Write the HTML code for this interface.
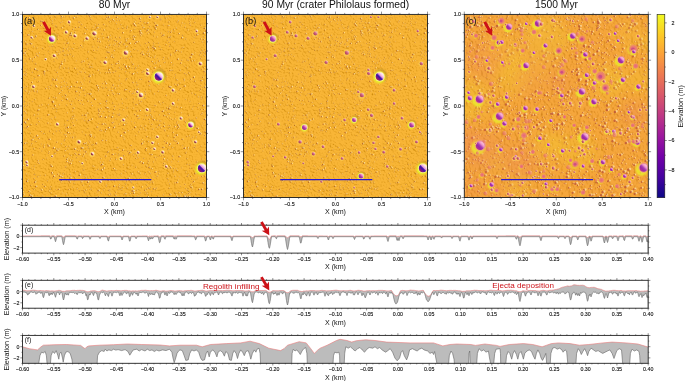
<!DOCTYPE html>
<html lang="en"><head><meta charset="utf-8"><title>Regolith evolution: 80 Myr, 90 Myr, 1500 Myr</title>
<style>html,body{margin:0;padding:0;background:#fff;overflow:hidden}svg{display:block}</style></head>
<body>
<svg width="685" height="381" viewBox="0 0 685 381" font-family='"Liberation Sans", Arial, Helvetica, sans-serif'>
<defs>
<linearGradient id="gA" x1=".12" y1=".88" x2=".88" y2=".12"><stop offset="0" stop-color="#a02a58"/><stop offset=".22" stop-color="#7a1488"/><stop offset=".42" stop-color="#3816a4"/><stop offset=".52" stop-color="#6a38c0"/><stop offset=".6" stop-color="#e094d4"/><stop offset=".78" stop-color="#fad0e8"/><stop offset="1" stop-color="#fff6f8"/></linearGradient>
<linearGradient id="gM" x1=".12" y1=".88" x2=".88" y2=".12"><stop offset="0" stop-color="#8a2050"/><stop offset=".25" stop-color="#8a1c88"/><stop offset=".42" stop-color="#a838a8"/><stop offset=".55" stop-color="#f0a0d0"/><stop offset=".75" stop-color="#fde0ec"/><stop offset="1" stop-color="#ffffff"/></linearGradient>
<linearGradient id="gS" x1=".12" y1=".88" x2=".88" y2=".12"><stop offset="0" stop-color="#7a2a28"/><stop offset=".4" stop-color="#a84858"/><stop offset=".56" stop-color="#f0b8a8"/><stop offset=".8" stop-color="#fff0e0"/><stop offset="1" stop-color="#fffbe8"/></linearGradient>
<linearGradient id="gB" x1=".12" y1=".88" x2=".88" y2=".12"><stop offset="0" stop-color="#8a2888"/><stop offset=".45" stop-color="#b040a8"/><stop offset=".7" stop-color="#f090c0"/><stop offset="1" stop-color="#ffd8e0"/></linearGradient>
<linearGradient id="gBs" x1=".12" y1=".88" x2=".88" y2=".12"><stop offset="0" stop-color="#a03a50"/><stop offset=".5" stop-color="#cc6080"/><stop offset="1" stop-color="#ffd8c8"/></linearGradient>
<linearGradient id="gP" x1=".12" y1=".88" x2=".88" y2=".12"><stop offset="0" stop-color="#c03888"/><stop offset=".3" stop-color="#9c2aa4"/><stop offset=".5" stop-color="#a63eb4"/><stop offset=".72" stop-color="#ec94cc"/><stop offset="1" stop-color="#fdd4dc"/></linearGradient>
<radialGradient id="gK2" cx=".5" cy=".5" r=".5"><stop offset="0" stop-color="#d060b0"/><stop offset=".62" stop-color="#e880b0" stop-opacity=".95"/><stop offset="1" stop-color="#f4a080" stop-opacity="0"/></radialGradient>
<linearGradient id="gCs" x1=".1" y1=".7" x2=".9" y2=".3"><stop offset="0" stop-color="#a83c50"/><stop offset=".5" stop-color="#d86878"/><stop offset="1" stop-color="#ffc8b0"/></linearGradient>
<linearGradient id="gCk" x1=".1" y1=".7" x2=".9" y2=".3"><stop offset="0" stop-color="#dc6a58"/><stop offset=".6" stop-color="#ee8a70"/><stop offset="1" stop-color="#f8b080"/></linearGradient>
<radialGradient id="gK" cx=".5" cy=".5" r=".5"><stop offset="0" stop-color="#e4647e"/><stop offset=".6" stop-color="#ec7c74" stop-opacity=".9"/><stop offset="1" stop-color="#f29a60" stop-opacity="0"/></radialGradient>
<radialGradient id="hY" cx=".5" cy=".5" r=".5"><stop offset="0" stop-color="#eef030"/><stop offset=".62" stop-color="#eaea2c" stop-opacity="1"/><stop offset="1" stop-color="#f4c030" stop-opacity="0"/></radialGradient>
<radialGradient id="hD" cx=".5" cy=".5" r=".5"><stop offset="0" stop-color="#b08a18"/><stop offset=".65" stop-color="#c09420" stop-opacity=".8"/><stop offset="1" stop-color="#d09c28" stop-opacity="0"/></radialGradient>
<radialGradient id="hL" cx=".5" cy=".5" r=".5"><stop offset="0" stop-color="#ffe070"/><stop offset=".6" stop-color="#ffd860" stop-opacity=".8"/><stop offset="1" stop-color="#ffd050" stop-opacity="0"/></radialGradient>
<linearGradient id="cb" x1="0" y1="0" x2="0" y2="1"><stop offset="0.000" stop-color="#f0f921"/><stop offset="0.111" stop-color="#fdca26"/><stop offset="0.222" stop-color="#fb9f3a"/><stop offset="0.333" stop-color="#ed7953"/><stop offset="0.444" stop-color="#d8576b"/><stop offset="0.556" stop-color="#bd3786"/><stop offset="0.667" stop-color="#9c179e"/><stop offset="0.778" stop-color="#7201a8"/><stop offset="0.889" stop-color="#46039f"/><stop offset="1.000" stop-color="#0d0887"/></linearGradient>
<clipPath id="cp0"><rect x="22.5" y="14.4" width="184.0" height="183.1"/></clipPath>
<clipPath id="cp1"><rect x="243.5" y="14.4" width="184.0" height="183.1"/></clipPath>
<clipPath id="cp2"><rect x="464.3" y="14.4" width="184.0" height="183.1"/></clipPath>
<clipPath id="cq0"><rect x="22.5" y="225.2" width="625.7" height="27.900000000000006"/></clipPath>
<clipPath id="cq1"><rect x="22.5" y="280.3" width="625.7" height="27.899999999999977"/></clipPath>
<clipPath id="cq2"><rect x="22.5" y="335.4" width="625.7" height="27.900000000000034"/></clipPath>
<filter id="bl" x="-5%" y="-5%" width="110%" height="110%"><feGaussianBlur stdDeviation=".6"/></filter>
<filter id="bl3" x="-5%" y="-5%" width="110%" height="110%"><feGaussianBlur stdDeviation=".28"/></filter>
<filter id="bl4" x="-5%" y="-5%" width="110%" height="110%"><feGaussianBlur stdDeviation=".55"/></filter>
<filter id="tx2" x="0" y="0" width="1" height="1" color-interpolation-filters="sRGB"><feTurbulence type="fractalNoise" baseFrequency=".4" numOctaves="3" seed="8" result="n"/><feDiffuseLighting in="n" surfaceScale="2" diffuseConstant="1.41" lighting-color="#fff" result="l"><feDistantLight azimuth="160" elevation="45"/></feDiffuseLighting><feComposite in="SourceGraphic" in2="l" operator="arithmetic" k1="0" k2="1" k3=".13" k4="-.13"/></filter>
<filter id="bl2" x="-5%" y="-5%" width="110%" height="110%"><feGaussianBlur stdDeviation="6"/></filter>
<filter id="tx" x="0" y="0" width="1" height="1" color-interpolation-filters="sRGB"><feTurbulence type="fractalNoise" baseFrequency=".95" numOctaves="2" seed="5" result="n"/><feDiffuseLighting in="n" surfaceScale="1.2" diffuseConstant="1.41" lighting-color="#fff" result="l"><feDistantLight azimuth="135" elevation="45"/></feDiffuseLighting><feComposite in="SourceGraphic" in2="l" operator="arithmetic" k1="0" k2="1" k3=".32" k4="-.32"/></filter>
</defs>
<rect width="685" height="381" fill="#fff"/>
<g clip-path="url(#cp0)">
<rect x="22.5" y="14.4" width="184.0" height="183.1" fill="#f9b634" filter="url(#tx)"/>
<g id="dA" fill="none" stroke-linecap="round" filter="url(#bl3)">
<path d="M143 127.6h0M25.5 111.5h0M57.7 58.8h0M199 170.2h0M203.1 87.4h0M57.8 149h0M83.2 68.8h0M182.2 47.9h0M133.8 91.9h0M132.5 68.3h0M149.9 121.8h0M151.7 191.5h0M81.4 198.2h0M103.8 168.6h0M147.5 51.6h0M130 72.5h0M203.4 97.6h0M28.5 174.9h0M168.4 17.8h0M66.4 40.2h0M168.4 181.1h0M194.3 147.2h0M27.9 163.2h0M167.7 40.2h0M115.3 125.7h0M72.3 101.4h0M136.4 184.6h0M88.1 128.3h0M156.4 62.1h0M190.4 192.5h0M148.9 49.1h0M117.4 119h0M204.9 184.9h0M97.3 50.2h0M69.9 88.2h0M58.7 83.4h0M31 185.5h0M106.6 51.8h0M157.8 58.2h0M101 129h0M122.4 27.6h0M40.6 175.3h0M150.4 66.4h0M184.8 66.1h0M205.1 83.4h0M130.2 181.6h0M111.5 55h0M99.4 183h0M80 71.5h0M88.9 140.7h0M175.4 134.6h0M126.5 98.6h0M83.7 166.5h0M176.7 123.4h0M64.4 43.2h0M83.7 90.1h0M138.1 50.7h0M128.3 167.2h0M123.5 28.3h0M115.2 87.3h0M127 180.5h0M77.8 74.1h0M88.3 122h0M184.7 23.5h0M182.7 145.5h0M153.5 50.5h0M68.9 162.1h0M74.1 115.2h0M187.8 196.1h0M193.7 106.3h0M118.5 189.4h0M55.8 42.2h0M71.1 161.2h0M168.4 58.1h0M54.3 61.2h0M62.5 192.9h0M100.8 28.4h0M62.4 78.2h0M73.2 17.7h0M164.5 109.9h0M95.2 58.2h0M50.5 123.9h0M156.2 136.9h0M62.4 21.8h0M65.9 130.7h0M101.4 86.5h0M34.3 88.7h0M82.6 60.9h0M70.9 137.2h0M190.1 21.3h0M200.1 166h0M45.9 25.9h0M41.5 144h0M145.9 56.8h0M194.5 196.3h0M154 36.1h0M44.8 75h0M49.7 46.5h0M44.9 73.9h0M90 62.1h0M55.1 19.2h0M189.3 73.5h0M55.3 33.8h0M87.2 93.6h0M115.6 118.8h0M74.2 132.8h0M181.9 167.7h0M136.3 180.2h0M145.7 93.6h0M108.5 38.1h0M187.9 189.1h0M61.3 82.4h0M95.3 150.8h0M157.2 157.1h0M196.5 179.1h0M200 90.4h0M31.2 90.9h0M31.8 168.1h0M160.6 104h0M97.5 192.1h0M33.2 154.8h0M161.2 121h0M203.7 183h0M145.3 115.2h0M42.1 150.9h0M76.6 60.8h0M165.4 62.1h0M41.5 118.3h0M34 136.9h0M99.5 103.7h0M180.7 186.3h0M198.8 18.7h0M84.4 78.1h0M168.1 113.7h0M34.7 182.6h0M106.2 82.8h0M72.9 187.1h0M56.7 78.3h0M79.2 48h0M37.7 55.3h0M196.4 194.2h0M163.1 88h0M108.3 47.9h0M179.7 176.6h0M171.7 161.7h0M34.6 137.1h0M204 128.9h0M118.9 104.1h0M109.9 190.8h0M163.7 24.8h0M198.4 177.8h0M31.3 145h0M32.8 101.5h0M171 91.6h0M87.6 154h0M88.7 113.2h0M91.6 135.2h0M68.7 47h0M130 31.8h0M181.4 25.8h0M26.6 142.6h0M26.8 69.7h0M131.6 121.5h0M48.6 51.4h0M191.5 138.4h0M154.7 105.1h0M91 75h0M131.7 182.6h0M162.7 147.2h0M174.6 41.5h0M92.8 30.2h0M140.5 45.2h0M121.3 83.4h0M58.3 76.1h0M122.4 187.2h0M152.8 181.4h0M46.9 158h0M85.2 14.5h0M205.1 131.6h0M146.8 192.4h0M180.3 82.8h0M28.2 44h0M174.4 77.7h0M88.5 198.2h0M111.6 38.6h0M186.5 152.1h0M61.1 132.7h0M44.5 31.9h0M89.8 82.2h0M202 125.7h0M68.9 72.3h0M92.3 35.8h0M140.1 178.4h0M73.9 148.5h0M58 36.4h0M168.5 125.3h0M182.4 120h0M174.6 31.3h0M22.9 115.1h0M120.8 121.3h0M195.2 52.7h0M190.1 101.5h0M82.8 118.6h0M196.1 168.4h0M92.9 46.8h0M155.9 159.8h0M132.2 165.1h0M64.6 25.9h0M126.7 67.8h0M92.2 64h0M77.3 69.1h0M28.1 102.8h0M119.4 18.7h0M173.4 172.2h0M91.8 188.8h0M73 138h0M205.2 71.8h0M82.4 131.9h0M176.5 168.5h0M90.4 132h0M147.9 115.2h0M39.2 121.4h0M41 188.9h0M154.7 111.3h0M27.8 143.1h0M203.4 122.7h0M65.6 55h0M174.9 112.3h0M35 68.6h0M184.7 79.4h0M136.1 135.4h0M74.5 116.1h0M150.4 91h0M61.1 15.1h0M48 70.2h0M198 107.4h0M127.6 89.4h0M107.1 25.9h0M37.3 92.5h0M131.5 62.1h0M60.7 52h0M155.3 55.7h0M124.4 57.7h0M60.1 49.9h0M137 85.1h0M53.2 177.8h0M112.4 67.3h0M197.5 151h0M204.5 17.2h0M173.3 65h0M26.4 44.7h0M73 122.4h0M116.5 47h0M141.5 33.3h0M68.4 157.8h0M46.3 107.7h0M44.5 55.1h0M56.7 26.8h0M110.3 189.3h0M55.5 107.1h0M75.9 136.9h0M87.5 121.2h0M69.3 36.1h0M84.3 80.9h0M98.7 123.4h0M24.1 153.1h0M146.8 31.3h0M55.3 70.2h0M75.5 35.3h0M119.2 153.8h0M40 148.3h0M94.4 166.5h0M102.2 113.6h0M133.4 102.2h0M30.4 68.4h0M94.9 14.7h0M168.9 109.2h0M55.9 189.5h0M116.3 98.9h0M71.8 48.6h0M160.3 124.8h0" stroke="#ffefb4" stroke-width="0.5" opacity="0.85"/>
<path d="M142.6 127.8h0M25 111.7h0M57.3 59h0M198.6 170.4h0M202.7 87.6h0M57.4 149.2h0M82.8 69h0M181.7 48.1h0M133.3 92h0M132 68.5h0M149.5 122h0M151.3 191.6h0M81 198.4h0M103.3 168.7h0M147.1 51.8h0M129.6 72.7h0M203 97.7h0M28.1 175.1h0M167.9 18h0M66 40.4h0M168 181.2h0M193.9 147.4h0M27.5 163.4h0M167.3 40.3h0M114.9 125.8h0M71.8 101.6h0M136 184.7h0M87.7 128.5h0M156 62.2h0M190 192.7h0M148.5 49.3h0M117 119.1h0M204.5 185h0M96.9 50.4h0M69.5 88.4h0M58.2 83.6h0M30.6 185.6h0M106.1 52h0M157.4 58.4h0M100.5 129.2h0M121.9 27.8h0M40.1 175.5h0M150 66.5h0M184.4 66.3h0M204.6 83.6h0M129.8 181.8h0M111.1 55.2h0M99 183.2h0M79.6 71.7h0M88.5 140.9h0M175 134.8h0M126.1 98.8h0M83.3 166.6h0M176.3 123.6h0M64 43.4h0M83.3 90.3h0M137.7 50.9h0M127.8 167.4h0M123.1 28.5h0M114.8 87.5h0M126.6 180.7h0M77.4 74.2h0M87.9 122.2h0M184.2 23.7h0M182.3 145.7h0M153 50.6h0M68.5 162.3h0M73.6 115.3h0M187.3 196.2h0M193.3 106.5h0M118.1 189.6h0M55.4 42.4h0M70.7 161.4h0M167.9 58.3h0M53.9 61.4h0M62.1 193.1h0M100.4 28.6h0M61.9 78.4h0M72.8 17.9h0M164.1 110h0M94.8 58.3h0M50 124h0M155.8 137.1h0M62 22h0M65.5 130.9h0M101 86.7h0M33.9 88.9h0M82.2 61.1h0M70.5 137.4h0M189.6 21.5h0M199.6 166.2h0M45.5 26.1h0M41.1 144.2h0M145.4 57h0M194 196.4h0M153.5 36.3h0M44.4 75.2h0M49.3 46.7h0M44.4 74h0M89.6 62.3h0M54.6 19.4h0M188.8 73.7h0M54.9 34h0M86.8 93.7h0M115.2 119h0M73.7 132.9h0M181.4 167.9h0M135.8 180.4h0M145.3 93.7h0M108.1 38.2h0M187.5 189.2h0M60.8 82.6h0M94.9 151h0M156.8 157.3h0M196.1 179.3h0M199.6 90.5h0M30.8 91.1h0M31.4 168.2h0M160.2 104.2h0M97.1 192.3h0M32.7 155h0M160.8 121.2h0M203.3 183.2h0M144.9 115.3h0M41.6 151.1h0M76.2 61h0M164.9 62.3h0M41.1 118.5h0M33.6 137.1h0M99.1 103.9h0M180.3 186.5h0M198.4 18.9h0M84 78.3h0M167.7 113.9h0M34.3 182.8h0M105.8 83h0M72.5 187.2h0M56.3 78.4h0M78.8 48.1h0M37.3 55.5h0M196 194.4h0M162.6 88.2h0M107.9 48.1h0M179.2 176.8h0M171.2 161.9h0M34.2 137.3h0M203.5 129.1h0M118.4 104.3h0M109.5 191h0M163.2 25h0M197.9 178h0M30.8 145.2h0M32.4 101.6h0M170.6 91.8h0M87.2 154.1h0M88.2 113.4h0M91.2 135.4h0M68.2 47.2h0M129.6 32h0M180.9 26h0M26.1 142.7h0M26.4 69.9h0M131.2 121.7h0M48.1 51.6h0M191.1 138.6h0M154.3 105.3h0M90.6 75.2h0M131.3 182.8h0M162.3 147.4h0M174.1 41.7h0M92.4 30.4h0M140.1 45.4h0M120.8 83.6h0M57.9 76.3h0M122 187.4h0M152.3 181.6h0M46.5 158.1h0M84.7 14.7h0M204.7 131.8h0M146.4 192.6h0M179.8 83h0M27.8 44.2h0M173.9 77.9h0M88 198.4h0M111.1 38.8h0M186.1 152.3h0M60.6 132.8h0M44 32.1h0M89.4 82.4h0M201.6 125.9h0M68.5 72.5h0M91.9 36h0M139.7 178.6h0M73.5 148.6h0M57.5 36.6h0M168 125.4h0M182 120.2h0M174.1 31.5h0M22.5 115.3h0M120.3 121.5h0M194.7 52.9h0M189.7 101.7h0M82.3 118.8h0M195.7 168.6h0M92.5 46.9h0M155.5 160h0M131.8 165.3h0M64.1 26.1h0M126.3 68h0M91.8 64.2h0M76.9 69.3h0M27.7 102.9h0M119 18.9h0M173 172.4h0M91.3 189h0M72.6 138.2h0M204.8 72h0M82 132.1h0M176.1 168.6h0M89.9 132.2h0M147.5 115.4h0M38.8 121.5h0M40.5 189.1h0M154.3 111.5h0M27.4 143.3h0M203 122.9h0M65.2 55.2h0M174.5 112.5h0M34.6 68.8h0M184.3 79.6h0M135.6 135.6h0M74.1 116.3h0M150 91.2h0M60.7 15.3h0M47.5 70.4h0M197.5 107.6h0M127.1 89.6h0M106.7 26.1h0M36.9 92.7h0M131.1 62.2h0M60.3 52.2h0M154.8 55.9h0M124 57.9h0M59.7 50.1h0M136.6 85.3h0M52.7 178h0M112 67.5h0M197.1 151.2h0M204.1 17.3h0M172.9 65.2h0M25.9 44.9h0M72.6 122.6h0M116.1 47.2h0M141 33.4h0M68 158h0M45.9 107.9h0M44 55.3h0M56.3 27h0M109.9 189.5h0M55.1 107.3h0M75.5 137.1h0M87 121.3h0M68.9 36.3h0M83.9 81.1h0M98.3 123.6h0M23.7 153.3h0M146.4 31.5h0M54.9 70.4h0M75.1 35.5h0M118.8 153.9h0M39.6 148.5h0M93.9 166.7h0M101.8 113.8h0M132.9 102.4h0M30 68.6h0M94.5 14.8h0M168.5 109.4h0M55.4 189.6h0M115.8 99.1h0M71.4 48.8h0M159.9 125h0" stroke="#a04c1c" stroke-width="0.5" opacity="0.75"/>
<path d="M108.5 107.7h0M56.8 108.5h0M168.6 31.6h0M118.3 132.1h0M144.6 98.5h0M153 72.3h0M96.4 170.1h0M61.3 181.8h0M138.6 157.5h0M162.2 36h0M55.5 117.2h0M141.2 35.7h0M39.3 121.5h0M133.4 82.7h0M199.3 103.3h0M189.9 164.8h0M29.9 191.4h0M155.3 27h0M125.7 171.1h0M74.3 183.1h0M25.8 63.8h0M33.9 46.7h0M128 38.5h0M186.7 194.7h0M188.5 174.6h0M168.2 173.2h0M137.8 84.6h0M134.8 29h0M94.3 149.5h0M160.8 19.8h0M69.8 16.4h0M189.4 135.7h0M186.9 74.4h0M191 176.3h0M153.6 189.1h0M53.9 97.2h0M62.2 90.4h0M153.1 119.3h0M138.6 96.4h0M148.7 51h0M55.6 16.3h0M154.1 47.3h0M86.4 142.6h0M135.8 153.4h0M169.4 188h0M86.9 29.5h0M124 155.6h0M169.9 46.1h0M149.6 188.3h0M197.4 30.1h0M125.8 71.6h0M178.3 180h0M179.3 192.5h0M128.2 51.3h0M201.1 109.2h0M170.2 117.9h0M149.9 26.4h0M110.4 72.7h0M166.1 18.5h0M64.6 140.7h0M157.3 36.9h0M68.9 50.7h0M103.1 83.4h0M120.1 43.7h0M138.9 131.8h0M188.8 72.4h0M186 38.9h0M26.1 51.2h0M115.8 153.8h0M42.3 21.2h0M34.2 189.4h0M163.5 74.4h0M117.6 93.4h0M138.6 88.7h0M165.9 164.2h0M163.9 155.1h0M155.7 27.3h0M109 16.2h0M140.3 129.1h0M196.6 136.9h0M144.2 119.1h0M94.5 198.3h0M68.9 180.9h0M116.2 192.2h0M109.6 45.4h0M100.2 111.2h0M90.1 66.9h0M77.2 16.9h0M36.3 180.9h0M110.6 193.4h0M133.9 35.5h0M119.9 37.2h0M145.6 98.1h0M187.1 158.6h0M126.7 123.1h0M161.3 49.2h0M30 25.5h0M147.2 115.6h0M91.4 102.4h0M137.5 155.8h0M192.2 93h0M38 118.1h0M36.8 53.5h0M88.6 147.9h0M44.4 144.8h0M103.3 162.1h0M187.4 60h0M90 81.1h0M94.1 50.2h0M117.7 114.4h0M188.2 29.9h0M49.3 151.5h0M118.7 155h0M85 192.4h0M153.1 182.7h0M199 132.1h0M153.4 161.9h0M60.3 92.5h0M201.2 25.2h0M55.8 25.8h0M42.7 48.3h0M66.1 146.3h0M63.9 48.3h0M54.5 153.7h0M123.6 164.6h0M197.1 161.8h0M119.8 109.2h0M204.9 135.3h0M24.7 101.3h0M169.4 145.5h0M51.7 43.2h0M70.5 174.2h0M139.9 197h0M174 29.5h0M154.6 32.2h0M109 190.1h0M174.8 52.6h0M92.1 144.9h0M205.2 161.4h0M136.1 67.7h0M122.1 69.2h0M94.9 137h0M59.5 148.9h0M48.7 31.6h0M153.1 47.4h0M101.4 108.4h0M163.9 165.4h0M168.1 135.8h0M26.2 75.2h0M142.5 33.9h0M188.9 115.2h0M83.3 185.2h0M47.7 180.6h0M125.9 117.4h0M75.8 179.4h0M144 70.9h0M158.5 84.5h0M170.6 17.3h0M108.9 40.6h0M127.6 46.2h0M71.3 118.8h0M140.9 21.2h0M49.4 190.8h0M109.3 90h0M180.1 89.6h0M126.9 180.9h0M188.4 149h0M161.1 70.4h0M35.6 37.2h0M150.6 111.1h0M79.1 87.1h0M145.2 173.7h0M168.6 37.1h0M197.7 14.4h0M187.5 164.3h0M28.5 179.6h0M109.7 52.3h0M192.5 179.3h0M176.9 79.5h0M59.9 130.7h0M150.8 186.8h0M37.3 55.4h0M131.3 56.4h0M193.3 137h0M103.8 111.5h0M31.1 124.6h0M75.2 153.3h0M107.7 152.4h0M125 133h0M143.9 158.4h0M166.2 44.7h0M167.5 159.9h0M112.8 55h0M114.6 20.8h0M114 94.3h0M189.7 119h0M80 22.1h0M137 111h0M34 89.9h0M48.8 86.6h0M65.1 60.9h0M135.2 21.6h0M142.3 25.1h0M150.6 173.3h0M185.8 99.4h0M123.8 44.5h0M62.2 100.4h0M105.1 197h0M181.5 51.9h0M36.1 141.5h0M154.3 63.7h0M51 186.6h0M26.5 73.6h0M38 176.7h0M80.2 92.3h0M47.8 144.3h0M64.3 68h0M202.3 69.1h0M93.3 74.7h0M74.2 43.5h0M110.2 44.9h0M66.9 31.4h0M100.5 42h0M27 86.3h0M113.9 122.1h0M86.6 178.4h0M164.7 129.7h0M98.4 90.8h0M175.4 176.2h0M116 71.1h0M202.5 41.9h0M64.8 139.5h0M22.9 114.4h0M66.8 105.1h0M123.6 129.2h0M175.7 192.6h0M86.5 177.4h0M137.2 104.6h0M121 57.9h0M82.6 47h0M105.9 156.4h0M32.6 61h0M69.1 146h0M175.2 118.7h0M170.2 37.3h0M99.9 130.5h0M122.6 103.2h0M75 86.3h0M163.6 194.8h0M194.5 60.5h0M126.9 40.7h0M73.2 56.2h0M34.6 178.5h0M37.2 47.9h0M95.6 24.9h0M143.6 128.9h0M44.6 28h0M161.4 71.3h0M168.5 149.6h0M96.7 144.1h0M190.2 18.6h0M64.6 85.8h0M143.6 163.5h0M140.1 79.4h0M84.3 150.8h0M159.6 114.8h0M115.2 88.5h0M121.6 189.5h0M42.7 196h0M199.9 54.7h0M152.6 47h0M147.3 188.7h0M50 131.1h0M141.3 53.3h0M186.1 171.8h0M176.9 141.2h0M145.2 91.5h0M65.1 124.8h0M117.6 20.2h0M105 123.5h0M194.2 42.2h0M205.4 150.1h0M158.3 196.3h0M68.9 162.8h0M121.4 173.6h0M124.9 159.1h0M169.3 42.2h0M41.2 21.1h0M204.6 52.3h0M184 148.2h0M85.3 72.3h0M195.9 126.5h0M158.2 80.6h0M97.9 41.2h0M100.9 165.2h0M86.5 143.8h0M75.5 171.5h0M106.5 186.1h0M159.5 124.9h0M34.5 91.4h0M103.9 189.9h0M150.6 138h0M69 91.7h0M173.8 170.7h0M39 81.2h0M155.8 137.4h0M139.2 100.6h0M108.3 72.4h0M35 99.3h0M53.5 133.7h0M87.4 112.9h0M43.2 159.5h0M116.1 37.2h0M46.6 30.5h0M76.8 157.4h0M98.9 24.3h0M105.9 117h0M51.3 192.8h0M153.9 43.1h0M28 34.6h0M83.3 104.2h0M185.9 188.4h0M114.9 180.6h0M77.8 150.3h0M90.4 93.3h0M88.7 93.5h0M119.9 115h0M63.7 32.5h0M80.6 103.4h0M131.9 191.1h0M132.8 82.2h0M134.8 122.8h0M32.5 31.4h0M72.5 160.7h0M181 88.3h0M175.7 74.7h0M173.6 159.3h0M158.4 91.2h0M92.3 96.7h0M125.8 184h0M45.5 175.1h0M28.5 93.8h0M146.8 185.1h0M130.5 51.5h0M52.9 78.6h0M118.5 85.8h0M177.8 80.2h0M111.1 194.7h0M151.1 57.3h0M157.1 120.1h0M34.6 166.1h0M154.6 93.9h0M106.6 103.9h0M161.3 33.1h0M127.3 115.8h0M63 51h0M156.5 63h0M26.5 113.1h0M112 64.5h0M65.7 97.6h0M156.9 187.9h0M126.9 78.5h0M118.7 28.5h0M56.7 111.2h0M126 39.1h0M175.4 141h0M202.2 167.6h0M164.5 62.5h0M119.6 76h0M55.1 41.9h0M110.9 158.5h0M66.6 134.7h0M56.7 57h0M83.5 147.9h0M163.2 59.3h0M99 196.4h0M92.6 67.1h0M25.3 106.1h0M58.3 39.2h0M119.7 113.7h0M115.4 43.8h0M201.7 98.9h0M178.4 99.9h0M61.7 17.9h0M169.9 106.1h0M78.7 21.9h0M136.6 82.3h0M137.5 72.6h0M185.4 121.2h0M122.1 99h0M116.4 195.5h0M54.2 147.4h0M86.6 117.2h0M192.5 108.9h0M23 105.7h0M128.4 130.6h0M39.3 105.8h0M140.7 192.8h0M69.6 180.4h0M112.9 103h0M177.5 106.9h0M172.6 70.1h0M192 18.5h0M85.9 160h0M190.4 185.9h0M203.5 174.6h0M127.5 187.9h0M113.3 85h0M150.5 109.2h0M73 48.7h0M149 187.7h0M193.3 182h0M165.2 75.6h0M181.5 112.8h0M159.7 60.3h0M129.6 58.7h0M35.6 23.9h0M119.8 188.9h0M99 89.1h0M188.8 60.5h0M206.2 111.4h0M141.9 144.2h0M102.3 33.9h0M103.3 37.8h0M128.2 151.2h0M142.3 139.6h0M36.2 86.2h0M112.3 122.5h0M203.7 36.4h0M63.4 173.6h0M105.3 81.6h0M106.2 72.3h0M202.4 158.9h0M146.2 150.6h0M156 189h0M145.9 94.3h0M64.4 156h0M70.5 127.2h0M96 197.1h0M190.7 25.3h0M173.9 168.4h0M160.1 120.8h0M152.5 117.6h0M73.3 118.6h0M113.9 45h0M187.1 136.3h0M134.2 99h0M175.2 84.3h0M84.7 175.9h0M110 72h0M172.3 119.2h0M204.3 55.4h0M85.5 95.3h0M175.1 182.7h0M64.4 81.3h0M34.3 169.1h0M87.8 195.5h0M82.1 100.3h0M126 79.8h0M68.5 68.1h0M25.8 71.4h0M109 108.5h0M186 153h0M144.1 141.7h0M98.8 86h0M109 111.6h0M167.8 178.5h0M169.3 128.4h0M106.4 87.4h0M176.5 28h0M201.4 114.3h0M79.8 172.9h0M25.2 41.6h0M140.5 34.6h0M108.2 179.9h0M62.7 96.5h0M84.8 120.6h0M26.1 54.8h0M84.2 190.5h0M41.4 131.5h0M56.7 131.1h0M194.9 22.3h0M93.2 165.9h0M154.3 48.4h0M200.9 58.4h0M57 57.9h0M146 129.8h0M113.3 85h0M126.7 58.3h0M28.9 49.2h0M29.6 35h0M57.9 34.9h0M127.3 107.8h0M110.1 21.6h0M186.1 122.4h0M93.3 144.6h0M159 173.6h0M49.2 88.6h0M138.4 65.8h0M134.4 49.5h0M180.5 195.9h0M90 142h0M179 50.8h0M23.1 74.7h0M154.5 57.1h0M100.2 72.8h0M80.3 150.8h0M200.7 51.6h0M52.6 20.8h0M56.5 148.7h0M40.9 20.9h0M174.5 140.1h0M140.8 19h0M120.6 37.8h0M147.3 193.7h0M165.2 130.7h0M24.7 102h0M133.4 108h0M33.6 38.5h0M76.1 98.1h0M111.8 87.5h0M96.3 28.9h0M50.5 41.7h0M133.5 154.8h0M147 53.6h0M42.9 21.1h0M60.8 22.6h0M192.7 188.8h0M169 21.8h0M181.9 60.1h0M162.5 76.2h0M150.9 148.2h0M174.9 105.6h0M152.1 124.3h0M201.2 89.1h0M91.6 89.8h0M141.8 79.2h0M178.6 161.4h0M178 85.3h0M169.7 183.8h0M69.6 154h0M184.3 79.2h0M59.9 67.8h0M140.3 162h0M106.1 124.5h0M29.2 91.8h0M171.4 30.9h0M40.7 31.3h0M51.5 196.8h0M145.9 43.4h0M79.7 95.1h0M185.4 27.1h0M164.3 123h0M98.7 110.1h0M107.9 61.6h0M42.4 39.6h0M204.4 168h0M87.7 58.6h0M155.2 157.1h0M106.8 100.4h0M31.1 85.5h0M28.7 28.9h0M81 82.1h0M25.5 155.1h0M158.3 70h0M54.2 196.7h0M170.8 36.6h0M104.2 168.7h0M116.6 23.6h0M67.9 148.9h0M98.6 114.8h0M146.9 76.1h0M184.5 80.6h0M167.3 116.7h0M86 152.5h0M156.3 138.3h0M120.9 120.8h0M161.2 127.7h0M189.9 23.4h0M112.7 149.6h0M185.3 15.6h0M119.9 20.5h0M194.7 37.1h0M84.1 89.8h0M64.8 59.3h0M141.1 125.9h0M177.4 22h0M201.5 146.1h0M160.2 155.5h0M72.7 110.9h0M201.4 53.2h0M34 148.7h0M187.2 196.6h0M107.8 52h0M23.4 87.5h0M64.5 55h0M150.7 182.3h0M26.6 173.9h0M157.4 127.2h0M85.2 27.4h0M107.4 17h0M140.3 173.1h0M137.7 195.6h0M107.8 179.4h0M24.8 74.2h0M205.3 87h0M149.8 32.2h0M95.5 37.2h0M100.6 161.9h0M202.6 50.3h0M64.4 16.9h0M187.5 67.9h0M119.2 63.2h0M34.8 78.6h0M51.8 118.6h0M93.6 27.1h0M70.5 54.4h0M134.5 73.1h0M173.4 105.6h0M119.6 184.5h0M83.4 156.2h0M98.8 111.1h0M75.6 177.8h0M164.6 81.8h0M52.8 23.3h0M137.2 190.1h0M28 105.1h0M90.5 189.3h0M32 143.5h0M191.3 184.2h0M88.3 51.8h0M121.1 24.6h0M23.4 116.2h0M63.9 50.9h0M38.2 162.1h0M110.5 35.3h0M48 38.9h0M148.2 163.1h0M171 54h0M33.1 154.9h0M204.3 67.6h0M185.1 184.3h0M136.3 26h0M127.5 26.3h0M158.8 171.3h0M124.6 43.7h0M177.3 121.9h0M139.1 23.1h0M51.1 17.1h0M160.3 65.8h0M76 154.1h0M86.4 189.8h0M70.1 133.3h0M43.6 21.6h0M48.9 153.2h0M176.4 194.7h0M194.9 128.8h0M82.4 84.1h0M123.4 109.6h0M124.5 139.1h0M76.7 120h0M38.4 56.2h0M119.1 45.9h0M133.2 129.2h0M135.5 68.7h0M130.5 193.6h0M123.7 155.6h0M136.1 158.3h0M159.3 125.4h0M123.7 137h0M101.5 192.8h0M53.4 108.4h0M153.8 45.6h0M105.3 131.6h0M52.9 79.8h0M182.8 35.3h0M133 64.2h0M182.4 22.8h0M65.4 94.8h0M133.5 64h0M66.4 194h0M103.1 140.1h0M103.5 88.1h0M119 115.1h0M32.6 72.3h0M131.5 181.8h0M66.9 82.8h0M43 184.3h0M67.2 48.8h0M84.1 197.6h0M38.2 114.1h0M71.2 155.4h0M137.2 96.2h0M106 155.7h0M96.3 37.1h0M192.3 140.9h0M119.4 79.9h0M165 15.5h0M69.4 88.5h0M101 158.5h0M42.1 104.8h0M77.6 188.7h0M158.7 43h0M163.9 57.4h0M170 125.4h0M119.3 124h0M139.8 118h0M98.4 169.2h0M164.9 141.2h0M68.4 33.1h0M68.4 127h0M134.5 93.3h0M81.4 72h0M201.6 96.8h0M99.7 116.8h0M89.7 16.2h0M70 25.1h0M130.6 145.5h0M195.2 147.2h0M183.5 47.4h0M138.4 171.5h0M69.8 100.9h0M119.4 150h0M188.8 126.2h0M75.4 179.7h0M51.4 85.2h0M87.9 145.3h0M89.8 74.6h0M139.2 41.4h0M66 127.8h0M198.6 96.9h0M79.8 190.5h0M67.5 112.7h0M195.8 29h0M48.5 104.6h0M167.2 107.4h0M140.9 95.8h0M163.1 102.5h0M166.5 110.1h0M122.9 187.4h0M148.2 33.6h0M135.2 89.5h0M85.9 134.8h0M112.9 93h0M200.9 85.6h0M161.6 19h0M136 104.5h0M98.5 47.2h0M136 167.1h0M30.4 133.1h0M69.1 189.4h0M106.8 184.9h0" stroke="#ffefb4" stroke-width="0.75" opacity="0.85"/>
<path d="M107.9 108h0M56.2 108.7h0M168.2 31.8h0M117.8 132.3h0M144.2 98.6h0M152.5 72.5h0M95.9 170.3h0M60.8 182h0M138.1 157.7h0M161.7 36.2h0M54.9 117.4h0M140.7 35.9h0M38.9 121.7h0M132.9 82.9h0M198.7 103.5h0M189.4 165h0M29.4 191.6h0M154.8 27.2h0M125.1 171.4h0M73.8 183.3h0M25.3 64h0M33.4 46.9h0M127.5 38.7h0M186.1 194.9h0M188 174.8h0M167.7 173.4h0M137.2 84.9h0M134.2 29.3h0M93.7 149.8h0M160.2 20h0M69.3 16.6h0M188.9 135.9h0M186.3 74.7h0M190.5 176.5h0M153.1 189.3h0M53.4 97.4h0M61.6 90.7h0M152.6 119.5h0M138 96.7h0M148.2 51.2h0M55.1 16.5h0M153.7 47.5h0M85.8 142.8h0M135.3 153.6h0M168.8 188.3h0M86.4 29.7h0M123.5 155.9h0M169.4 46.3h0M149.1 188.5h0M196.9 30.3h0M125.3 71.9h0M177.8 180.2h0M178.8 192.7h0M127.7 51.5h0M200.6 109.5h0M169.6 118.1h0M149.4 26.6h0M110 72.9h0M165.7 18.7h0M64.1 140.9h0M156.7 37.1h0M68.3 50.9h0M102.6 83.6h0M119.7 43.9h0M138.4 132h0M188.4 72.6h0M185.6 39.1h0M25.5 51.5h0M115.3 154h0M41.8 21.4h0M33.6 189.6h0M162.9 74.6h0M117 93.7h0M138 89h0M165.4 164.4h0M163.4 155.3h0M155.2 27.5h0M108.5 16.5h0M139.8 129.3h0M196.1 137.1h0M143.6 119.3h0M93.9 198.5h0M68.4 181.2h0M115.7 192.5h0M109 45.6h0M99.6 111.4h0M89.5 67.1h0M76.7 17.1h0M35.8 181.1h0M110.1 193.6h0M133.3 35.7h0M119.4 37.4h0M145.2 98.3h0M186.5 158.8h0M126.1 123.4h0M160.9 49.4h0M29.5 25.7h0M146.6 115.8h0M90.9 102.5h0M137 155.9h0M191.7 93.2h0M37.5 118.3h0M36.2 53.8h0M88.1 148.1h0M43.8 145h0M102.9 162.3h0M186.9 60.2h0M89.5 81.4h0M93.5 50.4h0M117.1 114.6h0M187.6 30.1h0M48.7 151.8h0M118.2 155.2h0M84.3 192.7h0M152.5 182.9h0M198.5 132.3h0M152.9 162.1h0M59.9 92.7h0M200.7 25.4h0M55.3 26h0M42.3 48.5h0M65.5 146.5h0M63.5 48.5h0M54 153.9h0M123.1 164.9h0M196.6 162h0M119.3 109.4h0M204.5 135.5h0M24.3 101.5h0M168.8 145.8h0M51.2 43.4h0M70 174.5h0M139.5 197.2h0M173.5 29.7h0M154.1 32.4h0M108.4 190.3h0M174.3 52.9h0M91.7 145.1h0M204.7 161.6h0M135.6 67.9h0M121.6 69.4h0M94.4 137.2h0M59 149.1h0M48.1 31.9h0M152.6 47.6h0M100.8 108.7h0M163.4 165.6h0M167.5 136h0M25.7 75.4h0M142 34.1h0M188.4 115.4h0M82.8 185.4h0M47.2 180.9h0M125.4 117.6h0M75.4 179.5h0M143.3 71.1h0M157.9 84.7h0M170.2 17.5h0M108.4 40.8h0M127 46.5h0M70.8 119h0M140.3 21.5h0M48.8 191h0M108.7 90.2h0M179.6 89.8h0M126.4 181.1h0M187.8 149.2h0M160.6 70.6h0M35.1 37.4h0M150.1 111.3h0M78.6 87.3h0M144.7 173.9h0M168 37.3h0M197.2 14.6h0M187 164.5h0M28 179.8h0M109.2 52.5h0M192 179.5h0M176.4 79.7h0M59.4 130.9h0M150.3 187.1h0M36.8 55.6h0M130.8 56.6h0M192.8 137.2h0M103.2 111.7h0M30.6 124.8h0M74.7 153.5h0M107.2 152.6h0M124.6 133.2h0M143.3 158.6h0M165.7 44.9h0M167 160.1h0M112.2 55.2h0M114 21h0M113.5 94.5h0M189.2 119.2h0M79.5 22.3h0M136.6 111.2h0M33.5 90.1h0M48.3 86.8h0M64.5 61.1h0M134.7 21.8h0M141.8 25.3h0M150 173.6h0M185.3 99.6h0M123.4 44.6h0M61.7 100.6h0M104.5 197.3h0M181 52.1h0M35.6 141.7h0M153.9 63.9h0M50.5 186.8h0M26 73.8h0M37.6 176.9h0M79.7 92.5h0M47.3 144.5h0M63.8 68.2h0M201.7 69.4h0M92.8 74.9h0M73.7 43.7h0M109.6 45.2h0M66.4 31.6h0M99.9 42.3h0M26.5 86.5h0M113.4 122.3h0M86.1 178.6h0M164.2 130h0M97.9 91h0M174.9 176.4h0M115.6 71.3h0M202 42.1h0M64.3 139.6h0M22.4 114.6h0M66.2 105.4h0M123.1 129.4h0M175.2 192.8h0M86 177.6h0M136.6 104.8h0M120.5 58.1h0M82 47.2h0M105.3 156.6h0M32.1 61.2h0M68.6 146.2h0M174.7 118.9h0M169.7 37.5h0M99.4 130.7h0M122.1 103.4h0M74.4 86.6h0M163.1 195h0M194 60.8h0M126.3 41h0M72.7 56.4h0M34.1 178.7h0M36.7 48.1h0M95.1 25.1h0M143.1 129.1h0M44.1 28.2h0M160.9 71.6h0M168 149.8h0M96.3 144.3h0M189.6 18.8h0M64.1 86h0M143.1 163.7h0M139.7 79.6h0M83.9 151h0M158.9 115h0M114.7 88.7h0M121.1 189.7h0M42.2 196.2h0M199.4 54.9h0M152.2 47.2h0M146.9 188.9h0M49.5 131.3h0M140.7 53.6h0M185.5 172.1h0M176.3 141.4h0M144.7 91.7h0M64.5 125h0M117 20.4h0M104.4 123.7h0M193.7 42.5h0M204.9 150.3h0M157.8 196.6h0M68.4 163h0M121 173.8h0M124.4 159.3h0M168.9 42.4h0M40.7 21.3h0M204 52.6h0M183.6 148.4h0M84.7 72.5h0M195.4 126.7h0M157.7 80.8h0M97.3 41.4h0M100.4 165.4h0M86 144h0M74.9 171.8h0M106 186.3h0M159 125.1h0M34.1 91.6h0M103.4 190.1h0M150.1 138.2h0M68.6 91.9h0M173.2 171h0M38.5 81.4h0M155.3 137.6h0M138.7 100.8h0M107.7 72.7h0M34.5 99.6h0M52.9 133.9h0M86.8 113.1h0M42.7 159.7h0M115.6 37.4h0M46.1 30.8h0M76.4 157.6h0M98.4 24.5h0M105.4 117.2h0M50.7 193.1h0M153.3 43.3h0M27.5 34.8h0M82.7 104.5h0M185.4 188.7h0M114.4 180.8h0M77.3 150.5h0M89.9 93.5h0M88.2 93.7h0M119.4 115.3h0M63.2 32.8h0M80.1 103.6h0M131.4 191.3h0M132.3 82.4h0M134.4 123h0M32 31.6h0M71.9 160.9h0M180.5 88.5h0M175.3 74.9h0M173 159.6h0M157.8 91.5h0M91.8 96.9h0M125.4 184.2h0M44.9 175.3h0M28 94h0M146.3 185.3h0M130 51.7h0M52.4 78.9h0M117.9 86h0M177.2 80.4h0M110.7 194.9h0M150.6 57.5h0M156.7 120.3h0M34.1 166.3h0M154 94.1h0M106.1 104.1h0M160.8 33.3h0M126.8 116h0M62.4 51.2h0M156 63.2h0M26 113.3h0M111.5 64.7h0M65.2 97.8h0M156.4 188.1h0M126.4 78.7h0M118.1 28.7h0M56.2 111.4h0M125.6 39.3h0M174.9 141.2h0M201.7 167.8h0M163.9 62.8h0M119 76.2h0M54.6 42.1h0M110.4 158.7h0M66.1 134.9h0M56.2 57.2h0M82.8 148.2h0M162.8 59.5h0M98.5 196.6h0M92 67.3h0M24.8 106.3h0M57.6 39.5h0M119.2 113.9h0M115 44h0M201.2 99.1h0M177.9 100.1h0M61.2 18.1h0M169.2 106.4h0M78.3 22.1h0M136.1 82.5h0M137.1 72.8h0M184.9 121.4h0M121.6 99.2h0M115.9 195.7h0M53.7 147.6h0M86.1 117.4h0M192 109.1h0M22.6 105.9h0M127.9 130.8h0M38.8 106.1h0M140.3 193h0M69.1 180.6h0M112.4 103.2h0M177 107.1h0M172.2 70.3h0M191.4 18.7h0M85.3 160.2h0M189.8 186.1h0M203 174.8h0M126.9 188.1h0M112.8 85.2h0M150 109.4h0M72.4 49h0M148.5 187.9h0M192.9 182.2h0M164.7 75.8h0M180.9 113h0M159.3 60.5h0M129.1 58.9h0M35.1 24.1h0M119.2 189.1h0M98.5 89.3h0M188.3 60.7h0M205.8 111.6h0M141.4 144.4h0M101.8 34.1h0M102.8 38h0M127.7 151.4h0M141.7 139.9h0M35.6 86.5h0M111.8 122.7h0M203.3 36.6h0M62.9 173.8h0M104.7 81.8h0M105.6 72.6h0M201.9 159.1h0M145.8 150.8h0M155.4 189.3h0M145.3 94.6h0M63.8 156.3h0M70 127.4h0M95.6 197.3h0M190.2 25.5h0M173.4 168.6h0M159.7 121h0M152 117.8h0M72.7 118.9h0M113.3 45.3h0M186.7 136.5h0M133.7 99.2h0M174.7 84.4h0M84.3 176.1h0M109.4 72.2h0M171.7 119.4h0M203.9 55.6h0M85 95.5h0M174.5 183h0M63.9 81.5h0M33.8 169.3h0M87.2 195.7h0M81.6 100.5h0M125.5 80h0M68.1 68.3h0M25.2 71.6h0M108.6 108.7h0M185.4 153.3h0M143.6 141.9h0M98.3 86.3h0M108.4 111.8h0M167.4 178.7h0M168.8 128.6h0M105.9 87.6h0M176 28.2h0M200.9 114.5h0M79.2 173.1h0M24.7 41.8h0M139.9 34.9h0M107.6 180.2h0M62.1 96.8h0M84.2 120.8h0M25.5 55h0M83.7 190.8h0M40.9 131.7h0M56.1 131.4h0M194.3 22.6h0M92.7 166h0M153.8 48.6h0M200.4 58.6h0M56.6 58.1h0M145.5 130h0M112.8 85.2h0M126.2 58.4h0M28.4 49.4h0M29.1 35.2h0M57.4 35.1h0M126.8 108h0M109.5 21.8h0M185.6 122.6h0M92.8 144.8h0M158.5 173.8h0M48.7 88.8h0M138 66h0M133.9 49.7h0M180 196.1h0M89.5 142.1h0M178.5 51.1h0M22.6 74.9h0M154 57.3h0M99.7 73h0M79.8 151h0M200.1 51.9h0M52.1 21h0M55.9 149h0M40.3 21.1h0M173.9 140.3h0M140.3 19.2h0M120 38.1h0M146.9 193.9h0M164.7 131h0M24.2 102.2h0M132.9 108.3h0M33 38.7h0M75.6 98.4h0M111.3 87.7h0M95.7 29.1h0M50 41.9h0M133 155h0M146.5 53.9h0M42.3 21.4h0M60.2 22.8h0M192.1 189.1h0M168.5 22h0M181.4 60.3h0M162 76.5h0M150.4 148.4h0M174.3 105.8h0M151.5 124.5h0M200.6 89.4h0M91.1 90h0M141.4 79.4h0M178 161.7h0M177.4 85.6h0M169.2 184h0M69.1 154.2h0M183.7 79.4h0M59.3 68h0M139.8 162.2h0M105.7 124.7h0M28.7 92h0M170.9 31.1h0M40.1 31.5h0M51 197h0M145.4 43.6h0M79.2 95.3h0M184.9 27.3h0M163.6 123.2h0M98.3 110.3h0M107.3 61.9h0M41.9 39.8h0M203.9 168.2h0M87.1 58.9h0M154.7 157.3h0M106.3 100.6h0M30.6 85.7h0M28.2 29.1h0M80.5 82.3h0M25.1 155.3h0M157.8 70.2h0M53.8 196.9h0M170.3 36.8h0M103.5 168.9h0M116.1 23.8h0M67.4 149.1h0M98.1 115h0M146.3 76.3h0M184 80.8h0M166.7 116.9h0M85.5 152.7h0M155.8 138.5h0M120.4 121.1h0M160.6 127.9h0M189.4 23.6h0M112.3 149.8h0M184.8 15.8h0M119.4 20.7h0M194.2 37.3h0M83.6 90h0M64.3 59.5h0M140.6 126.1h0M177 22.2h0M201 146.4h0M159.6 155.7h0M72.1 111.2h0M200.9 53.4h0M33.5 148.9h0M186.7 196.8h0M107.3 52.2h0M23 87.7h0M64 55.3h0M150.1 182.5h0M26 174.2h0M156.9 127.4h0M84.6 27.7h0M106.8 17.2h0M139.7 173.3h0M137.2 195.8h0M107.3 179.6h0M24.3 74.5h0M204.9 87.2h0M149.4 32.4h0M94.9 37.4h0M100.1 162.1h0M202.1 50.5h0M63.9 17.1h0M187 68.2h0M118.6 63.5h0M34.3 78.8h0M51.2 118.9h0M93 27.4h0M70 54.6h0M133.9 73.4h0M172.9 105.8h0M119 184.8h0M82.8 156.5h0M98.4 111.2h0M75.1 178.1h0M164.2 82h0M52.3 23.6h0M136.7 190.3h0M27.5 105.3h0M90 189.5h0M31.5 143.7h0M190.7 184.4h0M87.8 52h0M120.6 24.8h0M22.9 116.5h0M63.4 51.1h0M37.6 162.4h0M109.9 35.6h0M47.4 39.1h0M147.7 163.3h0M170.5 54.2h0M32.6 155.1h0M203.7 67.8h0M184.7 184.5h0M135.7 26.2h0M127 26.6h0M158.3 171.6h0M124.1 43.9h0M176.7 122.1h0M138.7 23.3h0M50.5 17.3h0M159.7 66h0M75.5 154.3h0M85.8 190.1h0M69.6 133.5h0M43.1 21.8h0M48.4 153.4h0M175.8 194.9h0M194.3 129.1h0M81.8 84.3h0M122.9 109.8h0M124 139.3h0M76.2 120.3h0M38 56.4h0M118.5 46.2h0M132.7 129.4h0M134.9 68.9h0M129.9 193.9h0M123.3 155.8h0M135.6 158.5h0M158.7 125.7h0M123.1 137.3h0M101 193h0M52.9 108.6h0M153.3 45.8h0M104.7 131.8h0M52.4 80h0M182.3 35.5h0M132.4 64.4h0M181.8 23.1h0M64.9 95h0M132.9 64.3h0M65.9 194.3h0M102.6 140.3h0M102.9 88.3h0M118.4 115.3h0M32.1 72.5h0M130.9 182h0M66.4 83h0M42.5 184.6h0M66.6 49h0M83.6 197.8h0M37.8 114.3h0M70.7 155.7h0M136.7 96.4h0M105.5 155.9h0M95.7 37.4h0M191.9 141.1h0M118.9 80.1h0M164.4 15.7h0M68.9 88.7h0M100.5 158.7h0M41.6 105h0M77.1 189h0M158.2 43.2h0M163.4 57.6h0M169.5 125.6h0M118.7 124.2h0M139.2 118.3h0M97.9 169.4h0M164.3 141.5h0M67.8 33.4h0M67.9 127.2h0M134 93.5h0M80.9 72.2h0M201 97.1h0M99.1 117h0M89.3 16.4h0M69.4 25.3h0M130.1 145.7h0M194.6 147.5h0M183 47.6h0M137.8 171.8h0M69.3 101.1h0M118.9 150.2h0M188.2 126.5h0M74.9 179.9h0M50.9 85.4h0M87.3 145.5h0M89.3 74.9h0M138.5 41.7h0M65.5 128.1h0M198.1 97.1h0M79.3 190.7h0M66.9 113h0M195.3 29.2h0M48 104.8h0M166.7 107.7h0M140.3 96.1h0M162.6 102.7h0M166.1 110.3h0M122.4 187.7h0M147.7 33.8h0M134.6 89.8h0M85.4 135h0M112.3 93.3h0M200.4 85.8h0M161.1 19.2h0M135.5 104.7h0M98 47.4h0M135.4 167.4h0M29.8 133.3h0M68.5 189.6h0M106.2 185.2h0" stroke="#a04c1c" stroke-width="0.75" opacity="0.75"/>
<path d="M39.5 163.2h0M108.3 95.3h0M206.5 197.4h0M76 27.2h0M41.5 25.3h0M62.1 61.8h0M152.5 61.5h0M139.9 103h0M158.5 143.7h0M191.2 79h0M205.6 176.1h0M111.3 56.6h0M59.4 93.5h0M113.8 72.3h0M106.6 18.8h0M142.7 52h0M173.4 132.3h0M202.7 113h0M117.9 147.4h0M119.7 67.7h0M65.7 150.5h0M176 91.8h0M46 88.4h0M56.9 51.8h0M56.2 97.8h0M115.7 195.1h0M70.4 181.9h0M187.8 176.2h0M27 127.5h0M206 131.6h0M36.9 124.2h0M126 66.4h0M30.7 43.1h0M94.6 179.4h0M119.1 186.7h0M109.1 194.3h0M130 91.4h0M88.9 64.2h0M86.1 151.3h0M36.6 36.3h0M101 61.7h0M82.7 115.2h0M149 69.2h0M37.9 70.2h0M169.6 113.7h0M126.4 46.7h0M200.7 134.1h0M34.6 114.9h0M38.3 29.3h0M68 54.8h0M113.7 113.1h0M100.2 41.2h0M44 133.5h0M121.2 42h0M180.6 70.1h0M119.6 43.2h0M79.1 100.2h0M196.7 117.8h0M116.6 159.3h0M135.4 43.4h0M114.9 40.3h0M204.4 109.2h0M67.8 120.3h0M190.2 196.8h0M133.6 36.8h0M149.7 153.7h0M112.3 197.2h0M81.8 24.3h0M171 55.1h0M66.2 136.5h0M115.9 169.8h0M66.2 95.3h0M131.2 30.5h0M149.9 167.1h0M49.4 98h0M206.1 154.7h0M178 84.4h0M60.5 65.8h0M138.9 118.4h0M191.9 54h0M151.9 116.1h0M154.5 142.2h0M90.8 66.8h0M169.4 86.4h0M84.3 153.9h0M153 128.9h0M201.4 38.9h0M79.8 161.5h0M150.6 114.7h0M112 90.5h0M104.4 167.7h0M24.9 111.3h0M170.6 166.5h0M184.9 73.3h0M113.3 57.3h0M142.4 186.8h0M34.8 174.4h0M74.1 125.2h0M56.1 37.8h0M58.9 197.3h0M205.5 86.9h0M159.4 60.9h0M51.1 164.9h0M114.4 109.2h0M166.6 95.3h0M44.5 73.1h0M36 35.6h0M99.2 112.9h0M149.7 85.6h0M178.7 20.7h0M50.7 189.2h0M171.1 32.2h0M135.1 36.5h0M135 114.3h0M195.2 81h0M148.9 171.6h0M114.6 50.6h0M112.9 122.9h0M129.6 153.6h0M23 26.7h0M94.1 39.2h0M166.8 76.5h0M159.3 101.8h0M127.5 68.4h0M52.8 46.1h0M75.1 32.1h0M104.3 29.8h0M66 166.8h0M59 53.8h0M148.9 161h0M57.1 142h0M27.1 43.9h0M64.9 134.5h0M102.5 140.4h0M124.3 64.4h0M156.6 73h0M35.9 63.8h0M70.2 159.9h0M98.5 70.1h0M203.1 77.1h0M25.9 90.8h0M131.5 145.3h0M204.5 39.4h0M78.1 141.6h0M38.6 160.4h0M71.5 104.3h0M61.7 143.7h0M54.4 79.6h0M155 22.9h0M73 137h0M58.1 174.1h0M148.6 141.5h0M195.7 94.4h0M62.3 27.6h0M172.7 147.5h0M33.4 20.5h0M82 62h0M114.9 106.2h0M178.1 128.3h0M75.2 68.1h0M149 42.2h0M148.4 196.5h0M84.5 40.7h0M109.4 180h0M81.2 45.3h0M187.9 190.3h0M141.7 101.3h0M98.9 109.1h0M149.6 119.1h0M126.7 65.7h0M83.9 169.8h0M55.7 153.3h0M106.6 140.4h0M48.1 122.9h0M57.6 72.3h0M88.2 101h0M126.4 40.8h0M157.8 176h0M73.4 29.2h0M194.3 181.2h0M39.5 52.8h0M177.7 170.4h0M127.1 27.9h0M147.1 136.6h0M188.5 147.4h0M145.8 125.8h0M89.7 15.1h0M172.9 156h0M132.3 173.7h0M33 38.3h0M177.4 196.3h0M192.4 60.8h0M44.3 146.9h0M23.1 191.5h0M149.3 167.5h0M171.6 62.5h0M67.8 86.6h0M154.3 188.7h0M141.3 161.6h0M190.7 167.9h0M182.3 192.5h0M37.6 91h0M104 24.4h0M67.4 32.7h0M89.8 185.8h0M106.4 47h0M149.5 53.9h0M91.4 93.8h0M26 123.1h0M39.5 138.5h0M109.6 116h0M110 160.6h0M84.5 61.1h0M59.7 104.7h0M149.3 56.1h0M152.2 168.5h0M117 41.3h0M132.7 93.5h0M90.5 16.6h0M144.8 22.6h0M35.3 57.1h0M184.9 195.6h0M101.8 130.6h0M164.1 163.1h0M142.8 72h0M189 193.2h0M146.8 165.8h0M92.6 105.5h0M108.8 52.1h0M148.5 47.1h0M96.5 31.4h0M202.1 176.1h0M100.7 103.5h0M155.9 105.4h0M91.7 19.3h0M206.8 114.4h0M33 58.9h0M135 149.3h0M72.8 116.7h0M181.3 107.5h0M108.6 151.7h0M79.5 27.1h0M159.8 46.5h0" stroke="#ffefb4" stroke-width="1.0" opacity="0.85"/>
<path d="M38.9 163.5h0M107.5 95.6h0M205.7 197.8h0M75.3 27.5h0M40.7 25.6h0M61.4 62.1h0M151.8 61.8h0M139.2 103.3h0M157.8 144h0M190.5 79.3h0M204.9 176.4h0M110.7 56.9h0M58.7 93.8h0M113 72.6h0M105.8 19.1h0M142 52.2h0M172.7 132.6h0M202 113.4h0M117.1 147.7h0M119.1 67.9h0M64.9 150.9h0M175.3 92.1h0M45.4 88.6h0M56.1 52.1h0M55.5 98.1h0M114.9 195.4h0M69.7 182.2h0M187.1 176.4h0M26.4 127.8h0M205.2 132h0M36.2 124.5h0M125.3 66.7h0M30 43.4h0M93.9 179.7h0M118.5 187h0M108.3 194.7h0M129.3 91.7h0M88.3 64.5h0M85.3 151.6h0M35.8 36.6h0M100.2 62h0M82 115.5h0M148.2 69.5h0M37.2 70.4h0M168.8 114h0M125.7 47h0M199.9 134.4h0M33.9 115.2h0M37.6 29.6h0M67.3 55.1h0M113 113.4h0M99.5 41.4h0M43.3 133.8h0M120.5 42.3h0M179.9 70.4h0M118.8 43.6h0M78.4 100.5h0M196.1 118.1h0M115.8 159.7h0M134.7 43.7h0M114.3 40.6h0M203.7 109.5h0M67.2 120.6h0M189.4 197.1h0M132.8 37.1h0M149 154h0M111.5 197.6h0M81.2 24.6h0M170.3 55.3h0M65.5 136.8h0M115.2 170.1h0M65.4 95.6h0M130.4 30.8h0M149.2 167.4h0M48.8 98.3h0M205.5 155h0M177.3 84.7h0M59.9 66.1h0M138.1 118.7h0M191.3 54.3h0M151.2 116.3h0M153.9 142.5h0M90.2 67.1h0M168.7 86.7h0M83.5 154.3h0M152.2 129.2h0M200.7 39.1h0M79 161.9h0M149.8 115h0M111.2 90.8h0M103.7 167.9h0M24.2 111.6h0M169.9 166.8h0M184.2 73.6h0M112.5 57.6h0M141.6 187.1h0M34.1 174.6h0M73.4 125.5h0M55.4 38.1h0M58.3 197.6h0M204.7 87.3h0M158.7 61.2h0M50.5 165.1h0M113.7 109.5h0M165.9 95.6h0M43.9 73.4h0M35.3 35.9h0M98.4 113.3h0M149 85.9h0M178.1 21h0M50 189.5h0M170.4 32.5h0M134.4 36.8h0M134.3 114.6h0M194.5 81.3h0M148.2 171.9h0M114 50.9h0M112.3 123.2h0M128.9 153.9h0M22.3 27h0M93.4 39.5h0M166.1 76.8h0M158.6 102.1h0M126.7 68.7h0M52.1 46.4h0M74.4 32.4h0M103.6 30.1h0M65.3 167.1h0M58.3 54.2h0M148.2 161.3h0M56.4 142.3h0M26.3 44.2h0M64.2 134.8h0M101.8 140.7h0M123.6 64.7h0M155.9 73.3h0M35.3 64.1h0M69.5 160.1h0M97.8 70.4h0M202.5 77.4h0M25.2 91.1h0M130.8 145.6h0M203.8 39.7h0M77.5 141.8h0M37.9 160.6h0M70.8 104.5h0M61.1 144h0M53.7 79.9h0M154.4 23.2h0M72.4 137.3h0M57.3 174.4h0M148 141.8h0M195 94.7h0M61.6 27.9h0M172 147.8h0M32.7 20.8h0M81.2 62.3h0M114.2 106.5h0M177.5 128.6h0M74.5 68.4h0M148.3 42.5h0M147.6 196.8h0M83.8 41h0M108.6 180.3h0M80.6 45.5h0M187.2 190.5h0M141 101.6h0M98.3 109.4h0M148.9 119.4h0M126 66h0M83.2 170.1h0M54.9 153.7h0M105.9 140.6h0M47.3 123.2h0M56.9 72.6h0M87.5 101.3h0M125.8 41.1h0M157.1 176.3h0M72.8 29.4h0M193.5 181.5h0M38.9 53.1h0M176.9 170.7h0M126.4 28.2h0M146.5 136.9h0M187.7 147.7h0M145 126.1h0M89 15.4h0M172.2 156.2h0M131.6 174h0M32.3 38.5h0M176.7 196.6h0M191.7 61.1h0M43.6 147.2h0M22.4 191.8h0M148.6 167.8h0M170.8 62.9h0M67 86.9h0M153.7 188.9h0M140.5 161.9h0M189.9 168.2h0M181.6 192.8h0M36.9 91.4h0M103.3 24.7h0M66.7 33h0M89 186.2h0M105.7 47.3h0M148.9 54.2h0M90.7 94.1h0M25.4 123.3h0M38.8 138.7h0M108.9 116.3h0M109.2 160.9h0M83.8 61.4h0M59 105h0M148.7 56.4h0M151.4 168.8h0M116.4 41.6h0M132.1 93.8h0M89.9 16.9h0M144.1 22.9h0M34.6 57.4h0M184.1 196h0M101.1 130.9h0M163.4 163.4h0M142 72.3h0M188.3 193.5h0M146.1 166.1h0M91.8 105.8h0M108.1 52.4h0M147.8 47.4h0M95.8 31.7h0M201.5 176.4h0M99.9 103.8h0M155.2 105.7h0M91 19.7h0M206.2 114.7h0M32.3 59.1h0M134.3 149.6h0M72.1 117h0M180.6 107.8h0M107.9 152h0M78.9 27.4h0M159.1 46.8h0" stroke="#a04c1c" stroke-width="1.0" opacity="0.75"/>
<path d="M170.8 70.2h0M61.7 86.8h0M59.1 189h0M29.4 17.5h0M123.5 149.8h0M114.3 168.3h0M106.4 129.3h0M92.3 118.9h0M81.9 181.7h0M140.5 110.4h0M102.8 164.3h0M179.5 126.8h0M25.3 143.2h0M117.3 17h0M170.4 143.9h0M203.2 182.7h0M174.9 136.9h0M171.2 167.6h0M23.2 165.4h0M119.6 93.7h0M156.5 71.8h0M91.5 136h0M154.4 119.6h0M30.2 58.5h0M163.9 147.3h0M97.5 85.3h0M145.6 190h0M52.8 173.6h0M206.4 51.4h0M67.4 161.4h0M164.8 115.3h0M56.3 85.7h0M129.5 66.6h0M98.7 38.5h0M123.4 32.5h0M109.2 17.1h0M179.4 33.4h0M97.7 126.9h0M200.7 132.6h0M125.9 193.7h0M155.1 67.7h0M74 107.9h0M52.4 172.4h0M143.9 27.4h0M204.9 71.1h0M28.8 34.8h0M106.6 57.3h0M119.1 61.1h0M156.6 25h0M164.4 158.7h0M42.3 189.7h0M98.5 87.6h0M106.7 101.3h0M106.6 83.4h0M28.1 164.9h0M62.7 176.6h0M72.3 35h0M156.3 28.6h0M29.8 19.4h0M57.1 86.6h0M134.4 190.6h0M146.5 148.3h0M124.9 121.3h0M77.3 81.9h0M62.2 16.3h0M81.9 147.4h0M164.6 126.2h0M53.2 56.8h0M60.4 179.4h0M168.8 168h0M85.2 33.4h0M67.6 158.9h0M189.5 196.5h0M168.9 25.4h0M28.4 126.3h0M32.4 82.1h0M45.1 186.3h0M113.3 19.4h0M175.2 126.5h0M28.2 162.8h0M182.9 139h0M68.4 132.4h0M90.4 94.1h0M206.3 30.6h0M24.1 194h0M181.2 62.9h0M55.3 105.4h0M201.1 133.5h0M78.8 142.4h0M74.4 17.7h0M29.7 191.2h0" stroke="#ffefb4" stroke-width="1.25" opacity="0.85"/>
<path d="M169.9 70.6h0M60.9 87.1h0M58.2 189.4h0M28.5 17.9h0M122.5 150.2h0M113.4 168.6h0M105.5 129.7h0M91.4 119.2h0M81 182h0M139.6 110.8h0M101.8 164.7h0M178.7 127.1h0M24.5 143.6h0M116.3 17.4h0M169.6 144.2h0M202.3 183.1h0M174.1 137.3h0M170.3 168h0M22.3 165.7h0M118.6 94.1h0M155.6 72.2h0M90.6 136.4h0M153.6 119.9h0M29.3 58.9h0M162.9 147.7h0M96.6 85.7h0M144.7 190.3h0M52 174h0M205.5 51.8h0M66.6 161.8h0M163.8 115.7h0M55.5 86.1h0M128.6 67h0M97.8 38.9h0M122.5 32.9h0M108.3 17.5h0M178.6 33.8h0M96.9 127.2h0M199.9 132.9h0M125 194.1h0M154.3 68.1h0M73.1 108.3h0M51.5 172.7h0M142.9 27.8h0M204 71.5h0M27.9 35.1h0M105.8 57.7h0M118.2 61.5h0M155.8 25.4h0M163.5 159.1h0M41.5 190.1h0M97.6 88h0M105.8 101.7h0M105.7 83.8h0M27.2 165.3h0M61.8 177h0M71.5 35.4h0M155.4 29h0M29 19.8h0M56.3 87h0M133.4 191h0M145.6 148.6h0M124 121.7h0M76.3 82.3h0M61.3 16.7h0M81 147.8h0M163.7 126.5h0M52.3 57.1h0M59.6 179.8h0M167.8 168.4h0M84.3 33.8h0M66.6 159.3h0M188.6 196.9h0M168 25.8h0M27.5 126.7h0M31.5 82.5h0M44.3 186.6h0M112.4 19.8h0M174.3 126.8h0M27.3 163.1h0M182 139.4h0M67.5 132.7h0M89.6 94.4h0M205.5 30.9h0M23.1 194.5h0M180.4 63.2h0M54.5 105.7h0M200.3 133.8h0M77.9 142.8h0M73.5 18.1h0M28.8 191.6h0" stroke="#a04c1c" stroke-width="1.25" opacity="0.75"/>
<path d="M106.2 117.2h0M30.7 194.9h0M39 75.4h0M62.2 63.8h0M141.1 32.7h0M57.9 150.2h0M114.5 127.3h0M143.5 162.7h0M62.3 179.8h0M99.1 190.3h0M192.8 54.3h0M152 154.4h0M135.5 25h0M32.2 196.1h0M120.7 197.8h0M90.9 134.5h0M192 187.1h0M81.4 87.7h0M70.9 177.5h0M85.9 114.9h0M95.5 99.2h0M97.9 27.6h0M96.7 143h0M176.7 50.5h0M108.2 37h0M56.1 195.8h0M35.6 181.9h0M114.7 186h0M54.6 176.1h0M140.8 30.7h0M113.1 154.3h0M67.5 99.1h0M90 76.2h0M71.3 86.5h0M109.3 127.4h0M89.7 120.2h0M25.5 121.9h0M75.6 148.7h0M195.8 173.3h0M24.9 52.9h0M204.4 32.7h0M56.8 79.9h0M182.6 37.5h0M169.8 108.3h0M107.1 107.4h0M134.4 192.7h0M142.6 143.2h0M143.7 54.3h0M71 34.8h0M148.1 29.9h0M137.9 115.8h0M140.5 18.3h0M44.8 71.2h0M130.2 179.7h0M149.8 81.2h0M121.4 135.6h0M197.8 34.5h0M28.5 119.2h0M112.6 116.8h0M84.8 143.4h0M202.6 189h0M135.7 127h0M38.9 109.7h0M88.6 181.8h0M60.8 175.8h0M194.4 77.1h0M49.1 145.7h0M185.4 147.9h0M163.3 111.1h0M79.9 154.2h0M191.1 57.1h0M130.4 43.2h0M101.4 116.3h0M170.8 194.3h0M198.2 128.2h0M125.1 132.2h0M82.8 147.9h0M205.4 119h0M80.2 174.8h0M137 41.8h0M185 196.6h0M205.2 28.1h0M53.1 101.3h0M178.4 143.1h0M32 19.3h0M178.7 124.9h0M167.3 142.9h0M163.9 34.9h0M129.2 177.9h0M177.4 134.9h0M156 171.8h0M170.9 86.8h0M134.3 23.6h0M109.6 69.6h0M48.8 114.7h0M201.9 80.4h0M31.7 43.7h0M52.2 166.2h0M71.2 163.3h0M133.6 190.7h0M76.8 91.2h0M157.6 25.3h0M103.1 123.9h0M71.5 33h0M199.7 189h0M32.9 139.5h0M199.6 163.7h0M179.9 156.3h0M134.3 38.9h0M116.9 63.6h0M68 42.9h0M185.1 85.9h0M54.3 147.8h0M102.4 169.5h0M125.8 89.5h0M68.3 127.3h0M103.9 177.3h0M155.3 48.3h0M203.7 105.4h0M133.3 73.7h0M130.8 152.3h0M50.1 139.2h0M126.3 66.4h0M102.7 164.3h0M27.6 181.2h0M35.6 69.1h0M124.5 124.5h0M148 22.8h0M178.5 59.1h0M177.7 182.3h0M36.7 186.3h0M53.6 101.9h0M37.6 135.6h0" stroke="#ffefb4" stroke-width="1.5" opacity="0.85"/>
<path d="M105.2 117.6h0M29.7 195.3h0M38 75.8h0M61.2 64.3h0M140.1 33.1h0M56.9 150.7h0M113.5 127.7h0M142.5 163.2h0M61.2 180.2h0M98.1 190.7h0M191.8 54.7h0M151 154.8h0M134.5 25.4h0M31.2 196.5h0M119.7 198.2h0M89.9 134.9h0M191 187.6h0M80.4 88.1h0M69.9 177.9h0M84.9 115.3h0M94.5 99.6h0M96.9 28h0M95.7 143.4h0M175.7 50.9h0M107.2 37.4h0M55.1 196.2h0M34.6 182.3h0M113.7 186.5h0M53.6 176.5h0M139.7 31.2h0M112.1 154.7h0M66.5 99.5h0M89 76.6h0M70.3 86.9h0M108.3 127.8h0M88.7 120.6h0M24.5 122.3h0M74.6 149.2h0M194.8 173.7h0M23.9 53.3h0M203.4 33.2h0M55.7 80.3h0M181.6 37.9h0M168.8 108.7h0M106 107.8h0M133.4 193.2h0M141.6 143.6h0M142.7 54.7h0M70 35.2h0M147.1 30.3h0M136.9 116.2h0M139.5 18.7h0M43.8 71.7h0M129.2 180.1h0M148.8 81.6h0M120.4 136h0M196.8 34.9h0M27.5 119.7h0M111.6 117.2h0M83.8 143.8h0M201.6 189.4h0M134.7 127.4h0M37.9 110.2h0M87.6 182.2h0M59.8 176.2h0M193.4 77.5h0M48.1 146.1h0M184.4 148.3h0M162.3 111.5h0M78.9 154.6h0M190.1 57.5h0M129.4 43.6h0M100.4 116.8h0M169.8 194.7h0M197.2 128.6h0M124.1 132.6h0M81.8 148.3h0M204.4 119.4h0M79.2 175.2h0M136 42.3h0M184 197h0M204.2 28.5h0M52.1 101.8h0M177.4 143.5h0M31 19.7h0M177.7 125.3h0M166.3 143.3h0M162.9 35.3h0M128.2 178.4h0M176.4 135.3h0M155 172.2h0M169.9 87.2h0M133.3 24h0M108.6 70h0M47.7 115.1h0M200.9 80.8h0M30.7 44.1h0M51.2 166.6h0M70.2 163.7h0M132.6 191.1h0M75.8 91.7h0M156.6 25.8h0M102.1 124.3h0M70.4 33.4h0M198.7 189.4h0M31.9 139.9h0M198.6 164.1h0M178.9 156.7h0M133.3 39.3h0M115.9 64.1h0M67 43.3h0M184.1 86.3h0M53.3 148.2h0M101.4 169.9h0M124.8 89.9h0M67.4 127.7h0M102.9 177.7h0M154.3 48.7h0M202.7 105.8h0M132.3 74.1h0M129.8 152.8h0M49.1 139.6h0M125.3 66.9h0M101.7 164.7h0M26.6 181.6h0M34.6 69.5h0M123.5 124.9h0M147 23.2h0M177.5 59.5h0M176.7 182.7h0M35.7 186.7h0M52.6 102.3h0M36.6 136h0" stroke="#a04c1c" stroke-width="1.5" opacity="0.75"/>
</g>
<g filter="url(#bl)">
<circle cx="52.6" cy="38" r="5.8" fill="url(#hD)" opacity="1.0"/><circle cx="51.4" cy="39.2" r="5.8" fill="url(#hY)" opacity="1.0"/><circle cx="51.9" cy="38.7" r="3.7" fill="#fff8a8" opacity="0.75"/><circle cx="51.9" cy="38.7" r="3" fill="url(#gM)"/><circle cx="69" cy="22.3" r="2.9" fill="url(#hL)" opacity="1"/><circle cx="69.3" cy="22" r="1.4" fill="url(#gS)"/><circle cx="66.1" cy="32.4" r="3.2" fill="url(#hL)" opacity="1"/><circle cx="66.4" cy="32.1" r="1.5" fill="url(#gS)"/><circle cx="74.8" cy="36" r="3.4" fill="url(#hL)" opacity="1"/><circle cx="75.1" cy="35.7" r="1.6" fill="url(#gS)"/><circle cx="94.1" cy="33.7" r="4.4" fill="url(#hL)" opacity="1"/><circle cx="94.5" cy="33.3" r="2.1" fill="url(#gS)"/><circle cx="86.9" cy="38.5" r="3.4" fill="url(#hL)" opacity="1"/><circle cx="87.2" cy="38.2" r="1.6" fill="url(#gS)"/><circle cx="54.1" cy="55.8" r="3.4" fill="url(#hL)" opacity="1"/><circle cx="54.4" cy="55.5" r="1.6" fill="url(#gS)"/><circle cx="105" cy="62.6" r="3.6" fill="url(#hL)" opacity="1"/><circle cx="105.3" cy="62.3" r="1.7" fill="url(#gS)"/><circle cx="33.3" cy="86.8" r="3.2" fill="url(#hL)" opacity="1"/><circle cx="33.6" cy="86.5" r="1.5" fill="url(#gS)"/><circle cx="31.5" cy="37.6" r="2.5" fill="url(#hL)" opacity="1"/><circle cx="31.7" cy="37.4" r="1.2" fill="url(#gS)"/><circle cx="33.8" cy="26.2" r="2.3" fill="url(#hL)" opacity="1"/><circle cx="34" cy="26" r="1.1" fill="url(#gS)"/><circle cx="45.5" cy="59.4" r="2.3" fill="url(#hL)" opacity="1"/><circle cx="45.7" cy="59.2" r="1.1" fill="url(#gS)"/><circle cx="159.8" cy="75.6" r="8" fill="url(#hD)" opacity="1.0"/><circle cx="158.1" cy="77.3" r="8" fill="url(#hY)" opacity="1.0"/><circle cx="158.8" cy="76.6" r="5" fill="#fff8a8" opacity="0.75"/><circle cx="158.8" cy="76.6" r="4.1" fill="url(#gA)"/><circle cx="125.6" cy="53" r="4.6" fill="url(#hL)" opacity="1"/><circle cx="126" cy="52.6" r="2.2" fill="url(#gS)"/><circle cx="147.5" cy="73.5" r="3.6" fill="url(#hL)" opacity="1"/><circle cx="147.8" cy="73.2" r="1.7" fill="url(#gS)"/><circle cx="147.3" cy="70" r="2.5" fill="url(#hL)" opacity="1"/><circle cx="147.5" cy="69.8" r="1.2" fill="url(#gS)"/><circle cx="140.6" cy="95.4" r="4.6" fill="url(#hL)" opacity="1"/><circle cx="141" cy="95" r="2.2" fill="url(#gS)"/><circle cx="137.2" cy="92" r="2.5" fill="url(#hL)" opacity="1"/><circle cx="137.4" cy="91.8" r="1.2" fill="url(#gS)"/><circle cx="200.2" cy="63.8" r="3.6" fill="url(#hL)" opacity="1"/><circle cx="200.5" cy="63.5" r="1.7" fill="url(#gS)"/><circle cx="172.9" cy="90.3" r="3.2" fill="url(#hL)" opacity="1"/><circle cx="173.2" cy="90" r="1.5" fill="url(#gS)"/><circle cx="172.9" cy="103.7" r="2.7" fill="url(#hL)" opacity="1"/><circle cx="173.2" cy="103.4" r="1.3" fill="url(#gS)"/><circle cx="196.6" cy="31.2" r="2.5" fill="url(#hL)" opacity="1"/><circle cx="196.8" cy="31" r="1.2" fill="url(#gS)"/><circle cx="149.8" cy="17.2" r="2.3" fill="url(#hL)" opacity="1"/><circle cx="150" cy="17" r="1.1" fill="url(#gS)"/><circle cx="157.3" cy="17.2" r="2.3" fill="url(#hL)" opacity="1"/><circle cx="157.5" cy="17" r="1.1" fill="url(#gS)"/><circle cx="57.2" cy="124.4" r="3.2" fill="url(#hL)" opacity="1"/><circle cx="57.5" cy="124.1" r="1.5" fill="url(#gS)"/><circle cx="78.9" cy="142" r="3.6" fill="url(#hL)" opacity="1"/><circle cx="79.2" cy="141.7" r="1.7" fill="url(#gS)"/><circle cx="92.2" cy="154.1" r="3.6" fill="url(#hL)" opacity="1"/><circle cx="92.5" cy="153.8" r="1.7" fill="url(#gS)"/><circle cx="26.5" cy="162.3" r="2.9" fill="url(#hL)" opacity="1"/><circle cx="26.8" cy="162" r="1.4" fill="url(#gS)"/><circle cx="27.1" cy="165.4" r="2.3" fill="url(#hL)" opacity="1"/><circle cx="27.3" cy="165.2" r="1.1" fill="url(#gS)"/><circle cx="100.3" cy="181.8" r="2.5" fill="url(#hL)" opacity="1"/><circle cx="100.5" cy="181.6" r="1.2" fill="url(#gS)"/><circle cx="82.2" cy="163.4" r="2.1" fill="url(#hL)" opacity="1"/><circle cx="82.4" cy="163.2" r="1" fill="url(#gS)"/><circle cx="52" cy="156.4" r="2.1" fill="url(#hL)" opacity="1"/><circle cx="52.2" cy="156.2" r="1" fill="url(#gS)"/><circle cx="202.9" cy="167.2" r="7.8" fill="url(#hD)" opacity="1.0"/><circle cx="201.2" cy="168.9" r="7.8" fill="url(#hY)" opacity="1.0"/><circle cx="201.9" cy="168.2" r="4.9" fill="#fff8a8" opacity="0.75"/><circle cx="201.9" cy="168.2" r="4" fill="url(#gA)"/><circle cx="191.5" cy="124.1" r="5.1" fill="url(#hD)" opacity="1.0"/><circle cx="190.3" cy="125.3" r="5.1" fill="url(#hY)" opacity="1.0"/><circle cx="190.8" cy="124.8" r="3.2" fill="#fff8a8" opacity="0.75"/><circle cx="190.8" cy="124.8" r="2.6" fill="url(#gM)"/><circle cx="180.8" cy="118.4" r="3.2" fill="url(#hL)" opacity="1"/><circle cx="181.1" cy="118.1" r="1.5" fill="url(#gS)"/><circle cx="195.3" cy="142" r="3.2" fill="url(#hL)" opacity="1"/><circle cx="195.6" cy="141.7" r="1.5" fill="url(#gS)"/><circle cx="147" cy="109.9" r="2.9" fill="url(#hL)" opacity="1"/><circle cx="147.3" cy="109.6" r="1.4" fill="url(#gS)"/><circle cx="123.4" cy="120.1" r="2.9" fill="url(#hL)" opacity="1"/><circle cx="123.7" cy="119.8" r="1.4" fill="url(#gS)"/><circle cx="157.2" cy="137" r="2.7" fill="url(#hL)" opacity="1"/><circle cx="157.5" cy="136.7" r="1.3" fill="url(#gS)"/><circle cx="152.3" cy="143" r="2.7" fill="url(#hL)" opacity="1"/><circle cx="152.6" cy="142.7" r="1.3" fill="url(#gS)"/><circle cx="154.3" cy="149.1" r="2.7" fill="url(#hL)" opacity="1"/><circle cx="154.6" cy="148.8" r="1.3" fill="url(#gS)"/><circle cx="162.5" cy="152.2" r="3.2" fill="url(#hL)" opacity="1"/><circle cx="162.8" cy="151.9" r="1.5" fill="url(#gS)"/><circle cx="137.9" cy="152.7" r="2.7" fill="url(#hL)" opacity="1"/><circle cx="138.2" cy="152.4" r="1.3" fill="url(#gS)"/><circle cx="120.9" cy="158.7" r="2.9" fill="url(#hL)" opacity="1"/><circle cx="121.2" cy="158.4" r="1.4" fill="url(#gS)"/><circle cx="166.1" cy="166.7" r="2.7" fill="url(#hL)" opacity="1"/><circle cx="166.4" cy="166.4" r="1.3" fill="url(#gS)"/><circle cx="133.1" cy="187.8" r="2.1" fill="url(#hL)" opacity="1"/><circle cx="133.3" cy="187.6" r="1" fill="url(#gS)"/><circle cx="198.8" cy="132.2" r="2.1" fill="url(#hL)" opacity="1"/><circle cx="199" cy="132" r="1" fill="url(#gS)"/>
</g>
</g>
<g clip-path="url(#cp1)">
<rect x="243.5" y="14.4" width="184.0" height="183.1" fill="#f8b536" filter="url(#tx)"/>
<use href="#dA" x="221.0" opacity="0.85"/>
<g filter="url(#bl)">
<circle cx="273.6" cy="38" r="5.8" fill="url(#hD)" opacity="0.9"/><circle cx="272.4" cy="39.2" r="5.8" fill="url(#hY)" opacity="0.9"/><circle cx="272.9" cy="38.7" r="3.7" fill="#fff8a8" opacity="0.675"/><circle cx="272.9" cy="38.7" r="3" fill="url(#gB)"/><circle cx="290" cy="22.3" r="2.9" fill="url(#hL)" opacity="0.6"/><circle cx="290.3" cy="22" r="1.4" fill="url(#gBs)"/><circle cx="287.1" cy="32.4" r="3.2" fill="url(#hL)" opacity="0.6"/><circle cx="287.4" cy="32.1" r="1.5" fill="url(#gBs)"/><circle cx="295.8" cy="36" r="3.4" fill="url(#hL)" opacity="0.6"/><circle cx="296.1" cy="35.7" r="1.6" fill="url(#gBs)"/><circle cx="315.1" cy="33.7" r="4.4" fill="url(#hL)" opacity="0.6"/><circle cx="315.5" cy="33.3" r="2.1" fill="url(#gBs)"/><circle cx="307.9" cy="38.5" r="3.4" fill="url(#hL)" opacity="0.6"/><circle cx="308.2" cy="38.2" r="1.6" fill="url(#gBs)"/><circle cx="275.1" cy="55.8" r="3.4" fill="url(#hL)" opacity="0.6"/><circle cx="275.4" cy="55.5" r="1.6" fill="url(#gBs)"/><circle cx="326" cy="62.6" r="3.6" fill="url(#hL)" opacity="0.6"/><circle cx="326.3" cy="62.3" r="1.7" fill="url(#gBs)"/><circle cx="254.3" cy="86.8" r="3.2" fill="url(#hL)" opacity="0.6"/><circle cx="254.6" cy="86.5" r="1.5" fill="url(#gBs)"/><circle cx="252.5" cy="37.6" r="2.5" fill="url(#hL)" opacity="0.6"/><circle cx="252.7" cy="37.4" r="1.2" fill="url(#gBs)"/><circle cx="254.8" cy="26.2" r="2.3" fill="url(#hL)" opacity="0.6"/><circle cx="255" cy="26" r="1.1" fill="url(#gBs)"/><circle cx="266.5" cy="59.4" r="2.3" fill="url(#hL)" opacity="0.6"/><circle cx="266.7" cy="59.2" r="1.1" fill="url(#gBs)"/><circle cx="380.8" cy="75.6" r="8" fill="url(#hD)" opacity="1.0"/><circle cx="379.1" cy="77.3" r="8" fill="url(#hY)" opacity="1.0"/><circle cx="379.8" cy="76.6" r="5" fill="#fff8a8" opacity="0.75"/><circle cx="379.8" cy="76.6" r="4.1" fill="url(#gA)"/><circle cx="346.6" cy="53" r="4.6" fill="url(#hL)" opacity="0.6"/><circle cx="347" cy="52.6" r="2.2" fill="url(#gBs)"/><circle cx="368.5" cy="73.5" r="3.6" fill="url(#hL)" opacity="0.6"/><circle cx="368.8" cy="73.2" r="1.7" fill="url(#gBs)"/><circle cx="368.3" cy="70" r="2.5" fill="url(#hL)" opacity="0.6"/><circle cx="368.5" cy="69.8" r="1.2" fill="url(#gBs)"/><circle cx="361.6" cy="95.4" r="4.6" fill="url(#hL)" opacity="0.6"/><circle cx="362" cy="95" r="2.2" fill="url(#gBs)"/><circle cx="358.2" cy="92" r="2.5" fill="url(#hL)" opacity="0.6"/><circle cx="358.4" cy="91.8" r="1.2" fill="url(#gBs)"/><circle cx="421.2" cy="63.8" r="3.6" fill="url(#hL)" opacity="0.6"/><circle cx="421.5" cy="63.5" r="1.7" fill="url(#gBs)"/><circle cx="393.9" cy="90.3" r="3.2" fill="url(#hL)" opacity="0.6"/><circle cx="394.2" cy="90" r="1.5" fill="url(#gBs)"/><circle cx="393.9" cy="103.7" r="2.7" fill="url(#hL)" opacity="0.6"/><circle cx="394.2" cy="103.4" r="1.3" fill="url(#gBs)"/><circle cx="417.6" cy="31.2" r="2.5" fill="url(#hL)" opacity="0.6"/><circle cx="417.8" cy="31" r="1.2" fill="url(#gBs)"/><circle cx="370.8" cy="17.2" r="2.3" fill="url(#hL)" opacity="0.6"/><circle cx="371" cy="17" r="1.1" fill="url(#gBs)"/><circle cx="378.3" cy="17.2" r="2.3" fill="url(#hL)" opacity="0.6"/><circle cx="378.5" cy="17" r="1.1" fill="url(#gBs)"/><circle cx="278.2" cy="124.4" r="3.2" fill="url(#hL)" opacity="0.6"/><circle cx="278.5" cy="124.1" r="1.5" fill="url(#gBs)"/><circle cx="299.9" cy="142" r="3.6" fill="url(#hL)" opacity="0.6"/><circle cx="300.2" cy="141.7" r="1.7" fill="url(#gBs)"/><circle cx="313.2" cy="154.1" r="3.6" fill="url(#hL)" opacity="0.6"/><circle cx="313.5" cy="153.8" r="1.7" fill="url(#gBs)"/><circle cx="247.5" cy="162.3" r="2.9" fill="url(#hL)" opacity="0.6"/><circle cx="247.8" cy="162" r="1.4" fill="url(#gBs)"/><circle cx="248.1" cy="165.4" r="2.3" fill="url(#hL)" opacity="0.6"/><circle cx="248.3" cy="165.2" r="1.1" fill="url(#gBs)"/><circle cx="321.3" cy="181.8" r="2.5" fill="url(#hL)" opacity="0.6"/><circle cx="321.5" cy="181.6" r="1.2" fill="url(#gBs)"/><circle cx="303.2" cy="163.4" r="2.1" fill="url(#hL)" opacity="0.6"/><circle cx="303.4" cy="163.2" r="1" fill="url(#gBs)"/><circle cx="273" cy="156.4" r="2.1" fill="url(#hL)" opacity="0.6"/><circle cx="273.2" cy="156.2" r="1" fill="url(#gBs)"/><circle cx="423.9" cy="167.2" r="7.8" fill="url(#hD)" opacity="1.0"/><circle cx="422.2" cy="168.9" r="7.8" fill="url(#hY)" opacity="1.0"/><circle cx="422.9" cy="168.2" r="4.9" fill="#fff8a8" opacity="0.75"/><circle cx="422.9" cy="168.2" r="4" fill="url(#gA)"/><circle cx="412.4" cy="124.1" r="5.1" fill="url(#hD)" opacity="0.9"/><circle cx="411.3" cy="125.3" r="5.1" fill="url(#hY)" opacity="0.9"/><circle cx="411.8" cy="124.8" r="3.2" fill="#fff8a8" opacity="0.675"/><circle cx="411.8" cy="124.8" r="2.6" fill="url(#gB)"/><circle cx="401.8" cy="118.4" r="3.2" fill="url(#hL)" opacity="0.6"/><circle cx="402.1" cy="118.1" r="1.5" fill="url(#gBs)"/><circle cx="416.3" cy="142" r="3.2" fill="url(#hL)" opacity="0.6"/><circle cx="416.6" cy="141.7" r="1.5" fill="url(#gBs)"/><circle cx="368" cy="109.9" r="2.9" fill="url(#hL)" opacity="0.6"/><circle cx="368.3" cy="109.6" r="1.4" fill="url(#gBs)"/><circle cx="344.4" cy="120.1" r="2.9" fill="url(#hL)" opacity="0.6"/><circle cx="344.7" cy="119.8" r="1.4" fill="url(#gBs)"/><circle cx="378.2" cy="137" r="2.7" fill="url(#hL)" opacity="0.6"/><circle cx="378.5" cy="136.7" r="1.3" fill="url(#gBs)"/><circle cx="373.3" cy="143" r="2.7" fill="url(#hL)" opacity="0.6"/><circle cx="373.6" cy="142.7" r="1.3" fill="url(#gBs)"/><circle cx="375.3" cy="149.1" r="2.7" fill="url(#hL)" opacity="0.6"/><circle cx="375.6" cy="148.8" r="1.3" fill="url(#gBs)"/><circle cx="383.5" cy="152.2" r="3.2" fill="url(#hL)" opacity="0.6"/><circle cx="383.8" cy="151.9" r="1.5" fill="url(#gBs)"/><circle cx="358.9" cy="152.7" r="2.7" fill="url(#hL)" opacity="0.6"/><circle cx="359.2" cy="152.4" r="1.3" fill="url(#gBs)"/><circle cx="341.9" cy="158.7" r="2.9" fill="url(#hL)" opacity="0.6"/><circle cx="342.2" cy="158.4" r="1.4" fill="url(#gBs)"/><circle cx="387.1" cy="166.7" r="2.7" fill="url(#hL)" opacity="0.6"/><circle cx="387.4" cy="166.4" r="1.3" fill="url(#gBs)"/><circle cx="354.1" cy="187.8" r="2.1" fill="url(#hL)" opacity="0.6"/><circle cx="354.3" cy="187.6" r="1" fill="url(#gBs)"/><circle cx="419.8" cy="132.2" r="2.1" fill="url(#hL)" opacity="0.6"/><circle cx="420" cy="132" r="1" fill="url(#gBs)"/><circle cx="305.2" cy="126.6" r="5.1" fill="url(#hD)" opacity="0.9"/><circle cx="304.1" cy="127.8" r="5.1" fill="url(#hY)" opacity="0.9"/><circle cx="304.6" cy="127.3" r="3.2" fill="#fff8a8" opacity="0.675"/><circle cx="304.6" cy="127.3" r="2.6" fill="url(#gB)"/><circle cx="322.9" cy="146.9" r="3.2" fill="url(#hL)" opacity="0.7"/><circle cx="323.2" cy="146.6" r="1.5" fill="url(#gBs)"/><circle cx="285" cy="157.5" r="2.7" fill="url(#hL)" opacity="0.7"/><circle cx="285.3" cy="157.2" r="1.3" fill="url(#gBs)"/><circle cx="354.9" cy="119.2" r="4.5" fill="url(#hD)" opacity="0.9"/><circle cx="353.9" cy="120.2" r="4.5" fill="url(#hY)" opacity="0.9"/><circle cx="354.3" cy="119.8" r="2.8" fill="#fff8a8" opacity="0.675"/><circle cx="354.3" cy="119.8" r="2.3" fill="url(#gB)"/><circle cx="371.4" cy="115.5" r="3.6" fill="url(#hL)" opacity="0.7"/><circle cx="371.7" cy="115.2" r="1.7" fill="url(#gBs)"/><circle cx="361.7" cy="175.4" r="4.9" fill="url(#hD)" opacity="0.9"/><circle cx="360.7" cy="176.4" r="4.9" fill="url(#hY)" opacity="0.9"/><circle cx="361.1" cy="176" r="3" fill="#fff8a8" opacity="0.675"/><circle cx="361.1" cy="176" r="2.5" fill="url(#gB)"/><circle cx="400.4" cy="149.3" r="3.2" fill="url(#hL)" opacity="0.7"/><circle cx="400.7" cy="149" r="1.5" fill="url(#gBs)"/>
</g>
</g>
<g clip-path="url(#cp2)">
<rect x="464.3" y="14.4" width="184.0" height="183.1" fill="#f5a63c" filter="url(#tx2)"/>
<g fill="none" stroke-linecap="round" filter="url(#bl3)">
<path d="M562.2 38.2h0M582.9 47.7h0M524.2 164.4h0M485.7 32.4h0M525.6 82.3h0M594.8 166.7h0M474.9 90.8h0M646.5 152.1h0M644 83.6h0M478.6 100h0M636.5 189.1h0M483.7 111.6h0M564.7 163.8h0M510.3 189.3h0M568.1 113.9h0M502.1 139.6h0M547.3 92h0M519.4 179.6h0M518.4 73h0M520.3 190.8h0M552.6 116.1h0M515.8 30.6h0M485 99.4h0M512.4 170.8h0M645.4 130.9h0M613.2 65h0M491.6 168.3h0M632.4 47.9h0M573.5 74.4h0M481.7 171.9h0M645.2 195h0M604.2 112.7h0M539.5 25h0M540.9 59.5h0M588.1 96.2h0M586.3 93.4h0M587.7 64.5h0M559.3 114.1h0M477.1 101.3h0M565.1 159.7h0M569.5 180.1h0M485 166.5h0M583.7 175.3h0M599.9 148.9h0M615.6 46.6h0M475.9 136.2h0M611.5 131.3h0M621.7 29.3h0M612 168.6h0M639.8 182.6h0M558.2 80.1h0M482.9 59.8h0M627.5 98.8h0M565.9 59.7h0M474.5 184.9h0M538.7 76.6h0M466.7 76.1h0M479.6 103.6h0M620.5 64.8h0M542.9 177.3h0M572.9 170.6h0M486.1 25.6h0M585.6 49.5h0M626.2 120.4h0M610 35.6h0M641.8 173.5h0M617.7 55.7h0M582 68.4h0M480.4 46.8h0M503.7 146.8h0M533 150h0M514.3 156.3h0M481.9 49.9h0M510.3 39.9h0M558.2 163.4h0M473 136.8h0M464.8 88.2h0M619.9 143.2h0M644.1 128.8h0M609.3 55.5h0M630.7 54.7h0M470.6 162.7h0M636.2 61.9h0M640.8 193.2h0M598.5 18.7h0M563.4 57.2h0M639.5 179.1h0M627.1 128.5h0M608.8 82.9h0M638 41.9h0M539.7 195.9h0M481.6 149.6h0M519.4 128.8h0M492.4 91.8h0M490.7 79.4h0M594.3 129.3h0M612.9 143.7h0M514.9 57.8h0M582.2 123h0M602.4 57.3h0M604.1 147.3h0M503.2 120.7h0M533.4 122.6h0M589.6 94.8h0M505.3 24.1h0M605.2 25.4h0M616.5 169.2h0M563.2 98.8h0M608.9 41.1h0M480.9 17.1h0M472.9 100.6h0M468 99.6h0M507.3 113.8h0M510.4 113.3h0M515.3 97.7h0M525.7 197.6h0M547.8 174.7h0M496.4 26.4h0M507.5 17.9h0M507.3 154.6h0M491 177.8h0M553.6 125.5h0M473.9 57.9h0M467.3 163.3h0M570.6 24.4h0M625.9 25.9h0M558.4 114.5h0M632.2 68.2h0M494.4 67.6h0M582.3 18h0M613.4 171h0M579 152.9h0M525.6 61.4h0M559.1 113.5h0M480.4 18.8h0M476.1 132.2h0M537.3 79.1h0M578.4 146.1h0M465.5 86.9h0M552 193.3h0M548.7 155.1h0M585.1 47.2h0M593.2 157h0M470.5 189.2h0M609.5 173.2h0M539.4 182.4h0M565.3 142.5h0M611.8 113.3h0M642.8 107.2h0M477.9 110h0M487.8 50.4h0M594.6 105.7h0M598.6 37.8h0M596.2 123.3h0M523.7 26.2h0M493.3 30.3h0M640.8 162.3h0M465.2 191.1h0M559.8 54.2h0M476.5 117.2h0M643 170.3h0M601.2 167h0M512.8 125.6h0M470.6 146.9h0M521.3 145.9h0M592.5 47.4h0M490.9 128.1h0M528.1 70.3h0M572.6 54.2h0M517.5 192.6h0M531.1 119.3h0M496.4 28.4h0M488.3 90.8h0M619.5 60.6h0M605.2 156.3h0M511.6 91.1h0M480.6 109.3h0M530.8 138.9h0M467 122.1h0M527.8 192h0M498.6 16.3h0M641.9 46.8h0M618.1 176.2h0M498.5 125.7h0M590.2 30.6h0M559.1 102.4h0M615.3 194.2h0M494.3 82.4h0M564.8 143.5h0M647 177.5h0M577 48.4h0M579.9 15.4h0M558.8 168.4h0M519.5 58h0M471 102.4h0M541.1 82.7h0M613.5 47.2h0M493.3 53.4h0M615.9 14.9h0M640.2 92.7h0M465.2 117.8h0M540.2 64h0M494.8 108.1h0M510 63.3h0M638.3 162h0M608.5 181.4h0M575.7 34.9h0M591.4 59.9h0M584.9 124.8h0M535.1 20.9h0M493.9 130.8h0M604.5 157.4h0M609.8 108.9h0M574.3 18.9h0M537.4 135.6h0M467.9 137.8h0M610.2 82.6h0M546.9 62.4h0M559.5 17.2h0M523.6 105.6h0M527.2 147.2h0M472.6 18.1h0M479.9 159h0M495.8 54.6h0M592.4 89.7h0M572.3 71.9h0M469.9 195.1h0M565.7 46.3h0M524.3 183.1h0M580.4 170.9h0M553.6 174.9h0M466.4 34h0M532.3 143.4h0M547.8 169.3h0M630.3 44.7h0M489.4 140.6h0M478 135.4h0M522.7 126.9h0M623.2 160.7h0M508.6 191.1h0M501.3 196.6h0M580.6 168h0M513.9 40.2h0M497.8 153.2h0M467 125.1h0M576.6 166h0M633.9 139h0M486.2 28.6h0M563.5 149.7h0M482.3 16.6h0M602.3 164.4h0M581.7 182.7h0M641.2 158.7h0M499.1 168.9h0M529.3 60.1h0M477.7 130.5h0M480.4 134.6h0M480.4 193h0M553.9 86.2h0M646 26.2h0M587.8 21.3h0M488.2 23.7h0M480.5 173.6h0M502 61.1h0M640.2 165.3h0M521.7 106.9h0M530.7 134.2h0M596.4 138.7h0M525.4 72.7h0M611.8 30h0M646 153.8h0M531.1 129.4h0M528.4 41.1h0M569.7 19.7h0M511.1 149.3h0M528.5 155.9h0M568.6 42.1h0M504.8 34.4h0M631.1 99.5h0M492.4 28.7h0M563.2 125h0M492.6 118.7h0M519.2 46.7h0M595.9 60.2h0M502 175.4h0M632.4 156.3h0M615.9 127.7h0M562.2 153.1h0M536.6 60.3h0M548.1 138.5h0M629.8 39.5h0M473.5 163.5h0M476 141.7h0M529.6 119.6h0M618 127.1h0M556.1 112.7h0M540.2 36.7h0M560.8 27.5h0M642.4 53.7h0M552 27.4h0M551.8 146.2h0M543.9 27.8h0M494 166.1h0M489.8 120.8h0M545.3 121.2h0M597.6 68.2h0M562.5 83h0M530.7 113.4h0M617 126.9h0M480.6 29.6h0M515.4 43.5h0M593.4 72.9h0M645.7 93.8h0M637.1 151.6h0M611 91.3h0M511.8 191.8h0M632.6 141.2h0M596.4 193.5h0M643.7 32.8h0M473.6 172.9h0M624.6 127.5h0M628.4 114.5h0M480.4 57.1h0M481.7 169.5h0M556.5 153.6h0M540.6 123.5h0M602.8 101.4h0M505.2 152.6h0M590.1 101.8h0M585.8 16.1h0M527.5 188.5h0M467.5 172.9h0M522.9 166.9h0M513.9 140.2h0M543.4 117.2h0M553.2 127.2h0M541.2 63.7h0M510 163.5h0M540.2 177.4h0M620.7 35.8h0M534 24.9h0M571.2 86.6h0M602.2 40.3h0M494.6 107h0M576.2 82.6h0M480.3 36.9h0M475.7 68.3h0M532.5 196.8h0M577.3 63.7h0M534.1 146.5h0M541.2 142.8h0M543.6 172h0M523.2 154.5h0M602.6 34.7h0M632.9 84.1h0M606.9 22.7h0M525.1 59.8h0M504.8 100.7h0M630.2 32.2h0M515.1 160.9h0M490.4 190.6h0M604.3 58.2h0M592.1 158.5h0M587.3 25.3h0M482 21.1h0M589.3 132h0M604.1 53.6h0M566.5 19.2h0M614 146.4h0M635.7 174.7h0M622.8 187.2h0M485.9 135.4h0M554.1 188.3h0M483.3 161h0M596.3 139.1h0M508.2 16.7h0M474.5 20.2h0M468 29.3h0M486.5 161.9h0M517.7 38.4h0M482.9 122.6h0M546.7 187.5h0M511.1 133.7h0M541.6 99.2h0M570.9 18.7h0M547.8 81.2h0M512.8 196.8h0M554.3 180.1h0M468.6 123.2h0M594.2 106.7h0M477.3 180.6h0M602.5 189.3h0M543.5 189.7h0M645.9 182.9h0M594.9 145h0M495.3 86.4h0M590.3 86.3h0M579.8 50.8h0M551.1 34.5h0M608.2 126.8h0M629.8 139h0M534.2 145.2h0M579.5 175h0M510.5 170.7h0M501.1 184.5h0M474.7 82.2h0M639.8 159.6h0M633.1 133.7h0M469.1 32.6h0M505.1 157.3h0M560.4 25.2h0M490.3 66.6h0M536.1 161.3h0M510.4 129.3h0M537.6 176.5h0M610.5 64.1h0M618.3 97.6h0M538.4 129.1h0M626.1 67.2h0M563.3 103.3h0M589.1 27.2h0M562.5 131.6h0M563.4 79.2h0M526.8 96.7h0M614.6 55.4h0M554.7 94.6h0M526.3 84.9h0M489.8 107.1h0M551.4 77.2h0M516.7 113.5h0M488.4 164.2h0M503.9 99.2h0M611.6 157.3h0M479.7 185.4h0M499.6 143.5h0M538.2 135.1h0M564.4 85.7h0M515.8 49.4h0M613.1 154.5h0M494 64.6h0M623.2 153.2h0M624.5 43.4h0M565.6 125.6h0M512.9 85.7h0M582.7 168h0M588.6 89.3h0M583.7 19.9h0M545.7 67.9h0M565.9 71.5h0M502.4 122.4h0M473.3 64.1h0M533.5 40.1h0M493.8 175.2h0M493.4 190.8h0M599.4 96.3h0M565.6 83h0M620.4 80.6h0M477.7 154.7h0M527.7 184.9h0M636.9 140h0M535 99.3h0M635.6 123.7h0M578.8 86h0M553.2 122.4h0M502 23.2h0M535.8 65.3h0M583.5 181.1h0M580.3 189.3h0M540.1 20.1h0M638.2 16.5h0M486.9 77.4h0M583.7 101.5h0M527.7 71.9h0M603.1 38.4h0M567.5 94.8h0M596.6 62h0M635 66.5h0M480.2 20.8h0M616.3 54.8h0M642.7 48.7h0M586.8 54.3h0M505.2 60.2h0M525.2 27.8h0M568.9 29.5h0M590 188.1h0M573.2 177.5h0M477.3 80.3h0M529.9 135.1h0M559.7 65.2h0M624.7 159.1h0M512.3 180h0M589.5 40.8h0M629.8 85.7h0M580.5 183.6h0M487.8 159.2h0M545 163.8h0M583.6 147.4h0M542.8 87.8h0M500.3 97.7h0M620.9 119.1h0M566.5 25.6h0M516.5 106.5h0M472.8 162.4h0M541.4 79.7h0M476.1 128.5h0M465.9 137.7h0M637 46.9h0M543.9 99.4h0M547.5 113.9h0M561 129.6h0M519.1 165.1h0M575.8 40.6h0M625.1 174.8h0M464.9 174.6h0M497.1 117.1h0M630.8 72.4h0M613.2 171.4h0M468.6 136.4h0M482 21.7h0M490 180.9h0M499.8 105.3h0M646 43.1h0M552.2 52.4h0M578.2 91.8h0M530.9 94.1h0M600.4 26.3h0M495.6 22.2h0M537.9 80.6h0M476.8 160h0M606.2 123.8h0M542.4 122.5h0M488.2 58.6h0M531.5 77.6h0M471 31.7h0M587.2 81.1h0M589.5 39.1h0M471.6 127.4h0M566.2 183.4h0M572 88.7h0M559.9 141.9h0M567.5 73.1h0M549.7 184.9h0M621.7 62h0M544.5 190.3h0M474.8 111.6h0M614.8 84.7h0M609.5 108.5h0M591.5 57.4h0M514.4 108.9h0M528.4 35.2h0M589.3 188.5h0M578.4 185.1h0M584.3 50.4h0M578.7 96.2h0M484.9 50.9h0M614 81h0M545.5 163.3h0M493.7 165.1h0M516.1 23h0M470.3 111.7h0M629.6 175.2h0M471.3 171.1h0M615.2 88.6h0M556 186.1h0M532.8 69.4h0M515.6 94.1h0M555.2 15.1h0M614.4 145.3h0M504.4 152.6h0M586.8 49.4h0M492.3 73.1h0M589.4 89.2h0M550.1 172.2h0M480.8 63.2h0M496.9 58.2h0M509.9 98.9h0M531.1 111.9h0M470.7 116.8h0M525.8 181.3h0M598.5 187.2h0M475.8 23.9h0M595.6 170.8h0M590.6 52.7h0M513.9 187.9h0M485.5 181h0M503 180.6h0M602.2 44.4h0M579.8 180.7h0M479.3 34h0M609.2 155.7h0M572.1 173.3h0M544 168.6h0M631.4 192.2h0M540.4 87.1h0M556.3 181.9h0M504.4 189.2h0M482.4 62.2h0M601.6 131.4h0M468.9 64.4h0M605.1 27.8h0M578.5 20.7h0M614.9 40.1h0M550.9 37.9h0M521.1 152.3h0M638.7 162.9h0M540.2 81.5h0M507.1 58.4h0M553.2 38.1h0M539.6 16.2h0M539.2 32.6h0M521.8 59.8h0M519.5 191.9h0M547 80.7h0M502.3 124.7h0M572.4 174.9h0M528.8 143.2h0M483.7 153.9h0M467.8 52.4h0M530.7 196.3h0M621.5 92.9h0M579 176.8h0M607.5 48.1h0M480.6 94.6h0" stroke="#ffe2a8" stroke-width="1.0" opacity="0.7"/>
<path d="M561.5 38.5h0M582.1 48h0M523.4 164.7h0M485 32.7h0M524.8 82.6h0M594 167h0M474.2 91.1h0M645.7 152.4h0M643.2 83.9h0M477.9 100.3h0M635.7 189.4h0M483 111.9h0M564 164.1h0M509.6 189.6h0M567.3 114.3h0M501.4 139.9h0M546.6 92.3h0M518.7 179.9h0M517.6 73.4h0M519.5 191.2h0M551.8 116.4h0M515.1 30.9h0M484.3 99.7h0M511.6 171.1h0M644.8 131.2h0M612.4 65.3h0M490.9 168.6h0M631.7 48.1h0M572.8 74.7h0M480.9 172.2h0M644.5 195.3h0M603.5 113h0M538.8 25.3h0M540.2 59.8h0M587.4 96.5h0M585.6 93.7h0M586.9 64.8h0M558.6 114.4h0M476.4 101.6h0M564.4 160.1h0M568.8 180.4h0M484.3 166.8h0M582.9 175.7h0M599.2 149.2h0M614.8 47h0M475.2 136.5h0M610.8 131.6h0M620.9 29.6h0M611.2 169h0M639.1 182.9h0M557.4 80.4h0M482.1 60.2h0M626.8 99.1h0M565.2 60h0M473.7 185.3h0M538 76.9h0M465.9 76.4h0M478.8 103.9h0M619.8 65.1h0M542.1 177.6h0M572.2 170.9h0M485.4 25.9h0M584.9 49.8h0M625.5 120.7h0M609.3 35.9h0M641 173.8h0M617 56h0M581.2 68.7h0M479.7 47.1h0M503 147.1h0M532.3 150.3h0M513.6 156.6h0M481.2 50.2h0M509.6 40.2h0M557.5 163.7h0M472.3 137.1h0M464 88.5h0M619.1 143.5h0M643.3 129.2h0M608.6 55.8h0M630 55h0M469.8 163h0M635.5 62.2h0M640.1 193.5h0M597.8 19.1h0M562.6 57.5h0M638.7 179.5h0M626.4 128.8h0M608 83.3h0M637.2 42.2h0M539 196.2h0M480.9 149.9h0M518.7 129h0M491.6 92.1h0M490 79.6h0M593.6 129.6h0M612.2 144h0M514.2 58.1h0M581.4 123.3h0M601.6 57.7h0M603.4 147.7h0M502.5 121h0M532.6 122.9h0M588.9 95.1h0M504.6 24.4h0M604.5 25.7h0M615.8 169.5h0M562.5 99.1h0M608.2 41.5h0M480.1 17.5h0M472.1 100.9h0M467.2 99.9h0M506.5 114.1h0M509.7 113.6h0M514.6 98h0M524.9 198h0M547.1 175h0M495.7 26.7h0M506.7 18.2h0M506.6 154.9h0M490.4 178.1h0M552.8 125.8h0M473.2 58.2h0M466.5 163.6h0M569.8 24.8h0M625.2 26.2h0M557.6 114.8h0M631.4 68.6h0M493.7 67.9h0M581.6 18.3h0M612.6 171.3h0M578.2 153.3h0M524.8 61.7h0M558.4 113.8h0M479.6 19.1h0M475.4 132.5h0M536.5 79.4h0M577.6 146.4h0M464.7 87.2h0M551.2 193.6h0M548 155.4h0M584.4 47.5h0M592.5 157.3h0M469.8 189.4h0M608.7 173.5h0M538.6 182.7h0M564.5 142.8h0M611.1 113.6h0M642.1 107.6h0M477.1 110.3h0M487.1 50.7h0M593.9 106h0M597.8 38.2h0M595.4 123.6h0M523 26.5h0M492.5 30.6h0M640.1 162.6h0M464.4 191.4h0M559 54.6h0M475.8 117.5h0M642.3 170.6h0M600.4 167.3h0M512.1 125.9h0M469.9 147.2h0M520.5 146.2h0M591.7 47.8h0M490.1 128.4h0M527.3 70.6h0M571.8 54.6h0M516.8 192.9h0M530.3 119.6h0M495.7 28.7h0M487.6 91.1h0M618.8 60.9h0M604.4 156.6h0M510.8 91.4h0M479.8 109.6h0M530.1 139.2h0M466.3 122.5h0M527.1 192.3h0M497.8 16.7h0M641.2 47.1h0M617.4 176.5h0M497.8 126h0M589.5 30.9h0M558.4 102.7h0M614.6 194.6h0M493.6 82.7h0M564 143.8h0M646.2 177.8h0M576.2 48.8h0M579.2 15.7h0M558 168.7h0M518.7 58.3h0M470.2 102.8h0M540.4 83h0M612.8 47.5h0M492.5 53.7h0M615.2 15.3h0M639.5 93h0M464.5 118.1h0M539.5 64.3h0M494.1 108.4h0M509.3 63.6h0M637.5 162.4h0M607.7 181.7h0M575 35.2h0M590.6 60.3h0M584.2 125.1h0M534.3 21.2h0M493.2 131.1h0M603.7 157.7h0M609.1 109.2h0M573.6 19.2h0M536.5 135.9h0M467.1 138.1h0M609.5 82.9h0M546.2 62.7h0M558.8 17.5h0M522.9 105.9h0M526.5 147.5h0M471.8 18.4h0M479.2 159.3h0M495.1 54.9h0M591.6 90h0M571.5 72.2h0M469.2 195.4h0M564.9 46.6h0M523.5 183.4h0M579.6 171.3h0M552.9 175.2h0M465.6 34.3h0M531.6 143.7h0M547.1 169.6h0M629.5 45.1h0M488.7 140.9h0M477.3 135.7h0M522 127.2h0M622.4 161h0M507.8 191.4h0M500.5 196.9h0M579.8 168.4h0M513.1 40.5h0M497.1 153.5h0M466.3 125.4h0M575.9 166.3h0M633.2 139.3h0M485.5 28.9h0M562.8 150h0M481.6 16.9h0M601.6 164.7h0M581 183h0M640.4 159h0M498.3 169.2h0M528.5 60.4h0M476.9 130.9h0M479.7 134.9h0M479.7 193.3h0M553.2 86.5h0M645.3 26.5h0M587.1 21.6h0M487.5 24h0M479.8 173.9h0M501.3 61.4h0M639.4 165.7h0M520.9 107.2h0M529.9 134.5h0M595.7 139h0M524.7 73h0M611 30.3h0M645.2 154.2h0M530.3 129.7h0M527.7 41.4h0M568.9 20h0M510.3 149.6h0M527.8 156.1h0M567.9 42.4h0M504.1 34.7h0M630.5 99.8h0M491.7 29h0M562.4 125.3h0M491.8 119.1h0M518.6 47h0M595.2 60.5h0M501.3 175.7h0M631.6 156.6h0M615.1 128h0M561.5 153.4h0M535.9 60.6h0M547.4 138.8h0M629 39.8h0M472.7 163.8h0M475.3 142h0M528.8 120h0M617.2 127.4h0M555.4 112.9h0M539.5 37h0M560.1 27.8h0M641.6 54h0M551.3 27.7h0M551 146.5h0M543.1 28.1h0M493.2 166.4h0M489 121.1h0M544.5 121.6h0M596.8 68.5h0M561.8 83.3h0M530 113.8h0M616.2 127.2h0M479.9 29.9h0M514.6 43.8h0M592.7 73.2h0M645 94.1h0M636.4 151.9h0M610.2 91.6h0M511.1 192.1h0M631.8 141.6h0M595.7 193.8h0M643 33.1h0M472.8 173.2h0M623.9 127.8h0M627.7 114.8h0M479.7 57.4h0M480.9 169.8h0M555.7 153.9h0M539.9 123.8h0M602.1 101.8h0M504.4 152.9h0M589.4 102.1h0M585 16.4h0M526.9 188.8h0M466.7 173.2h0M522.2 167.2h0M513.2 140.5h0M542.7 117.5h0M552.5 127.5h0M540.5 64h0M509.2 163.8h0M539.4 177.8h0M619.9 36.1h0M533.3 25.2h0M570.5 86.9h0M601.5 40.6h0M493.9 107.3h0M575.5 82.9h0M479.6 37.2h0M475 68.6h0M531.8 197.1h0M576.5 64h0M533.3 146.9h0M540.4 143.1h0M542.9 172.3h0M522.5 154.7h0M601.8 35.1h0M632.2 84.4h0M606.2 23h0M524.3 60.1h0M504 101h0M629.4 32.5h0M514.3 161.3h0M489.7 190.9h0M603.6 58.5h0M591.4 158.8h0M586.5 25.6h0M481.3 21.4h0M588.5 132.3h0M603.3 53.9h0M565.8 19.5h0M613.2 146.7h0M634.9 175h0M622 187.5h0M485.2 135.7h0M553.3 188.6h0M482.5 161.3h0M595.6 139.4h0M507.5 17h0M473.8 20.5h0M467.2 29.6h0M485.8 162.2h0M517 38.7h0M482.2 122.9h0M546 187.8h0M510.4 134h0M540.8 99.6h0M570.2 19h0M547.1 81.5h0M512.1 197.1h0M553.6 180.4h0M467.9 123.5h0M593.4 107h0M476.5 180.9h0M601.8 189.6h0M542.8 190h0M645.2 183.2h0M594.2 145.3h0M494.6 86.7h0M589.5 86.6h0M579.1 51.1h0M550.4 34.8h0M607.5 127.1h0M629.1 139.3h0M533.5 145.6h0M578.7 175.3h0M509.8 171h0M500.3 184.8h0M473.9 82.6h0M639 159.9h0M632.4 134h0M468.3 32.9h0M504.4 157.5h0M559.7 25.5h0M489.6 67h0M535.4 161.6h0M509.6 129.6h0M536.8 176.8h0M609.8 64.4h0M617.6 97.9h0M537.6 129.4h0M625.4 67.5h0M562.6 103.6h0M588.3 27.6h0M561.8 131.9h0M562.6 79.6h0M526 97h0M614 55.7h0M554 94.9h0M525.6 85.2h0M489.1 107.4h0M550.6 77.5h0M515.9 113.8h0M487.7 164.5h0M503.2 99.5h0M610.9 157.6h0M479 185.7h0M498.9 143.8h0M537.4 135.4h0M563.5 86h0M515 49.7h0M612.3 154.8h0M493.3 64.9h0M622.4 153.5h0M623.7 43.7h0M564.9 125.9h0M512.3 86h0M581.9 168.3h0M587.9 89.6h0M583 20.2h0M545 68.3h0M565.2 71.8h0M501.6 122.7h0M472.5 64.4h0M532.7 40.4h0M493 175.5h0M492.7 191.1h0M598.7 96.6h0M564.8 83.3h0M619.7 80.9h0M477 154.9h0M526.9 185.2h0M636.2 140.3h0M534.3 99.6h0M634.9 124h0M578.1 86.3h0M552.5 122.7h0M501.2 23.5h0M535 65.6h0M582.8 181.4h0M579.5 189.6h0M539.4 20.4h0M637.4 16.8h0M486.1 77.7h0M582.8 101.8h0M527 72.2h0M602.3 38.7h0M566.7 95.1h0M595.9 62.3h0M634.2 66.8h0M479.5 21.1h0M615.6 55.1h0M641.9 49h0M586.1 54.6h0M504.5 60.5h0M524.4 28.1h0M568.2 29.7h0M589.3 188.4h0M572.5 177.8h0M476.6 80.6h0M529.2 135.4h0M559 65.5h0M624 159.4h0M511.6 180.3h0M588.7 41.1h0M629.1 86h0M579.7 184h0M487 159.5h0M544.2 164.1h0M582.8 147.7h0M542.1 88.1h0M499.5 98h0M620.1 119.4h0M565.7 25.9h0M515.8 106.8h0M472.1 162.8h0M540.7 80h0M475.3 128.8h0M465.2 138h0M636.3 47.2h0M543.1 99.7h0M546.8 114.2h0M560.3 129.9h0M518.4 165.4h0M575.1 40.9h0M624.4 175.1h0M464.1 175h0M496.3 117.4h0M630.1 72.7h0M612.4 171.8h0M467.8 136.7h0M481.3 22h0M489.2 181.2h0M499.1 105.6h0M645.3 43.4h0M551.4 52.7h0M577.4 92.1h0M530.1 94.5h0M599.6 26.6h0M494.8 22.5h0M537.2 80.9h0M476 160.3h0M605.4 124.1h0M541.7 122.8h0M487.5 58.9h0M530.8 77.9h0M470.3 32.1h0M586.5 81.4h0M588.8 39.4h0M470.9 127.7h0M565.5 183.7h0M571.2 89.1h0M559.1 142.3h0M566.8 73.4h0M548.9 185.2h0M620.9 62.3h0M543.7 190.6h0M474 112h0M613.9 85.1h0M608.8 108.8h0M590.8 57.7h0M513.6 109.2h0M527.6 35.5h0M588.5 188.8h0M577.7 185.4h0M583.5 50.7h0M578 96.6h0M484 51.2h0M613.3 81.3h0M544.8 163.6h0M493 165.5h0M515.3 23.3h0M469.5 112h0M628.8 175.5h0M470.6 171.4h0M614.4 89h0M555.2 186.4h0M532.1 69.7h0M514.8 94.5h0M554.5 15.3h0M613.7 145.6h0M503.6 153h0M586.1 49.6h0M491.6 73.4h0M588.6 89.5h0M549.3 172.6h0M480 63.5h0M496.2 58.5h0M509.1 99.2h0M530.3 112.2h0M469.9 117.1h0M525.1 181.6h0M597.7 187.5h0M475.1 24.2h0M594.9 171.1h0M589.8 53.1h0M513.2 188.2h0M484.7 181.3h0M502.2 180.9h0M601.5 44.7h0M579.1 181h0M478.5 34.3h0M608.5 156h0M571.4 173.6h0M543.2 168.9h0M630.7 192.5h0M539.7 87.4h0M555.5 182.2h0M503.7 189.5h0M481.7 62.5h0M600.9 131.7h0M468.2 64.7h0M604.3 28.1h0M577.7 21.1h0M614.2 40.4h0M550.2 38.2h0M520.3 152.6h0M637.9 163.2h0M539.4 81.8h0M506.4 58.7h0M552.5 38.4h0M538.9 16.5h0M538.4 32.9h0M521.1 60.1h0M518.7 192.2h0M546.2 81.1h0M501.6 125h0M571.6 175.3h0M528.1 143.4h0M482.9 154.2h0M467.1 52.7h0M529.9 196.6h0M620.8 93.2h0M578.3 177.1h0M606.7 48.4h0M479.9 94.9h0" stroke="#b85034" stroke-width="1.0" opacity="0.75"/>
<path d="M480.1 123.2h0M546.5 54.9h0M573.2 135.3h0M522.6 30h0M596.8 122.9h0M520.8 157.3h0M565.1 183.3h0M612.9 188.8h0M542.3 180h0M629.4 140.8h0M592.3 166.9h0M508.6 68.6h0M606.7 116.7h0M616.9 34.2h0M567.9 100.8h0M596.9 15h0M563.9 116.5h0M626 173.1h0M607.7 138.1h0M513.3 171h0M551 144.7h0M606.6 165.4h0M543.3 72.5h0M562.9 172.3h0M543.4 165.6h0M563.4 128.9h0M619.3 86.3h0M475.2 20.5h0M575.6 25.9h0M582.8 71.2h0M602.8 125.8h0M514.2 66.5h0M640.9 130.5h0M604.4 119h0M611.4 79.3h0M559 180.6h0M491.1 39.9h0M644.2 127.2h0M558 163.2h0M600.2 42.3h0M581.9 153.9h0M526.9 31.2h0M553 160.1h0M491.2 69.1h0M561 189.5h0M538.5 150.3h0M599.4 76.7h0M548.7 149.1h0M602.1 66.1h0M619.9 165.9h0M582.6 22.3h0M613.1 61.3h0M496.4 126.9h0M535.9 14.5h0M632.5 21.9h0M540.4 74.2h0M621.5 111.5h0M559 55.5h0M485 30.8h0M474.2 63.3h0M614.6 97h0M478.6 98.6h0M467.7 118.6h0M567.3 50.2h0M510.5 75.2h0M514.9 72.2h0M544.2 119.5h0M575.7 47.2h0M538.8 158.5h0M536.4 181.4h0M613.9 77.5h0M559.7 110.9h0M557 88.2h0M530.8 83.7h0M501.7 57.1h0M518.2 62.2h0M547.2 178.7h0M500.6 159.8h0M508.4 135.5h0M624 39.2h0M478.3 69.7h0M525.5 73.4h0M635.6 23.6h0M558.6 147.6h0M624 82.2h0M551.2 121.9h0M622 70.8h0M597.7 42.8h0M515.5 188h0M497.7 158.3h0M620.2 180.4h0M482.4 65.7h0M503.7 96.9h0M584.7 52.3h0M563.1 132.7h0M594.6 44.4h0M579.5 101.8h0M545.9 185.1h0M574.9 43.8h0M488.1 68.7h0M470.9 51.1h0M601.3 162.3h0M560 105h0M469.4 184.6h0M492.1 166.1h0M525.9 41.5h0M467.3 150.8h0M641.3 172.3h0M468.3 196.6h0M614.8 68.1h0M562 45.2h0M472 153.2h0M531.2 64.5h0M629.5 127.6h0M514.8 54.5h0M488.7 41h0M592.6 99.7h0M526 142.8h0M536.6 96.3h0M554.6 108h0M561.4 74.7h0M548.4 92.4h0M552.9 17.6h0M544.9 109.5h0M635.9 87.1h0M605.3 17.2h0M566.3 120.2h0M469.8 60h0M604 120.6h0M621.1 184.5h0M560 139.9h0M517.9 173.9h0M600.4 159h0M561.5 100.9h0M532 34.5h0M560.1 95.8h0M476.3 159.2h0M638.6 45.2h0M557.7 23.8h0M567.1 107h0M622 76.2h0M561.8 117.1h0M512.5 109.9h0M489 108.1h0M549.8 52.3h0M635.1 22.7h0M489.3 90.2h0M498.7 33.9h0M622.4 51.7h0M624.3 159.7h0M530.2 24.7h0M577.7 136.6h0M554.2 85.5h0M584.3 14.4h0M524.9 182.2h0M597.7 30h0M599.8 55.3h0M622.3 26.3h0M645.5 74.8h0M626.2 163.7h0M544.1 165.3h0M572.8 89.5h0M544.8 80.4h0M468.7 128.3h0M566.6 75.6h0M647.7 61.1h0M585.1 174.3h0M547.9 23.8h0M567.4 143.2h0M630.1 76.1h0M641.8 41.9h0M609.4 134.4h0M522.3 72.3h0M581.5 125.8h0M582.4 88.3h0M594.7 74.9h0M539.8 176.7h0M630.1 62.3h0M504.6 79.4h0M638 52.1h0M473.2 20.4h0M584.2 31.5h0M578.8 30.4h0M573.6 37.1h0M541.5 161h0M618.5 154.1h0M494.6 70h0M568.8 170.7h0M499.4 154.9h0M487.6 42.7h0M521.3 41.5h0M554.1 152h0M621.5 25h0M578 20.6h0M597.7 174.3h0M523.9 122.4h0M595.1 120.1h0M645.3 34.4h0M524.3 194.3h0M552.7 95.7h0M505.6 121.9h0M597.2 197.6h0M569.8 114.7h0M492.5 194.9h0M638.9 192.1h0M486.2 70.1h0M583.7 97.2h0M610.7 130.9h0M506.1 32.1h0M578.4 72.6h0M627 105.2h0M615.8 176.9h0M642 58.7h0M474.4 59h0M587.2 50.2h0M497.6 82.9h0M487 102.6h0M484 192.5h0M492.2 105.5h0M519.4 117h0M531.6 62.2h0M627.4 91.7h0M519.7 45.2h0M617.7 101.9h0M596.1 138.7h0M502.9 151.1h0M612 191.8h0M523.2 135.9h0M510.7 97.6h0M628.1 64.4h0M588.9 153.7h0M506.9 113.3h0M588.6 147.7h0M626.8 82.6h0M470.7 58.9h0M646.7 54.2h0M495 134.2h0M530.5 35.8h0M594.3 83.2h0M582.8 30.7h0M574 69.3h0M554.9 59.5h0M485.2 147.7h0M467.2 30.3h0M480.2 38.5h0M567.1 109.9h0M476.5 79.4h0M602.6 52.6h0M613.5 162.8h0M604.2 68.7h0M579.3 24.7h0M645.1 23h0M468.3 33.8h0M478.1 138.1h0M643.6 106.7h0M639 125.4h0M519.9 140.1h0M632.2 21.7h0M510.8 62.1h0M619.7 144.2h0M634.2 67.7h0M645.3 70.4h0M643.2 192.5h0M621.8 186.7h0M548.1 83.3h0M473 153.3h0M498.6 79.7h0M563.1 97.3h0M540.6 172h0M613.6 188.3h0M531.5 32.7h0M594.2 91.8h0M637 22.9h0M482.1 98h0M640.3 66.6h0M648.2 44.9h0M605 102.1h0M579.9 179.5h0M604 116.8h0M530.5 77.1h0M515.1 118.1h0M520.3 27h0M589.7 117.3h0M586.4 129.5h0M622.8 192.1h0M583.2 84.1h0M486.4 161.5h0M540.4 179.7h0M632.9 29.8h0M587.7 113.6h0M495.1 26.8h0M527.4 44.7h0M598.8 104.4h0M553.4 139.6h0M635.5 41.4h0M522.8 126.6h0M535.4 62.7h0M562.4 156.1h0M532.6 93.7h0M618.4 109.3h0M638.5 122.6h0M643.9 49.5h0M608.9 22.3h0M483.2 141.4h0M565.2 109.9h0M512.1 129.8h0M607.6 41.9h0M641.5 162.3h0M577.6 139h0M507.5 32.3h0M644 73.8h0M633.6 163.8h0M482.8 88.6h0M480.7 34.1h0M479.3 157.8h0M577.3 40.6h0M498.3 60.5h0M516 193.6h0M590.9 114h0M478.6 95.1h0M555.2 93.7h0M613.5 98.7h0M632.7 124.6h0M525.3 147.7h0M586.1 32.9h0M478.7 190.7h0M476.1 170.5h0M489 135.3h0M505.2 77h0M643.7 60.5h0M607.5 54.1h0M493.7 181.4h0M536 102h0M518.3 40.3h0M618.5 85.5h0M558.2 66.7h0M506.8 177.5h0M648 14.2h0M531.8 188.8h0M525.5 167.9h0M641.5 99.2h0M487.6 31.2h0M622.5 162.8h0M527.5 66.7h0M571.5 97.8h0M546.2 94.7h0M633.8 22.7h0M609.9 119.9h0M633.7 139.2h0M647.9 188.2h0M598.2 74.3h0M528.5 40.7h0M523.9 86.4h0M509.9 60.8h0M519.2 132.8h0M479.2 106.4h0M589.7 110h0M553 112.7h0M583.8 184.1h0M603.5 72.6h0M464.8 181.4h0M520.4 54.7h0M642.9 62.9h0M560 62.4h0M537.5 77.3h0M648.3 159.2h0M559 23.9h0M498.6 56.4h0M539.3 99.6h0M470.9 27.6h0M551.7 41h0M594.2 49.1h0M555.8 124.6h0M518.1 196.9h0M521.8 81.4h0M514.1 73.7h0M516 62.7h0M583.6 112.3h0M614.2 135.1h0M560.9 124.2h0M537.3 51h0M474.2 47.5h0M599.1 171.7h0M647.2 25.7h0M488.8 71.8h0M608.1 110.2h0M520.2 196.2h0M574 88.6h0M625.4 80.5h0M569.8 17.1h0M530.1 68.5h0M501.9 63.1h0M485.3 178.6h0M611.5 76.9h0M527.6 142h0M559.2 186.7h0M545.7 109.4h0M626.4 75.8h0M473 49.9h0M610.5 103.6h0M538.9 108.4h0M635.8 119.9h0M642.4 91.4h0M513.8 84.4h0M537.4 156.1h0M559.7 80h0M575.5 130.6h0M554.2 194.3h0M471.2 42.9h0M612 134.5h0M580.1 63.4h0M583.1 138.1h0M493.1 180.6h0M606.4 101.5h0M485.2 164.1h0M530.7 43.4h0M495.9 163h0M567 98.7h0M530.1 154.4h0M513 194.2h0M607 149h0M557 163.8h0M479.8 39.2h0M474.9 15.5h0M578.4 184.9h0M584.8 157.4h0M542.2 35.9h0M554.1 132.1h0M573.2 71.6h0M504.6 186h0M591.2 43.6h0M543.4 163.3h0M490.4 33.3h0M534.3 28.3h0M646.6 24.3h0M570.2 197.3h0M588.5 134.3h0M570.4 196.5h0M502.5 122.6h0M525 54.9h0M537 107.1h0M556 77.2h0M623.6 42.3h0M475.8 180.5h0M528.3 48.5h0M512.3 69.3h0M605.2 20.4h0M551.9 14.8h0M628.6 59.5h0M489.6 108.6h0M533 197.5h0M466.8 23.7h0M642.7 140.9h0M571.9 57h0M497.8 194h0M606.3 20h0M477.7 114.1h0M602.1 121.5h0M604.9 155.6h0M562.9 121.9h0M525.4 189.2h0M629.7 158.5h0M577.9 59.7h0M493 34.2h0M500.9 144.5h0M543.9 197.7h0M576.2 71.3h0M590.5 155.2h0M494.6 187.5h0M551.5 108.5h0M590.2 125.3h0M531.3 179.1h0M491.5 156.1h0M491.8 70.8h0M612.4 157.1h0M508.2 176.1h0M474.6 120.7h0M482.6 187h0M623.2 183.9h0M482.5 31.6h0M586.8 179.9h0" stroke="#ffe2a8" stroke-width="1.25" opacity="0.7"/>
<path d="M479.3 123.5h0M545.7 55.2h0M572.2 135.7h0M521.7 30.4h0M596 123.2h0M519.9 157.7h0M564.2 183.6h0M612 189.2h0M541.5 180.3h0M628.6 141.1h0M591.3 167.3h0M507.8 68.9h0M605.8 117.1h0M615.9 34.6h0M567.1 101.2h0M596.1 15.3h0M563.1 116.9h0M625.2 173.5h0M606.8 138.5h0M512.4 171.4h0M550.1 145.1h0M605.6 165.8h0M542.3 72.9h0M562 172.6h0M542.5 166h0M562.6 129.2h0M618.5 86.6h0M474.4 20.8h0M574.7 26.3h0M581.8 71.6h0M601.9 126.2h0M513.3 66.9h0M640 130.9h0M603.5 119.3h0M610.5 79.7h0M558.2 180.9h0M490.1 40.3h0M643.4 127.5h0M557.1 163.5h0M599.3 42.7h0M581.1 154.3h0M526 31.6h0M552.2 160.4h0M490.3 69.5h0M560 189.9h0M537.5 150.7h0M598.5 77.1h0M547.7 149.5h0M601.2 66.5h0M619 166.3h0M581.7 22.6h0M612.2 61.7h0M495.6 127.3h0M535.1 14.9h0M631.6 22.3h0M539.6 74.6h0M620.6 111.8h0M558.1 55.8h0M484.1 31.2h0M473.4 63.6h0M613.7 97.4h0M477.6 99h0M466.9 119h0M566.4 50.6h0M509.6 75.6h0M514 72.5h0M543.3 119.8h0M574.8 47.6h0M537.8 158.9h0M535.5 181.7h0M613.1 77.8h0M558.8 111.2h0M556.1 88.5h0M530 84.1h0M500.9 57.5h0M517.3 62.6h0M546.2 179.1h0M499.8 160.1h0M507.4 135.9h0M623.1 39.5h0M477.5 70.1h0M524.7 73.8h0M634.7 24h0M557.8 148h0M623.1 82.6h0M550.4 122.2h0M621.1 71.2h0M596.8 43.2h0M514.6 188.4h0M496.8 158.6h0M619.4 180.8h0M481.5 66.1h0M502.8 97.2h0M583.7 52.7h0M562.2 133.1h0M593.7 44.7h0M578.7 102.2h0M545.1 185.5h0M574 44.2h0M487.2 69.1h0M470 51.5h0M600.4 162.7h0M559.2 105.4h0M468.5 185h0M491.1 166.5h0M525 41.9h0M466.4 151.2h0M640.5 172.7h0M467.4 196.9h0M614 68.4h0M561.1 45.6h0M471.1 153.5h0M530.3 64.8h0M628.6 127.9h0M514 54.8h0M487.8 41.4h0M591.7 100.1h0M525.1 143.2h0M535.6 96.7h0M553.8 108.4h0M560.4 75.1h0M547.6 92.7h0M552 18h0M544 109.9h0M635.1 87.5h0M604.4 17.6h0M565.3 120.6h0M468.9 60.4h0M603.1 121h0M620.3 184.8h0M559.1 140.3h0M517.1 174.3h0M599.5 159.4h0M560.6 101.2h0M531 34.9h0M559.1 96.2h0M475.4 159.5h0M637.6 45.6h0M556.8 24.2h0M566.3 107.3h0M621.2 76.6h0M560.8 117.5h0M511.6 110.2h0M488.1 108.5h0M549 52.6h0M634.3 23.1h0M488.4 90.6h0M497.9 34.2h0M621.5 52h0M623.4 160.1h0M529.3 25.1h0M576.7 137h0M553.2 85.9h0M583.5 14.8h0M524.1 182.6h0M596.8 30.4h0M599 55.7h0M621.4 26.6h0M644.6 75.2h0M625.3 164h0M543.1 165.7h0M571.9 89.9h0M543.9 80.8h0M467.8 128.7h0M565.7 76h0M646.7 61.5h0M584.3 174.6h0M547.1 24.1h0M566.5 143.6h0M629.2 76.5h0M640.9 42.2h0M608.5 134.8h0M521.4 72.7h0M580.7 126.1h0M581.5 88.6h0M593.9 75.3h0M539 177h0M629.2 62.7h0M503.7 79.8h0M637.1 52.5h0M472.3 20.7h0M583.2 31.9h0M577.9 30.8h0M572.7 37.5h0M540.5 161.4h0M617.6 154.4h0M493.6 70.4h0M567.9 171.1h0M498.6 155.3h0M486.7 43.1h0M520.4 41.8h0M553.3 152.3h0M620.5 25.4h0M577.1 21h0M596.8 174.7h0M523 122.7h0M594.2 120.5h0M644.5 34.7h0M523.4 194.6h0M551.8 96.1h0M504.8 122.2h0M596.3 197.9h0M569 115.1h0M491.7 195.3h0M637.9 192.5h0M485.4 70.4h0M582.9 97.6h0M609.9 131.3h0M505.1 32.5h0M577.6 73h0M626 105.6h0M614.9 177.2h0M641.1 59.1h0M473.5 59.3h0M586.3 50.5h0M496.8 83.2h0M486 102.9h0M483.2 192.8h0M491.4 105.8h0M518.5 117.3h0M530.7 62.5h0M626.4 92.1h0M518.8 45.6h0M616.8 102.2h0M595.3 139.1h0M502 151.5h0M611.1 192.2h0M522.3 136.2h0M509.8 97.9h0M627.1 64.8h0M588.1 154h0M506 113.8h0M587.8 148.1h0M625.9 82.9h0M469.8 59.2h0M645.8 54.6h0M494.1 134.6h0M529.6 36.2h0M593.3 83.6h0M581.9 31h0M573.2 69.7h0M554 59.9h0M484.4 148.1h0M466.4 30.6h0M479.4 38.8h0M566.3 110.3h0M475.7 79.8h0M601.7 52.9h0M612.6 163.1h0M603.3 69.1h0M578.4 25.1h0M644.1 23.4h0M467.4 34.2h0M477.1 138.5h0M642.7 107.1h0M638.1 125.7h0M519 140.5h0M631.3 22h0M509.9 62.5h0M618.8 144.5h0M633.4 68h0M644.5 70.7h0M642.2 192.9h0M620.8 187.1h0M547.2 83.7h0M472.1 153.7h0M497.6 80.1h0M562.2 97.7h0M539.7 172.4h0M612.8 188.6h0M530.7 33h0M593.4 92.1h0M636.1 23.3h0M481.3 98.3h0M639.4 67h0M647.3 45.2h0M604.1 102.5h0M579.1 179.9h0M603 117.2h0M529.6 77.4h0M514.3 118.5h0M519.4 27.3h0M588.7 117.7h0M585.6 129.9h0M622 192.4h0M582.2 84.5h0M485.6 161.8h0M539.6 180h0M631.9 30.2h0M586.8 114h0M494.2 27.2h0M526.5 45.1h0M598 104.7h0M552.4 140h0M634.6 41.8h0M522 126.9h0M534.5 63.1h0M561.5 156.5h0M531.7 94.1h0M617.5 109.6h0M637.6 122.9h0M643.1 49.8h0M608 22.7h0M482.3 141.8h0M564.3 110.3h0M511.2 130.2h0M606.7 42.2h0M640.7 162.7h0M576.6 139.4h0M506.6 32.7h0M643.2 74.2h0M632.7 164.2h0M482 88.9h0M479.8 34.4h0M478.4 158.2h0M576.5 41h0M497.4 60.9h0M515.1 194h0M590 114.3h0M477.6 95.5h0M554.3 94.1h0M612.7 99h0M631.7 125h0M524.4 148h0M585.2 33.3h0M477.9 191h0M475.2 170.9h0M488.1 135.6h0M504.4 77.3h0M642.8 60.8h0M606.6 54.5h0M492.9 181.7h0M535.1 102.4h0M517.4 40.6h0M617.6 85.8h0M557.4 67h0M505.9 177.8h0M647.1 14.6h0M530.9 189.2h0M524.6 168.3h0M640.5 99.6h0M486.7 31.6h0M621.6 163.2h0M526.5 67.1h0M570.7 98.1h0M545.4 95h0M632.9 23h0M609.1 120.2h0M632.9 139.5h0M647.1 188.6h0M597.4 74.6h0M527.7 41.1h0M523.1 86.8h0M508.9 61.3h0M518.3 133.2h0M478.4 106.8h0M588.9 110.3h0M552.2 113.1h0M582.8 184.5h0M602.7 72.9h0M463.9 181.7h0M519.5 55.1h0M642 63.3h0M559.1 62.8h0M536.6 77.6h0M647.4 159.5h0M558 24.4h0M497.6 56.8h0M538.4 100h0M470.1 27.9h0M550.7 41.3h0M593.2 49.5h0M554.9 124.9h0M517.3 197.3h0M520.8 81.8h0M513.2 74.1h0M515.1 63h0M582.7 112.7h0M613.3 135.4h0M560 124.6h0M536.5 51.3h0M473.2 48h0M598.1 172.1h0M646.2 26.1h0M487.9 72.1h0M607.2 110.6h0M519.3 196.6h0M573.1 88.9h0M624.5 80.9h0M569 17.4h0M529.2 68.9h0M501 63.5h0M484.4 179h0M610.5 77.3h0M526.7 142.4h0M558.3 187.1h0M544.8 109.7h0M625.5 76.1h0M472.1 50.2h0M609.6 104h0M538.1 108.7h0M635 120.2h0M641.6 91.8h0M512.9 84.8h0M536.5 156.4h0M558.9 80.4h0M574.5 131h0M553.2 194.7h0M470.3 43.2h0M611 134.9h0M579.1 63.8h0M582.2 138.5h0M492.2 180.9h0M605.6 101.8h0M484.3 164.5h0M529.8 43.7h0M495 163.4h0M566.2 99.1h0M529.2 154.7h0M512.1 194.6h0M606.1 149.4h0M556.2 164.1h0M478.9 39.5h0M474 15.8h0M577.5 185.3h0M583.8 157.8h0M541.3 36.3h0M553.3 132.5h0M572.4 72h0M503.8 186.3h0M590.3 44h0M542.5 163.7h0M489.6 33.7h0M533.4 28.7h0M645.8 24.7h0M569.3 197.7h0M587.7 134.7h0M569.4 196.9h0M501.5 123h0M524.2 55.2h0M536.1 107.4h0M555 77.6h0M622.6 42.7h0M474.9 180.9h0M527.5 48.8h0M511.5 69.6h0M604.3 20.8h0M551.1 15.1h0M627.8 59.8h0M488.7 109h0M532.1 197.9h0M466 24.1h0M641.9 141.3h0M571 57.5h0M496.8 194.4h0M605.5 20.3h0M476.8 114.5h0M601.2 121.8h0M604 156h0M562.1 122.3h0M524.6 189.5h0M628.9 158.8h0M577 60h0M492.2 34.6h0M500.1 144.8h0M543 198h0M575.3 71.7h0M589.6 155.6h0M493.7 187.9h0M550.6 108.9h0M589.4 125.7h0M530.3 179.5h0M490.7 156.4h0M490.8 71.2h0M611.4 157.5h0M507.4 176.4h0M473.8 121.1h0M481.6 187.4h0M622.3 184.3h0M481.6 32h0M585.9 180.3h0" stroke="#b85034" stroke-width="1.25" opacity="0.75"/>
<path d="M469.4 30h0M542.4 108.5h0M643.5 80.9h0M532.6 119.4h0M593.5 102.5h0M600.7 87h0M577.3 39.8h0M531.4 134h0M472.1 86.9h0M644.2 150.4h0M591.6 188.5h0M479.8 160.5h0M575.3 165.6h0M557 195.1h0M573.9 196.5h0M587.5 83.4h0M592.4 33.7h0M635.2 157.8h0M482.1 129.6h0M492.1 148.6h0M530.2 32.8h0M526.1 119.3h0M606.9 158.6h0M647 122.2h0M571.6 20.2h0M640.9 115.1h0M537.8 119.4h0M599.1 25.3h0M493.7 180.1h0M571.8 116.5h0M499.5 162h0M495.3 20.8h0M528 72.9h0M615.8 47.5h0M467.4 36.8h0M544.5 198.1h0M593.7 154.2h0M507.4 35.6h0M639.7 197.2h0M559.2 185.2h0M533.9 95h0M558.3 43.8h0M624.3 134.6h0M532 193.2h0M507.2 195.2h0M631.3 134.1h0M566.2 141.4h0M581.9 87.1h0M562.4 134.2h0M600 163.2h0M478.6 151.6h0M492 71.3h0M513 76.3h0M509.1 58.7h0M614.8 46.4h0M470.6 45.7h0M602.5 179.7h0M512.2 100.4h0M612.2 156.3h0M631.3 106.4h0M572.2 146.6h0M591.5 185.4h0M498.9 98.5h0M465.4 189.9h0M490.8 63.3h0M522 87.8h0M588.9 99.3h0M519.4 184.6h0M478.8 22.3h0M517.5 65.3h0M538.4 58.2h0M576.9 58.7h0M553.7 89.1h0M619.2 98.8h0M573.8 147.4h0M617.1 89h0M497.7 127.4h0M542.4 134h0M634.6 117.5h0M548.6 95.2h0M625.3 193.1h0M471.9 176.8h0M559.8 35.6h0M615.3 16.2h0M486.9 169h0M594.3 135.3h0M485.7 192h0M560.9 21.7h0M539.7 135.8h0M586.9 92.9h0M611.5 97.6h0M479.9 65.7h0M527.2 97.9h0M535.4 137.7h0M486.5 191.9h0M587 92.7h0M470.2 178.1h0M474.1 159.3h0M485.3 47h0M516.7 119h0M470.6 17.2h0M640 89.4h0M639 176.8h0M541.7 133.6h0M521.1 30.3h0M622.9 115.1h0M534.1 150.5h0M550.2 53.2h0M519.2 182h0M600.6 33.6h0M480.6 16.6h0M567.6 34.8h0M586.9 115.1h0M508.1 172.4h0M613 49.4h0M490.3 175.1h0M521.4 26.9h0M638.6 49.7h0M527.3 28.9h0M478.2 184.4h0M469.5 148.6h0M567.3 18h0M574 22.4h0M620.2 23.6h0M595.9 95.3h0M507.2 194.6h0M634.6 150.3h0M477.9 111.2h0M555.2 89h0M639.7 47.9h0M567.8 143.9h0M631.9 64.5h0M501.9 86.9h0M606.7 122.4h0M617.8 31.4h0M485.8 141.1h0M465.6 33.9h0M525.2 159.6h0M479 191.2h0M469.5 78.8h0M626.9 132.3h0M634 150.5h0M552.9 61.1h0M479.4 16.8h0M558.3 188.2h0M546.8 158.5h0M580.1 138.8h0M568.7 19.9h0M520.4 64.2h0M492.8 26.6h0M525.3 107.8h0M479.2 90.4h0M538.4 176.6h0M480.5 108.1h0M558.5 128.5h0M542.3 185.4h0M628.2 108.4h0M468 102.5h0M606.7 155.4h0M569.1 109.3h0M494.7 197.2h0M489.8 43.7h0M490.2 17.5h0M508.5 83.9h0M480.3 120.5h0M549.6 99.4h0M528.3 69.3h0M617.2 26.9h0M616 56.9h0M597.7 82.8h0M508.7 182.3h0M616.7 142.5h0M645.3 153.4h0M471.3 126.8h0M542.4 151.9h0M588.9 138.4h0M527.6 135.9h0M503.5 26.8h0M599.4 178h0M605.8 52.4h0M612 155.7h0M617.8 121.2h0M600.6 186.1h0M582.7 62.1h0M506.5 136.4h0M479.3 44.5h0M595.6 90.7h0M510.3 105.8h0M572.7 44.4h0M521.4 60.7h0M640.1 121.8h0M550.3 72.5h0M550.9 175.2h0M547.4 153.2h0M589.6 51.5h0M516.5 29.2h0M563.9 104.5h0M473.9 32.8h0M500.2 60.4h0M599.5 47.9h0M579.5 71.9h0M526.6 143.1h0M574.1 183h0M589.3 138.4h0M563.3 114h0M607.5 194.3h0M621.3 42.6h0M580.9 177.4h0M595.9 118.5h0M535.4 193h0M502.3 140.8h0M471 175h0M642.7 195.3h0M505.8 125.5h0M516.8 45.4h0M483.9 36.4h0M583.1 133.9h0M633.3 92.6h0M510.1 164.8h0M469.8 66.7h0M554.3 81.5h0M528.7 132.8h0M465.4 138.6h0M612.1 44.3h0" stroke="#ffe2a8" stroke-width="1.5" opacity="0.7"/>
<path d="M468.3 30.4h0M541.3 109h0M642.3 81.4h0M531.6 119.9h0M592.5 103h0M599.6 87.4h0M576.2 40.2h0M530.3 134.5h0M471 87.3h0M643.1 150.9h0M590.6 188.9h0M478.7 161h0M574.2 166.1h0M555.9 195.6h0M572.8 197h0M586.4 83.9h0M591.3 34.1h0M634.2 158.2h0M481 130h0M491 149h0M529.1 33.2h0M525 119.7h0M605.9 159h0M645.9 122.7h0M570.5 20.7h0M639.9 115.6h0M536.8 119.9h0M598 25.8h0M492.6 180.6h0M570.7 116.9h0M498.4 162.4h0M494.2 21.3h0M527 73.3h0M614.7 48h0M466.3 37.3h0M543.4 198.5h0M592.7 154.6h0M506.3 36h0M638.6 197.7h0M558.1 185.6h0M532.8 95.4h0M557.3 44.2h0M623.3 135h0M530.9 193.6h0M506 195.7h0M630.2 134.6h0M565.1 141.9h0M580.8 87.5h0M561.3 134.6h0M599 163.6h0M477.4 152.1h0M491 71.7h0M512 76.7h0M508 59.1h0M613.7 46.9h0M469.5 46.1h0M601.3 180.2h0M511.2 100.8h0M611.2 156.7h0M630.1 106.8h0M571 147.1h0M590.5 185.8h0M497.8 98.9h0M464.4 190.3h0M489.7 63.8h0M520.9 88.3h0M587.7 99.7h0M518.3 185.1h0M477.7 22.7h0M516.5 65.8h0M537.4 58.6h0M575.8 59.2h0M552.7 89.5h0M618.2 99.3h0M572.7 147.8h0M616.1 89.5h0M496.6 127.9h0M541.3 134.5h0M633.6 118h0M547.5 95.7h0M624.2 193.6h0M470.9 177.2h0M558.7 36h0M614.3 16.6h0M485.9 169.4h0M593.1 135.7h0M484.7 192.4h0M559.8 22.1h0M538.6 136.2h0M585.9 93.3h0M610.5 98h0M478.8 66.2h0M526.2 98.4h0M534.4 138.1h0M485.4 192.4h0M585.9 93.1h0M469.2 178.5h0M473 159.7h0M484.3 47.5h0M515.5 119.4h0M469.6 17.7h0M638.9 89.9h0M638 177.2h0M540.5 134.1h0M520 30.8h0M621.9 115.5h0M533.1 150.9h0M549.2 53.6h0M518.2 182.4h0M599.6 34.1h0M479.5 17.1h0M566.5 35.2h0M585.8 115.6h0M507.1 172.8h0M611.9 49.8h0M489.2 175.5h0M520.3 27.4h0M637.5 50.1h0M526.2 29.4h0M477 184.8h0M468.4 149h0M566.2 18.5h0M572.9 22.9h0M619 24h0M594.8 95.7h0M506.1 195.1h0M633.6 150.7h0M476.8 111.6h0M554.2 89.4h0M638.6 48.4h0M566.7 144.4h0M630.8 65h0M500.8 87.4h0M605.7 122.8h0M616.7 31.9h0M484.8 141.5h0M464.4 34.4h0M524.1 160h0M477.9 191.7h0M468.4 79.3h0M625.9 132.7h0M632.9 151h0M551.9 61.5h0M478.3 17.2h0M557.3 188.6h0M545.8 158.9h0M579.1 139.2h0M567.6 20.3h0M519.3 64.6h0M491.8 27.1h0M524.2 108.2h0M478.2 90.9h0M537.3 177h0M479.4 108.6h0M557.4 129h0M541.3 185.8h0M627 108.9h0M466.9 102.9h0M605.7 155.9h0M567.9 109.8h0M493.7 197.7h0M488.7 44.2h0M489.1 18h0M507.4 84.3h0M479.3 120.9h0M548.5 99.9h0M527.2 69.8h0M616.2 27.3h0M614.8 57.4h0M596.7 83.2h0M507.7 182.7h0M615.7 142.9h0M644.3 153.8h0M470.3 127.3h0M541.3 152.3h0M587.8 138.9h0M526.4 136.4h0M502.5 27.2h0M598.4 178.4h0M604.7 52.8h0M610.9 156.1h0M616.7 121.7h0M599.6 186.6h0M581.7 62.5h0M505.5 136.8h0M478.3 44.9h0M594.6 91.2h0M509.3 106.2h0M571.7 44.8h0M520.3 61.1h0M639.1 122.2h0M549.3 73h0M549.7 175.7h0M546.4 153.6h0M588.5 51.9h0M515.5 29.6h0M562.9 104.9h0M472.7 33.2h0M499.1 60.8h0M598.5 48.3h0M578.4 72.4h0M525.6 143.5h0M573 183.5h0M588.1 138.9h0M562.1 114.5h0M606.4 194.8h0M620.2 43h0M579.8 177.9h0M594.7 119h0M534.3 193.5h0M501.1 141.2h0M470 175.4h0M641.7 195.7h0M504.6 126h0M515.7 45.9h0M482.8 36.9h0M582.1 134.4h0M632.3 93h0M508.9 165.3h0M468.8 67.2h0M553.3 81.9h0M527.7 133.2h0M464.4 139.1h0M611 44.8h0" stroke="#b85034" stroke-width="1.5" opacity="0.75"/>
<path d="M530.9 24.7h0M515.6 119.5h0M512.4 33.9h0M528 178.3h0M526.1 117h0M536.2 91.3h0M534.9 156.5h0M642.1 18.2h0M644.4 14.1h0M588.3 126.7h0M503.2 162.1h0M600.8 99.6h0M469.2 172.1h0M533.9 72.1h0M598.7 182.2h0M558 129.1h0M618.6 169.4h0M554.6 30.3h0M527.5 172.4h0M486.1 57.4h0M590.5 79.2h0M590.1 134.8h0M527.9 159.5h0M579.1 89.8h0M537.5 77.6h0M557.1 21.6h0M493.6 128.4h0M535.9 114.6h0M497.5 46.7h0M562.4 27.3h0M570.7 170.8h0M551.9 113.3h0M518.9 14.5h0M593.2 31.4h0M465.6 85.5h0M646.8 155h0M645.9 106.7h0M471.2 45.1h0M511.2 44.9h0M541.2 171.9h0M479.6 63.7h0M599.2 64.3h0M465.1 46.2h0M499.7 44.1h0M584.5 138.3h0M547.8 31.4h0M599.2 27.2h0M499.7 86h0M483.9 160h0M594.9 70.5h0M470.3 146.2h0M622.2 168.8h0M569.9 187.3h0M635.3 174.3h0M482.1 150.1h0M610.3 189.4h0M587.5 171.3h0M601 175.4h0M477.5 106.4h0M567.2 94.6h0M509.6 101.1h0M494.7 166.6h0M629.1 136.6h0M537 90.3h0M533.3 114.4h0M477.1 107.4h0M642.8 181.4h0M588.9 139.7h0M626.6 132.3h0M600.4 124.9h0M632.8 73.6h0M543 22.8h0M484.1 49.2h0M594.4 21.9h0M565.4 97.5h0M634.5 25.5h0M540.3 18.5h0M608.8 129.5h0M604.8 144.1h0M554.5 19.9h0M598.1 28.2h0M548.4 194.9h0M532 80.3h0M638.9 139.3h0M509.9 185.6h0M631.9 184.5h0M496 152.9h0M632.3 108.4h0M584.2 143.5h0M572.3 118.8h0M530.7 171.5h0M555 26.1h0M597.4 181.7h0M570.9 39.4h0M488.5 111.7h0M502.6 109.7h0M489.8 97h0M506.5 63.2h0M535.9 163.4h0M471.4 177.2h0M544.6 182.9h0M635.6 119.3h0M479.3 25.8h0M589 152h0M485.2 42.1h0M522.2 75.8h0M499.9 128h0M606.1 122.6h0M519.5 175.1h0M573.1 71.1h0M544.4 106.5h0M547.8 38.2h0M466.4 137.4h0M606.7 195.5h0M565.8 141.8h0M530.4 184.7h0M564.1 58.7h0M531.4 51.4h0M599.7 196.5h0M621.6 131.5h0" stroke="#ffe2a8" stroke-width="1.75" opacity="0.7"/>
<path d="M529.8 25.2h0M514.4 120.1h0M511.3 34.4h0M526.7 178.8h0M524.8 117.6h0M535 91.9h0M533.6 157.1h0M640.9 18.7h0M643.2 14.7h0M587 127.3h0M502 162.6h0M599.6 100.1h0M468.1 172.6h0M532.7 72.6h0M597.4 182.8h0M556.7 129.7h0M617.3 169.9h0M553.3 30.8h0M526.4 172.9h0M484.8 58h0M589.2 79.7h0M588.8 135.3h0M526.6 160h0M577.8 90.4h0M536.3 78.1h0M555.8 22.1h0M492.4 128.9h0M534.6 115.1h0M496.4 47.2h0M561.1 27.8h0M569.5 171.3h0M550.7 113.8h0M517.7 15h0M591.9 31.9h0M464.3 86.1h0M645.5 155.6h0M644.6 107.2h0M470 45.6h0M510 45.4h0M540 172.4h0M478.4 64.2h0M598 64.8h0M463.8 46.8h0M498.5 44.6h0M583.3 138.8h0M546.5 31.9h0M598 27.7h0M498.5 86.5h0M482.7 160.5h0M593.7 71.1h0M469 146.8h0M621 169.3h0M568.7 187.8h0M634.2 174.8h0M480.8 150.7h0M609 190h0M586.2 171.8h0M599.8 175.9h0M476.2 106.9h0M565.9 95.2h0M508.4 101.6h0M493.4 167.1h0M627.9 137.1h0M535.7 90.8h0M532 115h0M475.9 107.9h0M641.5 182h0M587.6 140.2h0M625.3 132.8h0M599.2 125.3h0M631.4 74.1h0M541.6 23.4h0M482.8 49.7h0M593.2 22.4h0M564.1 98.1h0M633.2 26.1h0M539.1 19h0M607.5 130h0M603.6 144.6h0M553.1 20.4h0M596.9 28.7h0M547.2 195.4h0M530.8 80.9h0M637.6 139.8h0M508.7 186.1h0M630.6 185.1h0M494.8 153.5h0M631 109h0M582.9 144h0M571.1 119.3h0M529.4 172h0M553.8 26.6h0M596.1 182.2h0M569.6 40h0M487.2 112.2h0M501.3 110.2h0M488.6 97.5h0M505.2 63.8h0M534.6 163.9h0M470.3 177.7h0M543.2 183.4h0M634.4 119.8h0M477.9 26.3h0M587.8 152.5h0M484 42.6h0M521.1 76.3h0M498.6 128.5h0M604.8 123.1h0M518.2 175.6h0M571.8 71.7h0M543.2 107h0M546.6 38.7h0M465.2 137.9h0M605.5 196.1h0M564.5 142.3h0M529.1 185.2h0M562.8 59.3h0M530.2 51.9h0M598.4 197.1h0M620.3 132h0" stroke="#b85034" stroke-width="1.75" opacity="0.75"/>
<path d="M635.2 188.6h0M609.6 40.2h0M569.1 95.5h0M635.3 71.5h0M486.4 94.2h0M545.9 56.3h0M580.7 28.8h0M631.6 24.3h0M590.2 74.7h0M555.2 149.7h0M479.8 90.1h0M621.7 73.4h0M635.5 164.6h0M477.6 24.9h0M526.2 98.2h0M572.7 105h0M494.4 87.5h0M628.2 172.7h0M592 146.5h0M508.4 49.5h0M587 58.5h0M503.7 119.7h0M527.7 47.6h0M606.1 61.9h0M624.2 48.2h0M584.9 154.5h0M576.9 37.4h0M540.3 128.2h0M581.2 151.1h0M599.2 20.7h0M634.7 102.6h0M558 169.5h0M501 80.8h0M619.8 105.6h0M513.2 60.6h0M499.9 176.5h0M512.9 148.1h0M520.4 24.6h0M502.7 116h0M517 19.6h0M497.1 44.1h0M624.3 23.7h0M541.3 121.9h0M627.9 61.5h0M568.1 172.7h0M594 194.6h0M470.7 18.5h0M524.1 89.6h0M645.6 122.1h0M524.2 191h0M622.8 37.5h0M482.3 153.8h0M643.6 103.9h0M642.6 187.5h0M495.8 58.8h0M558.4 91h0M494.4 157.6h0M578.2 156.8h0M521.2 39.1h0M498.2 131.2h0M588.3 98.8h0M628.6 185.5h0M492.8 126.6h0M637.1 30.6h0M468.9 186.2h0M628.9 16.8h0M522.7 43h0M604.7 63.6h0M594.3 79.4h0M537.5 90.9h0M582.5 134.1h0" stroke="#ffe2a8" stroke-width="2.0" opacity="0.7"/>
<path d="M633.7 189.3h0M608.1 40.8h0M567.8 96h0M633.8 72.1h0M484.9 94.8h0M544.4 57h0M579.3 29.4h0M630.2 24.9h0M588.8 75.3h0M553.8 150.2h0M478.3 90.7h0M620.2 74.1h0M634.1 165.3h0M476.1 25.5h0M524.9 98.8h0M571.2 105.7h0M492.9 88.1h0M626.8 173.3h0M590.5 147.1h0M506.9 50.1h0M585.5 59.1h0M502.4 120.3h0M526.3 48.2h0M604.7 62.5h0M622.8 48.7h0M583.5 155.1h0M575.4 38h0M538.8 128.8h0M579.8 151.7h0M597.8 21.2h0M633.3 103.3h0M556.6 170.1h0M499.5 81.4h0M618.4 106.2h0M511.9 61.1h0M498.4 177.1h0M511.4 148.7h0M519 25.1h0M501.2 116.6h0M515.5 20.2h0M495.7 44.6h0M622.9 24.3h0M539.8 122.5h0M626.4 62.1h0M566.7 173.4h0M592.5 195.3h0M469.3 19h0M522.6 90.2h0M644.2 122.7h0M522.8 191.6h0M621.4 38.1h0M480.8 154.4h0M642.2 104.5h0M641.1 188.1h0M494.5 59.4h0M556.9 91.6h0M492.9 158.2h0M576.8 157.4h0M519.8 39.7h0M496.8 131.8h0M586.8 99.4h0M627.1 186.1h0M491.3 127.2h0M635.6 31.3h0M467.4 186.8h0M627.5 17.4h0M521.2 43.6h0M603.2 64.2h0M592.8 80h0M536.1 91.5h0M581 134.8h0" stroke="#b85034" stroke-width="2.0" opacity="0.75"/>
<path d="M519 28.5h0M621.8 154.3h0M482.6 162.3h0M531 98.6h0M492.1 83.2h0M465.5 161.1h0M643.4 87.8h0M647.8 88.7h0M634.6 55.8h0M514.2 194.8h0M625 98.1h0M616.4 72.1h0M486.1 175h0M546.2 94.6h0M576.1 165.3h0M476 76.7h0M590.4 46.1h0M543.2 59.2h0M646.9 160.4h0M581.8 191.5h0M644.1 58.1h0M584.8 132.4h0M621.6 129.3h0M636.3 193.2h0M618 186.5h0M577.9 133.5h0M468.4 158.3h0M530.5 131.7h0M479.7 80.8h0M489.7 71.3h0M587.2 84.4h0M476.2 154.3h0M574.2 192.1h0M609.8 180.5h0M504.5 168.4h0M555.2 128.9h0M530 163.8h0M522 77.2h0M612.3 100.7h0M522.5 136.7h0M612.2 185.9h0M528.4 46.5h0M598.9 50.8h0M557.2 182.2h0M580.9 25.9h0M583 51.7h0M499 114.4h0M519.5 113.2h0" stroke="#ffe2a8" stroke-width="2.25" opacity="0.7"/>
<path d="M517.4 29.1h0M620.2 155h0M481 163h0M529.3 99.3h0M490.4 83.9h0M463.9 161.8h0M641.8 88.5h0M646.3 89.3h0M633 56.4h0M512.6 195.5h0M623.4 98.8h0M614.8 72.8h0M484.5 175.7h0M544.6 95.3h0M574.4 166h0M474.4 77.4h0M588.8 46.8h0M541.5 59.9h0M645.4 161h0M580.3 192.2h0M642.4 58.8h0M583.3 133.1h0M619.9 130h0M634.7 193.9h0M616.4 187.1h0M576.3 134.2h0M466.7 159h0M528.9 132.4h0M478.1 81.5h0M488 72h0M585.6 85.1h0M474.6 155h0M572.6 192.8h0M608.2 181.2h0M503 169h0M553.5 129.6h0M528.4 164.5h0M520.3 77.9h0M610.7 101.3h0M520.9 137.4h0M610.6 186.5h0M526.8 47.1h0M597.3 51.4h0M555.5 182.9h0M579.2 26.6h0M581.3 52.4h0M497.4 115h0M517.9 113.9h0" stroke="#b85034" stroke-width="2.25" opacity="0.75"/>
<path d="M639.1 44.8h0M614.1 140.5h0M585.6 45.3h0M616.4 120h0M577.1 183.1h0M501.5 77.9h0M485.8 183.5h0M515.2 119.4h0M563.9 123.2h0M497.2 176h0M607.2 129.3h0M639.4 130.6h0M579.5 128.4h0M577.3 55.9h0M512.3 184.6h0M591.6 194.6h0M604.3 171.6h0M587.8 80.5h0M578.8 74h0M630.8 27.1h0M475.2 185.3h0M530.8 83h0M492.9 72.3h0M563.7 79.8h0M601.4 170.2h0M545.3 138.2h0M483.4 24.6h0M484.1 57.2h0M580.7 78.9h0M591.6 165.8h0M519.3 49.5h0M542.8 129.6h0M585.5 189.5h0M522.6 69.3h0M536.3 190.3h0M478.5 50.6h0M556.4 77.5h0M580.4 131.8h0M617.3 81.8h0M568.4 176.3h0M526.3 113.9h0M473.8 137.4h0M608.1 74h0M566.1 137.8h0M595.3 53.9h0M543.8 29.9h0M599.6 161.5h0M639.1 137.9h0M608.5 109.4h0M545.4 126.8h0M508.6 25.2h0M557.1 158.9h0M513.2 52.7h0M546.2 54.6h0M608.5 86.9h0M554 113.1h0M507.2 51h0M507.7 103.9h0M638.2 127.3h0M630 169.1h0M608.6 104.7h0M547.7 52.2h0M604.3 191.6h0M643 43.7h0M614.1 194.7h0M548.2 163.1h0M481.8 93h0M516.8 196.8h0M588 145.6h0M560.3 92.2h0M472 26.4h0M547.5 61.1h0M532.2 56.2h0M632.3 191.2h0M523.5 28h0M486.8 129.4h0M578.5 68.9h0M613.5 166.6h0M594.7 99h0M538.8 124.2h0M534.3 144.8h0M627 190.8h0M521.9 115.4h0M498.7 25.3h0M587.5 59h0M520.7 94.1h0M486.8 95.5h0M642 38.8h0M584.7 179h0M518.5 173.5h0M604.9 126.1h0M501.8 54.6h0M580.4 79.7h0M494.9 105.3h0M566.4 149.3h0M494.1 90.5h0M509.7 54.8h0M628.2 31.6h0M627.5 142.3h0M615.9 87.2h0M616.6 111.2h0M588.8 98.3h0M539.7 163.9h0M600.2 22.3h0M602.9 194.5h0M621.3 83h0M556.9 57.9h0M478.4 83.6h0M546.4 135.5h0M625.3 170.9h0M525.7 193.9h0M522.9 147.8h0M560.1 113.9h0M533.8 62h0M627.1 186.3h0M558.9 123.9h0M634 117.4h0M534.4 30.5h0M539.6 136.6h0M525 143.3h0M558.5 127.6h0M629.1 129.7h0M636.7 23.8h0M487.7 171.1h0M479.8 92.9h0M543.8 50.6h0M466.1 93.4h0M582.6 115h0M627.6 76.8h0M570 91.4h0M605.6 69.4h0M555.7 53h0M555.1 65.6h0" stroke="#ffe2a8" stroke-width="2.5" opacity="0.7"/>
<path d="M637.4 45.5h0M612.4 141.2h0M583.9 46h0M614.6 120.7h0M575.4 183.8h0M499.7 78.6h0M484.1 184.2h0M513.5 120.2h0M562.2 123.9h0M495.5 176.7h0M605.4 130h0M637.7 131.3h0M577.8 129.1h0M575.6 56.6h0M510.5 185.3h0M589.9 195.3h0M602.6 172.3h0M586.1 81.2h0M577 74.7h0M629.1 27.9h0M473.5 186.1h0M529.1 83.7h0M491.1 73h0M562 80.6h0M599.7 170.9h0M543.6 138.9h0M481.7 25.4h0M482.4 57.9h0M578.9 79.7h0M589.9 166.5h0M517.6 50.2h0M541 130.3h0M583.8 190.2h0M520.9 70h0M534.6 191h0M476.8 51.4h0M554.7 78.2h0M578.6 132.5h0M615.6 82.5h0M566.7 177.1h0M524.6 114.7h0M472 138.1h0M606.4 74.7h0M564.4 138.6h0M593.6 54.7h0M542.1 30.6h0M597.9 162.2h0M637.3 138.6h0M606.8 110.1h0M543.7 127.5h0M506.8 25.9h0M555.4 159.6h0M511.5 53.4h0M544.4 55.3h0M606.8 87.6h0M552.2 113.8h0M505.5 51.7h0M506 104.6h0M636.5 128.1h0M628.2 169.8h0M606.9 105.4h0M546 53h0M602.5 192.3h0M641.3 44.4h0M612.4 195.4h0M546.4 163.8h0M480.1 93.7h0M515.1 197.5h0M586.3 146.3h0M558.5 93h0M470.3 27.1h0M545.8 61.8h0M530.5 56.9h0M630.6 192h0M521.8 28.7h0M485 130.1h0M576.8 69.6h0M611.7 167.3h0M593 99.7h0M537 124.9h0M532.6 145.5h0M625.2 191.5h0M520.1 116.1h0M497 26h0M585.8 59.7h0M519 94.8h0M485.1 96.2h0M640.3 39.5h0M583 179.8h0M516.7 174.2h0M603.2 126.8h0M500.1 55.3h0M578.7 80.4h0M493.2 106h0M564.7 150h0M492.4 91.2h0M507.9 55.5h0M626.5 32.3h0M625.8 143h0M614.2 87.9h0M614.9 111.9h0M587.1 99h0M538 164.6h0M598.4 23.1h0M601.1 195.2h0M619.6 83.8h0M555.2 58.7h0M476.7 84.3h0M544.7 136.2h0M623.6 171.7h0M523.9 194.6h0M521.1 148.5h0M558.3 114.6h0M532.1 62.7h0M625.3 187.1h0M557.2 124.6h0M632.3 118.1h0M532.7 31.3h0M537.8 137.3h0M523.2 144h0M556.8 128.3h0M627.4 130.5h0M635 24.5h0M486 171.8h0M478.1 93.6h0M542.1 51.3h0M464.4 94.1h0M580.9 115.8h0M625.8 77.5h0M568.3 92.1h0M603.9 70.1h0M554 53.7h0M553.4 66.3h0" stroke="#b85034" stroke-width="2.5" opacity="0.75"/>
</g>
<g filter="url(#bl4)">
<g filter="url(#bl2)"><circle cx="578.9" cy="150.9" r="19.1" fill="#f4c82c" opacity=".35"/><circle cx="469.6" cy="100.1" r="21.2" fill="#f4d028" opacity=".35"/><circle cx="630.1" cy="35.2" r="14.6" fill="#f6c030" opacity=".35"/><circle cx="534.4" cy="33.2" r="11.5" fill="#f6c030" opacity=".35"/><circle cx="539.4" cy="47.9" r="20.1" fill="#f09050" opacity=".35"/><circle cx="493.7" cy="161.1" r="9.9" fill="#f4c82c" opacity=".35"/><circle cx="546.1" cy="38.7" r="21.6" fill="#f4d028" opacity=".35"/><circle cx="502.8" cy="54" r="21.8" fill="#f6c030" opacity=".35"/><circle cx="517.5" cy="191.3" r="15.5" fill="#f6c030" opacity=".35"/><circle cx="497.7" cy="192.6" r="10.8" fill="#f09050" opacity=".35"/><circle cx="519.3" cy="80.9" r="10.3" fill="#f6c030" opacity=".35"/><circle cx="512.8" cy="75.5" r="19.4" fill="#f4c82c" opacity=".35"/><circle cx="464.9" cy="139.1" r="12.7" fill="#ee8a58" opacity=".35"/><circle cx="529.7" cy="70.7" r="17.7" fill="#f6c030" opacity=".35"/><circle cx="552.8" cy="144.1" r="8.8" fill="#f4d028" opacity=".35"/><circle cx="639" cy="80.2" r="13.7" fill="#f4c82c" opacity=".35"/><circle cx="609.2" cy="81.8" r="16.1" fill="#f4d028" opacity=".35"/><circle cx="547.6" cy="144.6" r="16.7" fill="#f6c030" opacity=".35"/><circle cx="486.2" cy="59.7" r="19.5" fill="#f09050" opacity=".35"/><circle cx="527.7" cy="79.7" r="15.3" fill="#f09050" opacity=".35"/><circle cx="484.2" cy="152.1" r="19.2" fill="#ee8a58" opacity=".35"/><circle cx="471" cy="188.4" r="9.3" fill="#ee8a58" opacity=".35"/><circle cx="558.7" cy="81.1" r="10.1" fill="#ee8a58" opacity=".35"/><circle cx="634.4" cy="114.7" r="12.4" fill="#ee8a58" opacity=".35"/><circle cx="520.6" cy="161.4" r="16.8" fill="#ee8a58" opacity=".35"/><circle cx="647.7" cy="44.1" r="8.7" fill="#f4c82c" opacity=".35"/></g><circle cx="507.8" cy="28" r="5.8" fill="url(#hY)" opacity="0.8"/><circle cx="509.2" cy="26.6" r="4.2" fill="url(#gK2)"/><circle cx="509" cy="26.8" r="2.8" fill="url(#gP)"/><circle cx="500.5" cy="21.7" r="5.1" fill="url(#hY)" opacity=".45"/><circle cx="501.4" cy="20.8" r="4.1" fill="url(#gK)"/><circle cx="501.1" cy="21.1" r="1.4" fill="#c03c8c" opacity=".65"/><circle cx="536.6" cy="24.8" r="6.3" fill="url(#hY)" opacity="0.8"/><circle cx="538.2" cy="23.2" r="4.5" fill="url(#gK2)"/><circle cx="538" cy="23.4" r="3" fill="url(#gP)"/><circle cx="533.3" cy="32.8" r="3.7" fill="url(#hY)" opacity=".45"/><circle cx="534" cy="32.1" r="3" fill="url(#gK)"/><circle cx="497.9" cy="43.6" r="4.1" fill="url(#hY)" opacity="0.7"/><circle cx="499" cy="42.5" r="3.1" fill="url(#gK2)"/><circle cx="498.9" cy="42.6" r="2.1" fill="url(#gP)"/><circle cx="501.1" cy="42.9" r="3.4" fill="url(#hY)" opacity="0.7"/><circle cx="502" cy="42" r="2.6" fill="url(#gK2)"/><circle cx="501.9" cy="42.1" r="1.7" fill="url(#gP)"/><circle cx="544.6" cy="46.4" r="3.7" fill="url(#hY)" opacity="0.7"/><circle cx="545.6" cy="45.4" r="2.9" fill="url(#gK2)"/><circle cx="545.5" cy="45.5" r="1.9" fill="url(#gP)"/><circle cx="514.8" cy="45.5" r="3.4" fill="url(#hY)" opacity=".45"/><circle cx="515.4" cy="44.9" r="2.7" fill="url(#gK)"/><circle cx="522.1" cy="51.3" r="3.4" fill="url(#hY)" opacity=".45"/><circle cx="522.7" cy="50.7" r="2.7" fill="url(#gK)"/><circle cx="524.9" cy="66.5" r="5.4" fill="url(#hY)" opacity="0.8"/><circle cx="526.3" cy="65.2" r="3.9" fill="url(#gK2)"/><circle cx="526.1" cy="65.4" r="2.6" fill="url(#gP)"/><circle cx="477.8" cy="100.9" r="7.6" fill="url(#hY)" opacity="0.8"/><circle cx="479.7" cy="99" r="5.5" fill="url(#gK2)"/><circle cx="479.5" cy="99.2" r="3.6" fill="url(#gP)"/><circle cx="468.9" cy="99.1" r="4.2" fill="url(#hY)" opacity="0.7"/><circle cx="470" cy="98" r="3.2" fill="url(#gK2)"/><circle cx="469.9" cy="98.1" r="2.1" fill="url(#gP)"/><circle cx="468.1" cy="93.2" r="2.5" fill="url(#hY)" opacity="0.7"/><circle cx="468.8" cy="92.5" r="2" fill="url(#gK2)"/><circle cx="468.7" cy="92.6" r="1.3" fill="url(#gP)"/><circle cx="496.9" cy="104.8" r="3.4" fill="url(#hY)" opacity="0.7"/><circle cx="497.8" cy="103.9" r="2.6" fill="url(#gK2)"/><circle cx="497.7" cy="104" r="1.7" fill="url(#gP)"/><circle cx="505.9" cy="97.8" r="3.4" fill="url(#hY)" opacity="0.7"/><circle cx="506.8" cy="96.9" r="2.6" fill="url(#gK2)"/><circle cx="506.7" cy="97" r="1.7" fill="url(#gP)"/><circle cx="538.4" cy="93.5" r="3.1" fill="url(#hY)" opacity=".45"/><circle cx="538.9" cy="93" r="2.4" fill="url(#gK)"/><circle cx="491.9" cy="48.4" r="3.4" fill="url(#hY)" opacity=".45"/><circle cx="492.5" cy="47.8" r="2.7" fill="url(#gK)"/><circle cx="475.4" cy="36.3" r="3.4" fill="url(#hY)" opacity=".45"/><circle cx="476" cy="35.7" r="2.7" fill="url(#gK)"/><circle cx="486.3" cy="61.1" r="2.5" fill="url(#hY)" opacity="0.7"/><circle cx="487" cy="60.4" r="2" fill="url(#gK2)"/><circle cx="486.9" cy="60.5" r="1.3" fill="url(#gP)"/><circle cx="501.9" cy="63" r="2.5" fill="url(#hY)" opacity="0.7"/><circle cx="502.6" cy="62.3" r="2" fill="url(#gK2)"/><circle cx="502.5" cy="62.4" r="1.3" fill="url(#gP)"/><circle cx="533.3" cy="53.3" r="2.5" fill="url(#hY)" opacity="0.7"/><circle cx="534" cy="52.6" r="2" fill="url(#gK2)"/><circle cx="533.9" cy="52.7" r="1.3" fill="url(#gP)"/><circle cx="525.6" cy="24.4" r="2.5" fill="url(#hY)" opacity="0.7"/><circle cx="526.3" cy="23.7" r="2" fill="url(#gK2)"/><circle cx="526.2" cy="23.8" r="1.3" fill="url(#gP)"/><circle cx="493.4" cy="38.4" r="4.2" fill="url(#hY)" opacity=".45"/><circle cx="494.1" cy="37.6" r="3.4" fill="url(#gK)"/><circle cx="571.5" cy="37.1" r="5.4" fill="url(#hY)" opacity="0.8"/><circle cx="572.9" cy="35.7" r="3.9" fill="url(#gK2)"/><circle cx="572.8" cy="35.9" r="2.6" fill="url(#gP)"/><circle cx="581.1" cy="39.9" r="5.4" fill="url(#hY)" opacity=".45"/><circle cx="582.1" cy="38.9" r="4.3" fill="url(#gK)"/><circle cx="581.8" cy="39.2" r="1.4" fill="#c03c8c" opacity=".65"/><circle cx="558" cy="51.6" r="5.1" fill="url(#hY)" opacity=".45"/><circle cx="558.9" cy="50.7" r="4.1" fill="url(#gK)"/><circle cx="558.6" cy="51" r="1.4" fill="#c03c8c" opacity=".65"/><circle cx="584.4" cy="55.4" r="4.2" fill="url(#hY)" opacity="0.7"/><circle cx="585.5" cy="54.3" r="3.2" fill="url(#gK2)"/><circle cx="585.4" cy="54.4" r="2.1" fill="url(#gP)"/><circle cx="619.6" cy="61.5" r="6.5" fill="url(#hY)" opacity="0.8"/><circle cx="621.2" cy="59.9" r="4.7" fill="url(#gK2)"/><circle cx="621" cy="60.1" r="3.1" fill="url(#gP)"/><circle cx="632.1" cy="50.2" r="6.8" fill="url(#hY)" opacity=".45"/><circle cx="633.3" cy="49" r="5.4" fill="url(#gK)"/><circle cx="632.9" cy="49.4" r="1.8" fill="#c03c8c" opacity=".65"/><circle cx="633.1" cy="52.4" r="3.4" fill="url(#hY)" opacity="0.7"/><circle cx="634" cy="51.5" r="2.6" fill="url(#gK2)"/><circle cx="633.9" cy="51.6" r="1.7" fill="url(#gP)"/><circle cx="599.4" cy="77.6" r="7.6" fill="url(#hY)" opacity=".45"/><circle cx="600.7" cy="76.3" r="6.1" fill="url(#gK)"/><circle cx="600.2" cy="76.8" r="2" fill="#c03c8c" opacity=".65"/><circle cx="585.9" cy="75.9" r="3.7" fill="url(#hY)" opacity="0.7"/><circle cx="586.9" cy="74.9" r="2.9" fill="url(#gK2)"/><circle cx="586.8" cy="75" r="1.9" fill="url(#gP)"/><circle cx="593.9" cy="71.9" r="3.7" fill="url(#hY)" opacity=".45"/><circle cx="594.6" cy="71.2" r="3" fill="url(#gK)"/><circle cx="580.5" cy="92.9" r="6.3" fill="url(#hY)" opacity="0.8"/><circle cx="582.1" cy="91.3" r="4.5" fill="url(#gK2)"/><circle cx="581.9" cy="91.5" r="3" fill="url(#gP)"/><circle cx="604.5" cy="88.8" r="6" fill="url(#hY)" opacity=".45"/><circle cx="605.5" cy="87.7" r="4.7" fill="url(#gK)"/><circle cx="605.1" cy="88" r="1.6" fill="#c03c8c" opacity=".65"/><circle cx="592.9" cy="102.8" r="5.4" fill="url(#hY)" opacity="0.8"/><circle cx="594.2" cy="101.4" r="3.9" fill="url(#gK2)"/><circle cx="594.1" cy="101.6" r="2.6" fill="url(#gP)"/><circle cx="561.1" cy="72.9" r="5.1" fill="url(#hY)" opacity=".45"/><circle cx="562" cy="72" r="4.1" fill="url(#gK)"/><circle cx="561.7" cy="72.3" r="1.4" fill="#c03c8c" opacity=".65"/><circle cx="622" cy="80.8" r="4.2" fill="url(#hY)" opacity="0.7"/><circle cx="623.1" cy="79.7" r="3.2" fill="url(#gK2)"/><circle cx="623" cy="79.8" r="2.1" fill="url(#gP)"/><circle cx="637.5" cy="87.6" r="4.2" fill="url(#hY)" opacity="0.7"/><circle cx="638.6" cy="86.5" r="3.2" fill="url(#gK2)"/><circle cx="638.5" cy="86.6" r="2.1" fill="url(#gP)"/><circle cx="593.7" cy="83.7" r="3.4" fill="url(#hY)" opacity="0.7"/><circle cx="594.6" cy="82.8" r="2.6" fill="url(#gK2)"/><circle cx="594.5" cy="82.9" r="1.7" fill="url(#gP)"/><circle cx="561.1" cy="96.3" r="3.4" fill="url(#hY)" opacity="0.7"/><circle cx="562" cy="95.4" r="2.6" fill="url(#gK2)"/><circle cx="561.9" cy="95.5" r="1.7" fill="url(#gP)"/><circle cx="617.6" cy="41.3" r="2.5" fill="url(#hY)" opacity="0.7"/><circle cx="618.3" cy="40.6" r="2" fill="url(#gK2)"/><circle cx="618.2" cy="40.7" r="1.3" fill="url(#gP)"/><circle cx="614.5" cy="34" r="2.5" fill="url(#hY)" opacity="0.7"/><circle cx="615.2" cy="33.3" r="2" fill="url(#gK2)"/><circle cx="615.1" cy="33.4" r="1.3" fill="url(#gP)"/><circle cx="635" cy="66.8" r="4.2" fill="url(#hY)" opacity=".45"/><circle cx="635.7" cy="66" r="3.4" fill="url(#gK)"/><circle cx="589.3" cy="59.2" r="3.1" fill="url(#hY)" opacity=".45"/><circle cx="589.8" cy="58.7" r="2.4" fill="url(#gK)"/><circle cx="497.9" cy="117.9" r="7.2" fill="url(#hY)" opacity="0.8"/><circle cx="499.7" cy="116.1" r="5.2" fill="url(#gK2)"/><circle cx="499.5" cy="116.3" r="3.4" fill="url(#gP)"/><circle cx="503.5" cy="124.5" r="4.2" fill="url(#hY)" opacity="0.7"/><circle cx="504.6" cy="123.4" r="3.2" fill="url(#gK2)"/><circle cx="504.5" cy="123.5" r="2.1" fill="url(#gP)"/><circle cx="478.1" cy="147.7" r="9" fill="url(#hY)" opacity="0.8"/><circle cx="480.4" cy="145.4" r="6.5" fill="url(#gK2)"/><circle cx="480.1" cy="145.7" r="4.3" fill="url(#gP)"/><circle cx="523.1" cy="136.3" r="4.8" fill="url(#hY)" opacity=".45"/><circle cx="523.9" cy="135.5" r="3.8" fill="url(#gK)"/><circle cx="539.2" cy="139" r="3.4" fill="url(#hY)" opacity="0.7"/><circle cx="540.1" cy="138.1" r="2.6" fill="url(#gK2)"/><circle cx="540" cy="138.2" r="1.7" fill="url(#gP)"/><circle cx="524.5" cy="109.1" r="4.2" fill="url(#hY)" opacity="0.7"/><circle cx="525.6" cy="108" r="3.2" fill="url(#gK2)"/><circle cx="525.5" cy="108.1" r="2.1" fill="url(#gP)"/><circle cx="536.3" cy="109.9" r="3.4" fill="url(#hY)" opacity="0.7"/><circle cx="537.2" cy="109" r="2.6" fill="url(#gK2)"/><circle cx="537.1" cy="109.1" r="1.7" fill="url(#gP)"/><circle cx="500.1" cy="150.4" r="3.4" fill="url(#hY)" opacity="0.7"/><circle cx="501" cy="149.5" r="2.6" fill="url(#gK2)"/><circle cx="500.9" cy="149.6" r="1.7" fill="url(#gP)"/><circle cx="490.7" cy="185.6" r="4.2" fill="url(#hY)" opacity="0.7"/><circle cx="491.8" cy="184.5" r="3.2" fill="url(#gK2)"/><circle cx="491.7" cy="184.6" r="2.1" fill="url(#gP)"/><circle cx="477.9" cy="117.5" r="3.4" fill="url(#hY)" opacity=".45"/><circle cx="478.5" cy="116.9" r="2.7" fill="url(#gK)"/><circle cx="517.6" cy="120" r="3.7" fill="url(#hY)" opacity=".45"/><circle cx="518.3" cy="119.3" r="3" fill="url(#gK)"/><circle cx="525.5" cy="128.4" r="4.2" fill="url(#hY)" opacity=".45"/><circle cx="526.3" cy="127.7" r="3.4" fill="url(#gK)"/><circle cx="520.9" cy="167" r="3.4" fill="url(#hY)" opacity=".45"/><circle cx="521.5" cy="166.4" r="2.7" fill="url(#gK)"/><circle cx="515.2" cy="157.4" r="2.7" fill="url(#hY)" opacity="0.7"/><circle cx="515.9" cy="156.7" r="2.1" fill="url(#gK2)"/><circle cx="515.8" cy="156.8" r="1.4" fill="url(#gP)"/><circle cx="481.5" cy="175.4" r="3.4" fill="url(#hY)" opacity=".45"/><circle cx="482.1" cy="174.8" r="2.7" fill="url(#gK)"/><circle cx="470.4" cy="186.5" r="3.1" fill="url(#hY)" opacity="0.7"/><circle cx="471.2" cy="185.7" r="2.3" fill="url(#gK2)"/><circle cx="471.1" cy="185.8" r="1.5" fill="url(#gP)"/><circle cx="545.3" cy="184.6" r="3.1" fill="url(#hY)" opacity="0.7"/><circle cx="546.1" cy="183.8" r="2.3" fill="url(#gK2)"/><circle cx="546" cy="183.9" r="1.5" fill="url(#gP)"/><circle cx="550.2" cy="121.3" r="3.1" fill="url(#hY)" opacity="0.7"/><circle cx="551" cy="120.5" r="2.3" fill="url(#gK2)"/><circle cx="550.9" cy="120.6" r="1.5" fill="url(#gP)"/><circle cx="543.1" cy="177.1" r="3.4" fill="url(#hY)" opacity=".45"/><circle cx="543.7" cy="176.5" r="2.7" fill="url(#gK)"/><circle cx="496" cy="191.1" r="3.4" fill="url(#hY)" opacity=".45"/><circle cx="496.6" cy="190.5" r="2.7" fill="url(#gK)"/><circle cx="532.2" cy="152.5" r="3.4" fill="url(#hY)" opacity=".45"/><circle cx="532.8" cy="151.9" r="2.7" fill="url(#gK)"/><circle cx="547.8" cy="145.3" r="2.7" fill="url(#hY)" opacity="0.7"/><circle cx="548.5" cy="144.6" r="2.1" fill="url(#gK2)"/><circle cx="548.4" cy="144.7" r="1.4" fill="url(#gP)"/><circle cx="551.6" cy="189.9" r="3.4" fill="url(#hY)" opacity=".45"/><circle cx="552.2" cy="189.3" r="2.7" fill="url(#gK)"/><circle cx="583.2" cy="138.5" r="7.2" fill="url(#hY)" opacity="0.8"/><circle cx="585" cy="136.7" r="5.2" fill="url(#gK2)"/><circle cx="584.8" cy="136.9" r="3.4" fill="url(#gP)"/><circle cx="641.7" cy="169.6" r="8.1" fill="url(#hY)" opacity="0.8"/><circle cx="643.7" cy="167.6" r="5.9" fill="url(#gK2)"/><circle cx="643.5" cy="167.8" r="3.9" fill="url(#gP)"/><circle cx="636.3" cy="143.5" r="4.8" fill="url(#hY)" opacity="0.7"/><circle cx="637.6" cy="142.2" r="3.6" fill="url(#gK2)"/><circle cx="637.5" cy="142.3" r="2.4" fill="url(#gP)"/><circle cx="633" cy="142" r="3.1" fill="url(#hY)" opacity=".45"/><circle cx="633.5" cy="141.5" r="2.4" fill="url(#gK)"/><circle cx="602" cy="163.1" r="4.2" fill="url(#hY)" opacity="0.7"/><circle cx="603.1" cy="162" r="3.2" fill="url(#gK2)"/><circle cx="603" cy="162.1" r="2.1" fill="url(#gP)"/><circle cx="574.4" cy="164.9" r="5.1" fill="url(#hY)" opacity=".45"/><circle cx="575.3" cy="164" r="4.1" fill="url(#gK)"/><circle cx="575" cy="164.3" r="1.4" fill="#c03c8c" opacity=".65"/><circle cx="591.6" cy="161.7" r="3.4" fill="url(#hY)" opacity=".45"/><circle cx="592.2" cy="161.1" r="2.7" fill="url(#gK)"/><circle cx="613.1" cy="132.3" r="3.4" fill="url(#hY)" opacity="0.7"/><circle cx="614" cy="131.4" r="2.6" fill="url(#gK2)"/><circle cx="613.9" cy="131.5" r="1.7" fill="url(#gP)"/><circle cx="561.9" cy="151.6" r="3.4" fill="url(#hY)" opacity="0.7"/><circle cx="562.8" cy="150.7" r="2.6" fill="url(#gK2)"/><circle cx="562.7" cy="150.8" r="1.7" fill="url(#gP)"/><circle cx="586.3" cy="127.9" r="3.4" fill="url(#hY)" opacity=".45"/><circle cx="586.9" cy="127.3" r="2.7" fill="url(#gK)"/><circle cx="600.6" cy="180.9" r="4.2" fill="url(#hY)" opacity=".45"/><circle cx="601.4" cy="180.2" r="3.4" fill="url(#gK)"/><circle cx="623.9" cy="176.9" r="3.4" fill="url(#hY)" opacity="0.7"/><circle cx="624.8" cy="176" r="2.6" fill="url(#gK2)"/><circle cx="624.7" cy="176.1" r="1.7" fill="url(#gP)"/><circle cx="616.5" cy="186.8" r="3.4" fill="url(#hY)" opacity=".45"/><circle cx="617.1" cy="186.2" r="2.7" fill="url(#gK)"/><circle cx="582.4" cy="193.2" r="3.7" fill="url(#hY)" opacity=".45"/><circle cx="583.1" cy="192.5" r="3" fill="url(#gK)"/><circle cx="632.2" cy="125.9" r="3.4" fill="url(#hY)" opacity=".45"/><circle cx="632.8" cy="125.3" r="2.7" fill="url(#gK)"/><circle cx="632.5" cy="117.7" r="3.1" fill="url(#hY)" opacity="0.7"/><circle cx="633.3" cy="116.9" r="2.3" fill="url(#gK2)"/><circle cx="633.2" cy="117" r="1.5" fill="url(#gP)"/><circle cx="628.3" cy="112.7" r="2.5" fill="url(#hY)" opacity="0.7"/><circle cx="629" cy="112" r="2" fill="url(#gK2)"/><circle cx="628.9" cy="112.1" r="1.3" fill="url(#gP)"/><circle cx="564" cy="117.4" r="3.1" fill="url(#hY)" opacity=".45"/><circle cx="564.5" cy="116.9" r="2.4" fill="url(#gK)"/><circle cx="573.6" cy="125.8" r="3.1" fill="url(#hY)" opacity=".45"/><circle cx="574.1" cy="125.3" r="2.4" fill="url(#gK)"/><circle cx="606.4" cy="132.2" r="3.1" fill="url(#hY)" opacity="0.7"/><circle cx="607.2" cy="131.4" r="2.3" fill="url(#gK2)"/><circle cx="607.1" cy="131.5" r="1.5" fill="url(#gP)"/><circle cx="582.5" cy="166.7" r="3.1" fill="url(#hY)" opacity="0.7"/><circle cx="583.3" cy="165.9" r="2.3" fill="url(#gK2)"/><circle cx="583.2" cy="166" r="1.5" fill="url(#gP)"/><circle cx="610.8" cy="170.1" r="3.1" fill="url(#hY)" opacity="0.7"/><circle cx="611.6" cy="169.3" r="2.3" fill="url(#gK2)"/><circle cx="611.5" cy="169.4" r="1.5" fill="url(#gP)"/><circle cx="556.6" cy="189.9" r="3.4" fill="url(#hY)" opacity=".45"/><circle cx="557.2" cy="189.3" r="2.7" fill="url(#gK)"/><circle cx="570" cy="160.8" r="3.1" fill="url(#hY)" opacity=".45"/><circle cx="570.5" cy="160.3" r="2.4" fill="url(#gK)"/><circle cx="562.5" cy="89.1" r="1.3" fill="url(#gCk)" opacity=".8"/><circle cx="616.1" cy="98.5" r="2.5" fill="url(#hL)" opacity="0.7"/><circle cx="616.3" cy="98.2" r="1.2" fill="url(#gCs)"/><circle cx="632.9" cy="20.4" r="1.6" fill="url(#gCk)" opacity=".8"/><circle cx="488.3" cy="149" r="2.2" fill="url(#gCk)" opacity=".8"/><circle cx="609.1" cy="34.3" r="2.5" fill="url(#hL)" opacity="0.7"/><circle cx="609.3" cy="34" r="1.2" fill="url(#gCs)"/><circle cx="619.7" cy="68.6" r="1.6" fill="url(#gCk)" opacity=".8"/><circle cx="620.9" cy="194.2" r="2.5" fill="url(#hL)" opacity="0.7"/><circle cx="621.1" cy="194" r="1.2" fill="url(#gCs)"/><circle cx="598.3" cy="102.8" r="2.2" fill="url(#hL)" opacity="0.7"/><circle cx="598.5" cy="102.5" r="1.1" fill="url(#gCs)"/><circle cx="491.3" cy="83.8" r="2.2" fill="url(#gCk)" opacity=".8"/><circle cx="579.4" cy="106.5" r="2.3" fill="url(#hL)" opacity="0.7"/><circle cx="579.7" cy="106.3" r="1.1" fill="url(#gCs)"/><circle cx="514.1" cy="158.6" r="3.3" fill="url(#hL)" opacity="0.7"/><circle cx="514.4" cy="158.3" r="1.6" fill="url(#gCs)"/><circle cx="608.9" cy="157" r="1.9" fill="url(#gCk)" opacity=".8"/><circle cx="603.8" cy="81.6" r="3" fill="url(#hL)" opacity="0.7"/><circle cx="604.1" cy="81.3" r="1.4" fill="url(#gCs)"/><circle cx="553.4" cy="156.3" r="3" fill="url(#hL)" opacity="0.7"/><circle cx="553.7" cy="156" r="1.4" fill="url(#gCs)"/><circle cx="638" cy="134.2" r="2.8" fill="url(#hL)" opacity="0.7"/><circle cx="638.3" cy="133.9" r="1.3" fill="url(#gCs)"/><circle cx="564.7" cy="60.8" r="2.9" fill="url(#hL)" opacity="0.7"/><circle cx="564.9" cy="60.5" r="1.4" fill="url(#gCs)"/><circle cx="614.3" cy="133.8" r="3.2" fill="url(#hL)" opacity="0.7"/><circle cx="614.6" cy="133.5" r="1.5" fill="url(#gCs)"/><circle cx="582.5" cy="150.5" r="3.2" fill="url(#hL)" opacity="0.7"/><circle cx="582.8" cy="150.2" r="1.5" fill="url(#gCs)"/><circle cx="619.4" cy="174.5" r="1.8" fill="url(#gCk)" opacity=".8"/><circle cx="640" cy="110" r="2.7" fill="url(#hL)" opacity="0.7"/><circle cx="640.3" cy="109.7" r="1.3" fill="url(#gCs)"/><circle cx="618.2" cy="186.9" r="1.6" fill="url(#gCk)" opacity=".8"/><circle cx="596.7" cy="148.8" r="1.2" fill="url(#gCk)" opacity=".8"/><circle cx="571.2" cy="136.9" r="1.5" fill="url(#gCk)" opacity=".8"/><circle cx="606.6" cy="131.9" r="3" fill="url(#hL)" opacity="0.7"/><circle cx="606.8" cy="131.6" r="1.4" fill="url(#gCs)"/><circle cx="493.5" cy="95.8" r="2.9" fill="url(#hL)" opacity="0.7"/><circle cx="493.7" cy="95.6" r="1.4" fill="url(#gCs)"/><circle cx="590.3" cy="130.6" r="1.8" fill="url(#hL)" opacity="0.7"/><circle cx="590.5" cy="130.5" r=".8" fill="url(#gCs)"/><circle cx="505.7" cy="24.5" r="1.9" fill="url(#hL)" opacity="0.7"/><circle cx="505.9" cy="24.4" r=".9" fill="url(#gCs)"/><circle cx="497.5" cy="50.1" r="1.7" fill="url(#hL)" opacity="0.7"/><circle cx="497.7" cy="50" r=".8" fill="url(#gCs)"/><circle cx="534" cy="127.2" r="2.8" fill="url(#hL)" opacity="0.7"/><circle cx="534.3" cy="127" r="1.3" fill="url(#gCs)"/><circle cx="630.3" cy="14.8" r="2.4" fill="url(#hL)" opacity="0.7"/><circle cx="630.5" cy="14.5" r="1.2" fill="url(#gCs)"/><circle cx="539.4" cy="35.9" r="3.3" fill="url(#hL)" opacity="0.7"/><circle cx="539.7" cy="35.6" r="1.5" fill="url(#gCs)"/><circle cx="470.9" cy="127.3" r="1.2" fill="url(#gCk)" opacity=".8"/><circle cx="526.7" cy="121.3" r="2.2" fill="url(#gCk)" opacity=".8"/><circle cx="541.1" cy="164.3" r="2.9" fill="url(#hL)" opacity="0.7"/><circle cx="541.4" cy="164" r="1.4" fill="url(#gCs)"/><circle cx="490.4" cy="124.1" r="1.7" fill="url(#gCk)" opacity=".8"/><circle cx="642.4" cy="126.4" r="1.5" fill="url(#gCk)" opacity=".8"/><circle cx="464.5" cy="34.3" r="1.7" fill="url(#gCk)" opacity=".8"/><circle cx="489.9" cy="130.5" r="3.4" fill="url(#hL)" opacity="0.7"/><circle cx="490.2" cy="130.2" r="1.6" fill="url(#gCs)"/><circle cx="543.7" cy="56" r="1.4" fill="url(#gCk)" opacity=".8"/><circle cx="534.2" cy="191.2" r="2.1" fill="url(#gCk)" opacity=".8"/><circle cx="511.9" cy="195.1" r="2.6" fill="url(#hL)" opacity="0.7"/><circle cx="512.1" cy="194.9" r="1.2" fill="url(#gCs)"/><circle cx="522.8" cy="195.8" r="2.6" fill="url(#hL)" opacity="0.7"/><circle cx="523" cy="195.5" r="1.2" fill="url(#gCs)"/><circle cx="551.8" cy="37.1" r="2.9" fill="url(#hL)" opacity="0.7"/><circle cx="552.1" cy="36.8" r="1.4" fill="url(#gCs)"/><circle cx="517.9" cy="158.5" r="3.2" fill="url(#hL)" opacity="0.7"/><circle cx="518.2" cy="158.2" r="1.5" fill="url(#gCs)"/><circle cx="562.3" cy="64.8" r="2.1" fill="url(#gCk)" opacity=".8"/><circle cx="509.5" cy="63.7" r="1.2" fill="url(#gCk)" opacity=".8"/><circle cx="518.2" cy="126.3" r="1.6" fill="url(#gCk)" opacity=".8"/><circle cx="575.4" cy="151.2" r="1.2" fill="url(#gCk)" opacity=".8"/><circle cx="519.4" cy="112.8" r="2.3" fill="url(#hL)" opacity="0.7"/><circle cx="519.6" cy="112.6" r="1.1" fill="url(#gCs)"/><circle cx="561.8" cy="99.8" r="1.5" fill="url(#gCk)" opacity=".8"/><circle cx="572.8" cy="21.3" r="2.2" fill="url(#hL)" opacity="0.7"/><circle cx="573" cy="21.1" r="1" fill="url(#gCs)"/><circle cx="632.7" cy="178" r="2.7" fill="url(#hL)" opacity="0.7"/><circle cx="632.9" cy="177.8" r="1.3" fill="url(#gCs)"/><circle cx="607.5" cy="93.1" r="1.7" fill="url(#gCk)" opacity=".8"/><circle cx="580.3" cy="103.4" r="3.4" fill="url(#hL)" opacity="0.7"/><circle cx="580.6" cy="103.1" r="1.6" fill="url(#gCs)"/><circle cx="536.2" cy="171.3" r="2.1" fill="url(#hL)" opacity="0.7"/><circle cx="536.4" cy="171.1" r="1" fill="url(#gCs)"/><circle cx="617" cy="26.6" r="2" fill="url(#gCk)" opacity=".8"/><circle cx="543.9" cy="67.1" r="2" fill="url(#gCk)" opacity=".8"/><circle cx="490.3" cy="102.7" r="2.7" fill="url(#hL)" opacity="0.7"/><circle cx="490.6" cy="102.4" r="1.3" fill="url(#gCs)"/><circle cx="525.2" cy="42.6" r="1.7" fill="url(#gCk)" opacity=".8"/><circle cx="476.9" cy="56.7" r="2" fill="url(#gCk)" opacity=".8"/><circle cx="586.4" cy="19.1" r="1.9" fill="url(#gCk)" opacity=".8"/><circle cx="648" cy="143.4" r="1.1" fill="url(#gCk)" opacity=".8"/><circle cx="504.6" cy="133.2" r="2.2" fill="url(#gCk)" opacity=".8"/><circle cx="488.7" cy="68.5" r="3.4" fill="url(#hL)" opacity="0.7"/><circle cx="489.1" cy="68.2" r="1.6" fill="url(#gCs)"/><circle cx="576.7" cy="90.6" r="1.2" fill="url(#gCk)" opacity=".8"/><circle cx="472.1" cy="34.5" r="2.4" fill="url(#hL)" opacity="0.7"/><circle cx="472.3" cy="34.3" r="1.1" fill="url(#gCs)"/><circle cx="474.9" cy="120.2" r="1.9" fill="url(#gCk)" opacity=".8"/><circle cx="489" cy="93.8" r="1.4" fill="url(#gCk)" opacity=".8"/><circle cx="554.2" cy="187.3" r="2.4" fill="url(#hL)" opacity="0.7"/><circle cx="554.4" cy="187.1" r="1.1" fill="url(#gCs)"/><circle cx="592.6" cy="42.2" r="1.8" fill="url(#gCk)" opacity=".8"/><circle cx="631.5" cy="116.8" r="2.9" fill="url(#hL)" opacity="0.7"/><circle cx="631.8" cy="116.5" r="1.4" fill="url(#gCs)"/><circle cx="565.8" cy="61.2" r="1.9" fill="url(#gCk)" opacity=".8"/><circle cx="488.9" cy="57.5" r="1.5" fill="url(#gCk)" opacity=".8"/><circle cx="497" cy="145.9" r="2.9" fill="url(#hL)" opacity="0.7"/><circle cx="497.3" cy="145.6" r="1.4" fill="url(#gCs)"/><circle cx="587.2" cy="31.2" r="1.2" fill="url(#gCk)" opacity=".8"/><circle cx="508" cy="176" r="2.6" fill="url(#hL)" opacity="0.7"/><circle cx="508.2" cy="175.8" r="1.2" fill="url(#gCs)"/><circle cx="610.6" cy="20.1" r="3.1" fill="url(#hL)" opacity="0.7"/><circle cx="610.8" cy="19.8" r="1.5" fill="url(#gCs)"/><circle cx="491.8" cy="189.9" r="3" fill="url(#hL)" opacity="0.7"/><circle cx="492" cy="189.6" r="1.4" fill="url(#gCs)"/><circle cx="485.7" cy="193.4" r="1.8" fill="url(#gCk)" opacity=".8"/><circle cx="489.8" cy="129.6" r="2.3" fill="url(#hL)" opacity="0.7"/><circle cx="490" cy="129.4" r="1.1" fill="url(#gCs)"/><circle cx="525.4" cy="127.6" r="2.3" fill="url(#hL)" opacity="0.7"/><circle cx="525.6" cy="127.3" r="1.1" fill="url(#gCs)"/><circle cx="489.4" cy="167.3" r="1.8" fill="url(#gCk)" opacity=".8"/><circle cx="544" cy="171.1" r="1.6" fill="url(#gCk)" opacity=".8"/><circle cx="569.5" cy="150.8" r="2.4" fill="url(#hL)" opacity="0.7"/><circle cx="569.8" cy="150.6" r="1.2" fill="url(#gCs)"/><circle cx="470.4" cy="51.6" r="1.1" fill="url(#gCk)" opacity=".8"/><circle cx="552.6" cy="154.5" r="1.7" fill="url(#hL)" opacity="0.7"/><circle cx="552.8" cy="154.3" r=".8" fill="url(#gCs)"/><circle cx="627.8" cy="128.6" r="2.5" fill="url(#hL)" opacity="0.7"/><circle cx="628" cy="128.4" r="1.2" fill="url(#gCs)"/><circle cx="482.5" cy="43" r="2" fill="url(#hL)" opacity="0.7"/><circle cx="482.7" cy="42.9" r=".9" fill="url(#gCs)"/><circle cx="535.1" cy="176.6" r="2" fill="url(#hL)" opacity="0.7"/><circle cx="535.3" cy="176.4" r=".9" fill="url(#gCs)"/><circle cx="515.1" cy="44.3" r="2.2" fill="url(#hL)" opacity="0.7"/><circle cx="515.3" cy="44.1" r="1.1" fill="url(#gCs)"/><circle cx="552.7" cy="20.6" r="3.4" fill="url(#hL)" opacity="0.7"/><circle cx="553" cy="20.3" r="1.6" fill="url(#gCs)"/><circle cx="636.6" cy="141.2" r="3" fill="url(#hL)" opacity="0.7"/><circle cx="636.9" cy="140.9" r="1.4" fill="url(#gCs)"/><circle cx="638" cy="36.4" r="2.9" fill="url(#hL)" opacity="0.7"/><circle cx="638.3" cy="36.1" r="1.4" fill="url(#gCs)"/><circle cx="588.2" cy="148.8" r="2" fill="url(#hL)" opacity="0.7"/><circle cx="588.4" cy="148.6" r=".9" fill="url(#gCs)"/><circle cx="468.7" cy="57" r="1.8" fill="url(#hL)" opacity="0.7"/><circle cx="468.9" cy="56.8" r=".9" fill="url(#gCs)"/><circle cx="643.2" cy="81.6" r="2.3" fill="url(#hL)" opacity="0.7"/><circle cx="643.4" cy="81.4" r="1.1" fill="url(#gCs)"/><circle cx="516.1" cy="149.4" r="3" fill="url(#hL)" opacity="0.7"/><circle cx="516.4" cy="149.2" r="1.4" fill="url(#gCs)"/><circle cx="508.6" cy="138.1" r="2.1" fill="url(#gCk)" opacity=".8"/><circle cx="543.4" cy="194" r="1.7" fill="url(#hL)" opacity="0.7"/><circle cx="543.5" cy="193.9" r=".8" fill="url(#gCs)"/><circle cx="607.7" cy="89.9" r="1.1" fill="url(#gCk)" opacity=".8"/><circle cx="646.2" cy="110.1" r="2.3" fill="url(#hL)" opacity="0.7"/><circle cx="646.4" cy="109.9" r="1.1" fill="url(#gCs)"/><circle cx="477.4" cy="179.8" r="1.6" fill="url(#gCk)" opacity=".8"/><circle cx="474" cy="59.4" r="1.8" fill="url(#hL)" opacity="0.7"/><circle cx="474.2" cy="59.2" r=".8" fill="url(#gCs)"/><circle cx="475.1" cy="61.6" r="2.5" fill="url(#hL)" opacity="0.7"/><circle cx="475.4" cy="61.4" r="1.2" fill="url(#gCs)"/><circle cx="473.4" cy="21.7" r="3.5" fill="url(#hL)" opacity="0.7"/><circle cx="473.7" cy="21.3" r="1.7" fill="url(#gCs)"/><circle cx="557.6" cy="88.7" r="2.7" fill="url(#hL)" opacity="0.7"/><circle cx="557.9" cy="88.4" r="1.3" fill="url(#gCs)"/><circle cx="522.1" cy="34.3" r="1.7" fill="url(#gCk)" opacity=".8"/><circle cx="574.2" cy="172.2" r="2.1" fill="url(#hL)" opacity="0.7"/><circle cx="574.4" cy="172" r="1" fill="url(#gCs)"/><circle cx="563.3" cy="104.2" r="2.8" fill="url(#hL)" opacity="0.7"/><circle cx="563.6" cy="103.9" r="1.3" fill="url(#gCs)"/><circle cx="579" cy="148.2" r="3.4" fill="url(#hL)" opacity="0.7"/><circle cx="579.3" cy="147.9" r="1.6" fill="url(#gCs)"/><circle cx="546.7" cy="166.7" r="2.1" fill="url(#hL)" opacity="0.7"/><circle cx="546.9" cy="166.5" r="1" fill="url(#gCs)"/><circle cx="521.7" cy="30.5" r="1.9" fill="url(#gCk)" opacity=".8"/><circle cx="521.7" cy="38.5" r="1.8" fill="url(#hL)" opacity="0.7"/><circle cx="521.9" cy="38.3" r=".9" fill="url(#gCs)"/><circle cx="479.6" cy="93.5" r="2.8" fill="url(#hL)" opacity="0.7"/><circle cx="479.8" cy="93.3" r="1.3" fill="url(#gCs)"/><circle cx="475.4" cy="143.5" r="1.8" fill="url(#hL)" opacity="0.7"/><circle cx="475.6" cy="143.3" r=".8" fill="url(#gCs)"/><circle cx="516.7" cy="83.4" r="1.9" fill="url(#hL)" opacity="0.7"/><circle cx="516.9" cy="83.2" r=".9" fill="url(#gCs)"/><circle cx="522.1" cy="152.8" r="1.7" fill="url(#gCk)" opacity=".8"/><circle cx="584.4" cy="154.5" r="2.8" fill="url(#hL)" opacity="0.7"/><circle cx="584.7" cy="154.2" r="1.3" fill="url(#gCs)"/><circle cx="614.6" cy="135" r="2.2" fill="url(#gCk)" opacity=".8"/><circle cx="593" cy="64" r="3.2" fill="url(#hL)" opacity="0.7"/><circle cx="593.3" cy="63.7" r="1.5" fill="url(#gCs)"/><circle cx="488.1" cy="26.7" r="2" fill="url(#hL)" opacity="0.7"/><circle cx="488.3" cy="26.5" r="1" fill="url(#gCs)"/><circle cx="588.7" cy="66.9" r="1.1" fill="url(#gCk)" opacity=".8"/><circle cx="566.7" cy="19.6" r="1.8" fill="url(#hL)" opacity="0.7"/><circle cx="566.8" cy="19.5" r=".8" fill="url(#gCs)"/><circle cx="530" cy="172.6" r="2.2" fill="url(#gCk)" opacity=".8"/><circle cx="506.6" cy="93.5" r="2.4" fill="url(#hL)" opacity="0.7"/><circle cx="506.8" cy="93.3" r="1.1" fill="url(#gCs)"/><circle cx="466.6" cy="121.9" r="2" fill="url(#gCk)" opacity=".8"/><circle cx="481.8" cy="112" r="1.2" fill="url(#gCk)" opacity=".8"/><circle cx="546.1" cy="187.4" r="3.2" fill="url(#hL)" opacity="0.7"/><circle cx="546.4" cy="187.1" r="1.5" fill="url(#gCs)"/><circle cx="522.4" cy="183" r="2.6" fill="url(#hL)" opacity="0.7"/><circle cx="522.6" cy="182.8" r="1.2" fill="url(#gCs)"/><circle cx="545.5" cy="155.6" r="2.1" fill="url(#gCk)" opacity=".8"/><circle cx="642.7" cy="124.1" r="1.2" fill="url(#gCk)" opacity=".8"/><circle cx="541.1" cy="24.4" r="3.5" fill="url(#hL)" opacity="0.7"/><circle cx="541.5" cy="24" r="1.7" fill="url(#gCs)"/><circle cx="570.1" cy="103.4" r="3.3" fill="url(#hL)" opacity="0.7"/><circle cx="570.5" cy="103.1" r="1.6" fill="url(#gCs)"/><circle cx="504" cy="65.4" r="1.3" fill="url(#gCk)" opacity=".8"/><circle cx="529.8" cy="152.8" r="2.1" fill="url(#hL)" opacity="0.7"/><circle cx="530" cy="152.6" r="1" fill="url(#gCs)"/><circle cx="510" cy="195.2" r="2" fill="url(#gCk)" opacity=".8"/><circle cx="578" cy="88.2" r="1.2" fill="url(#gCk)" opacity=".8"/><circle cx="554.3" cy="21.5" r="2" fill="url(#hL)" opacity="0.7"/><circle cx="554.5" cy="21.3" r="1" fill="url(#gCs)"/><circle cx="596.4" cy="180" r="1.3" fill="url(#gCk)" opacity=".8"/><circle cx="523.9" cy="140.1" r="2" fill="url(#gCk)" opacity=".8"/><circle cx="611.6" cy="83.7" r="1.1" fill="url(#gCk)" opacity=".8"/><circle cx="572" cy="48.6" r="2.4" fill="url(#hL)" opacity="0.7"/><circle cx="572.2" cy="48.4" r="1.2" fill="url(#gCs)"/><circle cx="469" cy="72.1" r="2.4" fill="url(#hL)" opacity="0.7"/><circle cx="469.3" cy="71.8" r="1.1" fill="url(#gCs)"/><circle cx="593.7" cy="87.8" r="2.2" fill="url(#gCk)" opacity=".8"/><circle cx="634.3" cy="141.9" r="1.8" fill="url(#gCk)" opacity=".8"/><circle cx="611.3" cy="81.2" r="1.7" fill="url(#gCk)" opacity=".8"/><circle cx="560.2" cy="66.9" r="1.8" fill="url(#hL)" opacity="0.7"/><circle cx="560.4" cy="66.7" r=".9" fill="url(#gCs)"/><circle cx="529.8" cy="121.2" r="1.9" fill="url(#gCk)" opacity=".8"/><circle cx="520.7" cy="185.4" r="1.4" fill="url(#gCk)" opacity=".8"/><circle cx="477.6" cy="153" r="1.8" fill="url(#gCk)" opacity=".8"/><circle cx="629.4" cy="140.9" r="2" fill="url(#gCk)" opacity=".8"/><circle cx="576.7" cy="52.8" r="1.6" fill="url(#gCk)" opacity=".8"/><circle cx="508" cy="194" r="2.7" fill="url(#hL)" opacity="0.7"/><circle cx="508.3" cy="193.7" r="1.3" fill="url(#gCs)"/><circle cx="464.8" cy="86.2" r="1.2" fill="url(#gCk)" opacity=".8"/><circle cx="629.5" cy="182.1" r="2.8" fill="url(#hL)" opacity="0.7"/><circle cx="629.8" cy="181.9" r="1.4" fill="url(#gCs)"/><circle cx="484.3" cy="141.1" r="1.7" fill="url(#gCk)" opacity=".8"/><circle cx="532.9" cy="177.8" r="2.1" fill="url(#hL)" opacity="0.7"/><circle cx="533.1" cy="177.6" r="1" fill="url(#gCs)"/><circle cx="513.2" cy="129.2" r="3.4" fill="url(#hL)" opacity="0.7"/><circle cx="513.5" cy="128.9" r="1.6" fill="url(#gCs)"/><circle cx="580.5" cy="155.6" r="2.1" fill="url(#hL)" opacity="0.7"/><circle cx="580.7" cy="155.4" r="1" fill="url(#gCs)"/><circle cx="568.4" cy="167.2" r="2.1" fill="url(#gCk)" opacity=".8"/><circle cx="541" cy="92.7" r="1.7" fill="url(#gCk)" opacity=".8"/><circle cx="519.9" cy="66.1" r="1.7" fill="url(#gCk)" opacity=".8"/><circle cx="498.8" cy="20" r="1.2" fill="url(#gCk)" opacity=".8"/><circle cx="575.3" cy="48.2" r="1.3" fill="url(#gCk)" opacity=".8"/><circle cx="582.9" cy="141.7" r="3.1" fill="url(#hL)" opacity="0.7"/><circle cx="583.2" cy="141.4" r="1.5" fill="url(#gCs)"/><circle cx="553.2" cy="168.3" r="3.5" fill="url(#hL)" opacity="0.7"/><circle cx="553.5" cy="168" r="1.7" fill="url(#gCs)"/><circle cx="620.4" cy="133.4" r="3.4" fill="url(#hL)" opacity="0.7"/><circle cx="620.8" cy="133.1" r="1.6" fill="url(#gCs)"/><circle cx="592.3" cy="169.3" r="2.6" fill="url(#hL)" opacity="0.7"/><circle cx="592.5" cy="169.1" r="1.2" fill="url(#gCs)"/><circle cx="499.7" cy="43.4" r="1.9" fill="url(#hL)" opacity="0.7"/><circle cx="499.9" cy="43.2" r=".9" fill="url(#gCs)"/><circle cx="577.6" cy="33.7" r="1.9" fill="url(#gCk)" opacity=".8"/>
</g>
</g>
<path d="M59.3 179.5H151.3" stroke="#2818d0" stroke-width="1.25"/>
<path d="M280.3 179.5H372.3" stroke="#2818d0" stroke-width="1.25"/>
<path d="M501.1 179.5H593.1" stroke="#2818d0" stroke-width="1.25"/>
<path d="M42.2 22.6L46.6 30.7L43.5 30.8L51.0 35.7L50.9 26.8L49.2 29.3L44.8 21.2Z" fill="#cc1218"/>
<path d="M262.8 22.6L267.2 30.7L264.1 30.8L271.6 35.7L271.5 26.8L269.8 29.3L265.4 21.2Z" fill="#cc1218"/>
<path d="M483.4 22.6L487.8 30.7L484.7 30.8L492.2 35.7L492.1 26.8L490.4 29.3L486.0 21.2Z" fill="#cc1218"/>
<path d="M22.5 14.4v-2.8M22.5 197.5v2.8M22.5 14.4h-2.8M206.5 14.4h2.8M31.7 14.4v-1.5M31.7 197.5v1.5M22.5 23.6h-1.5M206.5 23.6h1.5M40.9 14.4v-1.5M40.9 197.5v1.5M22.5 32.7h-1.5M206.5 32.7h1.5M50.1 14.4v-1.5M50.1 197.5v1.5M22.5 41.9h-1.5M206.5 41.9h1.5M59.3 14.4v-1.5M59.3 197.5v1.5M22.5 51h-1.5M206.5 51h1.5M68.5 14.4v-2.8M68.5 197.5v2.8M22.5 60.2h-2.8M206.5 60.2h2.8M77.7 14.4v-1.5M77.7 197.5v1.5M22.5 69.3h-1.5M206.5 69.3h1.5M86.9 14.4v-1.5M86.9 197.5v1.5M22.5 78.5h-1.5M206.5 78.5h1.5M96.1 14.4v-1.5M96.1 197.5v1.5M22.5 87.6h-1.5M206.5 87.6h1.5M105.3 14.4v-1.5M105.3 197.5v1.5M22.5 96.8h-1.5M206.5 96.8h1.5M114.5 14.4v-2.8M114.5 197.5v2.8M22.5 106h-2.8M206.5 106h2.8M123.7 14.4v-1.5M123.7 197.5v1.5M22.5 115.1h-1.5M206.5 115.1h1.5M132.9 14.4v-1.5M132.9 197.5v1.5M22.5 124.3h-1.5M206.5 124.3h1.5M142.1 14.4v-1.5M142.1 197.5v1.5M22.5 133.4h-1.5M206.5 133.4h1.5M151.3 14.4v-1.5M151.3 197.5v1.5M22.5 142.6h-1.5M206.5 142.6h1.5M160.5 14.4v-2.8M160.5 197.5v2.8M22.5 151.7h-2.8M206.5 151.7h2.8M169.7 14.4v-1.5M169.7 197.5v1.5M22.5 160.9h-1.5M206.5 160.9h1.5M178.9 14.4v-1.5M178.9 197.5v1.5M22.5 170h-1.5M206.5 170h1.5M188.1 14.4v-1.5M188.1 197.5v1.5M22.5 179.2h-1.5M206.5 179.2h1.5M197.3 14.4v-1.5M197.3 197.5v1.5M22.5 188.3h-1.5M206.5 188.3h1.5M206.5 14.4v-2.8M206.5 197.5v2.8M22.5 197.5h-2.8M206.5 197.5h2.8" stroke="#2a2e38" stroke-width=".5" fill="none"/>
<rect x="22.5" y="14.4" width="184.0" height="183.1" fill="none" stroke="#1a1a1a" stroke-width=".9"/>
<g font-size="5.3" fill="#111" stroke="#111" stroke-width=".12">
<text x="22.5" y="206" text-anchor="middle">−1.0</text>
<text x="19.2" y="199.4" text-anchor="end">−1.0</text>
<text x="68.5" y="206" text-anchor="middle">−0.5</text>
<text x="19.2" y="153.6" text-anchor="end">−0.5</text>
<text x="114.5" y="206" text-anchor="middle">0.0</text>
<text x="19.2" y="107.9" text-anchor="end">0.0</text>
<text x="160.5" y="206" text-anchor="middle">0.5</text>
<text x="19.2" y="62.1" text-anchor="end">0.5</text>
<text x="206.5" y="206" text-anchor="middle">1.0</text>
<text x="19.2" y="16.3" text-anchor="end">1.0</text>
</g>
<text x="114.5" y="214.3" font-size="7.1" text-anchor="middle" fill="#111">X (km)</text>
<text transform="translate(5.8 106.2) rotate(-90)" font-size="7.1" text-anchor="middle" fill="#111">Y (km)</text>
<text x="24" y="24" font-size="9.2" fill="#111">(a)</text>
<path d="M243.5 14.4v-2.8M243.5 197.5v2.8M243.5 14.4h-2.8M427.5 14.4h2.8M252.7 14.4v-1.5M252.7 197.5v1.5M243.5 23.6h-1.5M427.5 23.6h1.5M261.9 14.4v-1.5M261.9 197.5v1.5M243.5 32.7h-1.5M427.5 32.7h1.5M271.1 14.4v-1.5M271.1 197.5v1.5M243.5 41.9h-1.5M427.5 41.9h1.5M280.3 14.4v-1.5M280.3 197.5v1.5M243.5 51h-1.5M427.5 51h1.5M289.5 14.4v-2.8M289.5 197.5v2.8M243.5 60.2h-2.8M427.5 60.2h2.8M298.7 14.4v-1.5M298.7 197.5v1.5M243.5 69.3h-1.5M427.5 69.3h1.5M307.9 14.4v-1.5M307.9 197.5v1.5M243.5 78.5h-1.5M427.5 78.5h1.5M317.1 14.4v-1.5M317.1 197.5v1.5M243.5 87.6h-1.5M427.5 87.6h1.5M326.3 14.4v-1.5M326.3 197.5v1.5M243.5 96.8h-1.5M427.5 96.8h1.5M335.5 14.4v-2.8M335.5 197.5v2.8M243.5 106h-2.8M427.5 106h2.8M344.7 14.4v-1.5M344.7 197.5v1.5M243.5 115.1h-1.5M427.5 115.1h1.5M353.9 14.4v-1.5M353.9 197.5v1.5M243.5 124.3h-1.5M427.5 124.3h1.5M363.1 14.4v-1.5M363.1 197.5v1.5M243.5 133.4h-1.5M427.5 133.4h1.5M372.3 14.4v-1.5M372.3 197.5v1.5M243.5 142.6h-1.5M427.5 142.6h1.5M381.5 14.4v-2.8M381.5 197.5v2.8M243.5 151.7h-2.8M427.5 151.7h2.8M390.7 14.4v-1.5M390.7 197.5v1.5M243.5 160.9h-1.5M427.5 160.9h1.5M399.9 14.4v-1.5M399.9 197.5v1.5M243.5 170h-1.5M427.5 170h1.5M409.1 14.4v-1.5M409.1 197.5v1.5M243.5 179.2h-1.5M427.5 179.2h1.5M418.3 14.4v-1.5M418.3 197.5v1.5M243.5 188.3h-1.5M427.5 188.3h1.5M427.5 14.4v-2.8M427.5 197.5v2.8M243.5 197.5h-2.8M427.5 197.5h2.8" stroke="#2a2e38" stroke-width=".5" fill="none"/>
<rect x="243.5" y="14.4" width="184.0" height="183.1" fill="none" stroke="#1a1a1a" stroke-width=".9"/>
<g font-size="5.3" fill="#111" stroke="#111" stroke-width=".12">
<text x="243.5" y="206" text-anchor="middle">−1.0</text>
<text x="240.2" y="199.4" text-anchor="end">−1.0</text>
<text x="289.5" y="206" text-anchor="middle">−0.5</text>
<text x="240.2" y="153.6" text-anchor="end">−0.5</text>
<text x="335.5" y="206" text-anchor="middle">0.0</text>
<text x="240.2" y="107.9" text-anchor="end">0.0</text>
<text x="381.5" y="206" text-anchor="middle">0.5</text>
<text x="240.2" y="62.1" text-anchor="end">0.5</text>
<text x="427.5" y="206" text-anchor="middle">1.0</text>
<text x="240.2" y="16.3" text-anchor="end">1.0</text>
</g>
<text x="335.5" y="214.3" font-size="7.1" text-anchor="middle" fill="#111">X (km)</text>
<text transform="translate(226.8 106.2) rotate(-90)" font-size="7.1" text-anchor="middle" fill="#111">Y (km)</text>
<text x="245" y="24" font-size="9.2" fill="#111">(b)</text>
<path d="M464.3 14.4v-2.8M464.3 197.5v2.8M464.3 14.4h-2.8M648.3 14.4h2.8M473.5 14.4v-1.5M473.5 197.5v1.5M464.3 23.6h-1.5M648.3 23.6h1.5M482.7 14.4v-1.5M482.7 197.5v1.5M464.3 32.7h-1.5M648.3 32.7h1.5M491.9 14.4v-1.5M491.9 197.5v1.5M464.3 41.9h-1.5M648.3 41.9h1.5M501.1 14.4v-1.5M501.1 197.5v1.5M464.3 51h-1.5M648.3 51h1.5M510.3 14.4v-2.8M510.3 197.5v2.8M464.3 60.2h-2.8M648.3 60.2h2.8M519.5 14.4v-1.5M519.5 197.5v1.5M464.3 69.3h-1.5M648.3 69.3h1.5M528.7 14.4v-1.5M528.7 197.5v1.5M464.3 78.5h-1.5M648.3 78.5h1.5M537.9 14.4v-1.5M537.9 197.5v1.5M464.3 87.6h-1.5M648.3 87.6h1.5M547.1 14.4v-1.5M547.1 197.5v1.5M464.3 96.8h-1.5M648.3 96.8h1.5M556.3 14.4v-2.8M556.3 197.5v2.8M464.3 106h-2.8M648.3 106h2.8M565.5 14.4v-1.5M565.5 197.5v1.5M464.3 115.1h-1.5M648.3 115.1h1.5M574.7 14.4v-1.5M574.7 197.5v1.5M464.3 124.3h-1.5M648.3 124.3h1.5M583.9 14.4v-1.5M583.9 197.5v1.5M464.3 133.4h-1.5M648.3 133.4h1.5M593.1 14.4v-1.5M593.1 197.5v1.5M464.3 142.6h-1.5M648.3 142.6h1.5M602.3 14.4v-2.8M602.3 197.5v2.8M464.3 151.7h-2.8M648.3 151.7h2.8M611.5 14.4v-1.5M611.5 197.5v1.5M464.3 160.9h-1.5M648.3 160.9h1.5M620.7 14.4v-1.5M620.7 197.5v1.5M464.3 170h-1.5M648.3 170h1.5M629.9 14.4v-1.5M629.9 197.5v1.5M464.3 179.2h-1.5M648.3 179.2h1.5M639.1 14.4v-1.5M639.1 197.5v1.5M464.3 188.3h-1.5M648.3 188.3h1.5M648.3 14.4v-2.8M648.3 197.5v2.8M464.3 197.5h-2.8M648.3 197.5h2.8" stroke="#2a2e38" stroke-width=".5" fill="none"/>
<rect x="464.3" y="14.4" width="184.0" height="183.1" fill="none" stroke="#1a1a1a" stroke-width=".9"/>
<g font-size="5.3" fill="#111" stroke="#111" stroke-width=".12">
<text x="464.3" y="206" text-anchor="middle">−1.0</text>
<text x="461" y="199.4" text-anchor="end">−1.0</text>
<text x="510.3" y="206" text-anchor="middle">−0.5</text>
<text x="461" y="153.6" text-anchor="end">−0.5</text>
<text x="556.3" y="206" text-anchor="middle">0.0</text>
<text x="461" y="107.9" text-anchor="end">0.0</text>
<text x="602.3" y="206" text-anchor="middle">0.5</text>
<text x="461" y="62.1" text-anchor="end">0.5</text>
<text x="648.3" y="206" text-anchor="middle">1.0</text>
<text x="461" y="16.3" text-anchor="end">1.0</text>
</g>
<text x="556.3" y="214.3" font-size="7.1" text-anchor="middle" fill="#111">X (km)</text>
<text transform="translate(447.6 106.2) rotate(-90)" font-size="7.1" text-anchor="middle" fill="#111">Y (km)</text>
<text x="465.8" y="24" font-size="9.2" fill="#111">(c)</text>
<g font-size="10.3" text-anchor="middle" fill="#111"><text x="114.5" y="8">80 Myr</text><text x="335.6" y="8">90 Myr (crater Philolaus formed)</text><text x="556.5" y="8">1500 Myr</text></g>
<rect x="657.1" y="14.4" width="7.7" height="183.29999999999998" fill="url(#cb)" stroke="#1a1a1a" stroke-width=".6"/>
<g font-size="5.3" fill="#111" stroke="#111" stroke-width=".12">
<text x="674.4" y="171.8" text-anchor="end">−8</text>
<text x="674.4" y="142.4" text-anchor="end">−6</text>
<text x="674.4" y="113" text-anchor="end">−4</text>
<text x="674.4" y="83.6" text-anchor="end">−2</text>
<text x="674.4" y="54.2" text-anchor="end">0</text>
<text x="674.4" y="24.8" text-anchor="end">2</text>
</g>
<path d="M664.8 184.6h1M664.8 169.9h2M664.8 155.2h1M664.8 140.5h2M664.8 125.8h1M664.8 111.1h2M664.8 96.4h1M664.8 81.7h2M664.8 67h1M664.8 52.3h2M664.8 37.6h1M664.8 22.9h2" stroke="#1a1a1a" stroke-width=".5"/>
<text transform="translate(683 106.3) rotate(-90)" font-size="7.2" text-anchor="middle" fill="#111">Elevation (m)</text>
<g clip-path="url(#cq0)">
<path d="M22.5 236.0L23.0 236.0L23.5 236.0L24.0 236.0L24.5 236.0L25.0 236.0L25.5 235.9L26.0 235.9L26.5 235.9L27.0 235.9L27.5 235.9L28.0 235.9L28.5 235.9L29.0 235.9L29.5 235.9L30.0 235.9L30.5 235.9L31.0 235.9L31.5 235.9L32.0 235.9L32.5 235.9L33.0 235.9L33.5 235.9L34.0 235.9L34.5 235.9L35.0 235.9L35.5 235.9L36.0 235.9L36.5 235.9L37.0 235.9L37.5 235.9L38.0 235.9L38.5 235.9L39.0 235.9L39.5 235.9L40.0 235.9L40.5 235.9L41.0 235.8L41.5 235.8L42.0 235.8L42.5 235.8L43.0 235.8L43.5 235.8L44.0 235.8L44.5 235.8L45.0 235.8L45.5 235.8L46.0 235.8L46.5 235.8L47.0 235.8L47.5 235.8L48.0 235.8L48.5 235.8L49.0 235.8L49.5 235.8L50.0 235.9L50.5 236.2L51.0 236.2L51.5 236.0L52.0 235.8L52.5 235.8L53.0 235.8L53.5 235.8L54.0 235.8L54.5 236.0L55.0 236.4L55.5 236.6L56.0 236.4L56.5 236.0L57.0 235.8L57.5 235.8L58.0 235.8L58.5 235.8L59.0 235.8L59.5 235.8L60.0 235.8L60.5 235.8L61.0 235.8L61.5 235.8L62.0 236.0L62.5 236.4L63.0 236.8L63.5 237.1L64.0 236.8L64.5 236.4L65.0 236.0L65.5 235.8L66.0 235.8L66.5 235.8L67.0 235.8L67.5 235.8L68.0 235.8L68.5 235.8L69.0 235.8L69.5 235.8L70.0 235.8L70.5 235.8L71.0 235.8L71.5 235.8L72.0 235.8L72.5 235.8L73.0 235.8L73.5 235.8L74.0 235.8L74.5 235.8L75.0 235.8L75.5 235.9L76.0 235.9L76.5 236.0L77.0 236.3L77.5 236.2L78.0 236.0L78.5 235.9L79.0 235.9L79.5 235.9L80.0 235.9L80.5 235.9L81.0 235.9L81.5 235.9L82.0 236.0L82.5 236.2L83.0 236.1L83.5 235.9L84.0 235.9L84.5 235.9L85.0 235.9L85.5 235.9L86.0 235.9L86.5 235.9L87.0 235.9L87.5 235.9L88.0 235.9L88.5 235.9L89.0 235.9L89.5 236.2L90.0 236.4L90.5 236.3L91.0 236.0L91.5 236.0L92.0 236.0L92.5 236.0L93.0 236.0L93.5 236.0L94.0 236.0L94.5 236.0L95.0 236.0L95.5 236.0L96.0 236.0L96.5 236.0L97.0 236.0L97.5 236.0L98.0 236.0L98.5 236.0L99.0 236.0L99.5 236.2L100.0 236.3L100.5 236.2L101.0 236.0L101.5 236.0L102.0 236.0L102.5 236.0L103.0 236.0L103.5 236.0L104.0 236.0L104.5 236.0L105.0 236.0L105.5 236.0L106.0 236.0L106.5 236.0L107.0 236.0L107.5 236.4L108.0 236.7L108.5 236.7L109.0 236.5L109.5 236.1L110.0 236.0L110.5 236.0L111.0 236.0L111.5 236.0L112.0 236.0L112.5 236.0L113.0 236.0L113.5 236.0L114.0 236.0L114.5 236.0L115.0 236.0L115.5 236.0L116.0 236.0L116.5 236.0L117.0 236.0L117.5 236.0L118.0 236.0L118.5 236.0L119.0 236.0L119.5 236.0L120.0 236.0L120.5 236.0L121.0 236.1L121.5 236.4L122.0 236.6L122.5 236.5L123.0 236.2L123.5 236.0L124.0 236.0L124.5 236.0L125.0 236.0L125.5 236.0L126.0 236.0L126.5 236.0L127.0 236.0L127.5 236.0L128.0 236.0L128.5 236.0L129.0 236.4L129.5 236.7L130.0 236.8L130.5 236.5L131.0 236.1L131.5 236.0L132.0 236.0L132.5 236.0L133.0 236.0L133.5 236.0L134.0 236.0L134.5 236.0L135.0 236.0L135.5 236.2L136.0 236.3L136.5 236.2L137.0 236.0L137.5 236.0L138.0 236.0L138.5 236.0L139.0 236.0L139.5 236.0L140.0 236.0L140.5 236.0L141.0 236.0L141.5 236.0L142.0 235.9L142.5 235.9L143.0 235.9L143.5 235.9L144.0 235.9L144.5 235.9L145.0 235.9L145.5 235.9L146.0 235.9L146.5 235.9L147.0 235.9L147.5 236.1L148.0 236.4L148.5 236.6L149.0 236.4L149.5 236.0L150.0 236.0L150.5 236.3L151.0 236.3L151.5 236.1L152.0 236.0L152.5 236.2L153.0 236.2L153.5 236.0L154.0 235.9L154.5 235.9L155.0 235.9L155.5 235.9L156.0 235.9L156.5 235.9L157.0 235.9L157.5 235.8L158.0 235.8L158.5 236.1L159.0 236.5L159.5 236.8L160.0 236.8L160.5 236.4L161.0 236.0L161.5 235.8L162.0 235.8L162.5 235.8L163.0 235.8L163.5 235.8L164.0 235.9L164.5 236.1L165.0 236.2L165.5 236.0L166.0 235.8L166.5 235.8L167.0 235.8L167.5 235.8L168.0 235.8L168.5 235.8L169.0 235.8L169.5 235.8L170.0 235.8L170.5 235.8L171.0 235.8L171.5 235.8L172.0 235.8L172.5 235.8L173.0 235.8L173.5 236.0L174.0 236.2L174.5 236.2L175.0 235.9L175.5 236.0L176.0 236.2L176.5 236.1L177.0 235.9L177.5 235.8L178.0 235.8L178.5 235.8L179.0 235.8L179.5 235.8L180.0 235.8L180.5 235.8L181.0 235.8L181.5 235.8L182.0 235.8L182.5 235.8L183.0 235.8L183.5 235.8L184.0 235.8L184.5 235.8L185.0 235.8L185.5 235.8L186.0 235.8L186.5 235.8L187.0 235.8L187.5 235.8L188.0 235.8L188.5 235.8L189.0 235.8L189.5 235.8L190.0 235.8L190.5 235.8L191.0 235.8L191.5 235.8L192.0 235.9L192.5 235.9L193.0 235.9L193.5 235.9L194.0 235.9L194.5 235.9L195.0 236.1L195.5 236.4L196.0 236.3L196.5 236.1L197.0 235.9L197.5 235.9L198.0 235.9L198.5 235.9L199.0 235.9L199.5 235.9L200.0 235.9L200.5 235.9L201.0 235.9L201.5 235.9L202.0 235.9L202.5 235.9L203.0 235.9L203.5 235.9L204.0 235.9L204.5 236.0L205.0 236.3L205.5 236.6L206.0 236.6L206.5 236.3L207.0 235.9L207.5 236.0L208.0 236.0L208.5 236.0L209.0 236.0L209.5 236.1L210.0 236.4L210.5 236.5L211.0 236.3L211.5 236.0L212.0 236.0L212.5 236.2L213.0 236.4L213.5 236.4L214.0 236.1L214.5 236.0L215.0 236.0L215.5 236.0L216.0 236.0L216.5 236.0L217.0 236.0L217.5 236.0L218.0 236.0L218.5 236.0L219.0 236.0L219.5 236.0L220.0 236.0L220.5 236.0L221.0 236.0L221.5 236.0L222.0 236.0L222.5 236.0L223.0 236.0L223.5 236.0L224.0 236.0L224.5 236.0L225.0 236.0L225.5 236.0L226.0 236.0L226.5 236.0L227.0 236.0L227.5 236.0L228.0 236.0L228.5 236.0L229.0 236.0L229.5 236.0L230.0 236.0L230.5 236.0L231.0 236.3L231.5 236.6L232.0 236.7L232.5 236.5L233.0 236.1L233.5 236.0L234.0 236.0L234.5 236.0L235.0 236.0L235.5 236.0L236.0 236.0L236.5 236.0L237.0 236.0L237.5 236.0L238.0 236.0L238.5 236.0L239.0 236.0L239.5 236.0L240.0 236.0L240.5 236.0L241.0 236.0L241.5 236.0L242.0 236.0L242.5 236.0L243.0 236.0L243.5 236.0L244.0 236.0L244.5 236.0L245.0 236.0L245.5 236.0L246.0 236.0L246.5 236.0L247.0 236.0L247.5 236.0L248.0 236.0L248.5 236.0L249.0 236.0L249.5 236.0L250.0 236.0L250.5 236.1L251.0 236.6L251.5 237.1L252.0 237.5L252.5 237.6L253.0 237.3L253.5 236.9L254.0 236.4L254.5 236.0L255.0 236.0L255.5 236.0L256.0 236.0L256.5 236.0L257.0 236.0L257.5 236.0L258.0 235.9L258.5 235.9L259.0 235.9L259.5 235.9L260.0 235.9L260.5 235.9L261.0 235.9L261.5 235.9L262.0 235.9L262.5 235.9L263.0 235.9L263.5 235.9L264.0 235.9L264.5 235.9L265.0 235.9L265.5 235.9L266.0 235.9L266.5 235.9L267.0 235.9L267.5 236.6L268.0 237.6L268.5 238.5L269.0 239.2L269.5 239.3L270.0 238.7L270.5 237.8L271.0 236.8L271.5 235.9L272.0 235.9L272.5 235.9L273.0 235.9L273.5 235.8L274.0 235.8L274.5 235.8L275.0 235.8L275.5 235.9L276.0 236.1L276.5 236.2L277.0 236.0L277.5 235.8L278.0 235.8L278.5 235.8L279.0 235.8L279.5 235.8L280.0 235.8L280.5 235.8L281.0 235.8L281.5 235.8L282.0 235.8L282.5 235.8L283.0 235.8L283.5 235.8L284.0 235.8L284.5 235.8L285.0 235.8L285.5 236.1L286.0 236.7L286.5 237.2L287.0 237.6L287.5 237.8L288.0 237.6L288.5 237.2L289.0 236.7L289.5 236.1L290.0 235.8L290.5 235.8L291.0 235.8L291.5 235.8L292.0 235.8L292.5 235.8L293.0 235.8L293.5 235.8L294.0 235.8L294.5 235.8L295.0 235.8L295.5 235.8L296.0 235.8L296.5 235.8L297.0 235.8L297.5 235.8L298.0 235.8L298.5 235.8L299.0 235.8L299.5 236.0L300.0 236.5L300.5 236.8L301.0 236.9L301.5 236.6L302.0 236.1L302.5 235.8L303.0 235.8L303.5 235.8L304.0 235.8L304.5 235.8L305.0 235.8L305.5 235.8L306.0 235.8L306.5 235.8L307.0 235.8L307.5 235.8L308.0 235.9L308.5 235.9L309.0 235.9L309.5 235.9L310.0 235.9L310.5 235.9L311.0 235.9L311.5 235.9L312.0 235.9L312.5 235.9L313.0 235.9L313.5 235.9L314.0 235.9L314.5 235.9L315.0 235.9L315.5 235.9L316.0 235.9L316.5 235.9L317.0 235.9L317.5 236.1L318.0 236.2L318.5 236.1L319.0 235.9L319.5 235.9L320.0 235.9L320.5 235.9L321.0 235.9L321.5 235.9L322.0 235.9L322.5 235.9L323.0 235.9L323.5 236.0L324.0 236.0L324.5 236.0L325.0 236.0L325.5 236.0L326.0 236.0L326.5 236.0L327.0 236.0L327.5 236.1L328.0 236.4L328.5 236.5L329.0 236.3L329.5 236.0L330.0 236.0L330.5 236.0L331.0 236.0L331.5 236.0L332.0 236.0L332.5 236.2L333.0 236.3L333.5 236.2L334.0 236.0L334.5 236.0L335.0 236.0L335.5 236.0L336.0 236.0L336.5 236.0L337.0 236.0L337.5 236.0L338.0 236.0L338.5 236.0L339.0 236.0L339.5 236.0L340.0 236.0L340.5 236.0L341.0 236.0L341.5 236.0L342.0 236.0L342.5 236.0L343.0 236.0L343.5 236.0L344.0 236.0L344.5 236.0L345.0 236.0L345.5 236.0L346.0 236.0L346.5 236.0L347.0 236.0L347.5 236.0L348.0 236.0L348.5 236.0L349.0 236.0L349.5 236.0L350.0 236.0L350.5 236.0L351.0 236.0L351.5 236.0L352.0 236.0L352.5 236.0L353.0 236.0L353.5 236.1L354.0 236.3L354.5 236.5L355.0 236.3L355.5 236.1L356.0 236.0L356.5 236.0L357.0 236.0L357.5 236.0L358.0 236.0L358.5 236.0L359.0 236.0L359.5 236.0L360.0 236.0L360.5 236.0L361.0 236.0L361.5 236.0L362.0 236.0L362.5 236.0L363.0 236.1L363.5 236.4L364.0 236.4L364.5 236.2L365.0 236.0L365.5 236.0L366.0 236.0L366.5 236.0L367.0 236.0L367.5 236.0L368.0 236.0L368.5 236.0L369.0 236.1L369.5 236.3L370.0 236.4L370.5 236.2L371.0 236.0L371.5 236.0L372.0 236.0L372.5 236.0L373.0 236.0L373.5 236.0L374.0 236.0L374.5 235.9L375.0 235.9L375.5 235.9L376.0 235.9L376.5 235.9L377.0 235.9L377.5 235.9L378.0 235.9L378.5 235.9L379.0 235.9L379.5 235.9L380.0 235.9L380.5 235.9L381.0 235.9L381.5 235.9L382.0 235.9L382.5 235.9L383.0 235.9L383.5 235.9L384.0 235.9L384.5 235.9L385.0 235.9L385.5 235.9L386.0 235.9L386.5 235.9L387.0 236.2L387.5 236.5L388.0 236.6L388.5 236.4L389.0 236.0L389.5 235.9L390.0 235.8L390.5 235.8L391.0 235.8L391.5 235.8L392.0 235.8L392.5 235.8L393.0 235.8L393.5 235.8L394.0 235.8L394.5 235.8L395.0 235.8L395.5 235.8L396.0 235.8L396.5 236.2L397.0 236.4L397.5 236.4L398.0 236.1L398.5 236.3L399.0 236.5L399.5 236.2L400.0 235.9L400.5 235.8L401.0 235.8L401.5 235.8L402.0 235.8L402.5 236.0L403.0 236.2L403.5 236.1L404.0 235.8L404.5 235.8L405.0 235.8L405.5 235.8L406.0 235.8L406.5 235.8L407.0 235.8L407.5 235.8L408.0 235.8L408.5 235.8L409.0 235.8L409.5 235.8L410.0 235.8L410.5 235.8L411.0 235.8L411.5 235.8L412.0 235.8L412.5 235.8L413.0 235.8L413.5 235.8L414.0 235.8L414.5 235.8L415.0 235.8L415.5 235.8L416.0 235.8L416.5 235.8L417.0 235.8L417.5 235.8L418.0 235.8L418.5 235.8L419.0 235.8L419.5 235.8L420.0 235.8L420.5 235.8L421.0 235.8L421.5 235.8L422.0 235.8L422.5 235.8L423.0 235.8L423.5 235.8L424.0 235.9L424.5 235.9L425.0 235.9L425.5 235.9L426.0 235.9L426.5 235.9L427.0 235.9L427.5 236.2L428.0 236.4L428.5 236.3L429.0 236.0L429.5 235.9L430.0 235.9L430.5 236.2L431.0 236.4L431.5 236.3L432.0 236.0L432.5 235.9L433.0 236.0L433.5 236.2L434.0 236.3L434.5 236.1L435.0 235.9L435.5 235.9L436.0 235.9L436.5 235.9L437.0 235.9L437.5 235.9L438.0 235.9L438.5 235.9L439.0 235.9L439.5 235.9L440.0 236.0L440.5 236.0L441.0 236.1L441.5 236.2L442.0 236.1L442.5 236.0L443.0 236.0L443.5 236.0L444.0 236.0L444.5 236.0L445.0 236.0L445.5 236.0L446.0 236.0L446.5 236.0L447.0 236.0L447.5 236.0L448.0 236.0L448.5 236.0L449.0 236.0L449.5 236.0L450.0 236.0L450.5 236.0L451.0 236.0L451.5 236.2L452.0 236.3L452.5 236.2L453.0 236.0L453.5 236.0L454.0 236.0L454.5 236.0L455.0 236.0L455.5 236.0L456.0 236.0L456.5 236.0L457.0 236.0L457.5 236.0L458.0 236.0L458.5 236.0L459.0 236.3L459.5 236.6L460.0 236.8L460.5 236.5L461.0 236.2L461.5 236.0L462.0 236.0L462.5 236.0L463.0 236.0L463.5 236.0L464.0 236.0L464.5 236.0L465.0 236.0L465.5 236.0L466.0 236.0L466.5 236.0L467.0 236.0L467.5 236.0L468.0 236.1L468.5 236.4L469.0 236.6L469.5 236.4L470.0 236.1L470.5 236.0L471.0 236.0L471.5 236.3L472.0 236.4L472.5 236.3L473.0 236.0L473.5 236.0L474.0 236.0L474.5 236.0L475.0 236.0L475.5 236.0L476.0 236.0L476.5 236.0L477.0 236.0L477.5 236.0L478.0 236.0L478.5 236.0L479.0 236.0L479.5 236.0L480.0 236.0L480.5 236.0L481.0 236.0L481.5 236.0L482.0 236.0L482.5 236.0L483.0 236.0L483.5 236.0L484.0 236.0L484.5 236.0L485.0 236.0L485.5 236.0L486.0 236.0L486.5 236.0L487.0 236.0L487.5 236.0L488.0 236.0L488.5 236.0L489.0 236.0L489.5 236.0L490.0 236.0L490.5 235.9L491.0 235.9L491.5 235.9L492.0 235.9L492.5 235.9L493.0 235.9L493.5 235.9L494.0 235.9L494.5 235.9L495.0 235.9L495.5 235.9L496.0 235.9L496.5 236.1L497.0 236.2L497.5 236.1L498.0 235.9L498.5 235.9L499.0 235.9L499.5 235.9L500.0 235.9L500.5 235.9L501.0 235.9L501.5 235.9L502.0 235.9L502.5 235.9L503.0 235.9L503.5 235.9L504.0 235.9L504.5 235.9L505.0 235.9L505.5 235.9L506.0 235.8L506.5 235.8L507.0 235.8L507.5 235.8L508.0 235.8L508.5 235.8L509.0 235.8L509.5 235.8L510.0 235.8L510.5 235.8L511.0 235.8L511.5 235.8L512.0 235.8L512.5 235.8L513.0 235.8L513.5 235.8L514.0 235.8L514.5 235.8L515.0 235.8L515.5 235.9L516.0 236.1L516.5 236.2L517.0 236.0L517.5 235.8L518.0 235.8L518.5 236.2L519.0 236.7L519.5 237.1L520.0 237.3L520.5 237.0L521.0 236.5L521.5 236.0L522.0 235.8L522.5 235.8L523.0 235.8L523.5 235.8L524.0 235.8L524.5 235.8L525.0 235.8L525.5 235.8L526.0 235.8L526.5 235.8L527.0 235.8L527.5 235.8L528.0 235.8L528.5 235.8L529.0 235.8L529.5 235.8L530.0 235.8L530.5 235.8L531.0 235.8L531.5 235.8L532.0 235.8L532.5 235.8L533.0 235.8L533.5 235.8L534.0 235.8L534.5 235.8L535.0 235.8L535.5 235.8L536.0 235.8L536.5 235.8L537.0 235.8L537.5 235.8L538.0 235.8L538.5 235.8L539.0 235.8L539.5 235.8L540.0 236.1L540.5 236.4L541.0 236.5L541.5 236.3L542.0 235.9L542.5 235.9L543.0 235.9L543.5 235.9L544.0 235.9L544.5 235.9L545.0 235.9L545.5 235.9L546.0 235.9L546.5 235.9L547.0 235.9L547.5 235.9L548.0 235.9L548.5 235.9L549.0 235.9L549.5 235.9L550.0 235.9L550.5 235.9L551.0 235.9L551.5 235.9L552.0 235.9L552.5 235.9L553.0 235.9L553.5 235.9L554.0 235.9L554.5 235.9L555.0 235.9L555.5 235.9L556.0 236.0L556.5 236.0L557.0 236.0L557.5 236.0L558.0 236.2L558.5 236.3L559.0 236.1L559.5 236.0L560.0 236.0L560.5 236.0L561.0 236.0L561.5 236.0L562.0 236.0L562.5 236.0L563.0 236.0L563.5 236.0L564.0 236.0L564.5 236.2L565.0 236.3L565.5 236.2L566.0 236.0L566.5 236.0L567.0 236.0L567.5 236.0L568.0 236.0L568.5 236.0L569.0 236.1L569.5 236.6L570.0 237.0L570.5 237.3L571.0 237.2L571.5 236.8L572.0 236.3L572.5 236.0L573.0 236.0L573.5 236.0L574.0 236.0L574.5 236.0L575.0 236.0L575.5 236.0L576.0 236.0L576.5 236.0L577.0 236.3L577.5 236.5L578.0 236.6L578.5 236.3L579.0 236.0L579.5 236.0L580.0 236.0L580.5 236.0L581.0 236.0L581.5 236.0L582.0 236.0L582.5 236.0L583.0 236.0L583.5 236.0L584.0 236.0L584.5 236.0L585.0 236.0L585.5 236.0L586.0 236.3L586.5 236.8L587.0 237.2L587.5 237.5L588.0 237.3L588.5 237.0L589.0 236.5L589.5 236.0L590.0 236.2L590.5 236.5L591.0 236.8L591.5 236.6L592.0 236.3L592.5 236.0L593.0 236.0L593.5 236.0L594.0 236.0L594.5 236.0L595.0 236.0L595.5 236.0L596.0 236.0L596.5 236.0L597.0 236.0L597.5 236.0L598.0 236.0L598.5 236.0L599.0 236.0L599.5 236.0L600.0 236.0L600.5 236.0L601.0 236.0L601.5 236.0L602.0 236.0L602.5 236.0L603.0 236.0L603.5 236.5L604.0 236.8L604.5 237.0L605.0 236.7L605.5 236.3L606.0 236.0L606.5 236.3L607.0 236.6L607.5 236.9L608.0 236.6L608.5 236.3L609.0 235.9L609.5 235.9L610.0 235.9L610.5 235.9L611.0 235.9L611.5 235.9L612.0 236.1L612.5 236.3L613.0 236.2L613.5 235.9L614.0 235.9L614.5 235.9L615.0 235.9L615.5 235.9L616.0 235.9L616.5 235.9L617.0 236.0L617.5 236.3L618.0 236.5L618.5 236.3L619.0 236.0L619.5 235.9L620.0 235.9L620.5 235.9L621.0 235.9L621.5 235.9L622.0 235.9L622.5 235.8L623.0 235.8L623.5 236.1L624.0 236.4L624.5 236.5L625.0 236.2L625.5 235.8L626.0 235.8L626.5 235.8L627.0 235.8L627.5 235.8L628.0 235.8L628.5 235.8L629.0 235.8L629.5 235.8L630.0 235.8L630.5 235.8L631.0 235.8L631.5 235.8L632.0 236.0L632.5 236.2L633.0 236.2L633.5 235.9L634.0 235.8L634.5 235.8L635.0 235.8L635.5 235.8L636.0 235.8L636.5 235.8L637.0 235.8L637.5 235.8L638.0 236.0L638.5 236.3L639.0 236.6L639.5 236.3L640.0 236.0L640.5 235.8L641.0 236.1L641.5 236.4L642.0 236.7L642.5 236.6L643.0 236.2L643.5 235.8L644.0 235.8L644.5 235.8L645.0 235.8L645.5 235.8L646.0 236.0L646.5 236.4L647.0 236.7L647.5 236.6L648.0 236.3L648.2 255.1L22.5 255.1Z" fill="#bcbcbc"/>
<path d="M22.5 236.0L23.0 236.0L23.5 236.0L24.0 236.0L24.5 236.0L25.0 236.0L25.5 235.9L26.0 235.9L26.5 235.9L27.0 235.9L27.5 235.9L28.0 235.9L28.5 235.9L29.0 235.9L29.5 235.9L30.0 235.9L30.5 235.9L31.0 235.9L31.5 235.9L32.0 235.9L32.5 235.9L33.0 235.9L33.5 235.9L34.0 235.9L34.5 235.9L35.0 235.9L35.5 235.9L36.0 235.9L36.5 235.9L37.0 235.9L37.5 235.9L38.0 235.9L38.5 235.9L39.0 235.9L39.5 235.9L40.0 235.9L40.5 235.9L41.0 235.8L41.5 235.8L42.0 235.8L42.5 235.8L43.0 235.8L43.5 235.8L44.0 235.8L44.5 235.8L45.0 235.8L45.5 235.8L46.0 235.8L46.5 235.8L47.0 235.8L47.5 235.8L48.0 235.8L48.5 235.8L49.0 235.8L49.5 235.8L50.0 235.9L50.5 236.2L51.0 236.2L51.5 236.0L52.0 235.8L52.5 235.8L53.0 235.8L53.5 235.8L54.0 235.8L54.5 236.0L55.0 236.4L55.5 236.6L56.0 236.4L56.5 236.0L57.0 235.8L57.5 235.8L58.0 235.8L58.5 235.8L59.0 235.8L59.5 235.8L60.0 235.8L60.5 235.8L61.0 235.8L61.5 235.8L62.0 236.0L62.5 236.4L63.0 236.8L63.5 237.1L64.0 236.8L64.5 236.4L65.0 236.0L65.5 235.8L66.0 235.8L66.5 235.8L67.0 235.8L67.5 235.8L68.0 235.8L68.5 235.8L69.0 235.8L69.5 235.8L70.0 235.8L70.5 235.8L71.0 235.8L71.5 235.8L72.0 235.8L72.5 235.8L73.0 235.8L73.5 235.8L74.0 235.8L74.5 235.8L75.0 235.8L75.5 235.9L76.0 235.9L76.5 236.0L77.0 236.3L77.5 236.2L78.0 236.0L78.5 235.9L79.0 235.9L79.5 235.9L80.0 235.9L80.5 235.9L81.0 235.9L81.5 235.9L82.0 236.0L82.5 236.2L83.0 236.1L83.5 235.9L84.0 235.9L84.5 235.9L85.0 235.9L85.5 235.9L86.0 235.9L86.5 235.9L87.0 235.9L87.5 235.9L88.0 235.9L88.5 235.9L89.0 235.9L89.5 236.2L90.0 236.4L90.5 236.3L91.0 236.0L91.5 236.0L92.0 236.0L92.5 236.0L93.0 236.0L93.5 236.0L94.0 236.0L94.5 236.0L95.0 236.0L95.5 236.0L96.0 236.0L96.5 236.0L97.0 236.0L97.5 236.0L98.0 236.0L98.5 236.0L99.0 236.0L99.5 236.2L100.0 236.3L100.5 236.2L101.0 236.0L101.5 236.0L102.0 236.0L102.5 236.0L103.0 236.0L103.5 236.0L104.0 236.0L104.5 236.0L105.0 236.0L105.5 236.0L106.0 236.0L106.5 236.0L107.0 236.0L107.5 236.4L108.0 236.7L108.5 236.7L109.0 236.5L109.5 236.1L110.0 236.0L110.5 236.0L111.0 236.0L111.5 236.0L112.0 236.0L112.5 236.0L113.0 236.0L113.5 236.0L114.0 236.0L114.5 236.0L115.0 236.0L115.5 236.0L116.0 236.0L116.5 236.0L117.0 236.0L117.5 236.0L118.0 236.0L118.5 236.0L119.0 236.0L119.5 236.0L120.0 236.0L120.5 236.0L121.0 236.1L121.5 236.4L122.0 236.6L122.5 236.5L123.0 236.2L123.5 236.0L124.0 236.0L124.5 236.0L125.0 236.0L125.5 236.0L126.0 236.0L126.5 236.0L127.0 236.0L127.5 236.0L128.0 236.0L128.5 236.0L129.0 236.4L129.5 236.7L130.0 236.8L130.5 236.5L131.0 236.1L131.5 236.0L132.0 236.0L132.5 236.0L133.0 236.0L133.5 236.0L134.0 236.0L134.5 236.0L135.0 236.0L135.5 236.2L136.0 236.3L136.5 236.2L137.0 236.0L137.5 236.0L138.0 236.0L138.5 236.0L139.0 236.0L139.5 236.0L140.0 236.0L140.5 236.0L141.0 236.0L141.5 236.0L142.0 235.9L142.5 235.9L143.0 235.9L143.5 235.9L144.0 235.9L144.5 235.9L145.0 235.9L145.5 235.9L146.0 235.9L146.5 235.9L147.0 235.9L147.5 236.1L148.0 236.4L148.5 236.6L149.0 236.4L149.5 236.0L150.0 236.0L150.5 236.3L151.0 236.3L151.5 236.1L152.0 236.0L152.5 236.2L153.0 236.2L153.5 236.0L154.0 235.9L154.5 235.9L155.0 235.9L155.5 235.9L156.0 235.9L156.5 235.9L157.0 235.9L157.5 235.8L158.0 235.8L158.5 236.1L159.0 236.5L159.5 236.8L160.0 236.8L160.5 236.4L161.0 236.0L161.5 235.8L162.0 235.8L162.5 235.8L163.0 235.8L163.5 235.8L164.0 235.9L164.5 236.1L165.0 236.2L165.5 236.0L166.0 235.8L166.5 235.8L167.0 235.8L167.5 235.8L168.0 235.8L168.5 235.8L169.0 235.8L169.5 235.8L170.0 235.8L170.5 235.8L171.0 235.8L171.5 235.8L172.0 235.8L172.5 235.8L173.0 235.8L173.5 236.0L174.0 236.2L174.5 236.2L175.0 235.9L175.5 236.0L176.0 236.2L176.5 236.1L177.0 235.9L177.5 235.8L178.0 235.8L178.5 235.8L179.0 235.8L179.5 235.8L180.0 235.8L180.5 235.8L181.0 235.8L181.5 235.8L182.0 235.8L182.5 235.8L183.0 235.8L183.5 235.8L184.0 235.8L184.5 235.8L185.0 235.8L185.5 235.8L186.0 235.8L186.5 235.8L187.0 235.8L187.5 235.8L188.0 235.8L188.5 235.8L189.0 235.8L189.5 235.8L190.0 235.8L190.5 235.8L191.0 235.8L191.5 235.8L192.0 235.9L192.5 235.9L193.0 235.9L193.5 235.9L194.0 235.9L194.5 235.9L195.0 236.1L195.5 236.4L196.0 236.3L196.5 236.1L197.0 235.9L197.5 235.9L198.0 235.9L198.5 235.9L199.0 235.9L199.5 235.9L200.0 235.9L200.5 235.9L201.0 235.9L201.5 235.9L202.0 235.9L202.5 235.9L203.0 235.9L203.5 235.9L204.0 235.9L204.5 236.0L205.0 236.3L205.5 236.6L206.0 236.6L206.5 236.3L207.0 235.9L207.5 236.0L208.0 236.0L208.5 236.0L209.0 236.0L209.5 236.1L210.0 236.4L210.5 236.5L211.0 236.3L211.5 236.0L212.0 236.0L212.5 236.2L213.0 236.4L213.5 236.4L214.0 236.1L214.5 236.0L215.0 236.0L215.5 236.0L216.0 236.0L216.5 236.0L217.0 236.0L217.5 236.0L218.0 236.0L218.5 236.0L219.0 236.0L219.5 236.0L220.0 236.0L220.5 236.0L221.0 236.0L221.5 236.0L222.0 236.0L222.5 236.0L223.0 236.0L223.5 236.0L224.0 236.0L224.5 236.0L225.0 236.0L225.5 236.0L226.0 236.0L226.5 236.0L227.0 236.0L227.5 236.0L228.0 236.0L228.5 236.0L229.0 236.0L229.5 236.0L230.0 236.0L230.5 236.0L231.0 236.3L231.5 236.6L232.0 236.7L232.5 236.5L233.0 236.1L233.5 236.0L234.0 236.0L234.5 236.0L235.0 236.0L235.5 236.0L236.0 236.0L236.5 236.0L237.0 236.0L237.5 236.0L238.0 236.0L238.5 236.0L239.0 236.0L239.5 236.0L240.0 236.0L240.5 236.0L241.0 236.0L241.5 236.0L242.0 236.0L242.5 236.0L243.0 236.0L243.5 236.0L244.0 236.0L244.5 236.0L245.0 236.0L245.5 236.0L246.0 236.0L246.5 236.0L247.0 236.0L247.5 236.0L248.0 236.0L248.5 236.0L249.0 236.0L249.5 236.0L250.0 236.0L250.5 236.1L251.0 236.6L251.5 237.1L252.0 237.5L252.5 237.6L253.0 237.3L253.5 236.9L254.0 236.4L254.5 236.0L255.0 236.0L255.5 236.0L256.0 236.0L256.5 236.0L257.0 236.0L257.5 236.0L258.0 235.9L258.5 235.9L259.0 235.9L259.5 235.9L260.0 235.9L260.5 235.9L261.0 235.9L261.5 235.9L262.0 235.9L262.5 235.9L263.0 235.9L263.5 235.9L264.0 235.9L264.5 235.9L265.0 235.9L265.5 235.9L266.0 235.9L266.5 235.9L267.0 235.9L267.5 236.6L268.0 237.6L268.5 238.5L269.0 239.2L269.5 239.3L270.0 238.7L270.5 237.8L271.0 236.8L271.5 235.9L272.0 235.9L272.5 235.9L273.0 235.9L273.5 235.8L274.0 235.8L274.5 235.8L275.0 235.8L275.5 235.9L276.0 236.1L276.5 236.2L277.0 236.0L277.5 235.8L278.0 235.8L278.5 235.8L279.0 235.8L279.5 235.8L280.0 235.8L280.5 235.8L281.0 235.8L281.5 235.8L282.0 235.8L282.5 235.8L283.0 235.8L283.5 235.8L284.0 235.8L284.5 235.8L285.0 235.8L285.5 236.1L286.0 236.7L286.5 237.2L287.0 237.6L287.5 237.8L288.0 237.6L288.5 237.2L289.0 236.7L289.5 236.1L290.0 235.8L290.5 235.8L291.0 235.8L291.5 235.8L292.0 235.8L292.5 235.8L293.0 235.8L293.5 235.8L294.0 235.8L294.5 235.8L295.0 235.8L295.5 235.8L296.0 235.8L296.5 235.8L297.0 235.8L297.5 235.8L298.0 235.8L298.5 235.8L299.0 235.8L299.5 236.0L300.0 236.5L300.5 236.8L301.0 236.9L301.5 236.6L302.0 236.1L302.5 235.8L303.0 235.8L303.5 235.8L304.0 235.8L304.5 235.8L305.0 235.8L305.5 235.8L306.0 235.8L306.5 235.8L307.0 235.8L307.5 235.8L308.0 235.9L308.5 235.9L309.0 235.9L309.5 235.9L310.0 235.9L310.5 235.9L311.0 235.9L311.5 235.9L312.0 235.9L312.5 235.9L313.0 235.9L313.5 235.9L314.0 235.9L314.5 235.9L315.0 235.9L315.5 235.9L316.0 235.9L316.5 235.9L317.0 235.9L317.5 236.1L318.0 236.2L318.5 236.1L319.0 235.9L319.5 235.9L320.0 235.9L320.5 235.9L321.0 235.9L321.5 235.9L322.0 235.9L322.5 235.9L323.0 235.9L323.5 236.0L324.0 236.0L324.5 236.0L325.0 236.0L325.5 236.0L326.0 236.0L326.5 236.0L327.0 236.0L327.5 236.1L328.0 236.4L328.5 236.5L329.0 236.3L329.5 236.0L330.0 236.0L330.5 236.0L331.0 236.0L331.5 236.0L332.0 236.0L332.5 236.2L333.0 236.3L333.5 236.2L334.0 236.0L334.5 236.0L335.0 236.0L335.5 236.0L336.0 236.0L336.5 236.0L337.0 236.0L337.5 236.0L338.0 236.0L338.5 236.0L339.0 236.0L339.5 236.0L340.0 236.0L340.5 236.0L341.0 236.0L341.5 236.0L342.0 236.0L342.5 236.0L343.0 236.0L343.5 236.0L344.0 236.0L344.5 236.0L345.0 236.0L345.5 236.0L346.0 236.0L346.5 236.0L347.0 236.0L347.5 236.0L348.0 236.0L348.5 236.0L349.0 236.0L349.5 236.0L350.0 236.0L350.5 236.0L351.0 236.0L351.5 236.0L352.0 236.0L352.5 236.0L353.0 236.0L353.5 236.1L354.0 236.3L354.5 236.5L355.0 236.3L355.5 236.1L356.0 236.0L356.5 236.0L357.0 236.0L357.5 236.0L358.0 236.0L358.5 236.0L359.0 236.0L359.5 236.0L360.0 236.0L360.5 236.0L361.0 236.0L361.5 236.0L362.0 236.0L362.5 236.0L363.0 236.1L363.5 236.4L364.0 236.4L364.5 236.2L365.0 236.0L365.5 236.0L366.0 236.0L366.5 236.0L367.0 236.0L367.5 236.0L368.0 236.0L368.5 236.0L369.0 236.1L369.5 236.3L370.0 236.4L370.5 236.2L371.0 236.0L371.5 236.0L372.0 236.0L372.5 236.0L373.0 236.0L373.5 236.0L374.0 236.0L374.5 235.9L375.0 235.9L375.5 235.9L376.0 235.9L376.5 235.9L377.0 235.9L377.5 235.9L378.0 235.9L378.5 235.9L379.0 235.9L379.5 235.9L380.0 235.9L380.5 235.9L381.0 235.9L381.5 235.9L382.0 235.9L382.5 235.9L383.0 235.9L383.5 235.9L384.0 235.9L384.5 235.9L385.0 235.9L385.5 235.9L386.0 235.9L386.5 235.9L387.0 236.2L387.5 236.5L388.0 236.6L388.5 236.4L389.0 236.0L389.5 235.9L390.0 235.8L390.5 235.8L391.0 235.8L391.5 235.8L392.0 235.8L392.5 235.8L393.0 235.8L393.5 235.8L394.0 235.8L394.5 235.8L395.0 235.8L395.5 235.8L396.0 235.8L396.5 236.2L397.0 236.4L397.5 236.4L398.0 236.1L398.5 236.3L399.0 236.5L399.5 236.2L400.0 235.9L400.5 235.8L401.0 235.8L401.5 235.8L402.0 235.8L402.5 236.0L403.0 236.2L403.5 236.1L404.0 235.8L404.5 235.8L405.0 235.8L405.5 235.8L406.0 235.8L406.5 235.8L407.0 235.8L407.5 235.8L408.0 235.8L408.5 235.8L409.0 235.8L409.5 235.8L410.0 235.8L410.5 235.8L411.0 235.8L411.5 235.8L412.0 235.8L412.5 235.8L413.0 235.8L413.5 235.8L414.0 235.8L414.5 235.8L415.0 235.8L415.5 235.8L416.0 235.8L416.5 235.8L417.0 235.8L417.5 235.8L418.0 235.8L418.5 235.8L419.0 235.8L419.5 235.8L420.0 235.8L420.5 235.8L421.0 235.8L421.5 235.8L422.0 235.8L422.5 235.8L423.0 235.8L423.5 235.8L424.0 235.9L424.5 235.9L425.0 235.9L425.5 235.9L426.0 235.9L426.5 235.9L427.0 235.9L427.5 236.2L428.0 236.4L428.5 236.3L429.0 236.0L429.5 235.9L430.0 235.9L430.5 236.2L431.0 236.4L431.5 236.3L432.0 236.0L432.5 235.9L433.0 236.0L433.5 236.2L434.0 236.3L434.5 236.1L435.0 235.9L435.5 235.9L436.0 235.9L436.5 235.9L437.0 235.9L437.5 235.9L438.0 235.9L438.5 235.9L439.0 235.9L439.5 235.9L440.0 236.0L440.5 236.0L441.0 236.1L441.5 236.2L442.0 236.1L442.5 236.0L443.0 236.0L443.5 236.0L444.0 236.0L444.5 236.0L445.0 236.0L445.5 236.0L446.0 236.0L446.5 236.0L447.0 236.0L447.5 236.0L448.0 236.0L448.5 236.0L449.0 236.0L449.5 236.0L450.0 236.0L450.5 236.0L451.0 236.0L451.5 236.2L452.0 236.3L452.5 236.2L453.0 236.0L453.5 236.0L454.0 236.0L454.5 236.0L455.0 236.0L455.5 236.0L456.0 236.0L456.5 236.0L457.0 236.0L457.5 236.0L458.0 236.0L458.5 236.0L459.0 236.3L459.5 236.6L460.0 236.8L460.5 236.5L461.0 236.2L461.5 236.0L462.0 236.0L462.5 236.0L463.0 236.0L463.5 236.0L464.0 236.0L464.5 236.0L465.0 236.0L465.5 236.0L466.0 236.0L466.5 236.0L467.0 236.0L467.5 236.0L468.0 236.1L468.5 236.4L469.0 236.6L469.5 236.4L470.0 236.1L470.5 236.0L471.0 236.0L471.5 236.3L472.0 236.4L472.5 236.3L473.0 236.0L473.5 236.0L474.0 236.0L474.5 236.0L475.0 236.0L475.5 236.0L476.0 236.0L476.5 236.0L477.0 236.0L477.5 236.0L478.0 236.0L478.5 236.0L479.0 236.0L479.5 236.0L480.0 236.0L480.5 236.0L481.0 236.0L481.5 236.0L482.0 236.0L482.5 236.0L483.0 236.0L483.5 236.0L484.0 236.0L484.5 236.0L485.0 236.0L485.5 236.0L486.0 236.0L486.5 236.0L487.0 236.0L487.5 236.0L488.0 236.0L488.5 236.0L489.0 236.0L489.5 236.0L490.0 236.0L490.5 235.9L491.0 235.9L491.5 235.9L492.0 235.9L492.5 235.9L493.0 235.9L493.5 235.9L494.0 235.9L494.5 235.9L495.0 235.9L495.5 235.9L496.0 235.9L496.5 236.1L497.0 236.2L497.5 236.1L498.0 235.9L498.5 235.9L499.0 235.9L499.5 235.9L500.0 235.9L500.5 235.9L501.0 235.9L501.5 235.9L502.0 235.9L502.5 235.9L503.0 235.9L503.5 235.9L504.0 235.9L504.5 235.9L505.0 235.9L505.5 235.9L506.0 235.8L506.5 235.8L507.0 235.8L507.5 235.8L508.0 235.8L508.5 235.8L509.0 235.8L509.5 235.8L510.0 235.8L510.5 235.8L511.0 235.8L511.5 235.8L512.0 235.8L512.5 235.8L513.0 235.8L513.5 235.8L514.0 235.8L514.5 235.8L515.0 235.8L515.5 235.9L516.0 236.1L516.5 236.2L517.0 236.0L517.5 235.8L518.0 235.8L518.5 236.2L519.0 236.7L519.5 237.1L520.0 237.3L520.5 237.0L521.0 236.5L521.5 236.0L522.0 235.8L522.5 235.8L523.0 235.8L523.5 235.8L524.0 235.8L524.5 235.8L525.0 235.8L525.5 235.8L526.0 235.8L526.5 235.8L527.0 235.8L527.5 235.8L528.0 235.8L528.5 235.8L529.0 235.8L529.5 235.8L530.0 235.8L530.5 235.8L531.0 235.8L531.5 235.8L532.0 235.8L532.5 235.8L533.0 235.8L533.5 235.8L534.0 235.8L534.5 235.8L535.0 235.8L535.5 235.8L536.0 235.8L536.5 235.8L537.0 235.8L537.5 235.8L538.0 235.8L538.5 235.8L539.0 235.8L539.5 235.8L540.0 236.1L540.5 236.4L541.0 236.5L541.5 236.3L542.0 235.9L542.5 235.9L543.0 235.9L543.5 235.9L544.0 235.9L544.5 235.9L545.0 235.9L545.5 235.9L546.0 235.9L546.5 235.9L547.0 235.9L547.5 235.9L548.0 235.9L548.5 235.9L549.0 235.9L549.5 235.9L550.0 235.9L550.5 235.9L551.0 235.9L551.5 235.9L552.0 235.9L552.5 235.9L553.0 235.9L553.5 235.9L554.0 235.9L554.5 235.9L555.0 235.9L555.5 235.9L556.0 236.0L556.5 236.0L557.0 236.0L557.5 236.0L558.0 236.2L558.5 236.3L559.0 236.1L559.5 236.0L560.0 236.0L560.5 236.0L561.0 236.0L561.5 236.0L562.0 236.0L562.5 236.0L563.0 236.0L563.5 236.0L564.0 236.0L564.5 236.2L565.0 236.3L565.5 236.2L566.0 236.0L566.5 236.0L567.0 236.0L567.5 236.0L568.0 236.0L568.5 236.0L569.0 236.1L569.5 236.6L570.0 237.0L570.5 237.3L571.0 237.2L571.5 236.8L572.0 236.3L572.5 236.0L573.0 236.0L573.5 236.0L574.0 236.0L574.5 236.0L575.0 236.0L575.5 236.0L576.0 236.0L576.5 236.0L577.0 236.3L577.5 236.5L578.0 236.6L578.5 236.3L579.0 236.0L579.5 236.0L580.0 236.0L580.5 236.0L581.0 236.0L581.5 236.0L582.0 236.0L582.5 236.0L583.0 236.0L583.5 236.0L584.0 236.0L584.5 236.0L585.0 236.0L585.5 236.0L586.0 236.3L586.5 236.8L587.0 237.2L587.5 237.5L588.0 237.3L588.5 237.0L589.0 236.5L589.5 236.0L590.0 236.2L590.5 236.5L591.0 236.8L591.5 236.6L592.0 236.3L592.5 236.0L593.0 236.0L593.5 236.0L594.0 236.0L594.5 236.0L595.0 236.0L595.5 236.0L596.0 236.0L596.5 236.0L597.0 236.0L597.5 236.0L598.0 236.0L598.5 236.0L599.0 236.0L599.5 236.0L600.0 236.0L600.5 236.0L601.0 236.0L601.5 236.0L602.0 236.0L602.5 236.0L603.0 236.0L603.5 236.5L604.0 236.8L604.5 237.0L605.0 236.7L605.5 236.3L606.0 236.0L606.5 236.3L607.0 236.6L607.5 236.9L608.0 236.6L608.5 236.3L609.0 235.9L609.5 235.9L610.0 235.9L610.5 235.9L611.0 235.9L611.5 235.9L612.0 236.1L612.5 236.3L613.0 236.2L613.5 235.9L614.0 235.9L614.5 235.9L615.0 235.9L615.5 235.9L616.0 235.9L616.5 235.9L617.0 236.0L617.5 236.3L618.0 236.5L618.5 236.3L619.0 236.0L619.5 235.9L620.0 235.9L620.5 235.9L621.0 235.9L621.5 235.9L622.0 235.9L622.5 235.8L623.0 235.8L623.5 236.1L624.0 236.4L624.5 236.5L625.0 236.2L625.5 235.8L626.0 235.8L626.5 235.8L627.0 235.8L627.5 235.8L628.0 235.8L628.5 235.8L629.0 235.8L629.5 235.8L630.0 235.8L630.5 235.8L631.0 235.8L631.5 235.8L632.0 236.0L632.5 236.2L633.0 236.2L633.5 235.9L634.0 235.8L634.5 235.8L635.0 235.8L635.5 235.8L636.0 235.8L636.5 235.8L637.0 235.8L637.5 235.8L638.0 236.0L638.5 236.3L639.0 236.6L639.5 236.3L640.0 236.0L640.5 235.8L641.0 236.1L641.5 236.4L642.0 236.7L642.5 236.6L643.0 236.2L643.5 235.8L644.0 235.8L644.5 235.8L645.0 235.8L645.5 235.8L646.0 236.0L646.5 236.4L647.0 236.7L647.5 236.6L648.0 236.3" fill="none" stroke="#ea7878" stroke-width=".6" stroke-linejoin="round"/>
<path d="M22.5 236.7L23.0 236.7L23.5 236.7L24.0 236.7L24.5 236.7L25.0 236.7L25.5 236.7L26.0 236.7L26.5 236.7L27.0 236.7L27.5 236.7L28.0 236.7L28.5 236.7L29.0 236.7L29.5 236.7L30.0 236.7L30.5 236.7L31.0 236.7L31.5 236.7L32.0 236.7L32.5 236.7L33.0 236.7L33.5 236.7L34.0 236.7L34.5 236.7L35.0 236.7L35.5 236.7L36.0 236.7L36.5 236.7L37.0 236.7L37.5 236.7L38.0 236.7L38.5 236.7L39.0 236.7L39.5 236.7L40.0 236.7L40.5 236.7L41.0 236.7L41.5 236.7L42.0 236.7L42.5 236.7L43.0 236.7L43.5 236.7L44.0 236.7L44.5 236.7L45.0 236.7L45.5 236.7L46.0 236.7L46.5 236.7L47.0 236.7L47.5 236.7L48.0 236.7L48.5 236.7L49.0 236.7L49.5 236.7L50.0 237.5L50.5 238.9L51.0 239.1L51.5 237.8L52.0 236.7L52.5 236.7L53.0 236.7L53.5 236.7L54.0 236.7L54.5 238.1L55.0 240.3L55.5 241.7L56.0 240.3L56.5 238.1L57.0 236.7L57.5 236.7L58.0 236.7L58.5 236.7L59.0 236.7L59.5 236.7L60.0 236.7L60.5 236.7L61.0 236.7L61.5 236.7L62.0 237.7L62.5 240.6L63.0 243.1L63.5 244.7L64.0 243.1L64.5 240.6L65.0 237.7L65.5 236.7L66.0 236.7L66.5 236.7L67.0 236.7L67.5 236.7L68.0 236.7L68.5 236.7L69.0 236.7L69.5 236.7L70.0 236.7L70.5 236.7L71.0 236.7L71.5 236.7L72.0 236.7L72.5 236.7L73.0 236.7L73.5 236.7L74.0 236.7L74.5 236.7L75.0 236.7L75.5 236.7L76.0 236.7L76.5 237.8L77.0 239.1L77.5 238.9L78.0 237.5L78.5 236.7L79.0 236.7L79.5 236.7L80.0 236.7L80.5 236.7L81.0 236.7L81.5 236.7L82.0 237.6L82.5 238.6L83.0 238.0L83.5 236.8L84.0 236.7L84.5 236.7L85.0 236.7L85.5 236.7L86.0 236.7L86.5 236.7L87.0 236.7L87.5 236.7L88.0 236.7L88.5 236.7L89.0 236.7L89.5 238.1L90.0 239.3L90.5 238.7L91.0 237.1L91.5 236.7L92.0 236.7L92.5 236.7L93.0 236.7L93.5 236.7L94.0 236.7L94.5 236.7L95.0 236.7L95.5 236.7L96.0 236.7L96.5 236.7L97.0 236.7L97.5 236.7L98.0 236.7L98.5 236.7L99.0 236.8L99.5 238.0L100.0 238.6L100.5 237.6L101.0 236.7L101.5 236.7L102.0 236.7L102.5 236.7L103.0 236.7L103.5 236.7L104.0 236.7L104.5 236.7L105.0 236.7L105.5 236.7L106.0 236.7L106.5 236.7L107.0 236.7L107.5 238.8L108.0 240.7L108.5 241.0L109.0 239.2L109.5 237.0L110.0 236.7L110.5 236.7L111.0 236.7L111.5 236.7L112.0 236.7L112.5 236.7L113.0 236.7L113.5 236.7L114.0 236.7L114.5 236.7L115.0 236.7L115.5 236.7L116.0 236.7L116.5 236.7L117.0 236.7L117.5 236.7L118.0 236.7L118.5 236.7L119.0 236.7L119.5 236.7L120.0 236.7L120.5 236.7L121.0 236.7L121.5 238.6L122.0 240.0L122.5 239.3L123.0 237.5L123.5 236.7L124.0 236.7L124.5 236.7L125.0 236.7L125.5 236.7L126.0 236.7L126.5 236.7L127.0 236.7L127.5 236.7L128.0 236.7L128.5 236.7L129.0 239.1L129.5 241.0L130.0 241.3L130.5 239.5L131.0 237.2L131.5 236.7L132.0 236.7L132.5 236.7L133.0 236.7L133.5 236.7L134.0 236.7L134.5 236.7L135.0 236.7L135.5 237.8L136.0 238.8L136.5 238.3L137.0 236.9L137.5 236.7L138.0 236.7L138.5 236.7L139.0 236.7L139.5 236.7L140.0 236.7L140.5 236.7L141.0 236.7L141.5 236.7L142.0 236.7L142.5 236.7L143.0 236.7L143.5 236.7L144.0 236.7L144.5 236.7L145.0 236.7L145.5 236.7L146.0 236.7L146.5 236.7L147.0 236.7L147.5 237.6L148.0 239.6L148.5 240.8L149.0 239.6L149.5 237.6L150.0 237.5L150.5 238.9L151.0 239.1L151.5 237.8L152.0 237.5L152.5 238.7L153.0 238.5L153.5 237.2L154.0 236.7L154.5 236.7L155.0 236.7L155.5 236.7L156.0 236.7L156.5 236.7L157.0 236.7L157.5 236.7L158.0 236.7L158.5 238.3L159.0 240.8L159.5 242.7L160.0 242.4L160.5 240.3L161.0 237.7L161.5 236.7L162.0 236.7L162.5 236.7L163.0 236.7L163.5 236.7L164.0 237.1L164.5 238.7L165.0 239.3L165.5 238.1L166.0 236.7L166.5 236.7L167.0 236.7L167.5 236.7L168.0 236.7L168.5 236.7L169.0 236.7L169.5 236.7L170.0 236.7L170.5 236.7L171.0 236.7L171.5 236.7L172.0 236.7L172.5 236.7L173.0 236.7L173.5 237.8L174.0 239.1L174.5 238.9L175.0 237.5L175.5 238.1L176.0 239.3L176.5 238.7L177.0 237.1L177.5 236.7L178.0 236.7L178.5 236.7L179.0 236.7L179.5 236.7L180.0 236.7L180.5 236.7L181.0 236.7L181.5 236.7L182.0 236.7L182.5 236.7L183.0 236.7L183.5 236.7L184.0 236.7L184.5 236.7L185.0 236.7L185.5 236.7L186.0 236.7L186.5 236.7L187.0 236.7L187.5 236.7L188.0 236.7L188.5 236.7L189.0 236.7L189.5 236.7L190.0 236.7L190.5 236.7L191.0 236.7L191.5 236.7L192.0 236.7L192.5 236.7L193.0 236.7L193.5 236.7L194.0 236.7L194.5 236.7L195.0 238.3L195.5 239.8L196.0 239.6L196.5 237.9L197.0 236.7L197.5 236.7L198.0 236.7L198.5 236.7L199.0 236.7L199.5 236.7L200.0 236.7L200.5 236.7L201.0 236.7L201.5 236.7L202.0 236.7L202.5 236.7L203.0 236.7L203.5 236.7L204.0 236.7L204.5 237.0L205.0 239.2L205.5 241.0L206.0 240.7L206.5 238.8L207.0 236.7L207.5 236.7L208.0 236.7L208.5 236.7L209.0 236.7L209.5 237.5L210.0 239.3L210.5 240.0L211.0 238.6L211.5 236.7L212.0 236.7L212.5 237.8L213.0 239.1L213.5 238.9L214.0 237.5L214.5 236.7L215.0 236.7L215.5 236.7L216.0 236.7L216.5 236.7L217.0 236.7L217.5 236.7L218.0 236.7L218.5 236.7L219.0 236.7L219.5 236.7L220.0 236.7L220.5 236.7L221.0 236.7L221.5 236.7L222.0 236.7L222.5 236.7L223.0 236.7L223.5 236.7L224.0 236.7L224.5 236.7L225.0 236.7L225.5 236.7L226.0 236.7L226.5 236.7L227.0 236.7L227.5 236.7L228.0 236.7L228.5 236.7L229.0 236.7L229.5 236.7L230.0 236.7L230.5 236.7L231.0 238.0L231.5 239.9L232.0 240.7L232.5 239.2L233.0 237.1L233.5 236.7L234.0 236.7L234.5 236.7L235.0 236.7L235.5 236.7L236.0 236.7L236.5 236.7L237.0 236.7L237.5 236.7L238.0 236.7L238.5 236.7L239.0 236.7L239.5 236.7L240.0 236.7L240.5 236.7L241.0 236.7L241.5 236.7L242.0 236.7L242.5 236.7L243.0 236.7L243.5 236.7L244.0 236.7L244.5 236.7L245.0 236.7L245.5 236.7L246.0 236.7L246.5 236.7L247.0 236.7L247.5 236.7L248.0 236.7L248.5 236.7L249.0 236.7L249.5 236.7L250.0 236.7L250.5 237.1L251.0 240.5L251.5 243.5L252.0 245.9L252.5 247.0L253.0 245.0L253.5 242.3L254.0 239.2L254.5 236.7L255.0 236.7L255.5 236.7L256.0 236.7L256.5 236.7L257.0 236.7L257.5 236.7L258.0 236.7L258.5 236.7L259.0 236.7L259.5 236.7L260.0 236.7L260.5 236.7L261.0 236.7L261.5 236.7L262.0 236.7L262.5 236.7L263.0 236.7L263.5 236.7L264.0 236.7L264.5 236.7L265.0 236.7L265.5 236.7L266.0 236.7L266.5 236.7L267.0 236.7L267.5 239.1L268.0 242.5L268.5 245.5L269.0 247.8L269.5 248.2L270.0 246.0L270.5 243.2L271.0 239.9L271.5 236.7L272.0 236.7L272.5 236.7L273.0 236.7L273.5 236.7L274.0 236.7L274.5 236.7L275.0 236.7L275.5 237.2L276.0 238.5L276.5 238.7L277.0 237.5L277.5 236.7L278.0 236.7L278.5 236.7L279.0 236.7L279.5 236.7L280.0 236.7L280.5 236.7L281.0 236.7L281.5 236.7L282.0 236.7L282.5 236.7L283.0 236.7L283.5 236.7L284.0 236.7L284.5 236.7L285.0 236.7L285.5 238.4L286.0 242.0L286.5 245.1L287.0 247.8L287.5 249.5L288.0 247.8L288.5 245.1L289.0 242.0L289.5 238.4L290.0 236.7L290.5 236.7L291.0 236.7L291.5 236.7L292.0 236.7L292.5 236.7L293.0 236.7L293.5 236.7L294.0 236.7L294.5 236.7L295.0 236.7L295.5 236.7L296.0 236.7L296.5 236.7L297.0 236.7L297.5 236.7L298.0 236.7L298.5 236.7L299.0 236.7L299.5 238.1L300.0 240.8L300.5 242.9L301.0 243.2L301.5 241.2L302.0 238.7L302.5 236.7L303.0 236.7L303.5 236.7L304.0 236.7L304.5 236.7L305.0 236.7L305.5 236.7L306.0 236.7L306.5 236.7L307.0 236.7L307.5 236.7L308.0 236.7L308.5 236.7L309.0 236.7L309.5 236.7L310.0 236.7L310.5 236.7L311.0 236.7L311.5 236.7L312.0 236.7L312.5 236.7L313.0 236.7L313.5 236.7L314.0 236.7L314.5 236.7L315.0 236.7L315.5 236.7L316.0 236.7L316.5 236.7L317.0 236.8L317.5 238.0L318.0 238.6L318.5 237.6L319.0 236.7L319.5 236.7L320.0 236.7L320.5 236.7L321.0 236.7L321.5 236.7L322.0 236.7L322.5 236.7L323.0 236.7L323.5 236.7L324.0 236.7L324.5 236.7L325.0 236.7L325.5 236.7L326.0 236.7L326.5 236.7L327.0 236.7L327.5 237.5L328.0 239.3L328.5 240.0L329.0 238.6L329.5 236.7L330.0 236.7L330.5 236.7L331.0 236.7L331.5 236.7L332.0 236.7L332.5 237.8L333.0 238.7L333.5 237.8L334.0 236.7L334.5 236.7L335.0 236.7L335.5 236.7L336.0 236.7L336.5 236.7L337.0 236.7L337.5 236.7L338.0 236.7L338.5 236.7L339.0 236.7L339.5 236.7L340.0 236.7L340.5 236.7L341.0 236.7L341.5 236.7L342.0 236.7L342.5 236.7L343.0 236.7L343.5 236.7L344.0 236.7L344.5 236.7L345.0 236.7L345.5 236.7L346.0 236.7L346.5 236.7L347.0 236.7L347.5 236.7L348.0 236.7L348.5 236.7L349.0 236.7L349.5 236.7L350.0 236.7L350.5 236.7L351.0 236.7L351.5 236.7L352.0 236.7L352.5 236.7L353.0 236.7L353.5 236.8L354.0 238.4L354.5 239.5L355.0 238.4L355.5 236.8L356.0 236.7L356.5 236.7L357.0 236.7L357.5 236.7L358.0 236.7L358.5 236.7L359.0 236.7L359.5 236.7L360.0 236.7L360.5 236.7L361.0 236.7L361.5 236.7L362.0 236.7L362.5 236.7L363.0 237.5L363.5 238.9L364.0 239.1L364.5 237.8L365.0 236.7L365.5 236.7L366.0 236.7L366.5 236.7L367.0 236.7L367.5 236.7L368.0 236.7L368.5 236.7L369.0 237.1L369.5 238.7L370.0 239.3L370.5 238.1L371.0 236.7L371.5 236.7L372.0 236.7L372.5 236.7L373.0 236.7L373.5 236.7L374.0 236.7L374.5 236.7L375.0 236.7L375.5 236.7L376.0 236.7L376.5 236.7L377.0 236.7L377.5 236.7L378.0 236.7L378.5 236.7L379.0 236.7L379.5 236.7L380.0 236.7L380.5 236.7L381.0 236.7L381.5 236.7L382.0 236.7L382.5 236.7L383.0 236.7L383.5 236.7L384.0 236.7L384.5 236.7L385.0 236.7L385.5 236.7L386.0 236.7L386.5 236.7L387.0 238.6L387.5 240.6L388.0 241.5L388.5 239.9L389.0 237.7L389.5 236.7L390.0 236.7L390.5 236.7L391.0 236.7L391.5 236.7L392.0 236.7L392.5 236.7L393.0 236.7L393.5 236.7L394.0 236.7L394.5 236.7L395.0 236.7L395.5 236.7L396.0 236.7L396.5 238.8L397.0 240.5L397.5 240.2L398.0 238.4L398.5 239.9L399.0 240.7L399.5 239.2L400.0 237.1L400.5 236.7L401.0 236.7L401.5 236.7L402.0 236.7L402.5 237.8L403.0 238.8L403.5 238.3L404.0 236.9L404.5 236.7L405.0 236.7L405.5 236.7L406.0 236.7L406.5 236.7L407.0 236.7L407.5 236.7L408.0 236.7L408.5 236.7L409.0 236.7L409.5 236.7L410.0 236.7L410.5 236.7L411.0 236.7L411.5 236.7L412.0 236.7L412.5 236.7L413.0 236.7L413.5 236.7L414.0 236.7L414.5 236.7L415.0 236.7L415.5 236.7L416.0 236.7L416.5 236.7L417.0 236.7L417.5 236.7L418.0 236.7L418.5 236.7L419.0 236.7L419.5 236.7L420.0 236.7L420.5 236.7L421.0 236.7L421.5 236.7L422.0 236.7L422.5 236.7L423.0 236.7L423.5 236.7L424.0 236.7L424.5 236.7L425.0 236.7L425.5 236.7L426.0 236.7L426.5 236.7L427.0 236.7L427.5 238.6L428.0 240.0L428.5 239.3L429.0 237.5L429.5 236.7L430.0 236.7L430.5 238.6L431.0 240.0L431.5 239.3L432.0 237.5L432.5 236.7L433.0 237.1L433.5 238.7L434.0 239.3L434.5 238.1L435.0 236.7L435.5 236.7L436.0 236.7L436.5 236.7L437.0 236.7L437.5 236.7L438.0 236.7L438.5 236.7L439.0 236.7L439.5 236.7L440.0 236.7L440.5 236.7L441.0 237.3L441.5 238.1L442.0 237.6L442.5 236.7L443.0 236.7L443.5 236.7L444.0 236.7L444.5 236.7L445.0 236.7L445.5 236.7L446.0 236.7L446.5 236.7L447.0 236.7L447.5 236.7L448.0 236.7L448.5 236.7L449.0 236.7L449.5 236.7L450.0 236.7L450.5 236.7L451.0 236.7L451.5 237.6L452.0 238.6L452.5 238.0L453.0 236.8L453.5 236.7L454.0 236.7L454.5 236.7L455.0 236.7L455.5 236.7L456.0 236.7L456.5 236.7L457.0 236.7L457.5 236.7L458.0 236.7L458.5 236.7L459.0 238.4L459.5 240.4L460.0 241.2L460.5 239.6L461.0 237.5L461.5 236.7L462.0 236.7L462.5 236.7L463.0 236.7L463.5 236.7L464.0 236.7L464.5 236.7L465.0 236.7L465.5 236.7L466.0 236.7L466.5 236.7L467.0 236.7L467.5 236.7L468.0 237.1L468.5 239.0L469.0 240.2L469.5 239.0L470.0 237.1L470.5 236.7L471.0 236.7L471.5 238.0L472.0 239.0L472.5 238.0L473.0 236.7L473.5 236.7L474.0 236.7L474.5 236.7L475.0 236.7L475.5 236.7L476.0 236.7L476.5 236.7L477.0 236.7L477.5 236.7L478.0 236.7L478.5 236.7L479.0 236.7L479.5 236.7L480.0 236.7L480.5 236.7L481.0 236.7L481.5 236.7L482.0 236.7L482.5 236.7L483.0 236.7L483.5 236.7L484.0 236.7L484.5 236.7L485.0 236.7L485.5 236.7L486.0 236.7L486.5 236.7L487.0 236.7L487.5 236.7L488.0 236.7L488.5 236.7L489.0 236.7L489.5 236.7L490.0 236.7L490.5 236.7L491.0 236.7L491.5 236.7L492.0 236.7L492.5 236.7L493.0 236.7L493.5 236.7L494.0 236.7L494.5 236.7L495.0 236.7L495.5 236.7L496.0 236.7L496.5 237.8L497.0 238.7L497.5 237.8L498.0 236.7L498.5 236.7L499.0 236.7L499.5 236.7L500.0 236.7L500.5 236.7L501.0 236.7L501.5 236.7L502.0 236.7L502.5 236.7L503.0 236.7L503.5 236.7L504.0 236.7L504.5 236.7L505.0 236.7L505.5 236.7L506.0 236.7L506.5 236.7L507.0 236.7L507.5 236.7L508.0 236.7L508.5 236.7L509.0 236.7L509.5 236.7L510.0 236.7L510.5 236.7L511.0 236.7L511.5 236.7L512.0 236.7L512.5 236.7L513.0 236.7L513.5 236.7L514.0 236.7L514.5 236.7L515.0 236.7L515.5 237.1L516.0 238.7L516.5 239.3L517.0 238.1L517.5 236.7L518.0 236.7L518.5 239.4L519.0 242.3L519.5 244.7L520.0 245.8L520.5 243.9L521.0 241.2L521.5 238.1L522.0 236.7L522.5 236.7L523.0 236.7L523.5 236.7L524.0 236.7L524.5 236.7L525.0 236.7L525.5 236.7L526.0 236.7L526.5 236.7L527.0 236.7L527.5 236.7L528.0 236.7L528.5 236.7L529.0 236.7L529.5 236.7L530.0 236.7L530.5 236.7L531.0 236.7L531.5 236.7L532.0 236.7L532.5 236.7L533.0 236.7L533.5 236.7L534.0 236.7L534.5 236.7L535.0 236.7L535.5 236.7L536.0 236.7L536.5 236.7L537.0 236.7L537.5 236.7L538.0 236.7L538.5 236.7L539.0 236.7L539.5 236.7L540.0 238.0L540.5 239.9L541.0 240.7L541.5 239.2L542.0 237.1L542.5 236.7L543.0 236.7L543.5 236.7L544.0 236.7L544.5 236.7L545.0 236.7L545.5 236.7L546.0 236.7L546.5 236.7L547.0 236.7L547.5 236.7L548.0 236.7L548.5 236.7L549.0 236.7L549.5 236.7L550.0 236.7L550.5 236.7L551.0 236.7L551.5 236.7L552.0 236.7L552.5 236.7L553.0 236.7L553.5 236.7L554.0 236.7L554.5 236.7L555.0 236.7L555.5 236.7L556.0 236.7L556.5 236.7L557.0 236.7L557.5 236.8L558.0 238.0L558.5 238.6L559.0 237.6L559.5 236.7L560.0 236.7L560.5 236.7L561.0 236.7L561.5 236.7L562.0 236.7L562.5 236.7L563.0 236.7L563.5 236.7L564.0 236.7L564.5 237.8L565.0 238.7L565.5 237.8L566.0 236.7L566.5 236.7L567.0 236.7L567.5 236.7L568.0 236.7L568.5 236.7L569.0 237.2L569.5 240.2L570.0 242.8L570.5 244.7L571.0 243.7L571.5 241.3L572.0 238.5L572.5 236.7L573.0 236.7L573.5 236.7L574.0 236.7L574.5 236.7L575.0 236.7L575.5 236.7L576.0 236.7L576.5 236.7L577.0 237.9L577.5 239.6L578.0 239.8L578.5 238.3L579.0 236.7L579.5 236.7L580.0 236.7L580.5 236.7L581.0 236.7L581.5 236.7L582.0 236.7L582.5 236.7L583.0 236.7L583.5 236.7L584.0 236.7L584.5 236.7L585.0 236.7L585.5 236.7L586.0 238.1L586.5 241.2L587.0 243.9L587.5 245.8L588.0 244.7L588.5 242.3L589.0 239.4L589.5 236.7L590.0 237.5L590.5 239.6L591.0 241.2L591.5 240.4L592.0 238.4L592.5 236.7L593.0 236.7L593.5 236.7L594.0 236.7L594.5 236.7L595.0 236.7L595.5 236.7L596.0 236.7L596.5 236.7L597.0 236.7L597.5 236.7L598.0 236.7L598.5 236.7L599.0 236.7L599.5 236.7L600.0 236.7L600.5 236.7L601.0 236.7L601.5 236.7L602.0 236.7L602.5 236.7L603.0 237.1L603.5 239.8L604.0 242.0L604.5 243.0L605.0 241.2L605.5 238.8L606.0 236.7L606.5 238.8L607.0 241.0L607.5 242.5L608.0 241.0L608.5 238.8L609.0 236.7L609.5 236.7L610.0 236.7L610.5 236.7L611.0 236.7L611.5 236.7L612.0 237.8L612.5 238.8L613.0 238.3L613.5 236.9L614.0 236.7L614.5 236.7L615.0 236.7L615.5 236.7L616.0 236.7L616.5 236.7L617.0 237.6L617.5 239.6L618.0 240.8L618.5 239.6L619.0 237.6L619.5 236.7L620.0 236.7L620.5 236.7L621.0 236.7L621.5 236.7L622.0 236.7L622.5 236.7L623.0 236.7L623.5 238.4L624.0 240.2L624.5 240.5L625.0 238.8L625.5 236.7L626.0 236.7L626.5 236.7L627.0 236.7L627.5 236.7L628.0 236.7L628.5 236.7L629.0 236.7L629.5 236.7L630.0 236.7L630.5 236.7L631.0 236.7L631.5 236.7L632.0 237.8L632.5 239.1L633.0 238.9L633.5 237.5L634.0 236.7L634.5 236.7L635.0 236.7L635.5 236.7L636.0 236.7L636.5 236.7L637.0 236.7L637.5 236.7L638.0 237.9L638.5 240.0L639.0 241.3L639.5 240.0L640.0 237.9L640.5 236.7L641.0 238.2L641.5 240.6L642.0 242.3L642.5 241.4L643.0 239.2L643.5 236.7L644.0 236.7L644.5 236.7L645.0 236.7L645.5 236.7L646.0 237.7L646.5 240.2L647.0 242.0L647.5 241.7L648.0 239.7L648.2 256.1L22.5 256.1Z" fill="#fff" stroke="#646464" stroke-width=".6" stroke-linejoin="round"/>
</g>
<g clip-path="url(#cq1)">
<path d="M22.5 290.1L23.0 290.1L23.5 290.2L24.0 290.2L24.5 290.3L25.0 290.4L25.5 290.5L26.0 290.7L26.5 290.8L27.0 290.8L27.5 290.8L28.0 290.8L28.5 290.7L29.0 290.7L29.5 290.7L30.0 290.5L30.5 290.4L31.0 290.4L31.5 290.3L32.0 290.3L32.5 290.2L33.0 290.2L33.5 290.2L34.0 290.2L34.5 290.3L35.0 290.3L35.5 290.4L36.0 290.5L36.5 290.6L37.0 290.6L37.5 290.7L38.0 290.7L38.5 290.7L39.0 290.7L39.5 290.6L40.0 290.5L40.5 290.5L41.0 290.6L41.5 290.7L42.0 290.7L42.5 290.7L43.0 290.8L43.5 290.8L44.0 290.8L44.5 290.9L45.0 290.9L45.5 290.7L46.0 290.6L46.5 290.6L47.0 290.6L47.5 290.7L48.0 290.8L48.5 290.8L49.0 290.8L49.5 290.9L50.0 290.9L50.5 291.0L51.0 291.0L51.5 290.9L52.0 290.8L52.5 290.9L53.0 290.9L53.5 291.0L54.0 291.1L54.5 291.1L55.0 291.0L55.5 290.9L56.0 290.9L56.5 290.8L57.0 290.7L57.5 290.7L58.0 290.5L58.5 290.4L59.0 290.3L59.5 290.4L60.0 290.4L60.5 290.6L61.0 290.8L61.5 291.0L62.0 291.2L62.5 291.3L63.0 291.3L63.5 291.3L64.0 291.4L64.5 291.4L65.0 291.3L65.5 291.1L66.0 291.0L66.5 290.8L67.0 290.8L67.5 290.8L68.0 290.8L68.5 290.8L69.0 290.7L69.5 290.7L70.0 290.8L70.5 290.7L71.0 290.6L71.5 290.5L72.0 290.4L72.5 290.4L73.0 290.4L73.5 290.4L74.0 290.4L74.5 290.3L75.0 290.4L75.5 290.5L76.0 290.5L76.5 290.5L77.0 290.4L77.5 290.4L78.0 290.4L78.5 290.4L79.0 290.4L79.5 290.3L80.0 290.3L80.5 290.3L81.0 290.4L81.5 290.4L82.0 290.4L82.5 290.4L83.0 290.4L83.5 290.5L84.0 290.6L84.5 290.7L85.0 290.9L85.5 291.1L86.0 291.4L86.5 291.6L87.0 291.7L87.5 291.8L88.0 291.8L88.5 291.7L89.0 291.7L89.5 291.5L90.0 291.2L90.5 291.0L91.0 290.9L91.5 290.9L92.0 290.9L92.5 290.8L93.0 290.7L93.5 290.7L94.0 290.7L94.5 290.7L95.0 290.8L95.5 290.9L96.0 291.1L96.5 291.3L97.0 291.5L97.5 291.6L98.0 291.7L98.5 291.7L99.0 291.6L99.5 291.5L100.0 291.3L100.5 291.0L101.0 290.7L101.5 290.4L102.0 290.2L102.5 290.1L103.0 290.3L103.5 290.4L104.0 290.5L104.5 290.6L105.0 290.7L105.5 290.8L106.0 291.0L106.5 291.1L107.0 291.2L107.5 291.0L108.0 290.9L108.5 290.8L109.0 290.7L109.5 290.7L110.0 290.8L110.5 290.7L111.0 290.6L111.5 290.6L112.0 290.6L112.5 290.7L113.0 290.7L113.5 290.7L114.0 290.7L114.5 290.7L115.0 290.5L115.5 290.5L116.0 290.4L116.5 290.4L117.0 290.4L117.5 290.5L118.0 290.6L118.5 290.6L119.0 290.6L119.5 290.6L120.0 290.7L120.5 290.8L121.0 290.8L121.5 290.8L122.0 290.7L122.5 290.5L123.0 290.5L123.5 290.5L124.0 290.5L124.5 290.4L125.0 290.4L125.5 290.4L126.0 290.3L126.5 290.4L127.0 290.5L127.5 290.6L128.0 290.8L128.5 290.9L129.0 290.8L129.5 290.8L130.0 290.9L130.5 291.0L131.0 291.1L131.5 291.1L132.0 291.0L132.5 290.9L133.0 290.8L133.5 290.9L134.0 291.0L134.5 291.0L135.0 290.9L135.5 290.8L136.0 290.9L136.5 291.0L137.0 291.0L137.5 291.0L138.0 290.9L138.5 290.8L139.0 290.8L139.5 290.8L140.0 290.7L140.5 290.5L141.0 290.4L141.5 290.4L142.0 290.4L142.5 290.4L143.0 290.4L143.5 290.4L144.0 290.3L144.5 290.3L145.0 290.2L145.5 290.2L146.0 290.3L146.5 290.4L147.0 290.5L147.5 290.5L148.0 290.5L148.5 290.6L149.0 290.6L149.5 290.7L150.0 290.7L150.5 290.7L151.0 290.6L151.5 290.6L152.0 290.6L152.5 290.7L153.0 290.7L153.5 290.6L154.0 290.5L154.5 290.5L155.0 290.4L155.5 290.3L156.0 290.3L156.5 290.3L157.0 290.3L157.5 290.5L158.0 290.7L158.5 290.8L159.0 290.9L159.5 291.0L160.0 291.0L160.5 291.1L161.0 291.1L161.5 291.0L162.0 290.9L162.5 290.8L163.0 290.8L163.5 290.8L164.0 290.8L164.5 290.8L165.0 291.0L165.5 291.1L166.0 291.2L166.5 291.1L167.0 291.1L167.5 291.0L168.0 291.0L168.5 290.9L169.0 290.8L169.5 290.7L170.0 290.6L170.5 290.5L171.0 290.5L171.5 290.6L172.0 290.7L172.5 290.7L173.0 290.8L173.5 290.8L174.0 291.0L174.5 291.0L175.0 291.1L175.5 291.0L176.0 291.0L176.5 290.9L177.0 290.8L177.5 290.8L178.0 290.7L178.5 290.7L179.0 290.6L179.5 290.6L180.0 290.7L180.5 290.8L181.0 290.8L181.5 290.8L182.0 290.9L182.5 291.0L183.0 291.0L183.5 291.0L184.0 290.9L184.5 290.8L185.0 290.7L185.5 290.7L186.0 290.7L186.5 290.7L187.0 290.6L187.5 290.6L188.0 290.6L188.5 290.5L189.0 290.5L189.5 290.6L190.0 290.5L190.5 290.4L191.0 290.4L191.5 290.4L192.0 290.5L192.5 290.6L193.0 290.7L193.5 290.8L194.0 290.9L194.5 291.0L195.0 291.0L195.5 291.0L196.0 291.0L196.5 290.9L197.0 290.8L197.5 290.7L198.0 290.6L198.5 290.6L199.0 290.5L199.5 290.5L200.0 290.5L200.5 290.4L201.0 290.4L201.5 290.3L202.0 290.2L202.5 290.2L203.0 290.3L203.5 290.5L204.0 290.6L204.5 290.7L205.0 290.8L205.5 291.0L206.0 291.1L206.5 291.1L207.0 291.1L207.5 290.9L208.0 290.8L208.5 290.8L209.0 290.7L209.5 290.6L210.0 290.5L210.5 290.4L211.0 290.5L211.5 290.6L212.0 290.7L212.5 290.6L213.0 290.6L213.5 290.5L214.0 290.5L214.5 290.6L215.0 290.5L215.5 290.4L216.0 290.4L216.5 290.4L217.0 290.5L217.5 290.5L218.0 290.4L218.5 290.4L219.0 290.5L219.5 290.5L220.0 290.6L220.5 290.6L221.0 290.6L221.5 290.6L222.0 290.6L222.5 290.7L223.0 290.6L223.5 290.6L224.0 290.5L224.5 290.5L225.0 290.4L225.5 290.4L226.0 290.3L226.5 290.2L227.0 290.2L227.5 290.2L228.0 290.2L228.5 290.2L229.0 290.2L229.5 290.3L230.0 290.4L230.5 290.5L231.0 290.6L231.5 290.6L232.0 290.7L232.5 290.7L233.0 290.8L233.5 290.8L234.0 290.8L234.5 290.7L235.0 290.6L235.5 290.6L236.0 290.6L236.5 290.6L237.0 290.6L237.5 290.5L238.0 290.5L238.5 290.5L239.0 290.5L239.5 290.5L240.0 290.4L240.5 290.4L241.0 290.5L241.5 290.6L242.0 290.6L242.5 290.6L243.0 290.6L243.5 290.7L244.0 290.9L244.5 290.9L245.0 291.0L245.5 291.0L246.0 291.0L246.5 290.9L247.0 290.9L247.5 290.9L248.0 290.8L248.5 290.6L249.0 290.7L249.5 290.7L250.0 290.9L250.5 291.2L251.0 291.5L251.5 291.7L252.0 291.7L252.5 291.8L253.0 291.8L253.5 291.7L254.0 291.5L254.5 291.2L255.0 290.8L255.5 290.6L256.0 290.4L256.5 290.4L257.0 290.4L257.5 290.4L258.0 290.4L258.5 290.5L259.0 290.5L259.5 290.5L260.0 290.5L260.5 290.5L261.0 290.4L261.5 290.5L262.0 290.5L262.5 290.5L263.0 290.5L263.5 290.5L264.0 290.4L264.5 290.4L265.0 290.4L265.5 290.4L266.0 290.5L266.5 290.8L267.0 291.1L267.5 291.5L268.0 291.9L268.5 292.1L269.0 292.2L269.5 292.2L270.0 292.2L270.5 292.0L271.0 291.8L271.5 291.5L272.0 291.1L272.5 290.8L273.0 290.7L273.5 290.6L274.0 290.6L274.5 290.7L275.0 290.8L275.5 290.8L276.0 290.8L276.5 290.8L277.0 290.8L277.5 290.8L278.0 290.8L278.5 290.8L279.0 290.7L279.5 290.6L280.0 290.6L280.5 290.6L281.0 290.6L281.5 290.5L282.0 290.5L282.5 290.5L283.0 290.5L283.5 290.6L284.0 290.8L284.5 291.1L285.0 291.4L285.5 291.8L286.0 292.2L286.5 292.5L287.0 292.7L287.5 292.7L288.0 292.7L288.5 292.5L289.0 292.2L289.5 291.8L290.0 291.3L290.5 291.0L291.0 290.7L291.5 290.5L292.0 290.4L292.5 290.4L293.0 290.4L293.5 290.3L294.0 290.3L294.5 290.3L295.0 290.3L295.5 290.3L296.0 290.3L296.5 290.3L297.0 290.3L297.5 290.3L298.0 290.5L298.5 290.7L299.0 290.9L299.5 291.1L300.0 291.2L300.5 291.3L301.0 291.4L301.5 291.5L302.0 291.5L302.5 291.5L303.0 291.3L303.5 291.1L304.0 291.0L304.5 291.1L305.0 291.1L305.5 291.0L306.0 290.9L306.5 290.8L307.0 290.9L307.5 290.9L308.0 290.9L308.5 290.9L309.0 290.8L309.5 290.7L310.0 290.6L310.5 290.6L311.0 290.6L311.5 290.6L312.0 290.6L312.5 290.6L313.0 290.5L313.5 290.6L314.0 290.6L314.5 290.6L315.0 290.7L315.5 290.8L316.0 290.9L316.5 290.8L317.0 290.8L317.5 290.8L318.0 290.8L318.5 290.8L319.0 290.8L319.5 290.7L320.0 290.6L320.5 290.5L321.0 290.4L321.5 290.4L322.0 290.3L322.5 290.4L323.0 290.5L323.5 290.6L324.0 290.6L324.5 290.6L325.0 290.6L325.5 290.7L326.0 290.8L326.5 290.9L327.0 290.9L327.5 290.8L328.0 290.8L328.5 290.8L329.0 290.8L329.5 290.7L330.0 290.7L330.5 290.7L331.0 290.6L331.5 290.6L332.0 290.5L332.5 290.5L333.0 290.4L333.5 290.4L334.0 290.4L334.5 290.3L335.0 290.3L335.5 290.2L336.0 290.2L336.5 290.2L337.0 290.3L337.5 290.4L338.0 290.5L338.5 290.6L339.0 290.7L339.5 290.7L340.0 290.8L340.5 290.8L341.0 290.8L341.5 290.8L342.0 290.8L342.5 290.7L343.0 290.7L343.5 290.6L344.0 290.6L344.5 290.7L345.0 290.7L345.5 290.8L346.0 290.8L346.5 290.8L347.0 290.7L347.5 290.7L348.0 290.7L348.5 290.6L349.0 290.5L349.5 290.4L350.0 290.3L350.5 290.3L351.0 290.4L351.5 290.5L352.0 290.7L352.5 290.8L353.0 290.9L353.5 290.9L354.0 290.9L354.5 290.9L355.0 290.9L355.5 290.8L356.0 290.8L356.5 290.7L357.0 290.5L357.5 290.4L358.0 290.3L358.5 290.3L359.0 290.3L359.5 290.4L360.0 290.5L360.5 290.5L361.0 290.5L361.5 290.6L362.0 290.7L362.5 290.8L363.0 291.0L363.5 291.1L364.0 291.2L364.5 291.1L365.0 291.0L365.5 291.0L366.0 290.9L366.5 290.8L367.0 290.8L367.5 290.7L368.0 290.7L368.5 290.7L369.0 290.6L369.5 290.6L370.0 290.7L370.5 290.8L371.0 290.8L371.5 290.8L372.0 290.7L372.5 290.7L373.0 290.6L373.5 290.7L374.0 290.8L374.5 290.8L375.0 290.7L375.5 290.7L376.0 290.7L376.5 290.7L377.0 290.6L377.5 290.6L378.0 290.5L378.5 290.4L379.0 290.4L379.5 290.4L380.0 290.4L380.5 290.4L381.0 290.4L381.5 290.4L382.0 290.4L382.5 290.4L383.0 290.4L383.5 290.5L384.0 290.5L384.5 290.5L385.0 290.6L385.5 290.7L386.0 290.8L386.5 290.9L387.0 291.0L387.5 290.9L388.0 290.9L388.5 290.9L389.0 290.9L389.5 290.8L390.0 290.7L390.5 290.6L391.0 290.5L391.5 290.5L392.0 291.2L392.5 292.2L393.0 293.1L393.5 293.8L394.0 294.3L394.5 294.8L395.0 295.3L395.5 295.6L396.0 295.8L396.5 295.8L397.0 295.7L397.5 295.5L398.0 295.1L398.5 294.7L399.0 293.9L399.5 293.0L400.0 291.9L400.5 290.8L401.0 290.6L401.5 290.6L402.0 290.5L402.5 290.4L403.0 290.5L403.5 290.5L404.0 290.5L404.5 290.6L405.0 290.7L405.5 290.8L406.0 290.8L406.5 290.8L407.0 290.7L407.5 290.7L408.0 290.6L408.5 290.6L409.0 290.5L409.5 290.3L410.0 290.2L410.5 290.1L411.0 290.1L411.5 290.2L412.0 290.2L412.5 290.3L413.0 290.3L413.5 290.3L414.0 290.4L414.5 290.4L415.0 290.5L415.5 290.6L416.0 290.7L416.5 290.7L417.0 290.7L417.5 290.8L418.0 290.9L418.5 291.0L419.0 290.9L419.5 290.9L420.0 290.8L420.5 290.7L421.0 290.7L421.5 290.6L422.0 290.5L422.5 290.4L423.0 290.3L423.5 290.5L424.0 291.6L424.5 292.5L425.0 293.3L425.5 294.0L426.0 294.7L426.5 295.2L427.0 295.6L427.5 295.9L428.0 296.1L428.5 296.2L429.0 296.1L429.5 296.0L430.0 295.6L430.5 295.0L431.0 294.2L431.5 293.5L432.0 292.6L432.5 291.5L433.0 290.7L433.5 290.6L434.0 290.5L434.5 290.5L435.0 290.6L435.5 290.7L436.0 290.6L436.5 290.5L437.0 290.5L437.5 290.5L438.0 290.5L438.5 290.5L439.0 290.4L439.5 290.4L440.0 290.3L440.5 290.2L441.0 290.2L441.5 290.2L442.0 290.2L442.5 290.3L443.0 290.3L443.5 290.4L444.0 290.4L444.5 290.5L445.0 290.6L445.5 290.6L446.0 290.7L446.5 290.8L447.0 290.7L447.5 290.6L448.0 290.6L448.5 290.5L449.0 290.4L449.5 290.4L450.0 290.4L450.5 290.4L451.0 290.4L451.5 290.4L452.0 290.4L452.5 290.5L453.0 290.4L453.5 290.4L454.0 290.4L454.5 290.4L455.0 290.4L455.5 290.4L456.0 290.5L456.5 290.5L457.0 290.5L457.5 290.6L458.0 290.8L458.5 290.8L459.0 290.8L459.5 290.8L460.0 290.8L460.5 290.9L461.0 291.0L461.5 291.2L462.0 291.3L462.5 291.4L463.0 291.3L463.5 291.3L464.0 291.2L464.5 291.3L465.0 291.3L465.5 291.2L466.0 291.0L466.5 290.8L467.0 290.8L467.5 290.8L468.0 290.9L468.5 290.8L469.0 290.8L469.5 290.8L470.0 290.8L470.5 290.8L471.0 290.7L471.5 290.6L472.0 290.5L472.5 290.5L473.0 290.5L473.5 290.4L474.0 290.3L474.5 290.2L475.0 290.2L475.5 290.3L476.0 290.3L476.5 290.3L477.0 290.3L477.5 290.4L478.0 290.4L478.5 290.5L479.0 290.6L479.5 290.6L480.0 290.6L480.5 290.6L481.0 290.6L481.5 290.6L482.0 290.7L482.5 290.7L483.0 290.6L483.5 290.6L484.0 290.7L484.5 290.7L485.0 290.8L485.5 290.8L486.0 290.8L486.5 290.7L487.0 290.7L487.5 290.6L488.0 290.6L488.5 290.5L489.0 290.4L489.5 290.3L490.0 290.3L490.5 290.2L491.0 290.2L491.5 290.2L492.0 290.3L492.5 290.4L493.0 290.4L493.5 290.4L494.0 290.4L494.5 290.4L495.0 290.5L495.5 290.6L496.0 290.6L496.5 290.5L497.0 290.4L497.5 290.4L498.0 290.5L498.5 290.5L499.0 290.5L499.5 290.5L500.0 290.5L500.5 290.5L501.0 290.7L501.5 290.8L502.0 290.9L502.5 290.9L503.0 290.9L503.5 290.8L504.0 290.8L504.5 290.7L505.0 290.7L505.5 290.6L506.0 290.5L506.5 290.4L507.0 290.3L507.5 290.3L508.0 290.3L508.5 290.3L509.0 290.4L509.5 290.3L510.0 290.2L510.5 290.2L511.0 290.2L511.5 290.2L512.0 290.3L512.5 290.4L513.0 290.4L513.5 290.4L514.0 290.6L514.5 290.7L515.0 290.7L515.5 290.8L516.0 290.8L516.5 290.8L517.0 290.9L517.5 291.2L518.0 291.4L518.5 291.6L519.0 291.7L519.5 291.7L520.0 291.7L520.5 291.7L521.0 291.6L521.5 291.4L522.0 291.2L522.5 290.9L523.0 290.8L523.5 290.8L524.0 290.8L524.5 290.9L525.0 290.9L525.5 291.0L526.0 291.0L526.5 291.0L527.0 290.9L527.5 290.8L528.0 290.6L528.5 290.5L529.0 290.5L529.5 290.5L530.0 290.4L530.5 290.4L531.0 290.4L531.5 290.5L532.0 290.5L532.5 290.5L533.0 290.5L533.5 290.5L534.0 290.5L534.5 290.6L535.0 290.6L535.5 290.6L536.0 290.8L536.5 290.9L537.0 290.9L537.5 290.9L538.0 290.9L538.5 291.0L539.0 291.1L539.5 291.1L540.0 291.0L540.5 290.8L541.0 290.7L541.5 290.6L542.0 290.5L542.5 290.4L543.0 290.4L543.5 290.3L544.0 290.3L544.5 290.5L545.0 290.6L545.5 290.7L546.0 290.8L546.5 290.9L547.0 290.8L547.5 290.8L548.0 290.7L548.5 290.6L549.0 290.5L549.5 290.3L550.0 290.2L550.5 290.2L551.0 290.2L551.5 290.2L552.0 290.2L552.5 290.1L553.0 290.1L553.5 290.0L554.0 289.8L554.5 289.7L555.0 289.7L555.5 289.5L556.0 289.4L556.5 289.4L557.0 289.3L557.5 289.1L558.0 289.0L558.5 288.9L559.0 288.7L559.5 288.5L560.0 288.3L560.5 288.0L561.0 287.8L561.5 287.6L562.0 287.4L562.5 287.2L563.0 287.1L563.5 287.0L564.0 286.9L564.5 286.7L565.0 286.6L565.5 286.5L566.0 286.4L566.5 286.2L567.0 286.0L567.5 285.9L568.0 286.0L568.5 286.1L569.0 286.1L569.5 286.2L570.0 286.1L570.5 286.0L571.0 286.0L571.5 285.9L572.0 285.7L572.5 285.4L573.0 285.1L573.5 284.9L574.0 284.8L574.5 284.8L575.0 284.8L575.5 284.9L576.0 285.0L576.5 285.1L577.0 285.2L577.5 285.3L578.0 285.3L578.5 285.3L579.0 285.3L579.5 285.4L580.0 285.4L580.5 285.3L581.0 285.3L581.5 285.3L582.0 285.3L582.5 285.2L583.0 285.3L583.5 285.4L584.0 285.5L584.5 285.7L585.0 286.0L585.5 286.4L586.0 286.7L586.5 287.0L587.0 287.2L587.5 287.4L588.0 287.5L588.5 287.6L589.0 287.7L589.5 287.7L590.0 287.6L590.5 287.5L591.0 287.4L591.5 287.4L592.0 287.4L592.5 287.4L593.0 287.4L593.5 287.3L594.0 287.3L594.5 287.4L595.0 287.6L595.5 287.7L596.0 287.9L596.5 288.1L597.0 288.3L597.5 288.5L598.0 288.6L598.5 288.8L599.0 288.9L599.5 288.9L600.0 289.0L600.5 289.2L601.0 289.3L601.5 289.4L602.0 289.7L602.5 290.0L603.0 290.3L603.5 290.4L604.0 290.5L604.5 290.7L605.0 290.9L605.5 291.1L606.0 291.2L606.5 291.1L607.0 291.0L607.5 291.0L608.0 291.0L608.5 291.0L609.0 291.0L609.5 290.8L610.0 290.7L610.5 290.7L611.0 290.6L611.5 290.6L612.0 290.5L612.5 290.4L613.0 290.4L613.5 290.3L614.0 290.3L614.5 290.3L615.0 290.3L615.5 290.4L616.0 290.5L616.5 290.6L617.0 290.7L617.5 290.6L618.0 290.7L618.5 290.7L619.0 290.7L619.5 290.7L620.0 290.6L620.5 290.5L621.0 290.5L621.5 290.5L622.0 290.7L622.5 290.9L623.0 290.9L623.5 290.9L624.0 290.9L624.5 290.9L625.0 290.9L625.5 291.0L626.0 291.0L626.5 290.9L627.0 290.8L627.5 290.8L628.0 290.8L628.5 290.7L629.0 290.7L629.5 290.7L630.0 290.7L630.5 290.7L631.0 290.8L631.5 290.8L632.0 290.7L632.5 290.7L633.0 290.7L633.5 290.8L634.0 290.8L634.5 290.8L635.0 290.7L635.5 290.6L636.0 290.6L636.5 290.6L637.0 290.8L637.5 290.9L638.0 290.9L638.5 290.9L639.0 290.9L639.5 291.0L640.0 291.2L640.5 291.3L641.0 291.3L641.5 291.2L642.0 291.2L642.5 291.2L643.0 291.2L643.5 291.2L644.0 291.1L644.5 291.0L645.0 291.0L645.5 291.0L646.0 291.0L646.5 290.9L647.0 290.9L647.5 290.8L648.0 290.8L648.2 310.2L22.5 310.2Z" fill="#bcbcbc"/>
<path d="M22.5 290.1L23.0 290.1L23.5 290.2L24.0 290.2L24.5 290.3L25.0 290.4L25.5 290.5L26.0 290.7L26.5 290.8L27.0 290.8L27.5 290.8L28.0 290.8L28.5 290.7L29.0 290.7L29.5 290.7L30.0 290.5L30.5 290.4L31.0 290.4L31.5 290.3L32.0 290.3L32.5 290.2L33.0 290.2L33.5 290.2L34.0 290.2L34.5 290.3L35.0 290.3L35.5 290.4L36.0 290.5L36.5 290.6L37.0 290.6L37.5 290.7L38.0 290.7L38.5 290.7L39.0 290.7L39.5 290.6L40.0 290.5L40.5 290.5L41.0 290.6L41.5 290.7L42.0 290.7L42.5 290.7L43.0 290.8L43.5 290.8L44.0 290.8L44.5 290.9L45.0 290.9L45.5 290.7L46.0 290.6L46.5 290.6L47.0 290.6L47.5 290.7L48.0 290.8L48.5 290.8L49.0 290.8L49.5 290.9L50.0 290.9L50.5 291.0L51.0 291.0L51.5 290.9L52.0 290.8L52.5 290.9L53.0 290.9L53.5 291.0L54.0 291.1L54.5 291.1L55.0 291.0L55.5 290.9L56.0 290.9L56.5 290.8L57.0 290.7L57.5 290.7L58.0 290.5L58.5 290.4L59.0 290.3L59.5 290.4L60.0 290.4L60.5 290.6L61.0 290.8L61.5 291.0L62.0 291.2L62.5 291.3L63.0 291.3L63.5 291.3L64.0 291.4L64.5 291.4L65.0 291.3L65.5 291.1L66.0 291.0L66.5 290.8L67.0 290.8L67.5 290.8L68.0 290.8L68.5 290.8L69.0 290.7L69.5 290.7L70.0 290.8L70.5 290.7L71.0 290.6L71.5 290.5L72.0 290.4L72.5 290.4L73.0 290.4L73.5 290.4L74.0 290.4L74.5 290.3L75.0 290.4L75.5 290.5L76.0 290.5L76.5 290.5L77.0 290.4L77.5 290.4L78.0 290.4L78.5 290.4L79.0 290.4L79.5 290.3L80.0 290.3L80.5 290.3L81.0 290.4L81.5 290.4L82.0 290.4L82.5 290.4L83.0 290.4L83.5 290.5L84.0 290.6L84.5 290.7L85.0 290.9L85.5 291.1L86.0 291.4L86.5 291.6L87.0 291.7L87.5 291.8L88.0 291.8L88.5 291.7L89.0 291.7L89.5 291.5L90.0 291.2L90.5 291.0L91.0 290.9L91.5 290.9L92.0 290.9L92.5 290.8L93.0 290.7L93.5 290.7L94.0 290.7L94.5 290.7L95.0 290.8L95.5 290.9L96.0 291.1L96.5 291.3L97.0 291.5L97.5 291.6L98.0 291.7L98.5 291.7L99.0 291.6L99.5 291.5L100.0 291.3L100.5 291.0L101.0 290.7L101.5 290.4L102.0 290.2L102.5 290.1L103.0 290.3L103.5 290.4L104.0 290.5L104.5 290.6L105.0 290.7L105.5 290.8L106.0 291.0L106.5 291.1L107.0 291.2L107.5 291.0L108.0 290.9L108.5 290.8L109.0 290.7L109.5 290.7L110.0 290.8L110.5 290.7L111.0 290.6L111.5 290.6L112.0 290.6L112.5 290.7L113.0 290.7L113.5 290.7L114.0 290.7L114.5 290.7L115.0 290.5L115.5 290.5L116.0 290.4L116.5 290.4L117.0 290.4L117.5 290.5L118.0 290.6L118.5 290.6L119.0 290.6L119.5 290.6L120.0 290.7L120.5 290.8L121.0 290.8L121.5 290.8L122.0 290.7L122.5 290.5L123.0 290.5L123.5 290.5L124.0 290.5L124.5 290.4L125.0 290.4L125.5 290.4L126.0 290.3L126.5 290.4L127.0 290.5L127.5 290.6L128.0 290.8L128.5 290.9L129.0 290.8L129.5 290.8L130.0 290.9L130.5 291.0L131.0 291.1L131.5 291.1L132.0 291.0L132.5 290.9L133.0 290.8L133.5 290.9L134.0 291.0L134.5 291.0L135.0 290.9L135.5 290.8L136.0 290.9L136.5 291.0L137.0 291.0L137.5 291.0L138.0 290.9L138.5 290.8L139.0 290.8L139.5 290.8L140.0 290.7L140.5 290.5L141.0 290.4L141.5 290.4L142.0 290.4L142.5 290.4L143.0 290.4L143.5 290.4L144.0 290.3L144.5 290.3L145.0 290.2L145.5 290.2L146.0 290.3L146.5 290.4L147.0 290.5L147.5 290.5L148.0 290.5L148.5 290.6L149.0 290.6L149.5 290.7L150.0 290.7L150.5 290.7L151.0 290.6L151.5 290.6L152.0 290.6L152.5 290.7L153.0 290.7L153.5 290.6L154.0 290.5L154.5 290.5L155.0 290.4L155.5 290.3L156.0 290.3L156.5 290.3L157.0 290.3L157.5 290.5L158.0 290.7L158.5 290.8L159.0 290.9L159.5 291.0L160.0 291.0L160.5 291.1L161.0 291.1L161.5 291.0L162.0 290.9L162.5 290.8L163.0 290.8L163.5 290.8L164.0 290.8L164.5 290.8L165.0 291.0L165.5 291.1L166.0 291.2L166.5 291.1L167.0 291.1L167.5 291.0L168.0 291.0L168.5 290.9L169.0 290.8L169.5 290.7L170.0 290.6L170.5 290.5L171.0 290.5L171.5 290.6L172.0 290.7L172.5 290.7L173.0 290.8L173.5 290.8L174.0 291.0L174.5 291.0L175.0 291.1L175.5 291.0L176.0 291.0L176.5 290.9L177.0 290.8L177.5 290.8L178.0 290.7L178.5 290.7L179.0 290.6L179.5 290.6L180.0 290.7L180.5 290.8L181.0 290.8L181.5 290.8L182.0 290.9L182.5 291.0L183.0 291.0L183.5 291.0L184.0 290.9L184.5 290.8L185.0 290.7L185.5 290.7L186.0 290.7L186.5 290.7L187.0 290.6L187.5 290.6L188.0 290.6L188.5 290.5L189.0 290.5L189.5 290.6L190.0 290.5L190.5 290.4L191.0 290.4L191.5 290.4L192.0 290.5L192.5 290.6L193.0 290.7L193.5 290.8L194.0 290.9L194.5 291.0L195.0 291.0L195.5 291.0L196.0 291.0L196.5 290.9L197.0 290.8L197.5 290.7L198.0 290.6L198.5 290.6L199.0 290.5L199.5 290.5L200.0 290.5L200.5 290.4L201.0 290.4L201.5 290.3L202.0 290.2L202.5 290.2L203.0 290.3L203.5 290.5L204.0 290.6L204.5 290.7L205.0 290.8L205.5 291.0L206.0 291.1L206.5 291.1L207.0 291.1L207.5 290.9L208.0 290.8L208.5 290.8L209.0 290.7L209.5 290.6L210.0 290.5L210.5 290.4L211.0 290.5L211.5 290.6L212.0 290.7L212.5 290.6L213.0 290.6L213.5 290.5L214.0 290.5L214.5 290.6L215.0 290.5L215.5 290.4L216.0 290.4L216.5 290.4L217.0 290.5L217.5 290.5L218.0 290.4L218.5 290.4L219.0 290.5L219.5 290.5L220.0 290.6L220.5 290.6L221.0 290.6L221.5 290.6L222.0 290.6L222.5 290.7L223.0 290.6L223.5 290.6L224.0 290.5L224.5 290.5L225.0 290.4L225.5 290.4L226.0 290.3L226.5 290.2L227.0 290.2L227.5 290.2L228.0 290.2L228.5 290.2L229.0 290.2L229.5 290.3L230.0 290.4L230.5 290.5L231.0 290.6L231.5 290.6L232.0 290.7L232.5 290.7L233.0 290.8L233.5 290.8L234.0 290.8L234.5 290.7L235.0 290.6L235.5 290.6L236.0 290.6L236.5 290.6L237.0 290.6L237.5 290.5L238.0 290.5L238.5 290.5L239.0 290.5L239.5 290.5L240.0 290.4L240.5 290.4L241.0 290.5L241.5 290.6L242.0 290.6L242.5 290.6L243.0 290.6L243.5 290.7L244.0 290.9L244.5 290.9L245.0 291.0L245.5 291.0L246.0 291.0L246.5 290.9L247.0 290.9L247.5 290.9L248.0 290.8L248.5 290.6L249.0 290.7L249.5 290.7L250.0 290.9L250.5 291.2L251.0 291.5L251.5 291.7L252.0 291.7L252.5 291.8L253.0 291.8L253.5 291.7L254.0 291.5L254.5 291.2L255.0 290.8L255.5 290.6L256.0 290.4L256.5 290.4L257.0 290.4L257.5 290.4L258.0 290.4L258.5 290.5L259.0 290.5L259.5 290.5L260.0 290.5L260.5 290.5L261.0 290.4L261.5 290.5L262.0 290.5L262.5 290.5L263.0 290.5L263.5 290.5L264.0 290.4L264.5 290.4L265.0 290.4L265.5 290.4L266.0 290.5L266.5 290.8L267.0 291.1L267.5 291.5L268.0 291.9L268.5 292.1L269.0 292.2L269.5 292.2L270.0 292.2L270.5 292.0L271.0 291.8L271.5 291.5L272.0 291.1L272.5 290.8L273.0 290.7L273.5 290.6L274.0 290.6L274.5 290.7L275.0 290.8L275.5 290.8L276.0 290.8L276.5 290.8L277.0 290.8L277.5 290.8L278.0 290.8L278.5 290.8L279.0 290.7L279.5 290.6L280.0 290.6L280.5 290.6L281.0 290.6L281.5 290.5L282.0 290.5L282.5 290.5L283.0 290.5L283.5 290.6L284.0 290.8L284.5 291.1L285.0 291.4L285.5 291.8L286.0 292.2L286.5 292.5L287.0 292.7L287.5 292.7L288.0 292.7L288.5 292.5L289.0 292.2L289.5 291.8L290.0 291.3L290.5 291.0L291.0 290.7L291.5 290.5L292.0 290.4L292.5 290.4L293.0 290.4L293.5 290.3L294.0 290.3L294.5 290.3L295.0 290.3L295.5 290.3L296.0 290.3L296.5 290.3L297.0 290.3L297.5 290.3L298.0 290.5L298.5 290.7L299.0 290.9L299.5 291.1L300.0 291.2L300.5 291.3L301.0 291.4L301.5 291.5L302.0 291.5L302.5 291.5L303.0 291.3L303.5 291.1L304.0 291.0L304.5 291.1L305.0 291.1L305.5 291.0L306.0 290.9L306.5 290.8L307.0 290.9L307.5 290.9L308.0 290.9L308.5 290.9L309.0 290.8L309.5 290.7L310.0 290.6L310.5 290.6L311.0 290.6L311.5 290.6L312.0 290.6L312.5 290.6L313.0 290.5L313.5 290.6L314.0 290.6L314.5 290.6L315.0 290.7L315.5 290.8L316.0 290.9L316.5 290.8L317.0 290.8L317.5 290.8L318.0 290.8L318.5 290.8L319.0 290.8L319.5 290.7L320.0 290.6L320.5 290.5L321.0 290.4L321.5 290.4L322.0 290.3L322.5 290.4L323.0 290.5L323.5 290.6L324.0 290.6L324.5 290.6L325.0 290.6L325.5 290.7L326.0 290.8L326.5 290.9L327.0 290.9L327.5 290.8L328.0 290.8L328.5 290.8L329.0 290.8L329.5 290.7L330.0 290.7L330.5 290.7L331.0 290.6L331.5 290.6L332.0 290.5L332.5 290.5L333.0 290.4L333.5 290.4L334.0 290.4L334.5 290.3L335.0 290.3L335.5 290.2L336.0 290.2L336.5 290.2L337.0 290.3L337.5 290.4L338.0 290.5L338.5 290.6L339.0 290.7L339.5 290.7L340.0 290.8L340.5 290.8L341.0 290.8L341.5 290.8L342.0 290.8L342.5 290.7L343.0 290.7L343.5 290.6L344.0 290.6L344.5 290.7L345.0 290.7L345.5 290.8L346.0 290.8L346.5 290.8L347.0 290.7L347.5 290.7L348.0 290.7L348.5 290.6L349.0 290.5L349.5 290.4L350.0 290.3L350.5 290.3L351.0 290.4L351.5 290.5L352.0 290.7L352.5 290.8L353.0 290.9L353.5 290.9L354.0 290.9L354.5 290.9L355.0 290.9L355.5 290.8L356.0 290.8L356.5 290.7L357.0 290.5L357.5 290.4L358.0 290.3L358.5 290.3L359.0 290.3L359.5 290.4L360.0 290.5L360.5 290.5L361.0 290.5L361.5 290.6L362.0 290.7L362.5 290.8L363.0 291.0L363.5 291.1L364.0 291.2L364.5 291.1L365.0 291.0L365.5 291.0L366.0 290.9L366.5 290.8L367.0 290.8L367.5 290.7L368.0 290.7L368.5 290.7L369.0 290.6L369.5 290.6L370.0 290.7L370.5 290.8L371.0 290.8L371.5 290.8L372.0 290.7L372.5 290.7L373.0 290.6L373.5 290.7L374.0 290.8L374.5 290.8L375.0 290.7L375.5 290.7L376.0 290.7L376.5 290.7L377.0 290.6L377.5 290.6L378.0 290.5L378.5 290.4L379.0 290.4L379.5 290.4L380.0 290.4L380.5 290.4L381.0 290.4L381.5 290.4L382.0 290.4L382.5 290.4L383.0 290.4L383.5 290.5L384.0 290.5L384.5 290.5L385.0 290.6L385.5 290.7L386.0 290.8L386.5 290.9L387.0 291.0L387.5 290.9L388.0 290.9L388.5 290.9L389.0 290.9L389.5 290.8L390.0 290.7L390.5 290.6L391.0 290.5L391.5 290.5L392.0 291.2L392.5 292.2L393.0 293.1L393.5 293.8L394.0 294.3L394.5 294.8L395.0 295.3L395.5 295.6L396.0 295.8L396.5 295.8L397.0 295.7L397.5 295.5L398.0 295.1L398.5 294.7L399.0 293.9L399.5 293.0L400.0 291.9L400.5 290.8L401.0 290.6L401.5 290.6L402.0 290.5L402.5 290.4L403.0 290.5L403.5 290.5L404.0 290.5L404.5 290.6L405.0 290.7L405.5 290.8L406.0 290.8L406.5 290.8L407.0 290.7L407.5 290.7L408.0 290.6L408.5 290.6L409.0 290.5L409.5 290.3L410.0 290.2L410.5 290.1L411.0 290.1L411.5 290.2L412.0 290.2L412.5 290.3L413.0 290.3L413.5 290.3L414.0 290.4L414.5 290.4L415.0 290.5L415.5 290.6L416.0 290.7L416.5 290.7L417.0 290.7L417.5 290.8L418.0 290.9L418.5 291.0L419.0 290.9L419.5 290.9L420.0 290.8L420.5 290.7L421.0 290.7L421.5 290.6L422.0 290.5L422.5 290.4L423.0 290.3L423.5 290.5L424.0 291.6L424.5 292.5L425.0 293.3L425.5 294.0L426.0 294.7L426.5 295.2L427.0 295.6L427.5 295.9L428.0 296.1L428.5 296.2L429.0 296.1L429.5 296.0L430.0 295.6L430.5 295.0L431.0 294.2L431.5 293.5L432.0 292.6L432.5 291.5L433.0 290.7L433.5 290.6L434.0 290.5L434.5 290.5L435.0 290.6L435.5 290.7L436.0 290.6L436.5 290.5L437.0 290.5L437.5 290.5L438.0 290.5L438.5 290.5L439.0 290.4L439.5 290.4L440.0 290.3L440.5 290.2L441.0 290.2L441.5 290.2L442.0 290.2L442.5 290.3L443.0 290.3L443.5 290.4L444.0 290.4L444.5 290.5L445.0 290.6L445.5 290.6L446.0 290.7L446.5 290.8L447.0 290.7L447.5 290.6L448.0 290.6L448.5 290.5L449.0 290.4L449.5 290.4L450.0 290.4L450.5 290.4L451.0 290.4L451.5 290.4L452.0 290.4L452.5 290.5L453.0 290.4L453.5 290.4L454.0 290.4L454.5 290.4L455.0 290.4L455.5 290.4L456.0 290.5L456.5 290.5L457.0 290.5L457.5 290.6L458.0 290.8L458.5 290.8L459.0 290.8L459.5 290.8L460.0 290.8L460.5 290.9L461.0 291.0L461.5 291.2L462.0 291.3L462.5 291.4L463.0 291.3L463.5 291.3L464.0 291.2L464.5 291.3L465.0 291.3L465.5 291.2L466.0 291.0L466.5 290.8L467.0 290.8L467.5 290.8L468.0 290.9L468.5 290.8L469.0 290.8L469.5 290.8L470.0 290.8L470.5 290.8L471.0 290.7L471.5 290.6L472.0 290.5L472.5 290.5L473.0 290.5L473.5 290.4L474.0 290.3L474.5 290.2L475.0 290.2L475.5 290.3L476.0 290.3L476.5 290.3L477.0 290.3L477.5 290.4L478.0 290.4L478.5 290.5L479.0 290.6L479.5 290.6L480.0 290.6L480.5 290.6L481.0 290.6L481.5 290.6L482.0 290.7L482.5 290.7L483.0 290.6L483.5 290.6L484.0 290.7L484.5 290.7L485.0 290.8L485.5 290.8L486.0 290.8L486.5 290.7L487.0 290.7L487.5 290.6L488.0 290.6L488.5 290.5L489.0 290.4L489.5 290.3L490.0 290.3L490.5 290.2L491.0 290.2L491.5 290.2L492.0 290.3L492.5 290.4L493.0 290.4L493.5 290.4L494.0 290.4L494.5 290.4L495.0 290.5L495.5 290.6L496.0 290.6L496.5 290.5L497.0 290.4L497.5 290.4L498.0 290.5L498.5 290.5L499.0 290.5L499.5 290.5L500.0 290.5L500.5 290.5L501.0 290.7L501.5 290.8L502.0 290.9L502.5 290.9L503.0 290.9L503.5 290.8L504.0 290.8L504.5 290.7L505.0 290.7L505.5 290.6L506.0 290.5L506.5 290.4L507.0 290.3L507.5 290.3L508.0 290.3L508.5 290.3L509.0 290.4L509.5 290.3L510.0 290.2L510.5 290.2L511.0 290.2L511.5 290.2L512.0 290.3L512.5 290.4L513.0 290.4L513.5 290.4L514.0 290.6L514.5 290.7L515.0 290.7L515.5 290.8L516.0 290.8L516.5 290.8L517.0 290.9L517.5 291.2L518.0 291.4L518.5 291.6L519.0 291.7L519.5 291.7L520.0 291.7L520.5 291.7L521.0 291.6L521.5 291.4L522.0 291.2L522.5 290.9L523.0 290.8L523.5 290.8L524.0 290.8L524.5 290.9L525.0 290.9L525.5 291.0L526.0 291.0L526.5 291.0L527.0 290.9L527.5 290.8L528.0 290.6L528.5 290.5L529.0 290.5L529.5 290.5L530.0 290.4L530.5 290.4L531.0 290.4L531.5 290.5L532.0 290.5L532.5 290.5L533.0 290.5L533.5 290.5L534.0 290.5L534.5 290.6L535.0 290.6L535.5 290.6L536.0 290.8L536.5 290.9L537.0 290.9L537.5 290.9L538.0 290.9L538.5 291.0L539.0 291.1L539.5 291.1L540.0 291.0L540.5 290.8L541.0 290.7L541.5 290.6L542.0 290.5L542.5 290.4L543.0 290.4L543.5 290.3L544.0 290.3L544.5 290.5L545.0 290.6L545.5 290.7L546.0 290.8L546.5 290.9L547.0 290.8L547.5 290.8L548.0 290.7L548.5 290.6L549.0 290.5L549.5 290.3L550.0 290.2L550.5 290.2L551.0 290.2L551.5 290.2L552.0 290.2L552.5 290.1L553.0 290.1L553.5 290.0L554.0 289.8L554.5 289.7L555.0 289.7L555.5 289.5L556.0 289.4L556.5 289.4L557.0 289.3L557.5 289.1L558.0 289.0L558.5 288.9L559.0 288.7L559.5 288.5L560.0 288.3L560.5 288.0L561.0 287.8L561.5 287.6L562.0 287.4L562.5 287.2L563.0 287.1L563.5 287.0L564.0 286.9L564.5 286.7L565.0 286.6L565.5 286.5L566.0 286.4L566.5 286.2L567.0 286.0L567.5 285.9L568.0 286.0L568.5 286.1L569.0 286.1L569.5 286.2L570.0 286.1L570.5 286.0L571.0 286.0L571.5 285.9L572.0 285.7L572.5 285.4L573.0 285.1L573.5 284.9L574.0 284.8L574.5 284.8L575.0 284.8L575.5 284.9L576.0 285.0L576.5 285.1L577.0 285.2L577.5 285.3L578.0 285.3L578.5 285.3L579.0 285.3L579.5 285.4L580.0 285.4L580.5 285.3L581.0 285.3L581.5 285.3L582.0 285.3L582.5 285.2L583.0 285.3L583.5 285.4L584.0 285.5L584.5 285.7L585.0 286.0L585.5 286.4L586.0 286.7L586.5 287.0L587.0 287.2L587.5 287.4L588.0 287.5L588.5 287.6L589.0 287.7L589.5 287.7L590.0 287.6L590.5 287.5L591.0 287.4L591.5 287.4L592.0 287.4L592.5 287.4L593.0 287.4L593.5 287.3L594.0 287.3L594.5 287.4L595.0 287.6L595.5 287.7L596.0 287.9L596.5 288.1L597.0 288.3L597.5 288.5L598.0 288.6L598.5 288.8L599.0 288.9L599.5 288.9L600.0 289.0L600.5 289.2L601.0 289.3L601.5 289.4L602.0 289.7L602.5 290.0L603.0 290.3L603.5 290.4L604.0 290.5L604.5 290.7L605.0 290.9L605.5 291.1L606.0 291.2L606.5 291.1L607.0 291.0L607.5 291.0L608.0 291.0L608.5 291.0L609.0 291.0L609.5 290.8L610.0 290.7L610.5 290.7L611.0 290.6L611.5 290.6L612.0 290.5L612.5 290.4L613.0 290.4L613.5 290.3L614.0 290.3L614.5 290.3L615.0 290.3L615.5 290.4L616.0 290.5L616.5 290.6L617.0 290.7L617.5 290.6L618.0 290.7L618.5 290.7L619.0 290.7L619.5 290.7L620.0 290.6L620.5 290.5L621.0 290.5L621.5 290.5L622.0 290.7L622.5 290.9L623.0 290.9L623.5 290.9L624.0 290.9L624.5 290.9L625.0 290.9L625.5 291.0L626.0 291.0L626.5 290.9L627.0 290.8L627.5 290.8L628.0 290.8L628.5 290.7L629.0 290.7L629.5 290.7L630.0 290.7L630.5 290.7L631.0 290.8L631.5 290.8L632.0 290.7L632.5 290.7L633.0 290.7L633.5 290.8L634.0 290.8L634.5 290.8L635.0 290.7L635.5 290.6L636.0 290.6L636.5 290.6L637.0 290.8L637.5 290.9L638.0 290.9L638.5 290.9L639.0 290.9L639.5 291.0L640.0 291.2L640.5 291.3L641.0 291.3L641.5 291.2L642.0 291.2L642.5 291.2L643.0 291.2L643.5 291.2L644.0 291.1L644.5 291.0L645.0 291.0L645.5 291.0L646.0 291.0L646.5 290.9L647.0 290.9L647.5 290.8L648.0 290.8" fill="none" stroke="#ea7878" stroke-width=".6" stroke-linejoin="round"/>
<path d="M22.5 292.3L23.0 292.0L23.5 292.1L24.0 292.3L24.5 292.1L25.0 292.4L25.5 292.3L26.0 293.1L26.5 293.0L27.0 293.2L27.5 294.8L28.0 295.1L28.5 293.7L29.0 294.0L29.5 293.4L30.0 292.2L30.5 292.0L31.0 292.2L31.5 292.0L32.0 291.9L32.5 292.5L33.0 292.8L33.5 292.5L34.0 292.3L34.5 292.0L35.0 292.0L35.5 293.0L36.0 294.3L36.5 293.7L37.0 292.8L37.5 293.2L38.0 292.9L38.5 292.0L39.0 292.3L39.5 292.2L40.0 292.2L40.5 293.2L41.0 293.5L41.5 292.6L42.0 292.2L42.5 294.6L43.0 296.9L43.5 297.7L44.0 296.0L44.5 293.9L45.0 292.5L45.5 292.2L46.0 292.8L46.5 292.7L47.0 292.5L47.5 292.3L48.0 292.3L48.5 294.0L49.0 295.7L49.5 295.4L50.0 293.4L50.5 294.3L51.0 294.6L51.5 293.1L52.0 294.4L52.5 294.4L53.0 293.0L53.5 292.1L54.0 293.0L54.5 294.5L55.0 295.9L55.5 297.3L56.0 295.5L56.5 293.8L57.0 292.1L57.5 292.3L58.0 292.2L58.5 292.2L59.0 293.5L59.5 294.9L60.0 293.8L60.5 292.7L61.0 292.0L61.5 292.2L62.0 293.0L62.5 295.9L63.0 298.7L63.5 300.0L64.0 298.6L64.5 296.0L65.0 293.1L65.5 293.3L66.0 294.7L66.5 294.7L67.0 293.5L67.5 293.9L68.0 295.2L68.5 294.9L69.0 293.3L69.5 292.3L70.0 292.2L70.5 292.4L71.0 292.4L71.5 292.4L72.0 292.7L72.5 292.7L73.0 292.1L73.5 292.3L74.0 292.9L74.5 293.5L75.0 293.0L75.5 293.0L76.0 293.5L76.5 293.4L77.0 294.7L77.5 294.3L78.0 293.1L78.5 292.1L79.0 292.1L79.5 292.5L80.0 293.2L80.5 292.4L81.0 292.1L81.5 292.0L82.0 293.0L82.5 294.0L83.0 293.5L83.5 292.7L84.0 292.1L84.5 292.2L85.0 292.4L85.5 294.0L86.0 295.7L86.5 294.5L87.0 297.2L87.5 299.7L88.0 299.7L88.5 297.7L89.0 295.1L89.5 294.1L90.0 295.1L90.5 294.0L91.0 292.8L91.5 292.3L92.0 292.2L92.5 292.9L93.0 294.6L93.5 295.6L94.0 294.2L94.5 292.3L95.0 292.3L95.5 292.9L96.0 293.3L96.5 293.0L97.0 294.8L97.5 297.3L98.0 299.5L98.5 300.1L99.0 297.9L99.5 295.3L100.0 293.9L100.5 293.2L101.0 292.1L101.5 292.0L102.0 292.6L102.5 292.8L103.0 292.2L103.5 292.0L104.0 292.4L104.5 293.1L105.0 294.9L105.5 295.8L106.0 294.4L106.5 293.5L107.0 293.7L107.5 294.1L108.0 296.2L108.5 296.4L109.0 294.5L109.5 292.6L110.0 292.8L110.5 292.3L111.0 293.1L111.5 295.0L112.0 296.2L112.5 295.1L113.0 293.2L113.5 292.2L114.0 292.4L114.5 292.3L115.0 292.1L115.5 292.4L116.0 292.4L116.5 292.8L117.0 292.2L117.5 292.1L118.0 292.1L118.5 292.1L119.0 293.5L119.5 295.2L120.0 295.8L120.5 294.4L121.0 292.7L121.5 294.4L122.0 295.5L122.5 294.7L123.0 293.5L123.5 293.2L124.0 292.4L124.5 292.0L125.0 292.0L125.5 292.1L126.0 293.2L126.5 294.1L127.0 293.5L127.5 292.1L128.0 292.2L128.5 292.1L129.0 294.6L129.5 296.5L130.0 296.6L130.5 294.8L131.0 292.8L131.5 292.7L132.0 294.2L132.5 295.3L133.0 294.1L133.5 292.6L134.0 292.2L134.5 292.4L135.0 292.9L135.5 293.6L136.0 294.4L136.5 294.0L137.0 293.0L137.5 294.6L138.0 296.0L138.5 295.0L139.0 293.0L139.5 292.3L140.0 292.4L140.5 292.4L141.0 293.0L141.5 292.7L142.0 292.2L142.5 292.1L143.0 292.4L143.5 292.1L144.0 292.0L144.5 292.7L145.0 293.4L145.5 292.6L146.0 292.3L146.5 292.3L147.0 292.5L147.5 293.0L148.0 295.0L148.5 296.5L149.0 294.8L149.5 293.0L150.0 293.3L150.5 294.5L151.0 294.4L151.5 294.1L152.0 293.4L152.5 294.0L153.0 295.0L153.5 294.0L154.0 294.5L154.5 294.8L155.0 293.6L155.5 292.1L156.0 292.3L156.5 292.0L157.0 292.3L157.5 292.6L158.0 293.7L158.5 293.8L159.0 296.4L159.5 298.2L160.0 298.0L160.5 295.6L161.0 293.2L161.5 293.1L162.0 292.9L162.5 292.0L163.0 292.3L163.5 291.9L164.0 292.4L164.5 294.0L165.0 295.1L165.5 293.4L166.0 292.5L166.5 294.2L167.0 296.0L167.5 295.1L168.0 293.4L168.5 292.3L169.0 292.7L169.5 293.4L170.0 293.1L170.5 291.9L171.0 291.9L171.5 292.0L172.0 292.1L172.5 292.3L173.0 292.5L173.5 293.2L174.0 294.7L174.5 294.3L175.0 292.8L175.5 293.5L176.0 294.6L176.5 293.9L177.0 293.2L177.5 292.3L178.0 292.3L178.5 292.0L179.0 292.3L179.5 292.3L180.0 292.0L180.5 293.0L181.0 293.2L181.5 294.5L182.0 295.8L182.5 295.5L183.0 293.7L183.5 294.9L184.0 295.9L184.5 294.5L185.0 292.3L185.5 292.3L186.0 292.3L186.5 291.9L187.0 292.1L187.5 292.7L188.0 293.6L188.5 293.9L189.0 292.9L189.5 292.9L190.0 292.5L190.5 292.4L191.0 293.2L191.5 293.6L192.0 292.4L192.5 292.4L193.0 292.1L193.5 292.8L194.0 294.7L194.5 296.3L195.0 295.0L195.5 295.3L196.0 295.1L196.5 293.4L197.0 293.0L197.5 292.2L198.0 292.3L198.5 292.0L199.0 291.9L199.5 293.0L200.0 292.7L200.5 292.6L201.0 293.7L201.5 293.8L202.0 292.8L202.5 292.0L203.0 292.0L203.5 292.3L204.0 292.3L204.5 292.9L205.0 294.7L205.5 296.2L206.0 296.3L206.5 294.5L207.0 293.8L207.5 294.6L208.0 293.2L208.5 292.4L209.0 292.3L209.5 292.8L210.0 294.9L210.5 295.6L211.0 294.1L211.5 292.9L212.0 292.4L212.5 293.4L213.0 294.6L213.5 294.7L214.0 293.0L214.5 292.6L215.0 293.0L215.5 292.8L216.0 292.3L216.5 292.1L217.0 292.1L217.5 292.0L218.0 293.8L218.5 295.0L219.0 294.1L219.5 292.3L220.0 292.3L220.5 292.2L221.0 292.2L221.5 292.0L222.0 293.1L222.5 293.8L223.0 293.4L223.5 292.2L224.0 292.8L224.5 292.7L225.0 291.9L225.5 292.4L226.0 292.0L226.5 292.4L227.0 293.2L227.5 292.4L228.0 292.2L228.5 292.2L229.0 292.0L229.5 292.0L230.0 292.9L230.5 293.0L231.0 293.7L231.5 295.2L232.0 296.1L232.5 294.7L233.0 292.4L233.5 292.9L234.0 293.2L234.5 292.7L235.0 293.2L235.5 292.9L236.0 292.0L236.5 292.2L237.0 292.6L237.5 293.3L238.0 293.6L238.5 293.0L239.0 291.9L239.5 292.4L240.0 292.8L240.5 292.7L241.0 292.2L241.5 292.3L242.0 292.9L242.5 294.6L243.0 296.2L243.5 294.7L244.0 293.0L244.5 292.2L245.0 293.4L245.5 295.1L246.0 295.8L246.5 294.7L247.0 296.2L247.5 295.7L248.0 293.9L248.5 292.2L249.0 292.2L249.5 292.0L250.0 292.4L250.5 292.5L251.0 296.2L251.5 299.0L252.0 301.6L252.5 302.7L253.0 300.4L253.5 297.6L254.0 294.7L254.5 293.4L255.0 292.2L255.5 292.1L256.0 292.0L256.5 291.9L257.0 292.1L257.5 292.3L258.0 292.8L258.5 293.0L259.0 292.2L259.5 292.3L260.0 292.3L260.5 292.2L261.0 293.2L261.5 293.8L262.0 293.2L262.5 292.3L263.0 293.5L263.5 294.7L264.0 294.4L264.5 292.7L265.0 292.1L265.5 292.4L266.0 292.2L266.5 292.1L267.0 293.1L267.5 294.7L268.0 298.2L268.5 300.9L269.0 303.4L269.5 303.7L270.0 301.6L270.5 298.8L271.0 295.3L271.5 292.2L272.0 292.4L272.5 292.2L273.0 293.9L273.5 294.3L274.0 293.0L274.5 293.6L275.0 293.8L275.5 292.5L276.0 293.8L276.5 294.2L277.0 295.5L277.5 295.0L278.0 293.2L278.5 294.1L279.0 295.2L279.5 294.1L280.0 292.6L280.5 292.0L281.0 292.2L281.5 292.1L282.0 293.2L282.5 294.1L283.0 293.4L283.5 292.2L284.0 292.4L284.5 292.1L285.0 292.2L285.5 294.0L286.0 297.5L286.5 300.7L287.0 303.5L287.5 305.0L288.0 303.4L288.5 300.6L289.0 297.4L289.5 293.7L290.0 293.8L290.5 292.4L291.0 292.0L291.5 292.1L292.0 292.1L292.5 292.6L293.0 293.4L293.5 293.2L294.0 292.6L294.5 293.2L295.0 292.8L295.5 292.2L296.0 292.4L296.5 292.2L297.0 292.5L297.5 293.0L298.0 293.0L298.5 292.7L299.0 293.3L299.5 293.7L300.0 296.1L300.5 298.3L301.0 298.9L301.5 296.6L302.0 294.1L302.5 293.7L303.0 295.0L303.5 294.2L304.0 292.4L304.5 293.0L305.0 294.2L305.5 294.6L306.0 294.6L306.5 296.1L307.0 295.1L307.5 293.3L308.0 292.2L308.5 292.3L309.0 294.6L309.5 296.2L310.0 295.5L310.5 293.6L311.0 292.2L311.5 292.1L312.0 292.2L312.5 292.1L313.0 292.6L313.5 294.4L314.0 295.2L314.5 294.3L315.0 292.5L315.5 293.1L316.0 292.7L316.5 292.3L317.0 294.0L317.5 294.9L318.0 294.3L318.5 292.8L319.0 293.1L319.5 292.8L320.0 292.2L320.5 292.7L321.0 292.9L321.5 292.4L322.0 291.9L322.5 292.2L323.0 291.9L323.5 292.0L324.0 292.7L324.5 294.8L325.0 296.3L325.5 294.8L326.0 292.9L326.5 292.4L327.0 293.9L327.5 294.9L328.0 294.9L328.5 295.7L329.0 294.4L329.5 293.1L330.0 293.6L330.5 293.4L331.0 292.0L331.5 292.2L332.0 293.5L332.5 294.4L333.0 294.4L333.5 293.2L334.0 292.7L334.5 293.4L335.0 292.7L335.5 292.0L336.0 292.1L336.5 292.3L337.0 292.6L337.5 293.1L338.0 292.5L338.5 292.2L339.0 293.0L339.5 295.0L340.0 295.7L340.5 294.7L341.0 292.7L341.5 292.5L342.0 292.1L342.5 292.0L343.0 292.3L343.5 292.0L344.0 292.0L344.5 292.5L345.0 292.9L345.5 292.5L346.0 292.9L346.5 294.3L347.0 295.6L347.5 294.0L348.0 292.4L348.5 292.3L349.0 292.3L349.5 292.6L350.0 292.9L350.5 293.0L351.0 292.6L351.5 293.3L352.0 292.4L352.5 291.9L353.0 293.6L353.5 295.1L354.0 294.6L354.5 294.9L355.0 293.8L355.5 292.3L356.0 292.1L356.5 292.0L357.0 292.3L357.5 293.9L358.0 294.8L358.5 294.0L359.0 292.4L359.5 292.3L360.0 292.2L360.5 292.1L361.0 292.5L361.5 294.5L362.0 295.8L362.5 295.0L363.0 293.2L363.5 294.4L364.0 294.5L364.5 295.8L365.0 297.7L365.5 297.5L366.0 296.0L366.5 295.0L367.0 293.2L367.5 292.1L368.0 292.2L368.5 292.0L369.0 292.9L369.5 294.0L370.0 295.0L370.5 293.8L371.0 292.5L371.5 292.1L372.0 292.5L372.5 292.9L373.0 292.9L373.5 292.2L374.0 292.0L374.5 292.1L375.0 292.5L375.5 293.5L376.0 293.3L376.5 292.3L377.0 292.4L377.5 294.3L378.0 295.3L378.5 294.2L379.0 292.5L379.5 292.4L380.0 292.7L380.5 293.2L381.0 292.4L381.5 292.3L382.0 292.8L382.5 293.7L383.0 293.1L383.5 291.9L384.0 292.2L384.5 292.3L385.0 292.5L385.5 293.8L386.0 293.6L386.5 292.3L387.0 293.9L387.5 296.1L388.0 296.9L388.5 295.2L389.0 293.1L389.5 292.3L390.0 292.2L390.5 293.0L391.0 293.4L391.5 292.3L392.0 293.2L392.5 294.0L393.0 294.2L393.5 297.2L394.0 299.2L394.5 301.2L395.0 302.6L395.5 303.5L396.0 304.1L396.5 303.6L397.0 302.9L397.5 302.0L398.0 300.3L398.5 297.9L399.0 296.0L399.5 294.7L400.0 292.7L400.5 293.1L401.0 293.3L401.5 292.6L402.0 292.3L402.5 293.3L403.0 294.4L403.5 294.0L404.0 293.5L404.5 292.1L405.0 292.2L405.5 292.2L406.0 292.3L406.5 293.8L407.0 295.6L407.5 294.7L408.0 293.4L408.5 292.3L409.0 291.9L409.5 292.2L410.0 292.5L410.5 292.9L411.0 292.7L411.5 292.4L412.0 292.0L412.5 292.4L413.0 292.5L413.5 293.5L414.0 293.0L414.5 293.2L415.0 293.8L415.5 293.0L416.0 291.9L416.5 292.0L417.0 294.0L417.5 295.2L418.0 294.9L418.5 293.0L419.0 293.0L419.5 294.6L420.0 294.9L420.5 293.7L421.0 292.2L421.5 292.3L422.0 292.5L422.5 293.1L423.0 292.7L423.5 292.0L424.0 292.1L424.5 293.0L425.0 294.6L425.5 296.4L426.0 298.4L426.5 299.8L427.0 300.3L427.5 301.3L428.0 301.6L428.5 301.5L429.0 300.8L429.5 300.0L430.0 298.7L430.5 297.2L431.0 295.6L431.5 295.0L432.0 293.1L432.5 292.2L433.0 292.9L433.5 294.3L434.0 294.7L434.5 293.5L435.0 292.4L435.5 291.9L436.0 292.1L436.5 294.2L437.0 295.8L437.5 295.7L438.0 293.9L438.5 292.0L439.0 292.3L439.5 292.3L440.0 293.1L440.5 293.2L441.0 293.0L441.5 293.6L442.0 293.1L442.5 292.4L443.0 292.2L443.5 292.3L444.0 293.1L444.5 293.6L445.0 293.3L445.5 293.1L446.0 294.4L446.5 294.0L447.0 292.7L447.5 291.9L448.0 292.7L448.5 293.3L449.0 292.6L449.5 292.3L450.0 292.4L450.5 293.2L451.0 293.0L451.5 292.9L452.0 294.0L452.5 294.2L453.0 293.6L453.5 292.2L454.0 292.0L454.5 292.0L455.0 292.4L455.5 291.9L456.0 293.4L456.5 294.2L457.0 293.4L457.5 294.1L458.0 294.3L458.5 293.0L459.0 293.8L459.5 295.7L460.0 296.6L460.5 295.2L461.0 292.8L461.5 292.4L462.0 292.4L462.5 293.8L463.0 295.9L463.5 298.0L464.0 298.1L464.5 296.1L465.0 293.6L465.5 292.2L466.0 292.4L466.5 293.6L467.0 294.8L467.5 293.9L468.0 292.7L468.5 294.7L469.0 295.8L469.5 294.5L470.0 292.9L470.5 292.1L471.0 293.0L471.5 294.2L472.0 294.6L472.5 293.6L473.0 292.3L473.5 293.1L474.0 293.0L474.5 292.4L475.0 292.3L475.5 292.0L476.0 292.1L476.5 292.1L477.0 292.9L477.5 293.1L478.0 292.6L478.5 292.1L479.0 292.3L479.5 292.0L480.0 293.4L480.5 294.0L481.0 293.3L481.5 292.1L482.0 292.1L482.5 291.9L483.0 292.3L483.5 292.3L484.0 292.1L484.5 292.9L485.0 292.8L485.5 292.5L486.0 294.0L486.5 294.9L487.0 293.7L487.5 292.1L488.0 292.2L488.5 291.9L489.0 292.2L489.5 292.7L490.0 293.0L490.5 292.4L491.0 292.9L491.5 293.0L492.0 292.6L492.5 292.2L493.0 292.3L493.5 293.3L494.0 295.2L494.5 295.4L495.0 293.9L495.5 292.2L496.0 292.7L496.5 293.2L497.0 294.2L497.5 293.5L498.0 292.0L498.5 292.3L499.0 292.8L499.5 293.6L500.0 293.1L500.5 292.1L501.0 292.2L501.5 292.3L502.0 292.3L502.5 292.7L503.0 295.2L503.5 296.5L504.0 295.3L504.5 293.1L505.0 292.1L505.5 292.3L506.0 292.3L506.5 292.1L507.0 293.0L507.5 294.3L508.0 294.1L508.5 292.7L509.0 292.1L509.5 292.0L510.0 292.6L510.5 293.1L511.0 292.6L511.5 292.0L512.0 292.0L512.5 292.1L513.0 292.0L513.5 292.2L514.0 293.0L514.5 293.4L515.0 292.6L515.5 292.4L516.0 294.0L516.5 294.7L517.0 294.1L517.5 293.6L518.0 292.1L518.5 294.7L519.0 297.8L519.5 300.3L520.0 301.5L520.5 299.3L521.0 296.9L521.5 293.5L522.0 292.5L522.5 292.3L523.0 292.2L523.5 292.1L524.0 292.0L524.5 293.4L525.0 295.1L525.5 296.2L526.0 294.7L526.5 293.1L527.0 293.3L527.5 292.4L528.0 291.9L528.5 292.1L529.0 292.1L529.5 292.2L530.0 292.8L530.5 294.1L531.0 295.0L531.5 293.9L532.0 292.0L532.5 291.9L533.0 292.0L533.5 292.3L534.0 292.2L534.5 292.4L535.0 293.2L535.5 292.7L536.0 292.2L536.5 292.1L537.0 292.3L537.5 294.3L538.0 295.8L538.5 295.2L539.0 293.3L539.5 292.3L540.0 293.4L540.5 295.6L541.0 296.2L541.5 294.8L542.0 292.6L542.5 292.2L543.0 292.1L543.5 292.2L544.0 292.3L544.5 291.9L545.0 292.7L545.5 292.9L546.0 293.3L546.5 294.8L547.0 295.1L547.5 293.2L548.0 292.2L548.5 291.9L549.0 292.0L549.5 292.8L550.0 293.1L550.5 292.4L551.0 292.1L551.5 292.2L552.0 292.2L552.5 291.9L553.0 292.4L553.5 293.1L554.0 292.7L554.5 292.3L555.0 293.0L555.5 293.2L556.0 292.5L556.5 293.6L557.0 293.1L557.5 292.2L558.0 293.3L558.5 294.2L559.0 293.1L559.5 292.6L560.0 293.6L560.5 293.3L561.0 292.6L561.5 292.1L562.0 292.3L562.5 292.1L563.0 292.2L563.5 291.9L564.0 292.6L564.5 293.1L565.0 294.1L565.5 293.5L566.0 292.6L566.5 292.8L567.0 292.4L567.5 291.9L568.0 292.2L568.5 292.4L569.0 292.6L569.5 295.8L570.0 298.3L570.5 300.1L571.0 299.2L571.5 297.1L572.0 293.8L572.5 293.7L573.0 293.4L573.5 292.2L574.0 292.1L574.5 292.3L575.0 293.4L575.5 294.9L576.0 295.2L576.5 293.2L577.0 293.5L577.5 295.3L578.0 295.6L578.5 293.7L579.0 294.6L579.5 296.0L580.0 294.6L580.5 292.5L581.0 293.1L581.5 293.3L582.0 292.2L582.5 292.3L583.0 292.3L583.5 292.1L584.0 292.1L584.5 292.1L585.0 292.9L585.5 293.3L586.0 293.5L586.5 296.6L587.0 299.3L587.5 301.3L588.0 300.2L588.5 297.6L589.0 295.0L589.5 295.4L590.0 294.0L590.5 295.3L591.0 296.9L591.5 295.7L592.0 294.0L592.5 292.9L593.0 292.5L593.5 292.1L594.0 292.4L594.5 292.3L595.0 292.2L595.5 292.1L596.0 292.4L596.5 293.2L597.0 293.7L597.5 293.0L598.0 292.6L598.5 293.7L599.0 294.1L599.5 293.0L600.0 292.0L600.5 292.2L601.0 292.2L601.5 291.9L602.0 292.1L602.5 292.5L603.0 293.5L603.5 295.5L604.0 297.4L604.5 298.4L605.0 296.7L605.5 294.1L606.0 293.5L606.5 294.1L607.0 296.3L607.5 298.0L608.0 296.3L608.5 294.4L609.0 292.4L609.5 292.6L610.0 292.8L610.5 292.3L611.0 292.4L611.5 292.0L612.0 293.4L612.5 294.2L613.0 293.9L613.5 292.5L614.0 292.3L614.5 292.8L615.0 292.8L615.5 292.3L616.0 293.6L616.5 294.1L617.0 293.2L617.5 295.0L618.0 296.1L618.5 295.1L619.0 293.3L619.5 291.9L620.0 292.3L620.5 293.4L621.0 293.1L621.5 292.3L622.0 292.1L622.5 292.4L623.0 292.3L623.5 293.8L624.0 295.6L624.5 295.8L625.0 294.3L625.5 292.2L626.0 292.2L626.5 292.2L627.0 292.4L627.5 293.3L628.0 293.9L628.5 293.0L629.0 294.1L629.5 294.8L630.0 293.1L630.5 292.5L631.0 292.9L631.5 292.5L632.0 294.4L632.5 295.1L633.0 294.3L633.5 292.9L634.0 292.0L634.5 291.9L635.0 291.9L635.5 293.1L636.0 293.3L636.5 292.7L637.0 292.0L637.5 292.1L638.0 293.6L638.5 295.7L639.0 296.7L639.5 295.7L640.0 294.2L640.5 294.3L641.0 293.6L641.5 296.0L642.0 297.6L642.5 296.7L643.0 294.8L643.5 295.5L644.0 295.6L644.5 294.2L645.0 294.0L645.5 293.9L646.0 293.2L646.5 295.7L647.0 297.6L647.5 297.4L648.0 295.4L648.2 311.2L22.5 311.2Z" fill="#fff" stroke="#646464" stroke-width=".6" stroke-linejoin="round"/>
</g>
<g clip-path="url(#cq2)">
<path d="M22.5 346.8L22.6 346.8L29.3 348.7L37.5 349.9L41.0 346.8L43.4 345.2L55.0 344.7L66.7 344.5L80.7 345.4L83.1 347.3L85.0 348.7L86.8 346.8L88.9 345.9L99.4 345.2L113.5 344.7L127.5 344.0L141.5 344.5L160.2 345.0L169.5 345.9L180.0 345.2L196.4 345.2L202.2 346.8L210.4 344.5L226.7 343.6L240.7 342.9L250.1 341.2L259.4 343.6L268.8 348.2L280.5 350.6L284.0 348.7L287.5 345.2L299.2 341.7L306.2 342.9L310.8 348.7L314.3 353.4L317.9 349.9L320.2 348.2L327.2 345.2L336.5 340.5L340.0 339.3L347.0 340.5L351.7 342.1L356.4 340.7L365.7 339.8L375.0 340.5L386.7 342.1L410.1 342.9L433.5 342.9L442.8 345.9L449.8 344.5L456.8 344.0L470.8 344.5L475.5 345.4L484.9 344.0L496.5 345.4L500.0 346.4L509.3 344.5L523.4 343.6L532.7 344.5L542.1 346.8L546.7 345.2L551.4 343.6L558.4 342.9L570.1 343.6L579.4 345.2L588.8 344.5L602.8 342.9L612.1 342.1L626.2 342.9L637.9 344.0L647.2 346.8L648.6 347.1L648.2 347.1L648.2 365.3L22.5 365.3Z" fill="#bcbcbc"/>
<path d="M22.5 346.8L22.6 346.8L29.3 348.7L37.5 349.9L41.0 346.8L43.4 345.2L55.0 344.7L66.7 344.5L80.7 345.4L83.1 347.3L85.0 348.7L86.8 346.8L88.9 345.9L99.4 345.2L113.5 344.7L127.5 344.0L141.5 344.5L160.2 345.0L169.5 345.9L180.0 345.2L196.4 345.2L202.2 346.8L210.4 344.5L226.7 343.6L240.7 342.9L250.1 341.2L259.4 343.6L268.8 348.2L280.5 350.6L284.0 348.7L287.5 345.2L299.2 341.7L306.2 342.9L310.8 348.7L314.3 353.4L317.9 349.9L320.2 348.2L327.2 345.2L336.5 340.5L340.0 339.3L347.0 340.5L351.7 342.1L356.4 340.7L365.7 339.8L375.0 340.5L386.7 342.1L410.1 342.9L433.5 342.9L442.8 345.9L449.8 344.5L456.8 344.0L470.8 344.5L475.5 345.4L484.9 344.0L496.5 345.4L500.0 346.4L509.3 344.5L523.4 343.6L532.7 344.5L542.1 346.8L546.7 345.2L551.4 343.6L558.4 342.9L570.1 343.6L579.4 345.2L588.8 344.5L602.8 342.9L612.1 342.1L626.2 342.9L637.9 344.0L647.2 346.8L648.6 347.1L648.2 347.1" fill="none" stroke="#ea7878" stroke-width=".6" stroke-linejoin="round"/>
<path d="M22.6 363.9L38.7 363.9L39.9 355.7L41.5 352.2L43.4 352.9L45.2 351.5L46.4 355.7L47.1 363.9L50.4 363.9L51.1 355.7L52.7 351.5L54.6 353.4L56.2 350.6L57.9 355.7L58.8 359.2L59.7 353.4L61.1 352.2L62.5 358.0L63.2 362.2L64.4 355.7L65.8 352.2L67.9 351.5L70.2 353.4L71.9 359.2L72.6 363.9L97.1 363.9L97.6 355.7L99.4 352.2L101.8 350.6L104.1 351.5L105.3 349.2L106.9 351.0L108.8 349.9L111.6 350.6L113.5 349.2L115.8 350.1L118.1 349.6L121.6 350.6L125.1 349.6L127.9 351.5L129.8 355.2L131.7 352.2L133.3 349.9L136.8 349.2L139.2 351.0L141.5 349.6L145.0 351.0L147.3 349.2L149.7 350.6L152.0 349.9L154.3 351.5L156.7 350.1L159.0 351.0L162.5 349.9L166.0 350.6L169.5 349.2L171.9 352.2L173.0 358.0L174.2 362.7L175.4 359.2L177.0 353.4L178.9 350.6L180.0 349.9L182.3 350.6L184.2 355.7L185.8 360.4L188.2 359.9L189.8 353.4L191.7 349.9L194.0 351.0L196.4 349.9L198.7 352.2L200.6 358.0L202.2 360.4L204.5 359.9L206.2 353.4L207.6 351.0L209.2 356.9L210.4 352.2L212.7 349.9L215.0 352.2L216.9 356.9L218.1 352.2L220.2 350.6L222.5 352.2L224.4 356.2L225.8 351.5L227.9 353.4L229.5 359.9L231.4 360.4L232.8 353.4L234.2 350.6L236.1 353.4L237.5 358.5L238.9 353.4L240.7 349.9L242.6 352.2L244.3 355.7L245.9 351.5L248.2 350.6L249.6 354.5L250.8 359.2L252.4 353.4L254.3 349.9L255.9 352.2L257.1 349.2L259.0 348.2L260.1 353.4L260.6 363.9L291.7 363.9L292.1 353.4L293.3 349.2L295.0 351.0L296.8 349.9L298.7 352.2L300.3 354.5L302.0 351.0L303.8 348.7L305.7 347.5L306.9 353.4L307.3 363.9L333.0 363.9L333.5 355.7L334.7 352.2L337.0 352.9L338.9 352.2L339.6 355.7L339.8 363.9L340.2 363.9L344.2 363.9L344.7 353.4L345.8 346.8L348.2 348.2L350.5 346.8L352.9 349.2L355.2 351.0L357.5 348.7L359.9 347.5L362.2 349.9L364.5 352.2L366.9 349.2L369.2 347.5L372.7 348.2L375.0 346.8L377.4 348.7L379.7 347.5L382.1 349.9L385.6 352.2L387.9 350.6L390.2 348.7L392.6 352.2L394.9 358.0L397.2 360.8L399.6 358.0L401.2 352.2L402.6 350.6L404.3 355.7L406.6 359.9L408.2 355.7L409.6 349.9L412.4 348.7L414.8 349.9L417.1 351.0L419.4 349.2L421.8 348.2L424.1 349.9L427.6 351.0L430.0 353.4L432.3 352.2L433.5 354.5L434.6 351.5L435.8 358.0L437.0 363.9L448.6 363.9L449.3 355.7L451.0 351.0L452.6 353.4L454.0 359.2L454.5 363.9L468.5 363.9L469.0 353.4L469.7 351.0L470.1 363.9L476.7 363.9L477.4 353.4L479.0 348.7L481.4 351.0L483.7 349.9L486.0 352.2L488.4 351.0L489.5 358.0L490.7 363.9L493.7 363.9L494.7 353.4L496.1 349.2L499.8 348.7L500.0 348.7L500.5 353.4L500.7 363.9L505.8 363.9L506.5 355.7L508.2 351.5L509.8 353.4L511.7 359.2L513.1 353.4L514.5 350.6L516.4 354.5L517.8 359.2L519.2 353.4L521.0 351.5L522.4 355.7L523.4 359.2L524.8 353.4L526.9 351.0L529.2 349.9L531.5 351.5L533.2 355.7L535.0 359.2L536.4 353.4L537.9 349.9L539.7 353.4L541.1 358.0L542.5 360.4L544.4 356.9L545.8 353.4L546.7 363.9L550.2 363.9L550.9 353.4L552.6 348.2L554.9 347.5L557.2 349.2L559.6 348.2L561.9 349.9L563.1 352.2L565.0 349.9L566.6 351.0L567.8 363.9L575.9 363.9L576.6 353.4L578.3 348.7L579.9 351.0L581.3 354.5L582.9 351.5L584.6 348.7L586.4 352.2L587.6 355.7L588.8 351.5L591.1 348.2L593.5 349.9L595.8 351.5L598.1 350.6L600.5 352.2L602.8 353.4L605.1 352.2L607.5 351.0L609.8 349.9L612.1 353.4L614.0 358.5L615.4 354.5L616.8 350.6L619.2 348.7L621.5 349.9L622.7 363.9L629.7 363.9L630.4 353.4L632.0 349.2L634.3 351.0L636.7 349.9L639.0 351.5L639.7 355.7L640.2 363.9L648.6 363.9L648.2 366.3L22.5 366.3Z" fill="#fff" stroke="#646464" stroke-width=".6" stroke-linejoin="round"/>
</g>
<path d="M22.5 225.2v-2.2M22.5 253.1v2.2M28.8 225.2v-1.1M28.8 253.1v1.1M35 225.2v-1.1M35 253.1v1.1M41.3 225.2v-1.1M41.3 253.1v1.1M47.5 225.2v-1.1M47.5 253.1v1.1M53.8 225.2v-2.2M53.8 253.1v2.2M60 225.2v-1.1M60 253.1v1.1M66.3 225.2v-1.1M66.3 253.1v1.1M72.6 225.2v-1.1M72.6 253.1v1.1M78.8 225.2v-1.1M78.8 253.1v1.1M85.1 225.2v-2.2M85.1 253.1v2.2M91.3 225.2v-1.1M91.3 253.1v1.1M97.6 225.2v-1.1M97.6 253.1v1.1M103.8 225.2v-1.1M103.8 253.1v1.1M110.1 225.2v-1.1M110.1 253.1v1.1M116.4 225.2v-2.2M116.4 253.1v2.2M122.6 225.2v-1.1M122.6 253.1v1.1M128.9 225.2v-1.1M128.9 253.1v1.1M135.1 225.2v-1.1M135.1 253.1v1.1M141.4 225.2v-1.1M141.4 253.1v1.1M147.6 225.2v-2.2M147.6 253.1v2.2M153.9 225.2v-1.1M153.9 253.1v1.1M160.2 225.2v-1.1M160.2 253.1v1.1M166.4 225.2v-1.1M166.4 253.1v1.1M172.7 225.2v-1.1M172.7 253.1v1.1M178.9 225.2v-2.2M178.9 253.1v2.2M185.2 225.2v-1.1M185.2 253.1v1.1M191.4 225.2v-1.1M191.4 253.1v1.1M197.7 225.2v-1.1M197.7 253.1v1.1M204 225.2v-1.1M204 253.1v1.1M210.2 225.2v-2.2M210.2 253.1v2.2M216.5 225.2v-1.1M216.5 253.1v1.1M222.7 225.2v-1.1M222.7 253.1v1.1M229 225.2v-1.1M229 253.1v1.1M235.2 225.2v-1.1M235.2 253.1v1.1M241.5 225.2v-2.2M241.5 253.1v2.2M247.8 225.2v-1.1M247.8 253.1v1.1M254 225.2v-1.1M254 253.1v1.1M260.3 225.2v-1.1M260.3 253.1v1.1M266.5 225.2v-1.1M266.5 253.1v1.1M272.8 225.2v-2.2M272.8 253.1v2.2M279 225.2v-1.1M279 253.1v1.1M285.3 225.2v-1.1M285.3 253.1v1.1M291.6 225.2v-1.1M291.6 253.1v1.1M297.8 225.2v-1.1M297.8 253.1v1.1M304.1 225.2v-2.2M304.1 253.1v2.2M310.3 225.2v-1.1M310.3 253.1v1.1M316.6 225.2v-1.1M316.6 253.1v1.1M322.8 225.2v-1.1M322.8 253.1v1.1M329.1 225.2v-1.1M329.1 253.1v1.1M335.4 225.2v-2.2M335.4 253.1v2.2M341.6 225.2v-1.1M341.6 253.1v1.1M347.9 225.2v-1.1M347.9 253.1v1.1M354.1 225.2v-1.1M354.1 253.1v1.1M360.4 225.2v-1.1M360.4 253.1v1.1M366.6 225.2v-2.2M366.6 253.1v2.2M372.9 225.2v-1.1M372.9 253.1v1.1M379.1 225.2v-1.1M379.1 253.1v1.1M385.4 225.2v-1.1M385.4 253.1v1.1M391.7 225.2v-1.1M391.7 253.1v1.1M397.9 225.2v-2.2M397.9 253.1v2.2M404.2 225.2v-1.1M404.2 253.1v1.1M410.4 225.2v-1.1M410.4 253.1v1.1M416.7 225.2v-1.1M416.7 253.1v1.1M422.9 225.2v-1.1M422.9 253.1v1.1M429.2 225.2v-2.2M429.2 253.1v2.2M435.5 225.2v-1.1M435.5 253.1v1.1M441.7 225.2v-1.1M441.7 253.1v1.1M448 225.2v-1.1M448 253.1v1.1M454.2 225.2v-1.1M454.2 253.1v1.1M460.5 225.2v-2.2M460.5 253.1v2.2M466.7 225.2v-1.1M466.7 253.1v1.1M473 225.2v-1.1M473 253.1v1.1M479.3 225.2v-1.1M479.3 253.1v1.1M485.5 225.2v-1.1M485.5 253.1v1.1M491.8 225.2v-2.2M491.8 253.1v2.2M498 225.2v-1.1M498 253.1v1.1M504.3 225.2v-1.1M504.3 253.1v1.1M510.5 225.2v-1.1M510.5 253.1v1.1M516.8 225.2v-1.1M516.8 253.1v1.1M523.1 225.2v-2.2M523.1 253.1v2.2M529.3 225.2v-1.1M529.3 253.1v1.1M535.6 225.2v-1.1M535.6 253.1v1.1M541.8 225.2v-1.1M541.8 253.1v1.1M548.1 225.2v-1.1M548.1 253.1v1.1M554.3 225.2v-2.2M554.3 253.1v2.2M560.6 225.2v-1.1M560.6 253.1v1.1M566.9 225.2v-1.1M566.9 253.1v1.1M573.1 225.2v-1.1M573.1 253.1v1.1M579.4 225.2v-1.1M579.4 253.1v1.1M585.6 225.2v-2.2M585.6 253.1v2.2M591.9 225.2v-1.1M591.9 253.1v1.1M598.1 225.2v-1.1M598.1 253.1v1.1M604.4 225.2v-1.1M604.4 253.1v1.1M610.7 225.2v-1.1M610.7 253.1v1.1M616.9 225.2v-2.2M616.9 253.1v2.2M623.2 225.2v-1.1M623.2 253.1v1.1M629.4 225.2v-1.1M629.4 253.1v1.1M635.7 225.2v-1.1M635.7 253.1v1.1M641.9 225.2v-1.1M641.9 253.1v1.1M648.2 225.2v-2.2M648.2 253.1v2.2M22.5 253.1h-1.1M648.2 253.1h1.1M22.5 247.6h-2.2M648.2 247.6h2.2M22.5 242h-1.1M648.2 242h1.1M22.5 236.4h-2.2M648.2 236.4h2.2M22.5 230.8h-1.1M648.2 230.8h1.1M22.5 225.2h-2.2M648.2 225.2h2.2" stroke="#1a1a1a" stroke-width=".5" fill="none"/>
<rect x="22.5" y="225.2" width="625.7" height="27.9" fill="none" stroke="#222" stroke-width=".9"/>
<g font-size="5.3" fill="#111" stroke="#111" stroke-width=".12">
<text x="22.5" y="260.8" text-anchor="middle">−0.60</text>
<text x="53.8" y="260.8" text-anchor="middle">−0.55</text>
<text x="85.1" y="260.8" text-anchor="middle">−0.50</text>
<text x="116.4" y="260.8" text-anchor="middle">−0.45</text>
<text x="147.6" y="260.8" text-anchor="middle">−0.40</text>
<text x="178.9" y="260.8" text-anchor="middle">−0.35</text>
<text x="210.2" y="260.8" text-anchor="middle">−0.30</text>
<text x="241.5" y="260.8" text-anchor="middle">−0.25</text>
<text x="272.8" y="260.8" text-anchor="middle">−0.20</text>
<text x="304.1" y="260.8" text-anchor="middle">−0.15</text>
<text x="335.4" y="260.8" text-anchor="middle">−0.10</text>
<text x="366.6" y="260.8" text-anchor="middle">−0.05</text>
<text x="397.9" y="260.8" text-anchor="middle">0.00</text>
<text x="429.2" y="260.8" text-anchor="middle">0.05</text>
<text x="460.5" y="260.8" text-anchor="middle">0.10</text>
<text x="491.8" y="260.8" text-anchor="middle">0.15</text>
<text x="523.1" y="260.8" text-anchor="middle">0.20</text>
<text x="554.3" y="260.8" text-anchor="middle">0.25</text>
<text x="585.6" y="260.8" text-anchor="middle">0.30</text>
<text x="616.9" y="260.8" text-anchor="middle">0.35</text>
<text x="648.2" y="260.8" text-anchor="middle">0.40</text>
<text x="19.4" y="238.3" text-anchor="end">0</text><text x="19.4" y="249.5" text-anchor="end">−2</text>
</g>
<text x="335.5" y="269.4" font-size="7.1" text-anchor="middle" fill="#111">X (km)</text>
<text transform="translate(9.4 239.1) rotate(-90)" font-size="7.2" text-anchor="middle" fill="#111">Elevation (m)</text>
<text x="24.8" y="231.9" font-size="6.9" fill="#111">(d)</text>
<path d="M22.5 280.3v-2.2M22.5 308.2v2.2M28.8 280.3v-1.1M28.8 308.2v1.1M35 280.3v-1.1M35 308.2v1.1M41.3 280.3v-1.1M41.3 308.2v1.1M47.5 280.3v-1.1M47.5 308.2v1.1M53.8 280.3v-2.2M53.8 308.2v2.2M60 280.3v-1.1M60 308.2v1.1M66.3 280.3v-1.1M66.3 308.2v1.1M72.6 280.3v-1.1M72.6 308.2v1.1M78.8 280.3v-1.1M78.8 308.2v1.1M85.1 280.3v-2.2M85.1 308.2v2.2M91.3 280.3v-1.1M91.3 308.2v1.1M97.6 280.3v-1.1M97.6 308.2v1.1M103.8 280.3v-1.1M103.8 308.2v1.1M110.1 280.3v-1.1M110.1 308.2v1.1M116.4 280.3v-2.2M116.4 308.2v2.2M122.6 280.3v-1.1M122.6 308.2v1.1M128.9 280.3v-1.1M128.9 308.2v1.1M135.1 280.3v-1.1M135.1 308.2v1.1M141.4 280.3v-1.1M141.4 308.2v1.1M147.6 280.3v-2.2M147.6 308.2v2.2M153.9 280.3v-1.1M153.9 308.2v1.1M160.2 280.3v-1.1M160.2 308.2v1.1M166.4 280.3v-1.1M166.4 308.2v1.1M172.7 280.3v-1.1M172.7 308.2v1.1M178.9 280.3v-2.2M178.9 308.2v2.2M185.2 280.3v-1.1M185.2 308.2v1.1M191.4 280.3v-1.1M191.4 308.2v1.1M197.7 280.3v-1.1M197.7 308.2v1.1M204 280.3v-1.1M204 308.2v1.1M210.2 280.3v-2.2M210.2 308.2v2.2M216.5 280.3v-1.1M216.5 308.2v1.1M222.7 280.3v-1.1M222.7 308.2v1.1M229 280.3v-1.1M229 308.2v1.1M235.2 280.3v-1.1M235.2 308.2v1.1M241.5 280.3v-2.2M241.5 308.2v2.2M247.8 280.3v-1.1M247.8 308.2v1.1M254 280.3v-1.1M254 308.2v1.1M260.3 280.3v-1.1M260.3 308.2v1.1M266.5 280.3v-1.1M266.5 308.2v1.1M272.8 280.3v-2.2M272.8 308.2v2.2M279 280.3v-1.1M279 308.2v1.1M285.3 280.3v-1.1M285.3 308.2v1.1M291.6 280.3v-1.1M291.6 308.2v1.1M297.8 280.3v-1.1M297.8 308.2v1.1M304.1 280.3v-2.2M304.1 308.2v2.2M310.3 280.3v-1.1M310.3 308.2v1.1M316.6 280.3v-1.1M316.6 308.2v1.1M322.8 280.3v-1.1M322.8 308.2v1.1M329.1 280.3v-1.1M329.1 308.2v1.1M335.4 280.3v-2.2M335.4 308.2v2.2M341.6 280.3v-1.1M341.6 308.2v1.1M347.9 280.3v-1.1M347.9 308.2v1.1M354.1 280.3v-1.1M354.1 308.2v1.1M360.4 280.3v-1.1M360.4 308.2v1.1M366.6 280.3v-2.2M366.6 308.2v2.2M372.9 280.3v-1.1M372.9 308.2v1.1M379.1 280.3v-1.1M379.1 308.2v1.1M385.4 280.3v-1.1M385.4 308.2v1.1M391.7 280.3v-1.1M391.7 308.2v1.1M397.9 280.3v-2.2M397.9 308.2v2.2M404.2 280.3v-1.1M404.2 308.2v1.1M410.4 280.3v-1.1M410.4 308.2v1.1M416.7 280.3v-1.1M416.7 308.2v1.1M422.9 280.3v-1.1M422.9 308.2v1.1M429.2 280.3v-2.2M429.2 308.2v2.2M435.5 280.3v-1.1M435.5 308.2v1.1M441.7 280.3v-1.1M441.7 308.2v1.1M448 280.3v-1.1M448 308.2v1.1M454.2 280.3v-1.1M454.2 308.2v1.1M460.5 280.3v-2.2M460.5 308.2v2.2M466.7 280.3v-1.1M466.7 308.2v1.1M473 280.3v-1.1M473 308.2v1.1M479.3 280.3v-1.1M479.3 308.2v1.1M485.5 280.3v-1.1M485.5 308.2v1.1M491.8 280.3v-2.2M491.8 308.2v2.2M498 280.3v-1.1M498 308.2v1.1M504.3 280.3v-1.1M504.3 308.2v1.1M510.5 280.3v-1.1M510.5 308.2v1.1M516.8 280.3v-1.1M516.8 308.2v1.1M523.1 280.3v-2.2M523.1 308.2v2.2M529.3 280.3v-1.1M529.3 308.2v1.1M535.6 280.3v-1.1M535.6 308.2v1.1M541.8 280.3v-1.1M541.8 308.2v1.1M548.1 280.3v-1.1M548.1 308.2v1.1M554.3 280.3v-2.2M554.3 308.2v2.2M560.6 280.3v-1.1M560.6 308.2v1.1M566.9 280.3v-1.1M566.9 308.2v1.1M573.1 280.3v-1.1M573.1 308.2v1.1M579.4 280.3v-1.1M579.4 308.2v1.1M585.6 280.3v-2.2M585.6 308.2v2.2M591.9 280.3v-1.1M591.9 308.2v1.1M598.1 280.3v-1.1M598.1 308.2v1.1M604.4 280.3v-1.1M604.4 308.2v1.1M610.7 280.3v-1.1M610.7 308.2v1.1M616.9 280.3v-2.2M616.9 308.2v2.2M623.2 280.3v-1.1M623.2 308.2v1.1M629.4 280.3v-1.1M629.4 308.2v1.1M635.7 280.3v-1.1M635.7 308.2v1.1M641.9 280.3v-1.1M641.9 308.2v1.1M648.2 280.3v-2.2M648.2 308.2v2.2M22.5 308.3h-1.1M648.2 308.3h1.1M22.5 302.8h-2.2M648.2 302.8h2.2M22.5 297.2h-1.1M648.2 297.2h1.1M22.5 291.6h-2.2M648.2 291.6h2.2M22.5 286h-1.1M648.2 286h1.1M22.5 280.4h-2.2M648.2 280.4h2.2" stroke="#1a1a1a" stroke-width=".5" fill="none"/>
<rect x="22.5" y="280.3" width="625.7" height="27.9" fill="none" stroke="#222" stroke-width=".9"/>
<g font-size="5.3" fill="#111" stroke="#111" stroke-width=".12">
<text x="22.5" y="315.9" text-anchor="middle">−0.60</text>
<text x="53.8" y="315.9" text-anchor="middle">−0.55</text>
<text x="85.1" y="315.9" text-anchor="middle">−0.50</text>
<text x="116.4" y="315.9" text-anchor="middle">−0.45</text>
<text x="147.6" y="315.9" text-anchor="middle">−0.40</text>
<text x="178.9" y="315.9" text-anchor="middle">−0.35</text>
<text x="210.2" y="315.9" text-anchor="middle">−0.30</text>
<text x="241.5" y="315.9" text-anchor="middle">−0.25</text>
<text x="272.8" y="315.9" text-anchor="middle">−0.20</text>
<text x="304.1" y="315.9" text-anchor="middle">−0.15</text>
<text x="335.4" y="315.9" text-anchor="middle">−0.10</text>
<text x="366.6" y="315.9" text-anchor="middle">−0.05</text>
<text x="397.9" y="315.9" text-anchor="middle">0.00</text>
<text x="429.2" y="315.9" text-anchor="middle">0.05</text>
<text x="460.5" y="315.9" text-anchor="middle">0.10</text>
<text x="491.8" y="315.9" text-anchor="middle">0.15</text>
<text x="523.1" y="315.9" text-anchor="middle">0.20</text>
<text x="554.3" y="315.9" text-anchor="middle">0.25</text>
<text x="585.6" y="315.9" text-anchor="middle">0.30</text>
<text x="616.9" y="315.9" text-anchor="middle">0.35</text>
<text x="648.2" y="315.9" text-anchor="middle">0.40</text>
<text x="19.4" y="293.5" text-anchor="end">0</text><text x="19.4" y="304.7" text-anchor="end">−2</text>
</g>
<text x="335.5" y="324.5" font-size="7.1" text-anchor="middle" fill="#111">X (km)</text>
<text transform="translate(9.4 294.2) rotate(-90)" font-size="7.2" text-anchor="middle" fill="#111">Elevation (m)</text>
<text x="24.8" y="287" font-size="6.9" fill="#111">(e)</text>
<path d="M22.5 335.4v-2.2M22.5 363.3v2.2M28.8 335.4v-1.1M28.8 363.3v1.1M35 335.4v-1.1M35 363.3v1.1M41.3 335.4v-1.1M41.3 363.3v1.1M47.5 335.4v-1.1M47.5 363.3v1.1M53.8 335.4v-2.2M53.8 363.3v2.2M60 335.4v-1.1M60 363.3v1.1M66.3 335.4v-1.1M66.3 363.3v1.1M72.6 335.4v-1.1M72.6 363.3v1.1M78.8 335.4v-1.1M78.8 363.3v1.1M85.1 335.4v-2.2M85.1 363.3v2.2M91.3 335.4v-1.1M91.3 363.3v1.1M97.6 335.4v-1.1M97.6 363.3v1.1M103.8 335.4v-1.1M103.8 363.3v1.1M110.1 335.4v-1.1M110.1 363.3v1.1M116.4 335.4v-2.2M116.4 363.3v2.2M122.6 335.4v-1.1M122.6 363.3v1.1M128.9 335.4v-1.1M128.9 363.3v1.1M135.1 335.4v-1.1M135.1 363.3v1.1M141.4 335.4v-1.1M141.4 363.3v1.1M147.6 335.4v-2.2M147.6 363.3v2.2M153.9 335.4v-1.1M153.9 363.3v1.1M160.2 335.4v-1.1M160.2 363.3v1.1M166.4 335.4v-1.1M166.4 363.3v1.1M172.7 335.4v-1.1M172.7 363.3v1.1M178.9 335.4v-2.2M178.9 363.3v2.2M185.2 335.4v-1.1M185.2 363.3v1.1M191.4 335.4v-1.1M191.4 363.3v1.1M197.7 335.4v-1.1M197.7 363.3v1.1M204 335.4v-1.1M204 363.3v1.1M210.2 335.4v-2.2M210.2 363.3v2.2M216.5 335.4v-1.1M216.5 363.3v1.1M222.7 335.4v-1.1M222.7 363.3v1.1M229 335.4v-1.1M229 363.3v1.1M235.2 335.4v-1.1M235.2 363.3v1.1M241.5 335.4v-2.2M241.5 363.3v2.2M247.8 335.4v-1.1M247.8 363.3v1.1M254 335.4v-1.1M254 363.3v1.1M260.3 335.4v-1.1M260.3 363.3v1.1M266.5 335.4v-1.1M266.5 363.3v1.1M272.8 335.4v-2.2M272.8 363.3v2.2M279 335.4v-1.1M279 363.3v1.1M285.3 335.4v-1.1M285.3 363.3v1.1M291.6 335.4v-1.1M291.6 363.3v1.1M297.8 335.4v-1.1M297.8 363.3v1.1M304.1 335.4v-2.2M304.1 363.3v2.2M310.3 335.4v-1.1M310.3 363.3v1.1M316.6 335.4v-1.1M316.6 363.3v1.1M322.8 335.4v-1.1M322.8 363.3v1.1M329.1 335.4v-1.1M329.1 363.3v1.1M335.4 335.4v-2.2M335.4 363.3v2.2M341.6 335.4v-1.1M341.6 363.3v1.1M347.9 335.4v-1.1M347.9 363.3v1.1M354.1 335.4v-1.1M354.1 363.3v1.1M360.4 335.4v-1.1M360.4 363.3v1.1M366.6 335.4v-2.2M366.6 363.3v2.2M372.9 335.4v-1.1M372.9 363.3v1.1M379.1 335.4v-1.1M379.1 363.3v1.1M385.4 335.4v-1.1M385.4 363.3v1.1M391.7 335.4v-1.1M391.7 363.3v1.1M397.9 335.4v-2.2M397.9 363.3v2.2M404.2 335.4v-1.1M404.2 363.3v1.1M410.4 335.4v-1.1M410.4 363.3v1.1M416.7 335.4v-1.1M416.7 363.3v1.1M422.9 335.4v-1.1M422.9 363.3v1.1M429.2 335.4v-2.2M429.2 363.3v2.2M435.5 335.4v-1.1M435.5 363.3v1.1M441.7 335.4v-1.1M441.7 363.3v1.1M448 335.4v-1.1M448 363.3v1.1M454.2 335.4v-1.1M454.2 363.3v1.1M460.5 335.4v-2.2M460.5 363.3v2.2M466.7 335.4v-1.1M466.7 363.3v1.1M473 335.4v-1.1M473 363.3v1.1M479.3 335.4v-1.1M479.3 363.3v1.1M485.5 335.4v-1.1M485.5 363.3v1.1M491.8 335.4v-2.2M491.8 363.3v2.2M498 335.4v-1.1M498 363.3v1.1M504.3 335.4v-1.1M504.3 363.3v1.1M510.5 335.4v-1.1M510.5 363.3v1.1M516.8 335.4v-1.1M516.8 363.3v1.1M523.1 335.4v-2.2M523.1 363.3v2.2M529.3 335.4v-1.1M529.3 363.3v1.1M535.6 335.4v-1.1M535.6 363.3v1.1M541.8 335.4v-1.1M541.8 363.3v1.1M548.1 335.4v-1.1M548.1 363.3v1.1M554.3 335.4v-2.2M554.3 363.3v2.2M560.6 335.4v-1.1M560.6 363.3v1.1M566.9 335.4v-1.1M566.9 363.3v1.1M573.1 335.4v-1.1M573.1 363.3v1.1M579.4 335.4v-1.1M579.4 363.3v1.1M585.6 335.4v-2.2M585.6 363.3v2.2M591.9 335.4v-1.1M591.9 363.3v1.1M598.1 335.4v-1.1M598.1 363.3v1.1M604.4 335.4v-1.1M604.4 363.3v1.1M610.7 335.4v-1.1M610.7 363.3v1.1M616.9 335.4v-2.2M616.9 363.3v2.2M623.2 335.4v-1.1M623.2 363.3v1.1M629.4 335.4v-1.1M629.4 363.3v1.1M635.7 335.4v-1.1M635.7 363.3v1.1M641.9 335.4v-1.1M641.9 363.3v1.1M648.2 335.4v-2.2M648.2 363.3v2.2M22.5 363.4h-1.1M648.2 363.4h1.1M22.5 357.9h-2.2M648.2 357.9h2.2M22.5 352.3h-1.1M648.2 352.3h1.1M22.5 346.7h-2.2M648.2 346.7h2.2M22.5 341.1h-1.1M648.2 341.1h1.1M22.5 335.5h-2.2M648.2 335.5h2.2" stroke="#1a1a1a" stroke-width=".5" fill="none"/>
<rect x="22.5" y="335.4" width="625.7" height="27.9" fill="none" stroke="#222" stroke-width=".9"/>
<g font-size="5.3" fill="#111" stroke="#111" stroke-width=".12">
<text x="22.5" y="371" text-anchor="middle">−0.60</text>
<text x="53.8" y="371" text-anchor="middle">−0.55</text>
<text x="85.1" y="371" text-anchor="middle">−0.50</text>
<text x="116.4" y="371" text-anchor="middle">−0.45</text>
<text x="147.6" y="371" text-anchor="middle">−0.40</text>
<text x="178.9" y="371" text-anchor="middle">−0.35</text>
<text x="210.2" y="371" text-anchor="middle">−0.30</text>
<text x="241.5" y="371" text-anchor="middle">−0.25</text>
<text x="272.8" y="371" text-anchor="middle">−0.20</text>
<text x="304.1" y="371" text-anchor="middle">−0.15</text>
<text x="335.4" y="371" text-anchor="middle">−0.10</text>
<text x="366.6" y="371" text-anchor="middle">−0.05</text>
<text x="397.9" y="371" text-anchor="middle">0.00</text>
<text x="429.2" y="371" text-anchor="middle">0.05</text>
<text x="460.5" y="371" text-anchor="middle">0.10</text>
<text x="491.8" y="371" text-anchor="middle">0.15</text>
<text x="523.1" y="371" text-anchor="middle">0.20</text>
<text x="554.3" y="371" text-anchor="middle">0.25</text>
<text x="585.6" y="371" text-anchor="middle">0.30</text>
<text x="616.9" y="371" text-anchor="middle">0.35</text>
<text x="648.2" y="371" text-anchor="middle">0.40</text>
<text x="19.4" y="348.6" text-anchor="end">0</text><text x="19.4" y="359.8" text-anchor="end">−2</text>
</g>
<text x="335.5" y="379.6" font-size="7.1" text-anchor="middle" fill="#111">X (km)</text>
<text transform="translate(9.4 349.4) rotate(-90)" font-size="7.2" text-anchor="middle" fill="#111">Elevation (m)</text>
<text x="24.8" y="342.1" font-size="6.9" fill="#111">(f)</text>
<path d="M260.2 222.7L264.7 230.5L261.7 230.7L269.3 235.3L268.9 226.4L267.2 229.0L262.6 221.3Z" fill="#cc1218"/>
<path d="M260.2 277.8L264.7 285.6L261.7 285.8L269.3 290.4L268.9 281.5L267.2 284.1L262.6 276.4Z" fill="#cc1218"/>
<g font-size="8.1" fill="#cc1218"><text x="202.9" y="288.6">Regolith infilling</text><text x="492.3" y="288.4">Ejecta deposition</text></g>
</svg>
</body></html>
